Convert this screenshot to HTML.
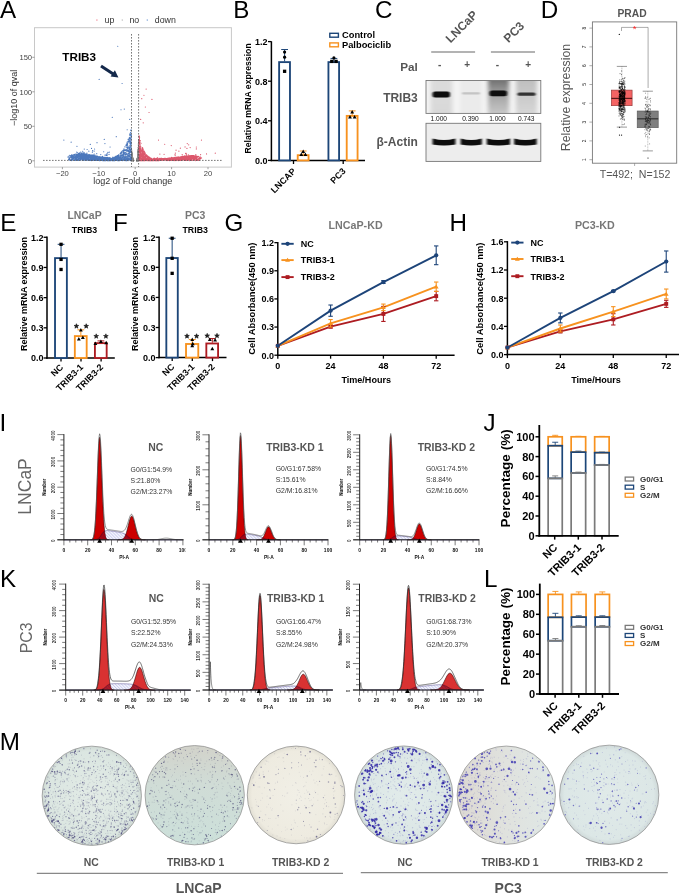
<!DOCTYPE html>
<html><head><meta charset="utf-8"><style>
html,body{margin:0;padding:0;background:#fff;}
body{width:685px;height:893px;overflow:hidden;}
svg{display:block;font-family:"Liberation Sans",sans-serif;will-change:transform;}
</style></head><body>
<svg width="685" height="893" viewBox="0 0 685 893">
<rect width="685" height="893" fill="#fff"/>
<text x="0" y="17.5" font-size="24.2" fill="#000" text-anchor="start">A</text>
<text x="233.2" y="18.4" font-size="24.2" fill="#000" text-anchor="start">B</text>
<text x="375" y="18.2" font-size="24.2" fill="#000" text-anchor="start">C</text>
<text x="540.8" y="18.2" font-size="24.2" fill="#000" text-anchor="start">D</text>
<text x="0.2" y="231.2" font-size="24.2" fill="#000" text-anchor="start">E</text>
<text x="112.9" y="230.8" font-size="24.2" fill="#000" text-anchor="start">F</text>
<text x="224.6" y="230.9" font-size="24.2" fill="#000" text-anchor="start">G</text>
<text x="449.5" y="231.2" font-size="24.2" fill="#000" text-anchor="start">H</text>
<text x="-0.6" y="431.4" font-size="24.2" fill="#000" text-anchor="start">I</text>
<text x="483.5" y="431.4" font-size="24.2" fill="#000" text-anchor="start">J</text>
<text x="-0.1" y="586.8" font-size="24.2" fill="#000" text-anchor="start">K</text>
<text x="484" y="587" font-size="24.2" fill="#000" text-anchor="start">L</text>
<text x="-0.3" y="749.7" font-size="24.2" fill="#000" text-anchor="start">M</text>
<rect x="34.5" y="27.7" width="196.9" height="139.4" fill="#fff" stroke="#c8c8c8" stroke-width="1"/>
<path d="M136.86 160.65h0.01M137.35 159.22h0.01M138 149.49h0.01M137.7 156.99h0.01M132.69 157.43h0.01M133.11 160.44h0.01M138.28 152.1h0.01M138.78 139.71h0.01M138.35 156.75h0.01M137.36 160.28h0.01M132.02 156.03h0.01M133.09 159.71h0.01M132.74 160.39h0.01M137.54 159.77h0.01M138.56 139.4h0.01M136.99 160.31h0.01M133.03 159.75h0.01M132.95 159.18h0.01M138.4 142.43h0.01M137.97 150.02h0.01M138.15 158.96h0.01M132.54 160.3h0.01M133.03 160.65h0.01M138.02 152.6h0.01M132.52 160.04h0.01M133.29 160.49h0.01M133.43 160.6h0.01M138.56 153.72h0.01M137.19 159.1h0.01M138.38 160.26h0.01M132.86 159.49h0.01M132.99 160.39h0.01M138 159.71h0.01M138.47 145.44h0.01M137.97 156.49h0.01M131.84 154.47h0.01M132.69 159.68h0.01M131.89 153.98h0.01M131.87 152.54h0.01M132.02 159.9h0.01M137.28 160.63h0.01M137.43 157.14h0.01M132.43 160.42h0.01M133.3 160.55h0.01M137.17 158.98h0.01M132.41 156.36h0.01M132.05 160.61h0.01M137.74 159.56h0.01M132.83 160.38h0.01M137.09 160.25h0.01M132.7 159.95h0.01M132.98 159.75h0.01M132.05 155.33h0.01M138.14 153.48h0.01M132.49 158.27h0.01M132.77 159.27h0.01M131.8 157.39h0.01M132.65 158.74h0.01M137.07 160.1h0.01M138.61 141.42h0.01M137.66 155.02h0.01M137.97 159.58h0.01M137.41 157.52h0.01M137.8 152.08h0.01M131.6 156.68h0.01M137.29 160.21h0.01M133.01 160.45h0.01M137.71 160.07h0.01M137.29 160.23h0.01M138.73 158.54h0.01M137.49 158.04h0.01M138.44 160.3h0.01M138.14 156.34h0.01M133.33 160.56h0.01M137.7 159.13h0.01M138.33 156.95h0.01M132.96 159.4h0.01M131.8 155.42h0.01M132.66 158.5h0.01M131.65 151.73h0.01M138.67 157.24h0.01M133.23 160.48h0.01M138.66 139.64h0.01M132.76 157.66h0.01M137.01 160.48h0.01M137.03 160.51h0.01M137 160.57h0.01M133.1 160h0.01M137.97 156.52h0.01M132.11 154.21h0.01M133.35 160.35h0.01M138.24 160.66h0.01M133.22 159.82h0.01M138.28 145.18h0.01M132.3 155.15h0.01M137.48 159.67h0.01M131.93 159.04h0.01M132.7 159.89h0.01M133.32 160.52h0.01M131.58 155.01h0.01M132.68 160.63h0.01M137.6 157.75h0.01M133.24 159.88h0.01M136.97 160.19h0.01M132.65 159.45h0.01M138.5 157.62h0.01M137.75 152.27h0.01M131.57 157.06h0.01M138.65 150.55h0.01M137.16 160.25h0.01M136.93 160.39h0.01M138.16 152.18h0.01M137.48 157.67h0.01M132.99 160.18h0.01M131.76 155.75h0.01M132.12 159.1h0.01M132.39 155.31h0.01M137.74 158.12h0.01M137.21 159.71h0.01M138.14 159.05h0.01M131.74 158.56h0.01M132.39 157.97h0.01M133.07 160.13h0.01M137.98 151.86h0.01M138.6 150.23h0.01M133.05 160.23h0.01M131.63 149.08h0.01M132.06 153.33h0.01M132.38 158.77h0.01M137.27 157.95h0.01M131.73 159.18h0.01M132.1 156.49h0.01M138.64 156.4h0.01M137.66 158.44h0.01M131.67 159.1h0.01M138.72 150.34h0.01M138.84 155.22h0.01M132.78 158.63h0.01M137.97 157.79h0.01M137.92 150.7h0.01M137.67 156.32h0.01M137.85 154.8h0.01M136.84 160.66h0.01M136.89 160.58h0.01M138.23 158.96h0.01M132.41 158.85h0.01M132.52 158.4h0.01M132.88 159.08h0.01M132.06 160.55h0.01M137.49 159.05h0.01M137.63 160.54h0.01M132.58 156.78h0.01M137.95 158.69h0.01M132.85 158.82h0.01M131.73 158.61h0.01M137.3 159.74h0.01M138.06 160.56h0.01M133.34 160.37h0.01M132.13 158.43h0.01M138.79 136.77h0.01M138.31 160.47h0.01M136.97 160.35h0.01M137.09 159.93h0.01M132.18 157.15h0.01M131.99 160.4h0.01M137.5 159.56h0.01M137.09 160.56h0.01M138.37 144.38h0.01M136.94 160.57h0.01M138.2 156.7h0.01M136.9 160.52h0.01M137.86 154.79h0.01M137.98 150.05h0.01M138.27 156.24h0.01M138.51 157.07h0.01M131.77 151.41h0.01M137.2 159.8h0.01M137.46 158.99h0.01M138.58 157.11h0.01M132.27 156.94h0.01M132.04 153.72h0.01M136.97 160.31h0.01M132.54 157.07h0.01M138.38 153.41h0.01M138.82 156.33h0.01M137.51 158.8h0.01M137.78 158.41h0.01M133.05 159.5h0.01M133.1 159.59h0.01M137.22 158.44h0.01M133.45 160.6h0.01M137.36 160.48h0.01M138.66 144.68h0.01M132.31 159.53h0.01M137.56 159.43h0.01M138.47 145.43h0.01M137.31 159h0.01M137.45 158.95h0.01M137.71 159.12h0.01M133.16 159.8h0.01M137.47 158.67h0.01M132.97 159.53h0.01M137.34 159.65h0.01M131.65 152.26h0.01M132.35 160.53h0.01M137.04 160.49h0.01M137.32 158.76h0.01M138.34 149.9h0.01M136.9 160.59h0.01M133.37 160.47h0.01M132.86 160.44h0.01M133.33 160.48h0.01M138.41 153.45h0.01M133.17 160.1h0.01M132.33 159.87h0.01M132.94 160.19h0.01M132.33 158.53h0.01M138.07 156.58h0.01M137.4 159.19h0.01M132.01 159.93h0.01M137.56 160.34h0.01M138.49 149.94h0.01M132.89 158.92h0.01M132.33 160.44h0.01M132.8 158.47h0.01M133.51 160.62h0.01M132.64 158.34h0.01M132.29 156.56h0.01M137.97 155.14h0.01M132.5 159.69h0.01M132.61 158.09h0.01M137.84 154.85h0.01M133.53 160.66h0.01M132.7 158.47h0.01M132.36 159.22h0.01M133.14 159.69h0.01M132.69 159.36h0.01M133.03 159.91h0.01M137.02 160.01h0.01M131.78 152.73h0.01M132.94 160.44h0.01M138.73 159.59h0.01M137.81 157.36h0.01M137.27 160.26h0.01M138.07 155.76h0.01M132.01 158.88h0.01M131.94 153.05h0.01M132.68 157.91h0.01M138.53 140.58h0.01M137.16 160.24h0.01M137.56 160.6h0.01M132.96 159.73h0.01M137.26 158.57h0.01M138.15 147.7h0.01M133.16 160.61h0.01M137.96 160.29h0.01M137.26 160.28h0.01M133.1 160.07h0.01M132.17 154.01h0.01M132.14 158.02h0.01M137.22 160h0.01M138.78 159.91h0.01M132.83 160.45h0.01M133.27 160.58h0.01M131.73 160.26h0.01M132.72 158.7h0.01M132.59 159.66h0.01M138.62 148.09h0.01M133.41 160.63h0.01M138.46 153.63h0.01M132.84 158.73h0.01M136.89 160.62h0.01M138.14 157.8h0.01M136.89 160.66h0.01M138.19 152.79h0.01M133 159.92h0.01M132.46 160.66h0.01M133.38 160.65h0.01M132.9 160.63h0.01M138.43 142.11h0.01M132.73 158.95h0.01M132.57 157.7h0.01M137.37 158.37h0.01M132.38 158.32h0.01M133.09 160.59h0.01M138.31 159.02h0.01M137.6 156.35h0.01M137.71 154.01h0.01M132.32 159.82h0.01M138.05 148.98h0.01M132.1 153.73h0.01M137.98 157.35h0.01M138.54 146.47h0.01M133.17 160.63h0.01M137.11 160.65h0.01M133.39 160.42h0.01M133.16 160.12h0.01M132.94 159.97h0.01M133.26 160.2h0.01M132.41 157.38h0.01M132.08 157.21h0.01M138.65 156.71h0.01M136.87 160.61h0.01M132.85 160.46h0.01M131.83 156.61h0.01M136.91 160.61h0.01M137.46 160.5h0.01M138.29 144.05h0.01M133.36 160.5h0.01M138.47 152.63h0.01M137.73 152.71h0.01M137.03 160.6h0.01M137.64 154.72h0.01M132.49 156.93h0.01M132.3 155.68h0.01M137.86 160.62h0.01M138.01 158.75h0.01M131.84 152.72h0.01M136.91 160.56h0.01M132.41 155.24h0.01M132.25 160.1h0.01M132.11 156.55h0.01M133.3 160.46h0.01M131.76 156.09h0.01M132.56 160.42h0.01M132.57 160.49h0.01M137.16 159.78h0.01M132.82 160.55h0.01M131.58 155.29h0.01M132.12 160.18h0.01M138.55 147.59h0.01M137.94 155.07h0.01M133.2 160.07h0.01M132.97 160.51h0.01M138.47 152.73h0.01M137.37 159.78h0.01M132.46 156.16h0.01M137.6 156.08h0.01M136.94 160.36h0.01M137.22 160.48h0.01M132.98 159.71h0.01M137.29 159.96h0.01M132.88 160.52h0.01M138.29 155.47h0.01M137.57 157.39h0.01M133.35 160.39h0.01M137.61 156.89h0.01M137.35 158.71h0.01M131.61 152.89h0.01M138.07 158.91h0.01M133.24 160.12h0.01M131.96 159.51h0.01M138.34 145.31h0.01M131.95 157.79h0.01M133.32 160.66h0.01M132.32 160.57h0.01M133.54 160.65h0.01M133.31 160.17h0.01M137.39 158.77h0.01M137.41 158.51h0.01M138.48 142.84h0.01M137.95 151.39h0.01M132.34 157.78h0.01M138.35 145.99h0.01M137 160.53h0.01M137.06 159.79h0.01M137.16 159.68h0.01M138.46 152.13h0.01M136.95 160.66h0.01M132.04 154.07h0.01M133.09 160.49h0.01M133.51 160.66h0.01M138.29 148.81h0.01M132.92 160.27h0.01M138.18 151.66h0.01M133.44 160.56h0.01M137.35 160.57h0.01M138.08 158.99h0.01M137.51 159.29h0.01M132.86 160.6h0.01M131.66 159.49h0.01M138.3 143.67h0.01M133.16 159.91h0.01M137.63 160.13h0.01M136.99 160.4h0.01M131.73 158.82h0.01M138.2 157.68h0.01M138.77 141.41h0.01M138.22 160.5h0.01M137.22 159.05h0.01M133.47 160.59h0.01M133.52 160.64h0.01M133.34 160.43h0.01M138.78 157.11h0.01M138.81 157.46h0.01M132.73 160.41h0.01M137.94 152.52h0.01M136.89 160.65h0.01M133.15 160.38h0.01M138.17 152.53h0.01M133.01 160.31h0.01M133.01 159.25h0.01M131.91 159.42h0.01M137.49 157.33h0.01M138.37 153.21h0.01M132.27 157.32h0.01M133.15 160.51h0.01M132.93 160.35h0.01M138.04 160.41h0.01M132.87 158.69h0.01M137.11 159.84h0.01M137.16 159.75h0.01M138.52 157.42h0.01M131.78 157.58h0.01M132.69 157.85h0.01M133.35 160.33h0.01M132.74 160.27h0.01M132 159.58h0.01M131.61 151.62h0.01M137.11 160.62h0.01M133.28 160.48h0.01M132.96 159.77h0.01M131.86 160.08h0.01M137.03 160.65h0.01M132.61 159.93h0.01M137.84 158.95h0.01M132.4 156.47h0.01M132.64 157.69h0.01M138.15 147.44h0.01M136.84 160.66h0.01M137.94 151.69h0.01M137.74 157.15h0.01M138.13 159.64h0.01M132.05 160.28h0.01M137.73 154.56h0.01M137.8 159.35h0.01M138 156.89h0.01M137.1 159.35h0.01M137.99 151.25h0.01M131.97 157.27h0.01M132.08 154.98h0.01M132.81 160.06h0.01M133.12 159.75h0.01M137.62 159.97h0.01M137.17 159.29h0.01M137.58 160.04h0.01M133.25 160.66h0.01M132.36 157.03h0.01M137.1 159.44h0.01M132.06 160.14h0.01M131.77 150.64h0.01M137.86 160.42h0.01M138.35 147.78h0.01M132.1 160.08h0.01M138.27 152.59h0.01M138.39 159.32h0.01M138.04 156.16h0.01M131.89 160.04h0.01M137.57 156.91h0.01M137.81 159.53h0.01M137.77 157.47h0.01M132.31 154.71h0.01M133.17 160.59h0.01M138.3 158.06h0.01M132.35 157.38h0.01M133.28 160.61h0.01M137.97 152.04h0.01M132.08 153.78h0.01M137.39 158.92h0.01M136.92 160.49h0.01M138.14 157.66h0.01M137.17 159.06h0.01M132.39 155.46h0.01M131.89 159.7h0.01M132.4 159.08h0.01M138.77 154.18h0.01M138.73 150.84h0.01M137.53 155.42h0.01M137.85 160.6h0.01M132.71 157.92h0.01M131.82 153.64h0.01M137.9 159.92h0.01M137.69 155.74h0.01M138.69 141.38h0.01M132.39 159.28h0.01M137.96 160.29h0.01M138.54 160.56h0.01M132.32 158.51h0.01M131.83 151.95h0.01M136.88 160.63h0.01M137.46 159.28h0.01M131.86 153.44h0.01M138.24 159.12h0.01M136.98 160.58h0.01M137.77 159.52h0.01M132.98 158.92h0.01M132.04 160h0.01M132.01 157.94h0.01M132.89 160.28h0.01M132.4 160.12h0.01M131.74 160.65h0.01M138.74 150.82h0.01M137.61 159.24h0.01M132.42 159.43h0.01M131.87 159.89h0.01M132.22 160.31h0.01M138.44 152.42h0.01M137.84 154h0.01M137.94 159.15h0.01M132.95 160.09h0.01M131.73 159.49h0.01M137.89 152.13h0.01M138.34 158.06h0.01M138.37 151.22h0.01M137.91 157.12h0.01M137.11 159.39h0.01M138.39 160.3h0.01M133.41 160.54h0.01M136.92 160.62h0.01M138.29 158.84h0.01M133.55 160.66h0.01M132.52 157.06h0.01M137.04 160.42h0.01M132.59 156.8h0.01M137.09 160.51h0.01M137 160.34h0.01M137.22 159.85h0.01M137.45 159.04h0.01M137.22 158.72h0.01M138.1 152.31h0.01M137.13 160.42h0.01M138.33 147.35h0.01M138.83 159.14h0.01M132.74 158.33h0.01M131.72 155.19h0.01M137.98 158.49h0.01M132.03 154.28h0.01M132.99 159.79h0.01M132.12 156.15h0.01M137 160.6h0.01M131.76 159.44h0.01M133 159h0.01M138.55 154.54h0.01M132.12 156.97h0.01M138.5 156.76h0.01M137.58 157.46h0.01M132.16 155.55h0.01M132.87 158.28h0.01M138.74 160.35h0.01M138.47 154.05h0.01M137.49 159.65h0.01M137.01 160.4h0.01M132.93 158.83h0.01M136.98 160.27h0.01M138.34 149.95h0.01M131.8 158.11h0.01M138.25 157.11h0.01M136.87 160.62h0.01M133.21 160.64h0.01M131.69 157.95h0.01M133.28 160.43h0.01M137.86 157.86h0.01M131.66 156.52h0.01M136.89 160.54h0.01M132.45 156.58h0.01M131.69 159.22h0.01M133.04 159.6h0.01M138.74 144.52h0.01M138.48 159.9h0.01M137.26 160.58h0.01M132.88 160.41h0.01M131.86 160.23h0.01M137.75 153.78h0.01M132.27 160.45h0.01M138.51 155.66h0.01M137.54 157.27h0.01M138.44 148.63h0.01M138.66 141.57h0.01M131.96 155.55h0.01M138.51 158.12h0.01M138.43 152.57h0.01M138.79 151.86h0.01M131.89 155.92h0.01M137.9 155.66h0.01M137.12 159.26h0.01M131.91 152.39h0.01M137.07 160.57h0.01M138.6 159.02h0.01M132.28 158.64h0.01M136.96 160.52h0.01M138.02 157.08h0.01M131.57 158.57h0.01M137.24 159.14h0.01M132.38 160.02h0.01M133.56 160.66h0.01M132.63 159.09h0.01M132.4 158.82h0.01M137.06 160.46h0.01M138.4 142.88h0.01M132.52 160.65h0.01M137.92 160.62h0.01M132.56 159h0.01M131.67 158.02h0.01M131.77 155.24h0.01M132.62 158.11h0.01M132.56 158.2h0.01M137.46 156.88h0.01M138.39 146.25h0.01M137.87 151.49h0.01M133.38 160.57h0.01M137.24 160.42h0.01M138.81 160.3h0.01M138.4 154.37h0.01M133.43 160.57h0.01M138.3 154.36h0.01M132.74 158.58h0.01M137.67 159.05h0.01M138.8 158.06h0.01M136.89 160.56h0.01M133.45 160.6h0.01M137.54 157.57h0.01M137.04 160.46h0.01M138.21 151.13h0.01M132.84 160.09h0.01M137.51 159.1h0.01M138.61 144.95h0.01M138.81 150.86h0.01M133.56 160.66h0.01M137.75 160.09h0.01M137.69 156.56h0.01M131.87 158.41h0.01M131.96 157.1h0.01M133.08 160.55h0.01M132.61 158.15h0.01M131.97 160.07h0.01M132.32 156.14h0.01M132.24 156.12h0.01M131.64 149.37h0.01M138.21 157.63h0.01M138.42 146.49h0.01M137.41 159.37h0.01M136.97 160.61h0.01M138.49 140.26h0.01M138.02 152.18h0.01M131.69 155.93h0.01M132.47 156.62h0.01M138.31 158.35h0.01M137.82 152.35h0.01M132.49 158.96h0.01M131.93 158.04h0.01M138.45 156.11h0.01M136.96 160.5h0.01M131.63 155.65h0.01M131.79 156.75h0.01M138.14 151h0.01M138.71 160.16h0.01M137.63 157.46h0.01M132.25 156.38h0.01M132.62 160.07h0.01M137.88 160.66h0.01M137.23 158.29h0.01M137.43 159h0.01M132.97 160.02h0.01M131.79 155.29h0.01M137.3 160.4h0.01M132.84 160.47h0.01M136.98 160.37h0.01M132.69 158.12h0.01M132.86 159.33h0.01M137.29 158.93h0.01M137.06 160.14h0.01M138.22 159.79h0.01M138.39 142.48h0.01M133.35 160.56h0.01M132.72 159.88h0.01M137.6 160.33h0.01M131.78 156.51h0.01M138.21 151.33h0.01M133.2 160.09h0.01M133.22 160.65h0.01M131.62 149.51h0.01M137.16 158.94h0.01M133.36 160.66h0.01M137.25 159.91h0.01M137.31 159.41h0.01M131.88 160.33h0.01M137.79 159.64h0.01M138.68 155.52h0.01M138.54 151.37h0.01M133.33 160.6h0.01M137 160.05h0.01M132.92 160.59h0.01M137.45 160.6h0.01M131.77 158h0.01M137.26 160.04h0.01M138.82 148.33h0.01M131.71 150.76h0.01M136.85 160.66h0.01M138.58 152.09h0.01M137.72 156.15h0.01" stroke="#8c8c8c" stroke-width="1.0" stroke-linecap="round" fill="none"/>
<path d="M97.43 159.79h0.01M111.58 158.95h0.01M112.92 157.12h0.01M111.81 160.26h0.01M80.25 159.52h0.01M86.91 154.29h0.01M94.56 149.01h0.01M98.89 159.87h0.01M98.08 157.03h0.01M88.3 156.39h0.01M89.36 159.3h0.01M85.34 157.34h0.01M88.18 157.5h0.01M81.52 155.44h0.01M88.52 157.1h0.01M83.8 158.24h0.01M108.07 159.18h0.01M105.89 155.09h0.01M82.61 156.25h0.01M97.85 157.48h0.01M88.35 157.5h0.01M74.07 157.35h0.01M112.66 158.55h0.01M68.88 156.35h0.01M94.98 155.07h0.01M104.94 155.07h0.01M107.31 159.7h0.01M78.28 159.87h0.01M89.31 155.19h0.01M78.63 158.38h0.01M96.02 156.42h0.01M105.95 159.92h0.01M101.49 158.7h0.01M100.1 160.57h0.01M95.61 157.75h0.01M85.04 156.71h0.01M85.47 160.09h0.01M82.06 154.26h0.01M94.73 158.44h0.01M86.7 160.05h0.01M102.72 159.92h0.01M113.46 160.59h0.01M109.25 152.22h0.01M87.31 159.42h0.01M96.47 158.75h0.01M79.31 153.63h0.01M91.46 159.99h0.01M96.66 159.22h0.01M105.32 160.48h0.01M89.99 159.55h0.01M116.52 158.93h0.01M78.66 155.55h0.01M95.71 159.65h0.01M89.85 155.87h0.01M102 157.66h0.01M79.15 154.82h0.01M83.46 158.7h0.01M96.15 159.27h0.01M100.26 157.82h0.01M92.73 155.6h0.01M73.28 158.09h0.01M101.81 159.77h0.01M87.01 154.6h0.01M91.61 156.84h0.01M110.54 158.57h0.01M81.97 155.08h0.01M104.35 157.9h0.01M81.28 153.67h0.01M94.39 155.86h0.01M104.83 160.08h0.01M76.57 154.97h0.01M80.26 153.66h0.01M96.35 157.91h0.01M118.65 157.58h0.01M90.04 155.07h0.01M78.27 154.73h0.01M100.6 159.33h0.01M88.15 158.72h0.01M107.2 157.7h0.01M92.35 157.29h0.01M93.68 155.86h0.01M89.87 155.29h0.01M104.09 160.57h0.01M104.69 158.91h0.01M89.09 158.37h0.01M89.12 155.7h0.01M88.96 158.84h0.01M82.34 156.71h0.01M82.77 153.99h0.01M87.36 157.07h0.01M84.97 157.13h0.01M91.66 155.39h0.01M78.04 154h0.01M88.99 154.79h0.01M106.81 160.12h0.01M111.57 159.8h0.01M85.67 155.05h0.01M105.74 158.19h0.01M106.44 157.73h0.01M102.17 157.24h0.01M91.35 155.08h0.01M105.32 159.06h0.01M96.81 159.55h0.01M84.04 160.38h0.01M92.97 160.45h0.01M87.01 156.98h0.01M70.21 156.06h0.01M109.01 154.46h0.01M99.74 159.96h0.01M76.2 154.95h0.01M106.05 157.61h0.01M84.73 155.76h0.01M93.51 160.11h0.01M86.7 155.13h0.01M78.99 159.98h0.01M92.5 158.58h0.01M75.29 158.58h0.01M90.03 158.98h0.01M105.32 160.37h0.01M97.93 159.11h0.01M98.87 158.38h0.01M96.49 160.47h0.01M118.44 158.26h0.01M103.74 158.87h0.01M108.9 158.05h0.01M91.09 155.81h0.01M90.7 156.51h0.01M96.66 156.74h0.01M86.65 157.64h0.01M113.28 160.15h0.01M83.42 158.48h0.01M110.57 158.08h0.01M85.64 158.38h0.01M98.74 158.53h0.01M92.78 159h0.01M71.69 157.16h0.01M72.37 158.49h0.01M122.74 159.18h0.01M90.83 159.25h0.01M120.96 159.62h0.01M94.46 159.06h0.01M101.52 158.35h0.01M83.09 155.66h0.01M77.91 157.62h0.01M70.26 159.58h0.01M86.44 160.19h0.01M77.26 156.05h0.01M80.84 159.39h0.01M90.77 155.75h0.01M80.27 156.24h0.01M85.27 155.56h0.01M115.95 160.12h0.01M109 158.01h0.01M86.9 156.25h0.01M91.28 160.56h0.01M83.17 156.72h0.01M85.97 160h0.01M100.59 160.23h0.01M83.8 158.86h0.01M71.36 157.5h0.01M91.63 156.69h0.01M87.22 156.2h0.01M106.16 159.66h0.01M98.25 157.83h0.01M99.82 157.83h0.01M85.49 158.31h0.01M92.12 157.87h0.01M77.17 158.98h0.01M74.66 160.42h0.01M80.53 153.73h0.01M99.83 159.63h0.01M102.62 158.48h0.01M90.13 154.99h0.01M80.52 156.75h0.01M84.64 158.68h0.01M91.38 158.06h0.01M92.6 158.78h0.01M96.61 158.98h0.01M122.31 158.02h0.01M107.93 157.7h0.01M76.75 158.34h0.01M94.71 155.68h0.01M95.94 158.41h0.01M113.91 160.24h0.01M99.07 156.74h0.01M99.96 158.45h0.01M95.45 156.01h0.01M80.85 155.91h0.01M74.36 156.86h0.01M113.79 158.49h0.01M83.02 155.75h0.01M113.84 157.99h0.01M91.86 158.51h0.01M83.48 153.54h0.01M86.07 158.28h0.01M94.65 159.61h0.01M102.77 157.46h0.01M102.15 157.39h0.01M92.63 159.69h0.01M110.07 159.46h0.01M101.21 159.5h0.01M77.51 155.25h0.01M93.93 157.76h0.01M96.84 160.22h0.01M72.18 159.66h0.01M86.84 154.79h0.01M99.72 159.46h0.01M92.78 155.53h0.01M78.21 156.11h0.01M77.07 157.07h0.01M123.65 159.13h0.01M80.3 154.46h0.01M100.76 160.08h0.01M90.18 156.46h0.01M84.05 155.7h0.01M92.37 152.2h0.01M101.53 157.23h0.01M98.28 159.93h0.01M86.65 155.76h0.01M111.77 158.99h0.01M94.89 159.33h0.01M119.45 159.52h0.01M72.96 156.46h0.01M91.75 159.11h0.01M72.82 156.13h0.01M117.32 158.98h0.01M93.7 159.09h0.01M75.38 157.43h0.01M93.68 156.97h0.01M81.42 155.18h0.01M102.91 157.27h0.01M80.53 158.7h0.01M82.75 158.2h0.01M91.06 159.35h0.01M93.81 157.07h0.01M106.23 159.21h0.01M71.53 159.37h0.01M94.69 156.13h0.01M83.69 153.39h0.01M97.21 159.62h0.01M83.24 160.27h0.01M95.25 158.61h0.01M104.87 160.58h0.01M96.31 156.17h0.01M72.49 159.12h0.01M80.46 154.67h0.01M113.81 159.17h0.01M75.73 159.08h0.01M77 160.3h0.01M80.85 154.89h0.01M112.48 157.98h0.01M83.21 154.06h0.01M99.66 156.77h0.01M100.12 157.71h0.01M99.51 160.57h0.01M75.91 156.15h0.01M116.93 159.79h0.01M73.14 154.67h0.01M100.64 158.82h0.01M75.2 159.17h0.01M83.5 154.54h0.01M87.51 158.22h0.01M95.9 156.83h0.01M103.32 157.96h0.01M112.28 160.46h0.01M97.35 156.26h0.01M69.81 158.92h0.01M109.63 158.99h0.01M92.74 159.16h0.01M87.12 155.99h0.01M79.4 155.74h0.01M79.66 158.26h0.01M95.47 156.96h0.01M100.81 159.53h0.01M77.66 156.36h0.01M94.59 155.69h0.01M101.59 157.61h0.01M69.29 159.91h0.01M80.56 154.55h0.01M114.8 159.65h0.01M103.74 157.31h0.01M75.06 157.91h0.01M92.66 159.02h0.01M74 159.75h0.01M87.13 158.93h0.01M106.54 159.83h0.01M87.75 156.23h0.01M119.25 159.45h0.01M103.98 159.42h0.01M81.49 156.45h0.01M109.26 159.28h0.01M86.56 159.82h0.01M84.89 157.42h0.01M98.11 156.5h0.01M88.77 158.15h0.01M78.62 153.64h0.01M103.33 158.04h0.01M120.66 157.66h0.01M80.51 157.45h0.01M92.25 156.78h0.01M86.52 154.43h0.01M87.06 157.9h0.01M106.26 159.56h0.01M75.36 159.7h0.01M81.13 153.71h0.01M107.49 157.62h0.01M91.5 160.2h0.01M94.9 156.14h0.01M80.34 159.23h0.01M102.05 159.03h0.01M80.15 159.06h0.01M94.45 157.85h0.01M107.73 159.71h0.01M76.98 160.2h0.01M82.86 160.21h0.01M108.09 158.64h0.01M86.92 158.31h0.01M88.27 157.68h0.01M92.74 154.75h0.01M91.27 159.08h0.01M82.06 157.05h0.01M91.82 159.86h0.01M93.32 159.99h0.01M90.58 160.27h0.01M110.75 158.38h0.01M90.54 160.18h0.01M95.28 156h0.01M78.95 153.62h0.01M80.73 158.98h0.01M91.19 155.21h0.01M105.11 157.94h0.01M112.2 159.49h0.01M105.48 157.64h0.01M80.7 159.36h0.01M75.7 158.97h0.01M90.72 157.86h0.01M105.34 157.51h0.01M77.08 159.2h0.01M108.28 158.85h0.01M95.98 156.46h0.01M88.35 154.99h0.01M68.91 157.24h0.01M81.4 158.44h0.01M88.43 158.1h0.01M92.9 159.49h0.01M113.91 158.26h0.01M86.56 153.99h0.01M85.84 158.06h0.01M106.05 158.51h0.01M90.5 155.38h0.01M101.79 158.15h0.01M96.17 159.98h0.01M101.94 158.41h0.01M102.96 158.36h0.01M106.96 157.61h0.01M106.05 160.2h0.01M78.29 155.01h0.01M100.03 160.52h0.01M88.9 158.2h0.01M92.85 155.62h0.01M100.76 154.54h0.01M94.22 154.01h0.01M119.04 158.77h0.01M106.48 159.84h0.01M90.69 156.76h0.01M104.56 159.44h0.01M113.89 158.08h0.01M84.26 160.52h0.01M83.28 156.98h0.01M92.54 159.2h0.01M101.54 160.4h0.01M83.12 155.41h0.01M84.37 158.4h0.01M93.13 156.38h0.01M99.98 157.96h0.01M102.3 156.45h0.01M101.35 157.79h0.01M83.24 157.96h0.01M97.24 159.37h0.01M86.81 155.82h0.01M70.99 157.67h0.01M84.82 154.4h0.01M83.96 156.23h0.01M102.56 158.35h0.01M76.24 159.02h0.01M75.14 158.08h0.01M116.28 160.42h0.01M86.72 155.78h0.01M112.18 158.83h0.01M80.62 154.68h0.01M112.16 158.1h0.01M74.1 159.74h0.01M108.49 160.45h0.01M80.84 155.89h0.01M86.79 158.43h0.01M109.52 158.25h0.01M97.63 157.56h0.01M99.2 157.59h0.01M97.56 156.36h0.01M79.2 154.21h0.01M93.11 156.45h0.01M84.6 156.5h0.01M78.71 159.79h0.01M104.81 160.58h0.01M82.69 151.24h0.01M91.2 156.03h0.01M91.1 158.42h0.01M100.2 156.91h0.01M102.42 158.09h0.01M108.64 158.56h0.01M81.77 155.44h0.01M86.89 157.98h0.01M94.64 156.15h0.01M77.44 160.34h0.01M100.08 157.04h0.01M95.22 156.28h0.01M92.25 157.55h0.01M83.01 155.74h0.01M97.31 159.77h0.01M85.89 155.35h0.01M93.03 156.44h0.01M107.53 159.03h0.01M101.27 159.76h0.01M84.64 154.46h0.01M105.65 159.67h0.01M90.19 159.47h0.01M103.75 157.3h0.01M109.23 157.67h0.01M95.03 155.81h0.01M83.67 157.18h0.01M86.6 159.7h0.01M94.88 160.36h0.01M81.65 155.47h0.01M86.76 157.27h0.01M87.62 157.74h0.01M76.4 157.41h0.01M83.14 157.29h0.01M84.04 154.14h0.01M84.74 154.42h0.01M86.49 157.3h0.01M86.88 159.78h0.01M81.97 155.33h0.01M100.69 158.85h0.01M87.08 157.65h0.01M75.06 159.17h0.01M82.12 157.54h0.01M71.48 160.28h0.01M105.36 157.98h0.01M90.28 159.85h0.01M89.58 156.16h0.01M86.56 154.94h0.01M94.06 155.79h0.01M85.22 157.57h0.01M107.77 157.52h0.01M113.05 159.73h0.01M118.84 159.17h0.01M84.8 157.81h0.01M101.93 157.88h0.01M90.03 159.1h0.01M94.74 159.38h0.01M82.18 154.68h0.01M91.96 157.36h0.01M72.53 158.22h0.01M80.58 154.7h0.01M98.68 158.17h0.01M79.96 157.82h0.01M99.88 158.96h0.01M93.48 155.05h0.01M99.26 159.45h0.01M91.61 158.03h0.01M85.97 157.85h0.01M79.07 160.06h0.01M76.52 155.12h0.01M80.06 155.88h0.01M73.54 156.32h0.01M109.25 160.07h0.01M82.19 157.84h0.01M76.62 155.05h0.01M77.31 156.17h0.01M85.7 154.36h0.01M79.75 158.96h0.01M89.91 156.08h0.01M77.74 156.51h0.01M101.45 159.98h0.01M112.87 159.19h0.01M91.21 157.61h0.01M78.68 160.52h0.01M92.01 157.36h0.01M79.67 157.69h0.01M72.82 160h0.01M86.65 160.32h0.01M85.28 154.03h0.01M70.66 157.48h0.01M76.97 160.26h0.01M86.97 158.1h0.01M95.73 158.18h0.01M82.4 158.83h0.01M93.62 157.58h0.01M98.75 157.09h0.01M90.79 158.83h0.01M71.44 156.6h0.01M97.14 159.01h0.01M88.15 156.4h0.01M114.84 158.46h0.01M89.44 160.19h0.01M120.56 159.87h0.01M87.47 156.15h0.01M76.29 156.24h0.01M86.93 155.82h0.01M85.33 158.86h0.01M92.35 156.39h0.01M104.19 160.42h0.01M76.05 155.99h0.01M80.42 154.9h0.01M100.32 159.28h0.01M97.65 158.55h0.01M74.82 160.12h0.01M114.92 160.17h0.01M88.49 154.81h0.01M118.67 159.28h0.01M74.56 154.26h0.01M93.98 159.95h0.01M102.54 159.95h0.01M85.24 159.54h0.01M110.27 157.99h0.01M117.99 158.32h0.01M83.67 153.86h0.01M84.32 154.31h0.01M110.58 158.66h0.01M92.26 155.54h0.01M72.49 156.05h0.01M86.22 154.94h0.01M97.97 157.36h0.01M78.77 155.36h0.01M88.51 157.62h0.01M106.32 157.98h0.01M86.39 156.15h0.01M94.98 156.68h0.01M81.89 156.31h0.01M112.66 157.85h0.01M80.23 157.98h0.01M71.17 155.68h0.01M98.07 158.6h0.01M95.32 157.18h0.01M77.05 154.9h0.01M122.34 159.59h0.01M88.14 155.33h0.01M114.58 158.19h0.01M78.48 156.38h0.01M79.21 154.82h0.01M76.07 158h0.01M89.17 155.64h0.01M83.11 153.85h0.01M87.53 156.04h0.01M102.84 159.59h0.01M81.63 157.05h0.01M81.06 154.97h0.01M88.36 154.91h0.01M90.2 157.6h0.01M103.76 159.83h0.01M84.71 157.73h0.01M94.35 157.84h0.01M114.32 157.78h0.01M108.91 158.58h0.01M105.64 158.55h0.01M90.28 144.39h0.01M78.54 156.95h0.01M100.15 157.49h0.01M73.94 155.61h0.01M72.57 158.05h0.01M104.22 157.42h0.01M78.32 157.14h0.01M76.29 160.02h0.01M94.54 159.86h0.01M100.35 158.29h0.01M73.17 156.28h0.01M92.69 159.58h0.01M69.15 158.23h0.01M96.29 156.38h0.01M79.82 160.14h0.01M84.44 155.73h0.01M113.14 160.11h0.01M74.45 156.07h0.01M88 155.64h0.01M97.43 159.3h0.01M91.55 159.48h0.01M106.43 153.98h0.01M103.44 160.42h0.01M102.12 157.29h0.01M77.43 159.42h0.01M109.59 157.79h0.01M86.88 157.35h0.01M80.4 156.96h0.01M106.45 155.45h0.01M89.18 159.53h0.01M99.93 158.83h0.01M99.71 157.2h0.01M104.95 158.86h0.01M76.67 159.62h0.01M113.03 158.08h0.01M102.6 158.82h0.01M100.33 159.68h0.01M69.28 155.31h0.01M109.54 159.61h0.01M112.97 158.5h0.01M71.03 160.45h0.01M96.73 153.66h0.01M90.04 159.3h0.01M76.17 158.88h0.01M106.75 159.91h0.01M84.38 158.92h0.01M110.33 158.71h0.01M99.59 159.63h0.01M84.5 154.64h0.01M103.06 160.3h0.01M94.14 151.11h0.01M96.96 156.75h0.01M91.15 160.46h0.01M91.71 155.74h0.01M103.93 157.75h0.01M105.2 159.25h0.01M121.07 158.79h0.01M90.4 159.73h0.01M80.67 154.38h0.01M84.39 157.57h0.01M112.61 158.11h0.01M91.09 157.51h0.01M89.7 160.41h0.01M101.97 159.83h0.01M100.67 157.09h0.01M84.77 155.8h0.01M88.46 157.11h0.01M109.15 157.92h0.01M114.25 160.17h0.01M90.89 158.79h0.01M94.23 159.76h0.01M78.77 159.35h0.01M83.23 159.18h0.01M74.57 157.84h0.01M79.71 156.65h0.01M74.31 155.5h0.01M101.15 159.21h0.01M70.72 155.89h0.01M80.73 151.98h0.01M73.05 154.8h0.01M93.63 157.2h0.01M89.91 160.06h0.01M90.76 160.42h0.01M71.98 155.85h0.01M86.74 155.09h0.01M77.64 160.26h0.01M99.96 157.83h0.01M89.54 155.01h0.01M100.66 158.49h0.01M73.61 158.55h0.01M86.32 159.59h0.01M73.2 157.2h0.01M92.06 157.51h0.01M107.67 160.09h0.01M94.2 158.96h0.01M110.3 158.88h0.01M87.43 156.68h0.01M103.12 158.09h0.01M89.35 156.71h0.01M97.99 159.39h0.01M90.51 158.16h0.01M119.14 159.37h0.01M101.24 158.42h0.01M99.1 156.56h0.01M82.34 159.23h0.01M78.29 157.27h0.01M94.9 158.26h0.01M108.69 159.79h0.01M83.5 159.25h0.01M96.27 157.35h0.01M79.27 154.72h0.01M83.49 155.07h0.01M91.76 156.19h0.01M76.01 159.54h0.01M121.18 158.03h0.01M90.99 155.14h0.01M93.78 156.5h0.01M87.51 157.89h0.01M92.35 156.59h0.01M94.79 157.71h0.01M97.51 157.06h0.01M90.93 157.87h0.01M98.27 159.85h0.01M88.3 159.89h0.01M97.43 156.82h0.01M72.97 159.12h0.01M76.25 157.61h0.01M91.01 155.36h0.01M89.66 154.64h0.01M90.35 156.47h0.01M96.06 157.67h0.01M73.83 156.16h0.01M109.44 159.35h0.01M88.93 156.87h0.01M72.48 157.43h0.01M86.99 154.02h0.01M89.93 155.68h0.01M97.67 156.32h0.01M90.5 159.8h0.01M85.06 154.69h0.01M77.46 157.42h0.01M98.88 158.34h0.01M103.82 159.87h0.01M87.64 158.07h0.01M86.64 160.21h0.01M81.78 158.13h0.01M121.33 159.47h0.01M88.16 156.2h0.01M90.99 157.28h0.01M86.34 156.77h0.01M88.52 157.79h0.01M105.6 158.06h0.01M109.35 159.98h0.01M80.4 156.05h0.01M112.52 160.54h0.01M97.47 157.34h0.01M104.86 159.59h0.01M76.63 156.39h0.01M92.64 150.71h0.01M88.27 154.53h0.01M87.13 149.5h0.01M79.06 158.12h0.01M80.69 158.17h0.01M72.87 157.34h0.01M101.03 159h0.01M102.08 159.37h0.01M91.44 156.1h0.01M104.63 159.28h0.01M71.8 158.65h0.01M108.29 158.84h0.01M94.32 160.16h0.01M80.29 157.84h0.01M103.65 159.51h0.01M115.46 158.59h0.01M105.65 158.22h0.01M99.78 157.23h0.01M92.87 156.11h0.01M105.45 159.32h0.01M95.32 155.97h0.01M73.6 157.21h0.01M92.54 159.74h0.01M100.19 157.07h0.01M95.66 159.25h0.01M102.53 157.55h0.01M90.49 157.27h0.01M82.35 157.56h0.01M88.73 158.43h0.01M110.44 159.97h0.01M97.55 157.57h0.01M88.91 158.14h0.01M98.57 160.23h0.01M101.83 160.04h0.01M99.21 158.8h0.01M82.24 154.2h0.01M107.13 155.67h0.01M85.84 157.91h0.01M85.98 155.64h0.01M79.41 157.85h0.01M104.17 160.12h0.01M83.65 155.13h0.01M105.29 159.83h0.01M95.17 160.33h0.01M86.59 159.17h0.01M88.65 156h0.01M93.17 156.89h0.01M122.81 157.74h0.01M99.03 160.35h0.01M87.51 160.18h0.01M108.55 158.11h0.01M76.03 155.41h0.01M84.91 157.53h0.01M80.17 158.34h0.01M73.95 157.67h0.01M85 155.21h0.01M86.89 153.22h0.01M93.4 157.77h0.01M107.42 153.95h0.01M81.09 158.47h0.01M72.01 156.62h0.01M100.7 160.3h0.01M94.01 159.4h0.01M106.85 158.27h0.01M101.27 159.57h0.01M92.81 155.62h0.01M98.47 156.83h0.01M88.87 158.3h0.01M89.35 155.88h0.01M85.76 156.25h0.01M82.55 154.53h0.01M98.9 158.95h0.01M112.69 159.7h0.01M84.69 157.13h0.01M97.41 158.37h0.01M104.94 143.57h0.01M83.1 159.82h0.01M70.84 157.17h0.01M91.29 157.96h0.01M89.51 160.51h0.01M86.4 156.17h0.01M86.17 158.63h0.01M106.71 160.47h0.01M79.72 158.24h0.01M86.59 154.84h0.01M104.92 157.95h0.01M83.37 157.96h0.01M80.31 158.06h0.01M89.25 158.12h0.01M101.2 160.38h0.01M86.89 155.06h0.01M76.55 154.11h0.01M90.93 159.52h0.01M88.31 159.94h0.01M105.19 159.02h0.01M110.15 160.43h0.01M103.67 151.73h0.01M79.03 154.95h0.01M99.17 157.79h0.01M93.66 158.66h0.01M85.77 154.8h0.01M105.15 159.5h0.01M88.87 158.21h0.01M110.52 159.53h0.01M71.83 155.16h0.01M71.51 154.93h0.01M80.88 160.03h0.01M87.46 158.42h0.01M73.46 157.37h0.01M98.47 158.99h0.01M116.41 159.93h0.01M92.72 160.02h0.01M95.5 157.67h0.01M89.93 157.07h0.01M108.33 159.93h0.01M89.35 159.75h0.01M100.53 160.13h0.01M100.62 158.6h0.01M101.82 158.43h0.01M90.48 157.02h0.01M94.14 160.11h0.01M78.66 156.51h0.01M82.88 159.57h0.01M84.06 159.66h0.01M94.74 159.59h0.01M88.88 155.71h0.01M82.2 160.05h0.01M95.49 160.48h0.01M102.5 159.43h0.01M93.49 155.96h0.01M78.25 156.44h0.01M78.31 159.19h0.01M96.71 157.03h0.01M80.3 159.52h0.01M83.54 153.72h0.01M114.44 158.8h0.01M89.33 155.64h0.01M75.37 155.96h0.01M103.55 158.96h0.01M88.31 159.3h0.01M81.28 159.03h0.01M98.87 157.65h0.01M106.36 157.75h0.01M85.07 154.77h0.01M118.74 159.41h0.01M90.86 155.57h0.01M115.4 159.97h0.01M85.37 157.59h0.01M105.51 157.79h0.01M78.21 156.13h0.01M97.21 159.47h0.01M88.06 160.21h0.01M95.93 158.23h0.01M94.9 155.69h0.01M97.02 160.46h0.01M70.02 160.25h0.01M85.63 158.45h0.01M90.92 158.9h0.01M89.99 154.94h0.01M115.57 158.87h0.01M78.24 155.06h0.01M86.7 157.92h0.01M81.49 154.3h0.01M85.32 158.2h0.01M83.47 156.67h0.01M96.35 157.9h0.01M112.68 159.54h0.01M69.71 157.73h0.01M101 159.58h0.01M106.91 160.56h0.01M92.52 158.02h0.01M98.33 159.74h0.01M98.37 159.13h0.01M89.25 154.88h0.01M75.62 156.5h0.01M104.33 158.55h0.01M96.09 156.9h0.01M78.43 159.97h0.01M76.89 158.43h0.01M117.11 160h0.01M84.61 158.77h0.01M103.16 158.43h0.01M86.3 159.03h0.01M72.6 156.75h0.01M80.94 154.3h0.01M106.84 159.89h0.01M78.09 155.94h0.01M102.55 159.33h0.01M86.27 157.59h0.01M96.86 160.25h0.01M114.22 158.75h0.01M91.11 157.06h0.01M92.16 160.48h0.01M88.84 151.22h0.01M83.97 157.93h0.01M105.63 160.03h0.01M110.14 158.13h0.01M89.65 156.89h0.01M86.03 156.28h0.01M83.41 158.47h0.01M82.65 154.89h0.01M82.32 153.58h0.01M99.39 158.34h0.01M107.15 160.55h0.01M86.09 155.19h0.01M69.53 159.15h0.01M110.13 160.47h0.01M112.71 159.09h0.01M104.16 157.43h0.01M106.05 159.91h0.01M75.61 154.11h0.01M101.04 156.94h0.01M86.65 158.04h0.01M92.28 158.64h0.01M108.79 158.29h0.01M86.38 157.63h0.01M112.72 158.92h0.01M75.75 154.25h0.01M101.95 159.57h0.01M93.21 159.2h0.01M82.8 155.77h0.01M68.62 159.35h0.01M105.6 157.75h0.01M99.89 157.55h0.01M99.2 159.09h0.01M77.32 159.25h0.01M87.81 157.45h0.01M77.73 158.89h0.01M95.96 156.85h0.01M104.14 157.66h0.01M98.54 160.44h0.01M71.51 160.5h0.01M105.96 158.14h0.01M104.9 158.26h0.01M96.79 156.4h0.01M77.77 152.86h0.01M81.61 153.07h0.01M101.57 158.9h0.01M117.62 157.59h0.01M77.94 159.56h0.01M106.89 159.12h0.01M85.19 159.34h0.01M90.89 159.8h0.01M91.04 155.37h0.01M102.4 157.24h0.01M83.74 158.35h0.01M100.01 157.79h0.01M94.14 157.63h0.01M119.42 158.35h0.01M89.48 157.09h0.01M70.57 155.55h0.01M94.47 158.82h0.01M71.66 158.08h0.01M94.07 159.72h0.01M120.86 158.53h0.01M100.47 158.14h0.01M101.13 159.73h0.01M79.57 154.95h0.01M113.78 158.59h0.01M86.35 156.66h0.01M71.79 160.58h0.01M79.11 156.77h0.01M68.51 159.28h0.01M83.34 157.59h0.01M94.68 157.83h0.01M85.44 158.08h0.01M89.51 159.04h0.01M100 157h0.01M84.06 156.56h0.01M102.09 159.99h0.01M89.97 157.3h0.01M80.79 158.64h0.01M80.45 157.08h0.01M80.22 154.21h0.01M114.47 159.4h0.01M80.62 159.52h0.01M100.62 160.1h0.01M81.19 156.64h0.01M110.28 159.31h0.01M84.9 157.14h0.01M81.38 155.05h0.01M85.35 157.76h0.01M101.28 159.09h0.01M95.15 160.46h0.01M88.64 160.12h0.01M84.17 158.33h0.01M101.08 157.44h0.01M86.65 154.77h0.01M93.59 156.43h0.01M95.52 160.31h0.01M95.69 157.11h0.01M94.15 157.19h0.01M96.27 158.64h0.01M75.4 159.1h0.01M84.37 157.63h0.01M97.2 160.18h0.01M95.22 157.89h0.01M76.77 152.15h0.01M92.19 157.9h0.01M93.89 158.01h0.01M92.99 157.83h0.01M80.34 155.67h0.01M94.38 160.31h0.01M89.17 155.79h0.01M108.07 159.8h0.01M80.63 159.69h0.01M83 152.36h0.01M84.39 152.8h0.01M93.78 157.46h0.01M80.65 154.34h0.01M97 142.65h0.01M99.55 159.39h0.01M100.45 157.26h0.01M90.55 156.71h0.01M78.5 154.88h0.01M100.36 157.03h0.01M95.43 158.2h0.01M88.23 158.05h0.01M103.17 157.44h0.01M113.61 159.61h0.01M94.11 157.58h0.01M99.6 157.35h0.01M84.41 154.68h0.01M92.47 155.57h0.01M77.96 160.06h0.01M86.56 160.15h0.01M111.63 158.79h0.01M75.55 156.65h0.01M90.98 156.63h0.01M98.66 159.57h0.01M106.27 157.62h0.01M109.3 160.23h0.01M73.61 157.76h0.01M100.33 157.07h0.01M105.72 160.35h0.01M114.64 158.17h0.01M101.52 158.37h0.01M88.96 159.46h0.01M97.41 156.82h0.01M81.33 153.61h0.01M115.72 159.38h0.01M101.98 158.54h0.01M92.13 156.53h0.01M85.39 159.6h0.01M107.79 157.7h0.01M74.44 156.99h0.01M96.45 157.05h0.01M75.09 159.82h0.01M78.63 156.2h0.01M110.25 160.09h0.01M77.21 154.65h0.01M75.42 160.29h0.01M72.21 158.29h0.01M86.05 160.13h0.01M92.64 159.08h0.01M104.33 157.91h0.01M111.85 158.9h0.01M89.24 155.7h0.01M92.23 160.34h0.01M109.57 158.57h0.01M88.41 158.14h0.01M85.86 159.25h0.01M74.3 158.22h0.01M78.19 157h0.01M109.81 157.94h0.01M91.05 157.38h0.01M92.01 159.53h0.01M90.69 158.27h0.01M94.3 159.4h0.01M101.17 157.33h0.01M77.33 160.43h0.01M91.31 156.08h0.01M85.08 158.72h0.01M105.79 157.89h0.01M90.32 158.68h0.01M110.58 158.8h0.01M87.88 155.47h0.01M112.52 159.8h0.01M70.5 160.27h0.01M85 154.72h0.01M80.9 157.06h0.01M119.38 157.62h0.01M94.18 160.03h0.01M83.66 155.5h0.01M96.6 159.81h0.01M102.17 159.3h0.01M67.82 156.98h0.01M91.01 156.09h0.01M83.06 155.81h0.01M86.98 154.92h0.01M109.94 158.39h0.01M105.28 157.42h0.01M83.26 159.41h0.01M74.6 154.7h0.01M80.02 154.82h0.01M93.15 156.21h0.01M78.31 158.24h0.01M89.88 154.97h0.01M72.1 155.77h0.01M79.77 158.7h0.01M92.35 159.13h0.01M76.39 155.76h0.01M94.74 156.65h0.01M85.27 153.96h0.01M94.21 160.04h0.01M79.86 157.93h0.01M79.86 152.57h0.01M118.25 160.17h0.01M93.75 157.35h0.01M96.96 159.47h0.01M79.5 156.03h0.01M110.29 159.68h0.01M92.91 156.97h0.01M107.89 152.42h0.01M104.04 159.56h0.01M95.88 159.37h0.01M87.42 154.73h0.01M90.93 155.16h0.01M69.69 159.36h0.01M105.28 158.09h0.01M74.05 157.47h0.01M100.65 159.11h0.01M89.21 155.28h0.01M95.32 156.1h0.01M85.76 159.92h0.01M92.84 155.52h0.01M85.92 156.06h0.01M90.19 156.49h0.01M90.98 158.32h0.01M113.02 158.23h0.01M89.06 157.63h0.01M77.31 155.39h0.01M115.44 159.54h0.01M73.44 154.97h0.01M88.12 155.02h0.01M83.2 155.77h0.01M82.68 158.23h0.01M93.68 155.58h0.01M81.12 155.6h0.01M72.61 156.13h0.01M99.43 159.81h0.01M80.29 154.86h0.01M106.63 158.84h0.01M105.28 158.1h0.01M97.93 160.28h0.01M95.08 155.89h0.01M103.87 159.42h0.01M103.32 159.37h0.01M108.74 159.68h0.01M94.99 155.89h0.01M102.97 157.46h0.01M79.82 155.9h0.01M97.81 159.8h0.01M91.93 157.37h0.01M83.02 158.34h0.01M75.85 156.82h0.01M86.83 158.62h0.01M114.69 158.2h0.01M96.22 156.22h0.01M101 160.25h0.01M82.99 155.53h0.01M81.01 159.61h0.01M86.4 154.06h0.01M84.99 154.98h0.01M74.38 155.69h0.01M94.72 156.55h0.01M103.95 157.63h0.01M90.22 156.53h0.01M107.04 159.4h0.01M93.95 157.87h0.01M85.72 156.38h0.01M88.54 158.65h0.01M81.74 154.51h0.01M85.61 155.22h0.01M76.93 154.33h0.01M80.49 155.8h0.01M107.19 158.3h0.01M116.36 160h0.01M130.62 147.24h0.01M108.95 160.37h0.01M127.77 158.71h0.01M130.18 145.45h0.01M103.24 160.01h0.01M124.05 153.42h0.01M130.54 138.2h0.01M124.99 160.59h0.01M115.8 160.41h0.01M126.28 160.41h0.01M121.6 157h0.01M109.56 160.58h0.01M108.83 160.54h0.01M127.5 151.08h0.01M124.59 158.27h0.01M117.79 160.1h0.01M110.07 160.43h0.01M108.39 159.43h0.01M118.8 160.57h0.01M110.62 160.59h0.01M119.81 158.75h0.01M130.68 146.16h0.01M112.53 159.4h0.01M122.92 156.84h0.01M117.13 160.12h0.01M107.34 159.18h0.01M109.68 158.77h0.01M124.87 146.76h0.01M130.55 151.47h0.01M129.45 153.32h0.01M113.99 158.63h0.01M121.33 159h0.01M128.29 155.43h0.01M126.09 159.39h0.01M112.13 159.67h0.01M121.81 159.89h0.01M113.26 160.36h0.01M126.51 153.66h0.01M113.34 157.6h0.01M111.71 158.27h0.01M105.36 159.94h0.01M112.71 160.56h0.01M127.94 160.57h0.01M107.49 159.73h0.01M115.77 160.08h0.01M124.17 159.88h0.01M115.7 156.39h0.01M125.5 160.49h0.01M128.61 156.19h0.01M106.16 159.73h0.01M121.32 160.36h0.01M129.96 159.22h0.01M110.65 159.93h0.01M102.63 159.93h0.01M110.02 159.97h0.01M109.03 160.53h0.01M129.92 149.67h0.01M119.71 160h0.01M126.85 160.55h0.01M105.78 159.92h0.01M104.39 159.65h0.01M121.86 154.8h0.01M123.37 152.26h0.01M108.31 160.53h0.01M131.3 157.81h0.01M117.25 159.49h0.01M131.33 136.16h0.01M110.34 159.98h0.01M130.96 134.62h0.01M118.89 160.5h0.01M125.04 153.79h0.01M106.67 160.18h0.01M115.45 160.26h0.01M127.06 144.53h0.01M123.42 160.28h0.01M117.05 160.41h0.01M128.06 154.47h0.01M117.24 158.06h0.01M113.14 159.77h0.01M130.61 142.7h0.01M130.82 151.38h0.01M122.92 154.78h0.01M112.91 160.29h0.01M115.11 158.4h0.01M120.82 160.23h0.01M105.78 160.08h0.01M130.68 157.54h0.01M102.77 160.52h0.01M123.14 152.89h0.01M108.96 159.74h0.01M111.93 160.58h0.01M130.18 133.33h0.01M109.73 160.58h0.01M130.89 157.42h0.01M104.95 160.5h0.01M114.36 157.41h0.01M115.48 156.97h0.01M126.58 159.71h0.01M131.25 139.73h0.01M130.01 134.08h0.01M113.04 160.39h0.01M109.57 160.49h0.01M119.58 160.4h0.01M110.31 158.85h0.01M105.5 160.59h0.01M107.94 159.99h0.01M109.05 160h0.01M116.11 158.64h0.01M109.85 160.56h0.01M130.81 148.94h0.01M125.88 156.92h0.01M131.34 140.02h0.01M131.19 136.63h0.01M109.41 160.06h0.01M129.67 147.29h0.01M127.9 155.17h0.01M129.89 134.35h0.01M118.51 159.43h0.01M130.18 143.47h0.01M108 159.4h0.01M130.05 154.98h0.01M125.58 150.55h0.01M129.17 149.44h0.01M103.1 160.06h0.01M131.34 160.07h0.01M129.83 145.57h0.01M116.81 158.86h0.01M121.3 158.49h0.01M116.4 158.26h0.01M105.5 159.91h0.01M109.96 158.86h0.01M108.47 159.62h0.01M131.11 143.29h0.01M108 160.19h0.01M106.94 160.51h0.01M104.49 160.33h0.01M113.16 160.25h0.01M125.63 157.7h0.01M125.01 160.26h0.01M121.68 151.56h0.01M114.96 157.14h0.01M111.19 158.82h0.01M102.48 160.11h0.01M126.3 158.74h0.01M122.57 160.57h0.01M127.36 144.46h0.01M105.32 160.41h0.01M110.9 159.08h0.01M106.5 159.71h0.01M118.96 160.42h0.01M108.9 160.32h0.01M115.87 159.72h0.01M118.79 154.56h0.01M128.9 151.89h0.01M115.1 159.13h0.01M104.67 160.35h0.01M105.6 159.97h0.01M103.53 160.57h0.01M127.78 157.78h0.01M105.87 160.59h0.01M126.65 150.14h0.01M102.66 160.54h0.01M121.82 155.39h0.01M113.71 158.54h0.01M111.52 160.33h0.01M126.72 160.54h0.01M113.69 160.32h0.01M126.66 143.73h0.01M115.33 158.84h0.01M114.89 158.91h0.01M113.56 160.11h0.01M130.67 160.19h0.01M131.28 154.17h0.01M129.29 159.83h0.01M120.15 153.34h0.01M113.82 160.17h0.01M110.94 160.45h0.01M130.08 156.46h0.01M122.67 154.75h0.01M121.62 155.03h0.01M130.17 135.32h0.01M124.53 150.52h0.01M131.11 136.9h0.01M127.46 145.15h0.01M109.73 159.56h0.01M126.21 160.58h0.01M128.29 141.76h0.01M128.97 148.19h0.01M117.19 157.92h0.01M128.49 159.58h0.01M130.13 133.24h0.01M123.41 154.7h0.01M117.76 160.09h0.01M130.65 160.56h0.01M107.9 160.53h0.01M103.7 160.42h0.01M112.6 160.47h0.01M110.27 160.36h0.01M123.87 156.19h0.01M129.87 157.67h0.01M109.98 160.32h0.01M123.47 152.93h0.01M127.51 159.14h0.01M127.63 156.2h0.01M123.9 154.48h0.01M120.82 153.94h0.01M130.86 144.53h0.01M108.5 160.43h0.01M131.13 152.03h0.01M129.79 152.83h0.01M112.99 160.53h0.01M129.76 152.33h0.01M128.63 158.38h0.01M121.76 160.28h0.01M130.61 154.72h0.01M120.9 153.03h0.01M118.23 160.51h0.01M127.55 148.08h0.01M117.97 156h0.01M103.72 159.9h0.01M129.9 135.72h0.01M119.18 159.91h0.01M128.7 142.1h0.01M127.78 160.21h0.01M126.52 145.13h0.01M121.14 155.33h0.01M130.5 152.27h0.01M125.18 159.42h0.01M114.66 159.86h0.01M129.72 134.6h0.01M120.52 160.08h0.01M131.31 143.99h0.01M119.5 160.57h0.01M120.86 155.42h0.01M118.79 159.97h0.01M119.99 157.25h0.01M115.06 160.41h0.01M109.7 158.82h0.01M111.97 158.55h0.01M123.83 150.11h0.01M128.46 158.49h0.01M116.83 156.41h0.01M130.38 158.07h0.01M131.05 152.09h0.01M129.32 158.8h0.01M111.67 159.53h0.01M104.61 160.36h0.01M114.11 160.59h0.01M104.27 160.5h0.01M120.66 157.8h0.01M104.27 160.29h0.01M102.58 160.24h0.01M127.69 145.3h0.01M128.02 139.26h0.01M121.27 159.77h0.01M103.77 160.45h0.01M122.73 158.66h0.01M114.46 160.58h0.01M123.66 159.94h0.01M108.81 160.59h0.01M116.52 160.05h0.01M121.35 157.05h0.01M112.98 160.47h0.01M127.13 159.95h0.01M103.81 160.55h0.01M129.39 151.57h0.01M117.37 156.22h0.01M130.77 157.59h0.01M128.77 150.59h0.01M121.4 158.45h0.01M106.56 159.93h0.01M107.61 159.21h0.01M126.43 144.83h0.01M122.7 160.5h0.01M105.56 160.56h0.01M131.25 156.11h0.01M125.93 145.21h0.01M107.23 160.24h0.01M119.04 155.52h0.01M109.58 159.63h0.01M119.56 160.37h0.01M127.05 150.97h0.01M117.22 156.95h0.01M106.17 159.44h0.01M128.22 160.24h0.01M106.21 160.09h0.01M128.47 148.03h0.01M126.76 158.79h0.01M123.87 156.18h0.01M114.17 160.54h0.01M111.94 159.37h0.01M120.82 156.19h0.01M109.85 160.59h0.01M120.71 156.19h0.01M113.07 159.09h0.01M128.5 139.36h0.01M110.35 160.39h0.01M122.04 151.48h0.01M127.9 155.56h0.01M103.76 159.84h0.01M127.31 148.69h0.01M124.06 154h0.01M111.03 160.51h0.01M127.55 158.88h0.01M126.5 160.51h0.01M129.41 154.54h0.01M122.33 160.42h0.01M117.34 155.79h0.01M117.52 159.56h0.01M113.23 159.77h0.01M128.6 153.44h0.01M131.25 143.18h0.01M128.91 155.72h0.01M103.72 160.01h0.01M108.53 159.77h0.01M115.62 158.18h0.01M103.57 160.53h0.01M111.05 160.25h0.01M126.76 147.38h0.01M116.73 156.84h0.01M107.06 160h0.01M128.1 160.57h0.01M118.87 156.73h0.01M126.35 160.35h0.01M131.36 158.59h0.01M113.53 160.59h0.01M127.37 158.25h0.01M113 157.66h0.01M131.24 159.58h0.01M104.8 159.62h0.01M129.16 156.28h0.01M119.26 159.5h0.01M122.43 157.43h0.01M126.69 160.42h0.01M130.35 159.01h0.01M130.23 147.2h0.01M113.5 160.22h0.01M110.13 159.35h0.01M124.55 156.24h0.01M128.32 140.86h0.01M118.05 160.54h0.01M129.05 147.02h0.01M123.34 153.79h0.01M127.39 146.92h0.01M109.76 160.55h0.01M117.22 160.22h0.01M113.12 158.45h0.01M110.15 160.4h0.01M130.19 145.88h0.01M117.9 160.35h0.01M128.22 151.36h0.01M129.94 147.36h0.01M127.11 158.42h0.01M122.25 156.93h0.01M112.53 160.58h0.01M112.54 160.34h0.01M125.88 152.7h0.01M113.69 159.09h0.01M106.05 160.5h0.01M125.36 152.8h0.01M126.63 159.67h0.01M127.46 147.5h0.01M108.85 159.57h0.01M103.87 159.97h0.01M125.39 158.2h0.01M112.65 160.56h0.01M116.46 160.49h0.01M130.88 149.9h0.01M129.1 138.63h0.01M106.98 160.2h0.01M128.11 159.87h0.01M119.74 158.04h0.01M123.97 153.23h0.01M119.04 156.2h0.01M129.97 160.2h0.01M123.29 157h0.01M126.83 151h0.01M127.56 157.37h0.01M120.66 155.86h0.01M110.9 160.13h0.01M121.56 152.46h0.01M104.83 160.12h0.01M129.99 152.74h0.01M115.54 160.05h0.01M131.03 129.88h0.01M105.75 160.55h0.01M120.99 156.64h0.01M125.65 160.38h0.01M111.61 158.95h0.01M121.84 160.41h0.01M123.1 160.34h0.01M103.68 160.59h0.01M125.95 149.92h0.01M129.43 159.88h0.01M130.56 158.94h0.01M118.96 155.72h0.01M128.73 159.17h0.01M111.1 160h0.01M124.64 160.11h0.01M127.07 142.59h0.01M129.77 157.49h0.01M111.96 158.42h0.01M105.96 160.23h0.01M103.96 160.18h0.01M125.94 155.82h0.01M112.83 158.81h0.01M129.53 158.71h0.01M103.89 160.57h0.01M109.34 160.26h0.01M126.95 158.51h0.01M120.89 152.32h0.01M129.16 141.33h0.01M125.09 159.72h0.01M111.82 160.13h0.01M128.34 155.07h0.01M109.04 159.18h0.01M117.59 160.59h0.01M111.15 159.54h0.01M106.14 159.47h0.01M124.94 149.63h0.01M109.14 160.38h0.01M123.89 158.01h0.01M124.24 157.84h0.01M129.89 158.05h0.01M105.76 160.31h0.01M115.58 157.13h0.01M111.43 160.34h0.01M105.37 159.81h0.01M102.63 160.13h0.01M111.46 158.84h0.01M126.82 151.3h0.01M123.47 151.69h0.01M129.45 151.01h0.01M124.69 150.53h0.01M124.45 150.4h0.01M108.07 159.32h0.01M129.35 137.66h0.01M111.83 159.22h0.01M115.02 160.56h0.01M107.24 160.06h0.01M121.3 159.02h0.01M110.45 159.15h0.01M107.25 160.47h0.01M124.58 159.12h0.01M130.07 155.92h0.01M131.17 138.2h0.01M127.44 160.31h0.01M130.61 142.05h0.01M128.1 154.32h0.01M122.87 152.94h0.01M104.05 160.45h0.01M115.69 157.03h0.01M120.86 153.53h0.01M112.21 160.18h0.01M107.1 160.03h0.01M129.97 148.83h0.01M108.76 159.99h0.01M120.44 158.64h0.01M106.86 159.89h0.01M127.88 156.46h0.01M123.96 148.87h0.01M113.53 160.48h0.01M105.57 160.59h0.01M117.07 159.26h0.01M112.78 159.84h0.01M130.21 150.49h0.01M109.09 159.37h0.01M124.14 159.43h0.01M111.81 158.79h0.01M127.63 143.97h0.01M102.55 160.39h0.01M123.47 153.79h0.01M104.98 160.51h0.01M125.6 157.97h0.01M112.26 160.41h0.01M118.49 158.57h0.01M114.47 160.43h0.01M103.95 159.68h0.01M118.03 156.59h0.01M128.43 141.22h0.01M118.34 156.72h0.01M107.31 160.31h0.01M105.21 160.51h0.01M131.19 149.84h0.01M106.17 159.56h0.01M104.01 160.28h0.01M104.87 160.18h0.01M129.26 148.58h0.01M109.71 160.1h0.01M116.7 160.03h0.01M126.26 156.36h0.01M119.54 158.5h0.01M130.21 160.59h0.01M124.59 152.6h0.01M111.69 160.34h0.01M126.76 154.3h0.01M128.6 150.34h0.01M105.96 160.5h0.01M117.24 157.51h0.01M111.66 159.14h0.01M113.02 160.22h0.01M108.43 159.14h0.01M130.83 132.47h0.01M121.69 160.41h0.01M130.58 139.85h0.01M114.16 160.44h0.01M121.17 156.34h0.01M102.35 160.46h0.01M111.04 160.35h0.01M128.09 159.43h0.01M122.64 155.7h0.01M125.56 159.75h0.01M127.64 160.2h0.01M128.22 157.13h0.01M119.81 160.11h0.01M120.58 158.43h0.01M103.31 160.33h0.01M104.41 160.3h0.01M128.11 151.26h0.01M129.24 159.13h0.01M130.52 143.81h0.01M103.55 160.39h0.01M124.21 157.29h0.01M124.27 153.37h0.01M123.16 160.04h0.01M107.46 160h0.01M131.35 135.19h0.01M112.39 160.07h0.01M115.77 156.83h0.01M122.88 157.74h0.01M125.69 154.47h0.01M114.67 158.32h0.01M104.23 160.55h0.01M123.89 150.98h0.01M110.16 159.71h0.01M114.17 159.97h0.01M104.41 160.22h0.01M122.85 159.88h0.01M129.8 137.93h0.01M109.81 160.59h0.01M125.04 156.13h0.01M120.09 159.1h0.01M106.3 160.36h0.01M118.96 154.79h0.01M115.46 159.33h0.01M124.79 157.53h0.01M116.46 157.39h0.01M126.64 156.96h0.01M123.27 158.33h0.01M105.63 160.17h0.01M126.26 157.68h0.01M109.05 160.5h0.01M113.73 160.59h0.01M128.21 160.35h0.01M109.63 160.5h0.01M127.42 160.39h0.01M126.56 149.86h0.01M112.68 158.12h0.01M104.32 160.22h0.01M105.28 160.57h0.01M105.16 160.31h0.01M128.22 146.82h0.01M107.67 160.27h0.01M130.2 137.76h0.01M111.5 159.52h0.01M103.17 160.59h0.01M130.78 159.5h0.01M131.21 141.93h0.01M115.77 160.46h0.01M128.88 159.04h0.01M116.46 158.1h0.01M103.45 160.43h0.01M103.08 160.38h0.01M123.18 159.33h0.01M127.31 141.92h0.01M102.46 160.16h0.01M128.61 159.11h0.01M129.08 156h0.01M112.08 160.56h0.01M119.01 157.04h0.01M131.08 152.04h0.01M110.16 159.74h0.01M121.42 153.24h0.01M116.73 159.74h0.01M123.04 150.46h0.01M107.64 159.31h0.01M118.04 160.34h0.01M128.61 155.62h0.01M113.71 160.59h0.01M109.76 159.26h0.01M119.49 160.59h0.01M109.9 160.11h0.01M114.44 159.12h0.01M112.39 159.93h0.01M103.82 159.76h0.01M105.02 160.11h0.01M125.22 157.49h0.01M126.43 145.84h0.01M110.12 159.19h0.01M109.06 158.83h0.01M113.8 160.06h0.01M111.36 160.31h0.01M116.41 160.35h0.01M107.71 160.12h0.01M126.28 145.64h0.01M130.37 134.75h0.01M111.38 160.48h0.01M111.24 159.62h0.01M105.85 160.09h0.01M122.14 151.74h0.01M130.3 141.39h0.01M130.03 157.04h0.01M129.83 138.89h0.01M121.71 154.99h0.01M126.74 149.68h0.01M115.14 160.5h0.01M120.14 156.07h0.01M127.73 150.16h0.01M126.21 157.15h0.01M105.36 159.59h0.01M102.34 160.4h0.01M117.69 156.66h0.01M111.33 159.91h0.01M107.49 160.26h0.01M104.21 160.31h0.01M129.74 143.75h0.01M129.23 147.11h0.01M130.82 130.39h0.01M118.67 156.71h0.01M129.5 148h0.01M123.59 159.3h0.01M109.29 160.59h0.01M120.63 160.43h0.01M107.94 159.3h0.01M131.07 151.26h0.01M120.9 155.64h0.01M112.37 160.1h0.01M104.87 160.52h0.01M129.4 142.18h0.01M129.71 158.79h0.01M119.95 159.29h0.01M128.85 139.42h0.01M120.75 154.98h0.01M126.89 144.68h0.01M127.58 143.37h0.01M116.34 156.17h0.01M110.87 159.51h0.01M118.93 155.54h0.01M121.66 160.37h0.01M105.6 159.79h0.01M114.01 158.46h0.01M127.33 154.9h0.01M108.99 158.93h0.01M105.23 160.53h0.01M113.94 159.28h0.01M122.78 159.98h0.01M129.39 152.96h0.01M120.16 159.66h0.01M123.83 155.79h0.01M111.21 159.58h0.01M128.88 140.91h0.01M123.83 149.03h0.01M102.98 160.56h0.01M117.35 155.59h0.01M123.35 156.17h0.01M125.29 160.54h0.01M127.96 159.84h0.01M126.05 152.73h0.01M117.97 155.33h0.01M113.89 159.93h0.01M104.23 160.13h0.01M118.6 155.68h0.01M114.42 159.89h0.01M116.61 159.89h0.01M103.46 160.5h0.01M103.32 160.58h0.01M131.32 147.85h0.01M127.93 153.46h0.01M129.75 140.47h0.01M114.45 158.62h0.01M105.1 159.54h0.01M114.14 158.57h0.01M131.37 160.33h0.01M122.16 151.16h0.01M125.31 154.53h0.01M131.33 152.51h0.01M106.02 160.08h0.01M108.94 160.59h0.01M128 159.23h0.01M108.65 160.55h0.01M104.9 160.47h0.01M106.86 160.13h0.01M125.03 146.92h0.01M122.78 154.55h0.01M130.62 138.33h0.01M102.99 160.57h0.01M111.76 160.28h0.01M129.17 155.66h0.01M114.7 157.13h0.01M117.73 46.26h0.01M99.16 79.38h0.01M122.1 83.52h0.01M124.28 109.05h0.01M121 109.74h0.01M112.27 117.33h0.01M63.86 140.1h0.01M71.14 142.17h0.01M104.26 139.41h0.01M116.27 136.65h0.01M110.08 147h0.01M127.19 129.75h0.01M129.74 119.4h0.01M91.52 148.38h0.01M76.96 146.31h0.01M84.24 149.07h0.01" stroke="#2d60b0" stroke-width="1.2" stroke-linecap="round" fill="none" stroke-opacity="0.85"/>
<path d="M200.21 156.97h0.01M184.87 159.53h0.01M181.86 158.82h0.01M171.01 160.03h0.01M165.59 159.06h0.01M166.21 159.23h0.01M182.14 158.59h0.01M153.56 160.33h0.01M170.17 158.49h0.01M189.99 158.99h0.01M179.5 158.92h0.01M188.05 159.12h0.01M190.38 157.93h0.01M194.28 157.24h0.01M159.98 160.3h0.01M161.56 159.03h0.01M173.31 158.88h0.01M170.52 160h0.01M173.95 157.83h0.01M177.86 159.8h0.01M163.92 158.59h0.01M166.02 158.98h0.01M180.46 159.03h0.01M187.36 156.85h0.01M166.67 158.87h0.01M185.09 159.91h0.01M150.67 159.68h0.01M168.29 160.24h0.01M200.2 159.07h0.01M185.35 159.19h0.01M185.84 158.16h0.01M160.07 159.26h0.01M194.08 159.79h0.01M179.87 159.61h0.01M180.1 157.49h0.01M194.85 156.43h0.01M165.11 159.29h0.01M185.77 157.03h0.01M197.94 160.23h0.01M189.2 159.72h0.01M158.53 159.22h0.01M174.89 158.3h0.01M186.5 158.86h0.01M178.17 160.56h0.01M186.89 156.26h0.01M165.95 158.49h0.01M163.45 159.54h0.01M150.69 160.35h0.01M191.95 155.5h0.01M193.51 156.34h0.01M182.98 156.47h0.01M195.71 157.58h0.01M180.84 158.46h0.01M175.87 158.75h0.01M169.49 159.68h0.01M180.37 158.73h0.01M167.61 159.14h0.01M188.2 156.87h0.01M180.8 159.34h0.01M180.59 158.87h0.01M176.9 158.12h0.01M179.67 157.79h0.01M178.65 159.09h0.01M175.33 158.11h0.01M168.74 159.81h0.01M184.9 157.24h0.01M185.98 158.9h0.01M175.37 160.39h0.01M181.03 157.79h0.01M189.31 159.06h0.01M162.99 158.71h0.01M179.84 158.96h0.01M179.83 157.83h0.01M190.91 156.08h0.01M177.59 159.28h0.01M167.5 160.04h0.01M194.19 156.16h0.01M191.02 155.98h0.01M167.97 158.63h0.01M163.72 158.49h0.01M176.74 158.45h0.01M154.44 159.43h0.01M152.75 159.36h0.01M174.3 158.38h0.01M167.77 160.49h0.01M183.65 158.96h0.01M191.17 155.9h0.01M182.91 157.89h0.01M156.66 159.73h0.01M183.38 158.08h0.01M169.01 159.6h0.01M175.47 157.71h0.01M199.05 159.29h0.01M170.49 158.86h0.01M156.84 158.84h0.01M171.64 158.34h0.01M199.13 160.2h0.01M169.74 158.82h0.01M190.66 157.47h0.01M189.15 159.78h0.01M187.67 158.05h0.01M161.72 159.4h0.01M150.05 160.12h0.01M175.69 158.98h0.01M172.51 158.45h0.01M198.51 159.58h0.01M180.04 158.93h0.01M168.85 158.34h0.01M174.4 158.54h0.01M172.28 160.2h0.01M175.7 160.04h0.01M181.26 159h0.01M190.77 158.47h0.01M196.33 158.55h0.01M166.33 158.89h0.01M178.46 158.94h0.01M188.83 157.94h0.01M175.91 157.26h0.01M196.6 157.22h0.01M180.15 158.57h0.01M166.94 158.91h0.01M171.18 158.68h0.01M183.71 159.53h0.01M173.54 158.77h0.01M179.7 158.14h0.01M173.32 158.45h0.01M183.81 157h0.01M169.47 159.26h0.01M182.33 157.32h0.01M178.53 157.26h0.01M184.85 159.83h0.01M156.26 158.52h0.01M186.95 158.9h0.01M167.17 158.54h0.01M153.67 158.24h0.01M190.22 156.87h0.01M191.45 159.17h0.01M174.53 160.43h0.01M159.68 160.33h0.01M163.82 160.07h0.01M172.06 157.97h0.01M191.76 155.54h0.01M189.03 158.79h0.01M189.53 156.7h0.01M161.76 158.51h0.01M183.69 156.72h0.01M186.14 157.98h0.01M178.79 159.66h0.01M172.16 158.37h0.01M170.68 158.6h0.01M169.56 159.84h0.01M175.66 158.76h0.01M155.39 158.74h0.01M192.01 158.35h0.01M174.87 158.2h0.01M177.05 158.64h0.01M194 157.81h0.01M188.74 159.24h0.01M175.09 157.98h0.01M171.94 158.65h0.01M175.98 158.54h0.01M178.15 160.57h0.01M170.96 158.27h0.01M183.37 157.64h0.01M188.42 158.75h0.01M188.72 156.96h0.01M178.13 158.13h0.01M167.8 160.21h0.01M180.55 159.77h0.01M191.62 158.21h0.01M167.48 159.05h0.01M179.43 158.43h0.01M180.36 148.19h0.01M168.33 160.41h0.01M182.43 158.08h0.01M188.55 158.67h0.01M169.77 158.94h0.01M175.79 158.84h0.01M184.58 157.22h0.01M181.84 157.46h0.01M190.54 156.08h0.01M170.71 160.22h0.01M161.36 159.35h0.01M172.97 159.04h0.01M188.79 156.77h0.01M169.53 160.54h0.01M162.96 158.9h0.01M200.6 154.71h0.01M177.25 157.48h0.01M173.48 160.23h0.01M180.63 158.63h0.01M188.15 156.35h0.01M167.22 159.43h0.01M177.11 158.24h0.01M178.97 158.37h0.01M182.05 156.99h0.01M175.69 157.75h0.01M153.21 158.77h0.01M190.69 157.84h0.01M172.97 158.39h0.01M168.6 158.85h0.01M184.99 160.38h0.01M173.98 158.62h0.01M164.29 158.92h0.01M188.86 158.67h0.01M189.44 159.71h0.01M159.86 154.1h0.01M175.68 159.8h0.01M180.28 158.75h0.01M180.97 159.12h0.01M176.21 158.95h0.01M197.26 158.8h0.01M190.3 158.21h0.01M172.06 160.12h0.01M178.55 157.52h0.01M178.26 157.86h0.01M165.79 159.2h0.01M195.12 156.14h0.01M182.15 156.55h0.01M193.85 158.63h0.01M186.44 160.06h0.01M163.03 159.73h0.01M154.29 159.46h0.01M179.37 160.46h0.01M169.49 160.25h0.01M168.09 159.16h0.01M189.89 158.11h0.01M170.37 158.3h0.01M187.36 159.83h0.01M177.13 158.42h0.01M162.42 160.34h0.01M182.96 157.34h0.01M180.14 159.63h0.01M172.18 158.76h0.01M171.89 158.64h0.01M189.21 157.76h0.01M163.43 159.27h0.01M186.7 158.38h0.01M192.74 158.77h0.01M192.74 155.49h0.01M171.11 158.29h0.01M168.57 158.12h0.01M189.49 157.47h0.01M191.48 159.33h0.01M183.8 159.41h0.01M186.54 159.85h0.01M162.71 159.35h0.01M185.81 160.21h0.01M196.57 158.43h0.01M175.9 158.22h0.01M184.78 158.39h0.01M180.74 159.59h0.01M196.93 156.9h0.01M179.11 157.56h0.01M187.37 156.86h0.01M190.33 156.06h0.01M188.75 157.86h0.01M175.67 157.96h0.01M190.75 156.93h0.01M165.96 159.1h0.01M174.44 160.1h0.01M186.63 159.13h0.01M174.15 157.96h0.01M171.57 157.31h0.01M176.1 160.5h0.01M175.92 160.59h0.01M169.77 159.37h0.01M186.43 157.45h0.01M170.61 159.61h0.01M175.81 157.46h0.01M164.07 154.3h0.01M189.49 156.86h0.01M189.6 159.47h0.01M171.49 159.27h0.01M186.39 157.49h0.01M184.15 157.64h0.01M189.59 157.42h0.01M194.51 158.34h0.01M174.31 158.31h0.01M184.65 157.32h0.01M188.45 158.01h0.01M187.88 158.63h0.01M183.9 156.88h0.01M185.71 156.26h0.01M164.77 159.28h0.01M195.81 155.88h0.01M188.94 157.16h0.01M197.52 159.5h0.01M178.67 160.46h0.01M177.26 157.42h0.01M190.95 156.45h0.01M170.22 159.58h0.01M176.65 158.31h0.01M173.9 158.6h0.01M168.5 159.22h0.01M158.7 159.53h0.01M186.1 155.91h0.01M182.91 156.2h0.01M171.31 158.73h0.01M181.58 158.78h0.01M176.99 160.07h0.01M189.18 157.3h0.01M183.3 156.75h0.01M187.84 160.18h0.01M185.19 158.93h0.01M190.07 156h0.01M182.64 158.68h0.01M187.93 157.26h0.01M181.6 156.86h0.01M193.75 157.35h0.01M155.74 159.37h0.01M186.91 155.85h0.01M179.52 158.11h0.01M186.3 154.63h0.01M192.02 160.06h0.01M155.97 159.01h0.01M170.23 159.38h0.01M186.29 157.69h0.01M174 158.64h0.01M188.49 155.84h0.01M180.76 158.82h0.01M189.28 159.36h0.01M188.32 154.83h0.01M180.02 157.12h0.01M190.61 158.18h0.01M194.52 160.04h0.01M165.97 160.12h0.01M186.18 157.47h0.01M189.22 157.7h0.01M189.87 156.32h0.01M195.19 156.5h0.01M149.39 157.71h0.01M162.21 158.79h0.01M184.31 156.73h0.01M174.09 158h0.01M173.52 158.42h0.01M190.91 157.38h0.01M170.86 158.94h0.01M191.33 155.97h0.01M186.08 157.08h0.01M188.46 156.6h0.01M162.25 159.78h0.01M179.15 157.62h0.01M162.85 159.62h0.01M166.32 160.3h0.01M161.74 158.99h0.01M170.64 158.67h0.01M177.16 157.42h0.01M170.41 158.4h0.01M188.65 157.61h0.01M164.23 159.52h0.01M172.21 158.38h0.01M174 159.51h0.01M184.44 158.09h0.01M194.17 155.8h0.01M182.33 156.95h0.01M171.17 160.15h0.01M188.15 159.48h0.01M199.65 158.44h0.01M190.56 155.99h0.01M163.99 159h0.01M194.25 156.99h0.01M180.72 159.19h0.01M179.2 157.33h0.01M194.42 157.83h0.01M164.97 158.42h0.01M191.86 158.08h0.01M155.16 158.53h0.01M175.89 157.87h0.01M187.66 157.92h0.01M168.19 158.55h0.01M161.57 158.42h0.01M175.92 159.03h0.01M192.63 155.68h0.01M175.56 160.07h0.01M180.85 158.11h0.01M198.58 158.52h0.01M177.48 159.78h0.01M183.06 157.99h0.01M170.78 159.53h0.01M178.46 157.24h0.01M168.72 160.35h0.01M174.8 158.08h0.01M170.15 158.44h0.01M181.43 158.22h0.01M159.69 159.03h0.01M176.11 157.61h0.01M173.04 160.26h0.01M184.89 159.2h0.01M179.82 160.35h0.01M184.07 159h0.01M169.99 159.91h0.01M189.7 157.94h0.01M174.87 158.01h0.01M184.88 158.42h0.01M167.89 158.23h0.01M181.27 157.87h0.01M174.36 159.66h0.01M153.13 159.2h0.01M188.6 156.8h0.01M169.96 158.63h0.01M186.8 158.49h0.01M182.52 157.08h0.01M176.05 150.21h0.01M155.82 159.21h0.01M188.19 158.64h0.01M188.64 157.52h0.01M179.9 160.33h0.01M169.27 158.17h0.01M185.21 156.84h0.01M178.35 157.94h0.01M168.67 159.09h0.01M186.97 159.26h0.01M174.69 160.12h0.01M186.99 157.45h0.01M187.05 159.72h0.01M165.5 160.23h0.01M180.72 159.26h0.01M195.12 158.82h0.01M186.04 157.57h0.01M195.82 154.65h0.01M173.82 159.78h0.01M193 160.33h0.01M173.33 160.5h0.01M171.78 159.79h0.01M175.62 160.02h0.01M170.78 158.86h0.01M173.17 158.85h0.01M186.83 158.52h0.01M188.88 157.47h0.01M174.17 159.99h0.01M183.57 159.91h0.01M192.49 160.25h0.01M170.24 159h0.01M174.99 158.83h0.01M167.97 158.93h0.01M198.59 159.49h0.01M157.21 159.86h0.01M165.57 159.19h0.01M188.99 159.83h0.01M191.39 159.62h0.01M188.04 157.9h0.01M174.5 159.14h0.01M174.73 157.62h0.01M168.38 159.08h0.01M163.59 158.6h0.01M187.57 157.34h0.01M196.44 159.85h0.01M186.81 158.65h0.01M177.21 157.98h0.01M194.82 158.31h0.01M179.31 157.6h0.01M181.67 160.38h0.01M160.79 158.65h0.01M177.72 157.32h0.01M196.32 159.96h0.01M186.93 148.45h0.01M178.19 158.36h0.01M171.9 160.43h0.01M171.7 160.38h0.01M200.39 157.78h0.01M165.42 158.45h0.01M182.82 159.77h0.01M195.62 160.54h0.01M158.85 158.47h0.01M196.11 156.53h0.01M157.33 159.04h0.01M179.96 159.81h0.01M189.23 159.61h0.01M177.54 159.44h0.01M178.92 158.15h0.01M192.62 157.59h0.01M199.39 158.06h0.01M173.5 160.04h0.01M156.44 158.57h0.01M192.13 156.76h0.01M187.85 158.71h0.01M168.68 159.04h0.01M188.37 159.41h0.01M190 156.38h0.01M163.65 159.94h0.01M186.82 156.75h0.01M188.5 157.68h0.01M194.14 157.03h0.01M182.99 158.19h0.01M182.51 159.79h0.01M177.59 158.89h0.01M175.41 159.12h0.01M175.78 157.51h0.01M153.88 158.63h0.01M178.55 158.35h0.01M170.28 160.5h0.01M195.15 158.81h0.01M173.94 160.29h0.01M190.45 158.98h0.01M186.11 156.57h0.01M176.37 159.59h0.01M191.49 156.1h0.01M183.14 156.39h0.01M178.9 159.86h0.01M187.05 160.02h0.01M185.21 158.04h0.01M194.78 157.25h0.01M182.99 158.48h0.01M194.55 156.73h0.01M169.8 159.49h0.01M173.97 159.05h0.01M167.42 158.75h0.01M195.5 155.99h0.01M183.5 159.85h0.01M184.01 157.51h0.01M156.35 160.18h0.01M166.84 159.67h0.01M193.12 157.56h0.01M182.91 159.09h0.01M165.98 159.79h0.01M193.48 159.37h0.01M164.52 159.92h0.01M176.65 157.99h0.01M179.43 158.9h0.01M193.23 157.99h0.01M170.81 157.96h0.01M185.66 158.4h0.01M164.73 158.49h0.01M186.12 158h0.01M168.72 159.97h0.01M185.65 153.41h0.01M178 160.2h0.01M168.95 158.45h0.01M174.05 159.61h0.01M172.12 159.39h0.01M188.79 156.88h0.01M184.88 159.79h0.01M166.46 159.79h0.01M189.92 157.33h0.01M170.42 157.98h0.01M174.63 160.33h0.01M171.06 158.22h0.01M184.86 158.59h0.01M172.84 160.13h0.01M189.36 155.7h0.01M185.66 158.87h0.01M161.39 158.41h0.01M183.69 158.71h0.01M178.1 157.4h0.01M166.47 158.96h0.01M180.58 159.64h0.01M163.15 160.03h0.01M180.68 158.5h0.01M186.91 156.14h0.01M157.3 157.48h0.01M165.22 159.04h0.01M164.34 159.73h0.01M185.86 159.79h0.01M188.97 158.17h0.01M185.02 158.74h0.01M166.48 159.45h0.01M176.29 158.6h0.01M176.97 157.86h0.01M174.17 157.75h0.01M194.12 156.52h0.01M188.76 157.42h0.01M171.03 160.17h0.01M173.86 159.14h0.01M162.45 158.9h0.01M189.04 156.11h0.01M165.36 158.72h0.01M175.79 159.25h0.01M190.28 157.89h0.01M174.57 159.37h0.01M187.46 156.17h0.01M185.98 158.27h0.01M187.89 157.52h0.01M171.84 158.07h0.01M173.18 160.19h0.01M196.88 160.25h0.01M181.16 158.17h0.01M177.2 158.53h0.01M194.07 159.77h0.01M185.4 157.31h0.01M185.96 156.07h0.01M152.65 159.73h0.01M165.79 159.18h0.01M166 159.18h0.01M187.51 158.25h0.01M172.02 157.88h0.01M185.62 158.77h0.01M179.81 157.56h0.01M192.25 156.81h0.01M182.21 157.16h0.01M196.58 160.5h0.01M186.55 157.86h0.01M165.56 159.61h0.01M189.97 158.32h0.01M184.73 160.21h0.01M160.56 159.2h0.01M171.28 159.16h0.01M193.51 156.11h0.01M178.39 159.26h0.01M174.84 157.59h0.01M186.91 156.42h0.01M164 159.61h0.01M177.63 157.3h0.01M196.46 159.21h0.01M154.93 159.75h0.01M181.14 159.11h0.01M182.16 157.9h0.01M187.14 156.97h0.01M179.29 158.68h0.01M157.09 159.47h0.01M167.65 158.46h0.01M191.1 156.29h0.01M167.09 159.75h0.01M198.83 158.37h0.01M174.94 158.56h0.01M190.72 158.47h0.01M174.15 159.43h0.01M197 157.64h0.01M159.41 159.28h0.01M198.74 156.64h0.01M175.85 157.43h0.01M196.33 148.97h0.01M171.4 158.87h0.01M182.66 156.65h0.01M192.05 158.87h0.01M154.13 159.35h0.01M170.99 159.38h0.01M170.16 158.6h0.01M162.02 158.51h0.01M186.07 158.52h0.01M160.7 158.41h0.01M178.88 157.72h0.01M194.43 157.58h0.01M180.83 156.83h0.01M185.33 156.52h0.01M182.09 157.03h0.01M191.31 160.33h0.01M182.58 159.7h0.01M178.22 159.71h0.01M183.07 158.1h0.01M186.52 159.63h0.01M189.42 156.17h0.01M167.02 160.56h0.01M183.29 156.73h0.01M170.19 158.88h0.01M168.84 160.28h0.01M162.93 159.91h0.01M199.01 158.93h0.01M179.43 159.76h0.01M186.17 158.63h0.01M167.55 160.21h0.01M178.68 157.39h0.01M187.48 157.04h0.01M164.3 159.04h0.01M179.35 158.65h0.01M183.6 158.41h0.01M179.04 158.44h0.01M200.39 158.35h0.01M169.5 158.82h0.01M170.68 158.61h0.01M176.52 157.53h0.01M184.83 156.51h0.01M174.79 157.57h0.01M173.22 158.98h0.01M184.22 156.38h0.01M149.72 158.26h0.01M155.45 159.21h0.01M168.49 158.42h0.01M196.55 158.58h0.01M181.57 159.23h0.01M150.84 159.6h0.01M192.27 156.42h0.01M183.61 156.93h0.01M188.49 158.26h0.01M177.59 158.87h0.01M194.03 155.87h0.01M186.16 153.45h0.01M185.42 157.35h0.01M171.55 158.01h0.01M154.37 159.55h0.01M159.82 158.47h0.01M189.67 160.53h0.01M163.2 158.84h0.01M188.82 156.48h0.01M153.22 160.2h0.01M190.18 157.64h0.01M191.23 159.66h0.01M149.93 157.49h0.01M188.23 156.46h0.01M199.12 157.29h0.01M196.82 159.98h0.01M169.67 159.55h0.01M199.34 160.17h0.01M164.29 158.3h0.01M186.21 157.73h0.01M174.44 159.1h0.01M186.23 156.2h0.01M190.89 156.63h0.01M177.12 158.51h0.01M162.18 159.72h0.01M158.02 158.98h0.01M183.79 159.36h0.01M190.06 157.18h0.01M182.27 158.65h0.01M165.55 158.51h0.01M194.78 159.39h0.01M180.54 160.2h0.01M181.51 158.39h0.01M182.65 157.69h0.01M188.68 144.79h0.01M188.91 159.64h0.01M169.48 158.76h0.01M154.4 158.15h0.01M176.18 158.65h0.01M170.49 159.51h0.01M175.34 153.06h0.01M187.24 156.9h0.01M193.11 157.83h0.01M189.85 156.03h0.01M180.28 158.25h0.01M173.76 158.58h0.01M184.15 157.56h0.01M159.92 160.51h0.01M191.55 155.9h0.01M188.18 159.39h0.01M168.39 158.42h0.01M190.31 158.27h0.01M171.24 158.84h0.01M170.02 159.38h0.01M189.05 159.31h0.01M172.02 158.63h0.01M181.03 157.19h0.01M168.86 159.08h0.01M170.4 160.02h0.01M174.98 157.8h0.01M161.47 159.94h0.01M181.19 160.38h0.01M182.31 157.86h0.01M188.28 159.02h0.01M181.19 158.95h0.01M176.67 158.96h0.01M190.56 155.6h0.01M181.47 157.57h0.01M196.51 156.11h0.01M169.19 158.98h0.01M169.91 158.46h0.01M186.43 157.86h0.01M186.34 156.85h0.01M201.55 157.97h0.01M185.31 157.93h0.01M178.48 156.9h0.01M181.27 159.07h0.01M179.72 160.16h0.01M178.38 159.13h0.01M181.2 158.77h0.01M154.14 159.02h0.01M172.17 159.37h0.01M187.36 157.82h0.01M151.24 160.01h0.01M175.69 159.08h0.01M197 158.26h0.01M196.82 157.41h0.01M190.15 147.6h0.01M181.33 158.05h0.01M187.44 158.37h0.01M172.27 157.96h0.01M171.92 158.04h0.01M171.72 159.03h0.01M163.47 159.94h0.01M160.46 159.52h0.01M186.51 156.57h0.01M192.62 158.34h0.01M179.31 157.37h0.01M171.13 160h0.01M158.14 160.1h0.01M182.54 156.91h0.01M179.6 158.64h0.01M171.39 158.03h0.01M180.53 158.06h0.01M196.11 157.51h0.01M191.83 159.39h0.01M164.85 159.24h0.01M178.93 158.7h0.01M186.66 157.64h0.01M190.34 155.81h0.01M198.87 160.11h0.01M178.58 159.44h0.01M193.32 159.53h0.01M197.15 156.52h0.01M162.72 159.39h0.01M188.7 159.3h0.01M198.84 160.47h0.01M162.02 158.82h0.01M194.37 159.09h0.01M169.73 160.37h0.01M160.54 159.57h0.01M175.15 155.72h0.01M181.49 159.98h0.01M178.45 159.2h0.01M185.92 159.71h0.01M158.4 159.87h0.01M197.23 156.25h0.01M164.05 158.69h0.01M179.35 157.07h0.01M163.65 159.92h0.01M183.63 157.61h0.01M152.57 160.53h0.01M171.33 159.65h0.01M163.18 158.71h0.01M182.19 154.63h0.01M183.73 157.04h0.01M163.36 159.91h0.01M160.82 160.23h0.01M189.04 157.53h0.01M196.85 157.66h0.01M182.29 156.98h0.01M178.05 158.42h0.01M184.44 159.44h0.01M173.83 158.96h0.01M154.44 159.16h0.01M183.3 156.93h0.01M184.19 158.94h0.01M180.56 158.32h0.01M188.05 157.77h0.01M170.95 158.25h0.01M195.1 159h0.01M184.24 160.36h0.01M185.58 158.62h0.01M185.69 159.5h0.01M188.73 156.95h0.01M162.62 159.93h0.01M156.04 159.04h0.01M194.31 157.47h0.01M179.22 158.52h0.01M179.07 157.28h0.01M150.06 159.23h0.01M184.01 158.02h0.01M194.47 156.58h0.01M155.94 158.91h0.01M184.84 155.89h0.01M190.41 157.24h0.01M164.05 158.48h0.01M166.47 158.8h0.01M191.56 157.01h0.01M161.46 159.4h0.01M174.63 159.95h0.01M186.29 160.5h0.01M182.04 156.69h0.01M192.02 159.75h0.01M167.41 159.6h0.01M179.05 160.3h0.01M184.67 156.4h0.01M160.5 158.65h0.01M194.99 157.82h0.01M186.27 159.4h0.01M181.49 156.96h0.01M174.04 158.44h0.01M178.93 159.36h0.01M186.57 159.1h0.01M179.72 158.01h0.01M171.74 157.88h0.01M188.26 158.68h0.01M179.79 157.35h0.01M157.96 159.01h0.01M179.67 158h0.01M167.48 158.8h0.01M173.37 158.02h0.01M180.6 157.72h0.01M176.25 157.11h0.01M157.01 158.53h0.01M184.88 159.54h0.01M172.24 158.22h0.01M183.47 157.19h0.01M190.36 157.51h0.01M190.57 158.91h0.01M175.41 160.19h0.01M185.77 157.91h0.01M192.17 159.98h0.01M185.79 157.71h0.01M171.18 159.77h0.01M174.61 157.7h0.01M197.38 159.01h0.01M162.69 159.6h0.01M180.29 157h0.01M175.49 159.48h0.01M158.42 158.75h0.01M159.92 158.52h0.01M176.43 158.97h0.01M181.1 157.14h0.01M174.05 160.53h0.01M184.7 157.35h0.01M160.52 158.59h0.01M179.35 157.13h0.01M184.35 160.11h0.01M187.26 159.48h0.01M197.24 156.77h0.01M195.68 156.95h0.01M190.01 156.37h0.01M185.3 159.42h0.01M174 157.95h0.01M172.57 157.76h0.01M159.28 159.72h0.01M195.85 158.52h0.01M191.15 157.53h0.01M178.24 158.77h0.01M172 158.92h0.01M165.1 160.09h0.01M189.12 158.05h0.01M194.92 159.59h0.01M157.65 159.11h0.01M171.25 159.23h0.01M178.08 158.91h0.01M180.91 159.21h0.01M167.87 160.11h0.01M175.02 154.32h0.01M175.51 157.65h0.01M178 159.25h0.01M172.15 158.55h0.01M186.38 158.79h0.01M182.04 157.49h0.01M177.86 160.12h0.01M165.44 159.99h0.01M185.11 158.64h0.01M170.04 159.74h0.01M165.3 158.88h0.01M170.84 158.32h0.01M177.85 158.34h0.01M178.27 160.09h0.01M195.6 158.43h0.01M161.52 158.79h0.01M175.84 159.16h0.01M170.89 159.82h0.01M185.8 157.82h0.01M196.75 156.51h0.01M190.51 160.33h0.01M197.9 156.71h0.01M183.9 158.33h0.01M165.38 159.15h0.01M163.89 158.55h0.01M192.02 158.68h0.01M171.97 158.18h0.01M184.7 157.75h0.01M160.86 159.36h0.01M189.78 159.2h0.01M173.19 158.15h0.01M184.31 160.31h0.01M186.39 157.83h0.01M179.36 157.22h0.01M182.04 158.57h0.01M157.45 158.71h0.01M174.85 159.47h0.01M194.84 156.32h0.01M183.42 157.91h0.01M156.26 158.88h0.01M182.28 159.82h0.01M184.87 157.49h0.01M185.05 146.91h0.01M179.88 157.37h0.01M190.4 157.82h0.01M177.05 160.18h0.01M169.32 158.68h0.01M185.88 157.34h0.01M195.88 158.82h0.01M176.73 157.62h0.01M188 157.33h0.01M193.46 155.55h0.01M174.51 158h0.01M190.57 156.37h0.01M176.66 157.9h0.01M181.5 157h0.01M179.08 160.05h0.01M161.5 158.59h0.01M164.66 158.75h0.01M177.2 158.42h0.01M195.76 157.84h0.01M178.99 158.89h0.01M163.2 158.91h0.01M187.92 157.58h0.01M162.22 160.26h0.01M192.18 156.03h0.01M187.56 156.47h0.01M191.28 159.27h0.01M180.7 157.65h0.01M173.05 158.01h0.01M177.53 159.59h0.01M186.33 158.45h0.01M180.03 160.49h0.01M172.46 158.84h0.01M168.71 160.32h0.01M165.81 158.53h0.01M157.3 159.86h0.01M167.01 159.67h0.01M178.4 159.53h0.01M163.28 159.25h0.01M161.55 159.22h0.01M187.43 157.27h0.01M183.54 159.48h0.01M186.26 156.51h0.01M177.44 159.39h0.01M191.86 157.39h0.01M188.04 158.83h0.01M175.92 158.85h0.01M185.25 159.47h0.01M166.27 159.66h0.01M198.9 158.74h0.01M156.78 158.56h0.01M156.48 158.86h0.01M187.65 160.5h0.01M175.26 160.16h0.01M174.81 158.19h0.01M196.97 156.66h0.01M193.94 155.95h0.01M181.1 159.66h0.01M169.37 159.9h0.01M173.96 158.18h0.01M190.11 159.88h0.01M180.49 157.99h0.01M186.05 158.25h0.01M182.86 159.72h0.01M187.65 160.41h0.01M181.68 157.55h0.01M179.49 158.62h0.01M160.28 159.32h0.01M183.01 159.15h0.01M169.92 158.21h0.01M192.19 156.59h0.01M181.94 160.5h0.01M184.23 159.82h0.01M180.08 157.92h0.01M193.56 157.07h0.01M189.81 156.06h0.01M186.47 156.3h0.01M160.06 158.72h0.01M189.23 156.91h0.01M193.17 156.26h0.01M196.46 157.64h0.01M185.35 158.35h0.01M180.49 159.49h0.01M190.75 156.18h0.01M185.85 157.81h0.01M185.23 160.5h0.01M197.34 159.34h0.01M160.66 159.86h0.01M156.21 158.76h0.01M191.68 158.88h0.01M175.79 158.93h0.01M181.65 157.67h0.01M151.09 159.57h0.01M189.99 158.94h0.01M185.56 159.33h0.01M173.7 158.82h0.01M190.31 156.44h0.01M185.9 158.58h0.01M173.99 158.25h0.01M164.7 159.85h0.01M153.43 160.37h0.01M164.65 158.49h0.01M187.57 156.52h0.01M181.57 156.66h0.01M176.36 157.44h0.01M196.22 158.77h0.01M173.61 158.5h0.01M185.86 159.37h0.01M186.79 157.77h0.01M162.9 159.1h0.01M188.4 157h0.01M179.54 159.34h0.01M176.72 158.86h0.01M182.98 156.74h0.01M171.89 159.87h0.01M190.93 155.86h0.01M175.36 157.72h0.01M198.15 156.34h0.01M159.72 159.88h0.01M153.59 159.73h0.01M185.66 159.53h0.01M174.19 160.15h0.01M162.61 158.71h0.01M157.38 158.84h0.01M184.8 158.85h0.01M160.97 160.4h0.01M169.43 158.21h0.01M157.83 160.28h0.01M165.4 158.91h0.01M169.92 159.16h0.01M191.81 157.07h0.01M183.95 160.12h0.01M188.49 157.69h0.01M179.99 157.67h0.01M172.01 158.94h0.01M151.15 158.83h0.01M186.7 159.2h0.01M182.83 157.88h0.01M180.54 157.8h0.01M180.74 157.46h0.01M163.74 159.82h0.01M175.13 158.84h0.01M201.15 158.03h0.01M186.16 156.06h0.01M184.18 156.29h0.01M192.07 156.3h0.01M165.3 158.63h0.01M174.98 158.93h0.01M192.81 155.79h0.01M167.09 158.74h0.01M174.59 159.83h0.01M164.53 158.95h0.01M170.64 158.62h0.01M155 158.53h0.01M192.11 158.67h0.01M186.06 159.56h0.01M184.86 157.76h0.01M172.25 159.17h0.01M165.33 159.06h0.01M197.47 157.1h0.01M187.56 159.35h0.01M156.99 159.3h0.01M167.77 160h0.01M188.82 158.77h0.01M166.18 160.1h0.01M189.35 159.81h0.01M181.64 157.28h0.01M157.32 160.27h0.01M180.47 157.57h0.01M172.08 159.78h0.01M186.25 159.51h0.01M156.93 159.46h0.01M188.03 156.82h0.01M168.23 160.4h0.01M186.01 160.48h0.01M192.96 158.31h0.01M184.8 156.29h0.01M180.74 157.51h0.01M156.22 159.24h0.01M174.39 159.16h0.01M173.45 158.27h0.01M178.8 157.58h0.01M180.75 157.59h0.01M176.37 159.82h0.01M183.6 157.5h0.01M163.3 159.15h0.01M192.62 156.89h0.01M182.42 157.31h0.01M200.71 158.36h0.01M167.84 160.24h0.01M186.89 157.08h0.01M179.81 157.66h0.01M193.55 159.85h0.01M153.2 158.77h0.01M160.38 159.51h0.01M155.19 160.58h0.01M146.31 156.34h0.01M139.82 142.12h0.01M157.23 160.47h0.01M140.93 159.91h0.01M141.08 156.61h0.01M150.93 158.32h0.01M147.38 155.9h0.01M144.61 156.3h0.01M139.02 154.63h0.01M139.09 159.76h0.01M153.58 160.56h0.01M142.31 155.98h0.01M146.64 160.58h0.01M139.76 148.91h0.01M144.18 160.43h0.01M145.65 159.26h0.01M159.03 160.59h0.01M140.55 160.36h0.01M147.22 155.69h0.01M152.75 160.55h0.01M146.96 159.63h0.01M158.36 160.27h0.01M148.42 160.18h0.01M144.8 157.76h0.01M143.69 156.62h0.01M139.56 155.18h0.01M158.65 160.48h0.01M146.23 156.65h0.01M153.68 159.71h0.01M143.73 154.76h0.01M140.81 152.46h0.01M139.06 159.01h0.01M140.49 157.26h0.01M151.72 160.59h0.01M155.45 160.58h0.01M157.57 159.96h0.01M148.67 157.65h0.01M157.29 160.41h0.01M154.87 160.59h0.01M152.84 159.76h0.01M152.72 160.52h0.01M139.5 152.66h0.01M148.48 158.42h0.01M140.54 153.15h0.01M158.11 160.53h0.01M153.88 159.27h0.01M150.07 159.85h0.01M144.44 158.11h0.01M139.9 160.33h0.01M141.98 159.85h0.01M156.1 160.43h0.01M155.42 160.2h0.01M156.06 159.82h0.01M151.03 159.96h0.01M141.43 154.42h0.01M142.51 150.98h0.01M139.2 148.84h0.01M142.97 157.83h0.01M147.02 155.3h0.01M158.85 160.5h0.01M157.78 159.98h0.01M146.66 158.38h0.01M140.78 148.17h0.01M145.79 156.22h0.01M156.74 160.23h0.01M150.62 159.62h0.01M139.97 154.8h0.01M139.33 159.25h0.01M158.46 160.48h0.01M140.02 155.35h0.01M139.32 150h0.01M141.21 159.32h0.01M149.2 157.47h0.01M139.05 145.86h0.01M147.91 159.24h0.01M144.5 160.59h0.01M143.2 156.75h0.01M142.91 148.49h0.01M142.99 151.55h0.01M153.63 159.58h0.01M145.93 158.52h0.01M154.53 160.56h0.01M141.16 160.58h0.01M145.92 158.83h0.01M157.73 160h0.01M144.2 157.71h0.01M139.7 146.43h0.01M146.51 160.3h0.01M155.46 160.59h0.01M140.71 155.24h0.01M158.95 160.57h0.01M141.78 150.34h0.01M142.92 149.84h0.01M139.07 158.33h0.01M142.47 150.53h0.01M139.68 148.8h0.01M155.74 159.65h0.01M153.51 160.58h0.01M145.74 160.07h0.01M139.87 158.59h0.01M151.64 159.73h0.01M139.97 158h0.01M139.36 139.06h0.01M152.13 160.03h0.01M157.89 159.97h0.01M140.9 158.82h0.01M140.7 152.03h0.01M148.21 159.18h0.01M152.65 159.98h0.01M142.56 153.98h0.01M157.53 160.59h0.01M145.81 160.35h0.01M151.95 160.1h0.01M154.4 159.94h0.01M157.83 160.33h0.01M148.23 156.47h0.01M153.43 160.35h0.01M139.69 140.57h0.01M139.34 139.1h0.01M157.07 160.22h0.01M157.53 160.3h0.01M151.92 159.73h0.01M141.12 160.36h0.01M151.85 160.05h0.01M139.9 152.39h0.01M141.75 159.02h0.01M155.44 160.13h0.01M151.98 159.13h0.01M144.8 158.41h0.01M144.71 159.1h0.01M152.78 159.16h0.01M142.28 152.84h0.01M141.02 160.59h0.01M150.38 158.76h0.01M142.81 148.24h0.01M151.23 160.25h0.01M152.29 159.14h0.01M140.07 142.36h0.01M144.75 159.65h0.01M143.67 157.03h0.01M146.69 159.86h0.01M139.32 149.28h0.01M151.19 159.3h0.01M144.02 153.02h0.01M139.07 159.79h0.01M139.07 151.07h0.01M146.6 160.11h0.01M146.65 160.59h0.01M139.16 136.68h0.01M155.71 160.58h0.01M149.65 159.56h0.01M146.93 156.46h0.01M149.3 157.45h0.01M150.29 158.12h0.01M139.82 144.51h0.01M142.64 149.39h0.01M153.12 159.04h0.01M152.16 160.19h0.01M146.61 156.69h0.01M139.3 151.91h0.01M147.59 157.82h0.01M143.03 155.49h0.01M151.66 160.17h0.01M150.29 158.17h0.01M143.52 156.95h0.01M145.76 155.41h0.01M141.83 158.79h0.01M143.95 155.77h0.01M140.24 140.69h0.01M146.16 156.81h0.01M144.32 160.57h0.01M143.82 156.64h0.01M139.57 137.82h0.01M148.03 159.4h0.01M139.12 158.21h0.01M142.94 154.76h0.01M140.48 154.83h0.01M141.84 154.88h0.01M150.45 159.68h0.01M152.03 159.68h0.01M139.51 148.93h0.01M145.76 156.22h0.01M157.18 160.47h0.01M154.71 160.49h0.01M149.52 160.59h0.01M154.02 160.24h0.01M145.16 158.19h0.01M143.57 159.71h0.01M150.55 159.36h0.01M139.28 157.89h0.01M157.02 160.5h0.01M142.2 155.06h0.01M143.58 150.8h0.01M158.52 160.58h0.01M141.16 159.74h0.01M144.96 159.63h0.01M150.11 158.17h0.01M139.4 160.54h0.01M139.77 157.5h0.01M140 155.4h0.01M143.41 154.14h0.01M158.06 159.99h0.01M144.48 156.35h0.01M139.98 151.21h0.01M155.65 159.78h0.01M140.07 159.58h0.01M156.17 160.1h0.01M152.35 160.57h0.01M148.76 160.59h0.01M151.68 159.11h0.01M142.68 160.59h0.01M151.58 158.37h0.01M148.81 159.9h0.01M142.8 151.83h0.01M158.11 160.48h0.01M141.1 143.26h0.01M144.62 158.41h0.01M142.49 152.91h0.01M158.52 160.44h0.01M154.85 160.35h0.01M144.51 154.45h0.01M158.17 160.21h0.01M150.87 158.73h0.01M156.66 159.83h0.01M146.78 159.45h0.01M139.03 151.79h0.01M143.26 160.59h0.01M158.84 160.52h0.01M157.03 160.59h0.01M143.34 153.17h0.01M150.08 159.07h0.01M145.85 160.48h0.01M154.2 159.75h0.01M145.63 157.9h0.01M153.45 160.13h0.01M145.59 158.48h0.01M151.67 159.29h0.01M142.9 152.63h0.01M143.63 155.17h0.01M143.66 151.79h0.01M157.27 160.12h0.01M143.73 158.84h0.01M144.73 156.96h0.01M139.15 151.46h0.01M156.93 160.59h0.01M155.87 160.22h0.01M158.97 160.29h0.01M151.22 159.12h0.01M144.49 160.36h0.01M154.84 159.65h0.01M151.29 160.42h0.01M146.09 158.48h0.01M143.42 157.31h0.01M145.22 153.07h0.01M148.96 157.01h0.01M156.35 160.55h0.01M152.58 160.24h0.01M148.27 158.98h0.01M151.76 160.31h0.01M150.2 160.05h0.01M152.88 160.07h0.01M149.35 157.16h0.01M141.99 160.59h0.01M155.99 160.28h0.01M149.42 158.11h0.01M155.84 160.4h0.01M158.66 160.48h0.01M151.42 158.91h0.01M143.4 158.05h0.01M143.46 158.82h0.01M144.32 153.58h0.01M139.32 136.31h0.01M153.1 159.98h0.01M149.33 160.15h0.01M152.41 159.08h0.01M143.75 157.41h0.01M141.07 158.92h0.01M154.77 160.03h0.01M145.01 156.8h0.01M140.62 160.59h0.01M143.3 156.17h0.01M140.61 153.82h0.01M142.73 159.29h0.01M151.77 160.21h0.01M151.83 159.29h0.01M143.63 160.56h0.01M154.51 160.14h0.01M147.87 158.16h0.01M147.16 156.09h0.01M139.04 135.84h0.01M148.71 159.74h0.01M156.32 159.86h0.01M148.24 160.59h0.01M148.88 159.75h0.01M147.72 157.13h0.01M139.98 144.3h0.01M142.49 159.32h0.01M139.17 160.03h0.01M141.8 155.44h0.01M157.26 160.56h0.01M142.13 157.93h0.01M149.27 159.99h0.01M150 160.47h0.01M139.21 150.58h0.01M151.35 160.52h0.01M139.23 147.9h0.01M139.36 139.07h0.01M150.51 160.47h0.01M144.27 160.52h0.01M139.54 156.58h0.01M155.48 159.71h0.01M152.11 159.66h0.01M147.96 159.14h0.01M149.66 159.6h0.01M144.04 153.36h0.01M142.33 157.64h0.01M150.23 157.86h0.01M143.07 157.74h0.01M144.12 159.91h0.01M143.25 152.94h0.01M140.65 155.17h0.01M142.05 154.89h0.01M152.64 160.55h0.01M145.81 160.19h0.01M149.43 158.84h0.01M141.11 159.15h0.01M142.36 158.54h0.01M155.91 159.83h0.01M153.12 160.25h0.01M145.21 160.08h0.01M145.27 153.53h0.01M139.57 155.76h0.01M140.75 146.57h0.01M142.34 156.56h0.01M139.26 147.26h0.01M146.4 156.37h0.01M151.29 159.16h0.01M141.72 159.12h0.01M148.27 160.57h0.01M157.18 160.17h0.01M145.96 159.4h0.01M139.45 151.75h0.01M152.63 160.55h0.01M139.65 148.38h0.01M145.47 155.62h0.01M144.31 151.58h0.01M155.34 160.44h0.01M146.89 158.33h0.01M145.07 154.91h0.01M150.88 158.77h0.01M141.57 155.62h0.01M147.04 158.42h0.01M139.06 142.33h0.01M145.03 160.24h0.01M154.85 160.16h0.01M151.78 159.31h0.01M148.86 157.33h0.01M139.29 156.75h0.01M140.35 151.23h0.01M141.08 160.55h0.01M140.03 159.49h0.01M146.97 159.15h0.01M145.36 160.59h0.01M146.71 160.03h0.01M139.58 160.41h0.01M140.2 156.19h0.01M140.38 155.16h0.01M140.35 148.61h0.01M155.43 160.44h0.01M139.41 137.7h0.01M139.51 149.14h0.01M152.2 160.02h0.01M155.86 160.56h0.01M151.27 158.58h0.01M156.03 159.89h0.01M144.79 157.89h0.01M154.67 160.36h0.01M141.6 160.55h0.01M140.87 159.94h0.01M156.96 160.49h0.01M143.21 149.56h0.01M150.52 159.93h0.01M139.71 156.46h0.01M142.16 147.65h0.01M144.49 152.03h0.01M141.83 160.51h0.01M156.09 160.58h0.01M153.03 159.9h0.01M142.05 149.96h0.01M144.65 152.15h0.01M147.37 155.97h0.01M156.99 160.45h0.01M150.53 159h0.01M149.64 160.59h0.01M150.45 158.84h0.01M140.73 160.25h0.01M139.37 151.89h0.01M139.71 143.31h0.01M144.38 151.5h0.01M151.61 160.07h0.01M140.58 156.06h0.01M148.49 157.42h0.01M155.89 160.45h0.01M139.09 147.68h0.01M150.43 159.26h0.01M153.43 159.5h0.01M148.93 157.9h0.01M139.91 140.54h0.01M149.91 160.54h0.01M140.41 151.2h0.01M142.41 148.52h0.01M141.97 156.28h0.01M146.18 154.8h0.01M142.38 149.41h0.01M151.34 159.7h0.01M157.45 160.02h0.01M152.01 159.86h0.01M139.21 158.66h0.01M149.53 160.51h0.01M149.35 160.02h0.01M143.85 153.3h0.01M154.46 159.82h0.01M145 157.78h0.01M158.61 160.1h0.01M148.5 160.54h0.01M156.16 160.59h0.01M139.83 149.57h0.01M140.76 149.08h0.01M150.41 160.46h0.01M156.35 159.72h0.01M149.68 157.45h0.01M153.38 160.15h0.01M154.01 159.35h0.01M150.65 160.55h0.01M143.57 154.68h0.01M143.45 160.07h0.01M145.19 160.31h0.01M145.56 160.45h0.01M151.42 160.43h0.01M157.14 160.58h0.01M149.06 158.87h0.01M140.8 152.22h0.01M147.17 158.27h0.01M140.62 155.15h0.01M154.32 160.02h0.01M141.43 158.06h0.01M155.53 160.59h0.01M145.64 158.29h0.01M144.67 160.59h0.01M139.72 143.51h0.01M145.17 159.63h0.01M145.1 160.54h0.01M139.49 143.2h0.01M152.28 160.47h0.01M142.6 160.43h0.01M142.61 156.31h0.01M152.1 159.96h0.01M154.65 159.38h0.01M147.58 160.57h0.01M140.01 149.58h0.01M139.96 142.4h0.01M139.28 160.41h0.01M158.92 160.48h0.01M147.3 158.45h0.01M139.84 157.1h0.01M143.51 154.11h0.01M152.87 159.66h0.01M140.56 155.39h0.01M156.57 160.55h0.01M143.15 155.48h0.01M158.9 160.59h0.01M150.53 159.86h0.01M146.72 156.29h0.01M139.62 150.85h0.01M142.59 152.52h0.01M151.11 160.04h0.01M140.21 147.43h0.01M150.77 159.61h0.01M151.92 158.68h0.01M141.44 151.92h0.01M153.53 160.43h0.01M156.2 160.47h0.01M157.74 160.33h0.01M158.23 160.1h0.01M152.86 160.27h0.01M145.23 157.46h0.01M153.48 160.25h0.01M156.08 160.52h0.01M146.55 160.37h0.01M140.44 158.16h0.01M139.23 150.92h0.01M148.8 159.8h0.01M153.28 160.02h0.01M150.33 160.55h0.01M142.81 160.58h0.01M140.3 145.13h0.01M140.02 151.65h0.01M143.67 155.22h0.01M155.31 159.81h0.01M158 160h0.01M144.06 151.03h0.01M152.36 160.38h0.01M142.79 156.42h0.01M154.58 160.57h0.01M155.86 160.11h0.01M148.16 159.65h0.01M143.74 158.35h0.01M151.14 159.98h0.01M151.09 158.63h0.01M139.54 160.57h0.01M157.3 160.55h0.01M153.73 160.28h0.01M141.16 160.58h0.01M144.64 156.94h0.01M139.28 160.58h0.01M142.11 149.05h0.01M152.03 160.39h0.01M144.15 158.43h0.01M150.96 160.3h0.01M143.26 157.03h0.01M141.33 156.64h0.01M151.97 159.95h0.01M139.29 156.44h0.01M147.64 160.19h0.01M143.85 156.81h0.01M143.43 159.98h0.01M155.41 160.58h0.01M156.29 160.58h0.01M147.28 158.74h0.01M144.27 156.37h0.01M155.64 160.45h0.01M139.32 158.99h0.01M155.5 160.16h0.01M152.13 160.19h0.01M142.71 153.83h0.01M147.59 156.41h0.01M140.31 157.29h0.01M150.53 158.27h0.01M145.4 155.6h0.01M139.75 149.95h0.01M142.8 153.89h0.01M142.27 159.79h0.01M141.82 151.85h0.01M151.06 158.48h0.01M144.35 160.5h0.01M153.58 160.44h0.01M151.2 159.88h0.01M144.95 160.57h0.01M141.19 150.12h0.01M145.26 154.37h0.01M153.53 160.07h0.01M158.53 160.59h0.01M144.1 157.27h0.01M139.27 140.85h0.01M140.18 152.31h0.01M141.85 157.66h0.01M145.38 159.68h0.01M140.44 150.62h0.01M148.94 160.54h0.01M158.24 160.58h0.01M141.13 158.59h0.01M143.43 157.3h0.01M156.2 160.57h0.01M147.73 158.46h0.01M141.64 157.89h0.01M144.96 153.93h0.01M152.73 160.08h0.01M139.38 156.34h0.01M153.8 160.24h0.01M143.91 155.9h0.01M139.18 148.45h0.01M150.39 160.52h0.01M144.42 153.61h0.01M141.71 155.34h0.01M143.09 156.29h0.01M143.92 158.96h0.01M156.82 160.17h0.01M159 160.51h0.01M145.4 159.24h0.01M155.18 160.39h0.01M150.25 160.44h0.01M147.02 160h0.01M156.51 160.44h0.01M157.64 160.33h0.01M143.01 156.24h0.01M157 160.18h0.01M154 160.07h0.01M148.76 160.46h0.01M154.21 159.97h0.01M149.47 160.15h0.01M152.37 159.95h0.01M142.65 147.91h0.01M152.61 159.65h0.01M154.43 159.9h0.01M143.8 151.09h0.01M156.28 160.14h0.01M144.76 157.97h0.01M139.22 139.93h0.01M154.18 160.04h0.01M145.39 155.41h0.01M139.08 155.13h0.01M141.53 153.72h0.01M143.24 155.69h0.01M156.04 160.39h0.01M139.8 160.58h0.01M154.31 160.23h0.01M144.89 160.57h0.01M139.68 160.59h0.01M155.99 160.59h0.01M142.68 157.01h0.01M147.71 160.22h0.01M149.41 159h0.01M158.59 160.58h0.01M142.24 160.3h0.01M142.14 159.57h0.01M139.13 142.75h0.01M141.92 151.59h0.01M153.72 159.6h0.01M139.1 150.17h0.01M154.74 160.04h0.01M148.42 159.62h0.01M153.96 160.11h0.01M143.2 157.09h0.01M145.5 160.17h0.01M150.07 158.39h0.01M149.6 160.59h0.01M144.18 154.54h0.01M139.97 153.77h0.01M150.33 159.61h0.01M142.83 160.58h0.01M150.85 160.47h0.01M148.36 159.19h0.01M151.33 160.54h0.01M158.26 160.23h0.01M155.34 160.53h0.01M151.26 160.14h0.01M150.75 159.17h0.01M144.26 152.03h0.01M144.83 158.29h0.01M151.13 160.49h0.01M156 160.45h0.01M155.76 160.56h0.01M139.89 151.57h0.01M141.39 156.51h0.01M140.82 149.94h0.01M151.7 159.44h0.01M140.01 160.47h0.01M147.93 160.53h0.01M151.15 159.72h0.01M157.05 160.05h0.01M149.64 158.23h0.01M146.26 159.82h0.01M139.33 147.01h0.01M149.9 159.17h0.01M146.35 158.96h0.01M156.66 160.44h0.01M140.07 140.98h0.01M152.32 158.99h0.01M158.61 160.46h0.01M140.25 154.41h0.01M145.89 159.23h0.01M152.98 160.43h0.01M158.16 160.55h0.01M142.05 150.05h0.01M141.29 150.86h0.01M141.89 157.32h0.01M145.47 159.91h0.01M153.98 159.34h0.01M156.83 160.56h0.01M139.1 154.2h0.01M151.77 159.82h0.01M157.87 159.96h0.01M150.32 160.3h0.01M144.12 160.5h0.01M143.97 154.49h0.01M142.58 159.85h0.01M146.94 155.99h0.01M149.41 160.51h0.01M144.7 159.89h0.01M153.67 160.26h0.01M144.94 154.01h0.01M142.26 157.04h0.01M158.46 160.52h0.01M146.96 157.95h0.01M142.9 155.02h0.01M144.5 154.06h0.01M147.34 157.61h0.01M147.71 158.01h0.01M143.9 160.2h0.01M143.41 158.95h0.01M139.06 143.92h0.01M146.63 158.9h0.01M150.86 160.57h0.01M139.91 148.09h0.01M139.19 140.6h0.01M146.27 154.62h0.01M154.96 160.34h0.01M143.06 157.72h0.01M152.53 160.1h0.01M146.12 89.04h0.01M143.94 95.25h0.01M141.75 98.7h0.01M151.94 99.39h0.01M145.39 106.98h0.01M149.03 112.5h0.01M140.66 119.4h0.01M143.21 122.85h0.01M158.5 140.1h0.01M164.68 144.24h0.01M171.24 145.62h0.01M187.25 143.55h0.01M201.45 140.1h0.01M196.35 147h0.01M215.28 153.21h0.01M206.54 153.9h0.01M178.88 151.14h0.01" stroke="#d63a52" stroke-width="1.2" stroke-linecap="round" fill="none" stroke-opacity="0.85"/>
<line x1="131.5" y1="34" x2="131.5" y2="167" stroke="#555" stroke-width="0.8" stroke-dasharray="1.6 1.4"/>
<line x1="138.6" y1="34" x2="138.6" y2="167" stroke="#555" stroke-width="0.8" stroke-dasharray="1.6 1.4"/>
<line x1="43" y1="160.4" x2="223" y2="160.4" stroke="#555" stroke-width="0.8" stroke-dasharray="1.6 1.4"/>
<line x1="32.3" y1="160.8" x2="34.5" y2="160.8" stroke="#888" stroke-width="0.8"/>
<text x="32.1" y="163.5" font-size="7.6" fill="#444" text-anchor="end">0</text>
<line x1="32.3" y1="126.3" x2="34.5" y2="126.3" stroke="#888" stroke-width="0.8"/>
<text x="32.1" y="129" font-size="7.6" fill="#444" text-anchor="end">50</text>
<line x1="32.3" y1="91.8" x2="34.5" y2="91.8" stroke="#888" stroke-width="0.8"/>
<text x="32.1" y="94.5" font-size="7.6" fill="#444" text-anchor="end">100</text>
<line x1="32.3" y1="57.3" x2="34.5" y2="57.3" stroke="#888" stroke-width="0.8"/>
<text x="32.1" y="60" font-size="7.6" fill="#444" text-anchor="end">150</text>
<line x1="62.4" y1="167.1" x2="62.4" y2="169.2" stroke="#888" stroke-width="0.8"/>
<text x="62.4" y="176" font-size="7.6" fill="#444" text-anchor="middle">−20</text>
<line x1="98.8" y1="167.1" x2="98.8" y2="169.2" stroke="#888" stroke-width="0.8"/>
<text x="98.8" y="176" font-size="7.6" fill="#444" text-anchor="middle">−10</text>
<line x1="135.2" y1="167.1" x2="135.2" y2="169.2" stroke="#888" stroke-width="0.8"/>
<text x="135.2" y="176" font-size="7.6" fill="#444" text-anchor="middle">0</text>
<line x1="171.6" y1="167.1" x2="171.6" y2="169.2" stroke="#888" stroke-width="0.8"/>
<text x="171.6" y="176" font-size="7.6" fill="#444" text-anchor="middle">10</text>
<line x1="208" y1="167.1" x2="208" y2="169.2" stroke="#888" stroke-width="0.8"/>
<text x="208" y="176" font-size="7.6" fill="#444" text-anchor="middle">20</text>
<text x="132.8" y="184.4" font-size="9" fill="#333" text-anchor="middle">log2 of Fold change</text>
<text x="16.8" y="97.9" font-size="9" fill="#333" text-anchor="middle" transform="rotate(-90 16.8 97.9)">−log10 of qval</text>
<circle cx="96.9" cy="20.1" r="0.8" fill="#f29aa6"/>
<text x="104.6" y="23.3" font-size="8.8" fill="#333" text-anchor="start">up</text>
<circle cx="122.3" cy="20.1" r="0.8" fill="#c8c8c8"/>
<text x="129.4" y="23.3" font-size="8.8" fill="#333" text-anchor="start">no</text>
<circle cx="147.3" cy="20.1" r="0.8" fill="#8fb0de"/>
<text x="154.8" y="23.3" font-size="8.8" fill="#333" text-anchor="start">down</text>
<text x="62.3" y="61" font-size="11.7" font-weight="bold" fill="#000" text-anchor="start">TRIB3</text>
<line x1="101" y1="65.9" x2="114" y2="74.6" stroke="#13284a" stroke-width="3"/>
<path d="M118.4 77.4 L110.6 76.6 L114.9 70.2 Z" fill="#13284a"/>
<line x1="271.4" y1="41.3" x2="271.4" y2="161.2" stroke="#000" stroke-width="1.5"/>
<line x1="270.6" y1="160.4" x2="365" y2="160.4" stroke="#000" stroke-width="1.5"/>
<line x1="268" y1="160.4" x2="271.4" y2="160.4" stroke="#000" stroke-width="1.3"/>
<text x="267.4" y="163.7" font-size="9" font-weight="bold" fill="#000" text-anchor="end">0.0</text>
<line x1="268" y1="120.8" x2="271.4" y2="120.8" stroke="#000" stroke-width="1.3"/>
<text x="267.4" y="124.1" font-size="9" font-weight="bold" fill="#000" text-anchor="end">0.4</text>
<line x1="268" y1="81.2" x2="271.4" y2="81.2" stroke="#000" stroke-width="1.3"/>
<text x="267.4" y="84.5" font-size="9" font-weight="bold" fill="#000" text-anchor="end">0.8</text>
<line x1="268" y1="41.6" x2="271.4" y2="41.6" stroke="#000" stroke-width="1.3"/>
<text x="267.4" y="44.9" font-size="9" font-weight="bold" fill="#000" text-anchor="end">1.2</text>
<line x1="293.5" y1="160.4" x2="293.5" y2="164" stroke="#000" stroke-width="1.3"/>
<line x1="343.2" y1="160.4" x2="343.2" y2="164" stroke="#000" stroke-width="1.3"/>
<line x1="284.6" y1="61.4" x2="284.6" y2="49.52" stroke="#1d4678" stroke-width="1"/>
<line x1="281.2" y1="49.52" x2="288" y2="49.52" stroke="#1d4678" stroke-width="1"/>
<rect x="279.12" y="62.12" width="10.85" height="98.28" fill="#fff" stroke="#1d4678" stroke-width="1.85"/>
<circle cx="284.6" cy="52.09" r="1.6" fill="#000"/>
<circle cx="284.6" cy="57.14" r="1.6" fill="#000"/>
<rect x="282.95" y="69.65" width="3.3" height="3.3" fill="#000" stroke="none" stroke-width="1"/>
<line x1="303.2" y1="154.46" x2="303.2" y2="151" stroke="#f7921f" stroke-width="1"/>
<line x1="299.8" y1="151" x2="306.6" y2="151" stroke="#f7921f" stroke-width="1"/>
<rect x="297.72" y="155.19" width="10.85" height="5.21" fill="#fff" stroke="#f7921f" stroke-width="1.85"/>
<path d="M303.2 149.56L301.27 153.06L305.12 153.06Z" fill="#000"/>
<path d="M301.3 152.53L299.38 156.03L303.23 156.03Z" fill="#000"/>
<path d="M305.4 152.53L303.47 156.03L307.32 156.03Z" fill="#000"/>
<line x1="333.9" y1="61.4" x2="333.9" y2="58.43" stroke="#1d4678" stroke-width="1"/>
<line x1="330.5" y1="58.43" x2="337.3" y2="58.43" stroke="#1d4678" stroke-width="1"/>
<rect x="328.43" y="62.12" width="10.65" height="98.28" fill="#fff" stroke="#1d4678" stroke-width="1.85"/>
<circle cx="333.9" cy="57.94" r="1.6" fill="#000"/>
<rect x="330.15" y="59.75" width="3.3" height="3.3" fill="#000" stroke="none" stroke-width="1"/>
<rect x="334.45" y="59.75" width="3.3" height="3.3" fill="#000" stroke="none" stroke-width="1"/>
<line x1="352.2" y1="115.16" x2="352.2" y2="110.9" stroke="#f7921f" stroke-width="1"/>
<line x1="348.8" y1="110.9" x2="355.6" y2="110.9" stroke="#f7921f" stroke-width="1"/>
<rect x="346.72" y="115.88" width="10.85" height="44.52" fill="#fff" stroke="#f7921f" stroke-width="1.85"/>
<path d="M352.2 109.97L350.27 113.47L354.12 113.47Z" fill="#000"/>
<path d="M350 114.92L348.07 118.42L351.93 118.42Z" fill="#000"/>
<path d="M354.6 114.92L352.68 118.42L356.53 118.42Z" fill="#000"/>
<rect x="329.8" y="33.3" width="8.6" height="3.9" fill="none" stroke="#1d4678" stroke-width="1.4"/>
<rect x="329.8" y="42.9" width="8.6" height="3.9" fill="none" stroke="#f7921f" stroke-width="1.4"/>
<text x="342" y="37.9" font-size="9.3" font-weight="bold" fill="#000" text-anchor="start">Control</text>
<text x="342" y="47.6" font-size="9.3" font-weight="bold" fill="#000" text-anchor="start">Palbociclib</text>
<text x="250.8" y="98.4" font-size="8.7" font-weight="bold" fill="#000" text-anchor="middle" transform="rotate(-90 250.8 98.4)">Relative mRNA expression</text>
<text x="296.4" y="171.8" font-size="9" font-weight="bold" fill="#000" text-anchor="end" transform="rotate(-45 296.4 171.8)">LNCAP</text>
<text x="346.4" y="171.8" font-size="9" font-weight="bold" fill="#000" text-anchor="end" transform="rotate(-45 346.4 171.8)">PC3</text>
<defs><filter id="bl1" x="-50%" y="-100%" width="200%" height="300%"><feGaussianBlur stdDeviation="1.1 0.9"/></filter><filter id="bl2" x="-50%" y="-100%" width="200%" height="300%"><feGaussianBlur stdDeviation="2.5 3"/></filter><clipPath id="cb1"><rect x="426" y="80.5" width="114.8" height="32.9"/></clipPath><clipPath id="cb2"><rect x="426" y="123.3" width="114.8" height="38.1"/></clipPath></defs>
<line x1="431.2" y1="52" x2="475.1" y2="52" stroke="#9a9a9a" stroke-width="1.3"/>
<line x1="490.9" y1="52" x2="535" y2="52" stroke="#9a9a9a" stroke-width="1.3"/>
<text x="450.6" y="43.4" font-size="12" font-weight="bold" fill="#555" text-anchor="start" transform="rotate(-45 450.6 43.4)">LNCaP</text>
<text x="508.5" y="43.2" font-size="12" font-weight="bold" fill="#555" text-anchor="start" transform="rotate(-45 508.5 43.2)">PC3</text>
<text x="417.8" y="71.3" font-size="11.7" font-weight="bold" fill="#555" text-anchor="end">Pal</text>
<text x="439.6" y="68.3" font-size="10" font-weight="bold" fill="#555" text-anchor="middle">-</text>
<text x="467.2" y="68.3" font-size="10" font-weight="bold" fill="#555" text-anchor="middle">+</text>
<text x="497.4" y="68.3" font-size="10" font-weight="bold" fill="#555" text-anchor="middle">-</text>
<text x="528.2" y="68.3" font-size="10" font-weight="bold" fill="#555" text-anchor="middle">+</text>
<rect x="426" y="80.5" width="114.8" height="32.9" fill="#f4f4f4" stroke="none" stroke-width="1"/>
<defs><linearGradient id="ln3" x1="0" y1="0" x2="0" y2="1"><stop offset="0" stop-color="#6a6a6a"/><stop offset="0.4" stop-color="#a0a0a0"/><stop offset="1" stop-color="#cccccc"/></linearGradient><linearGradient id="ln4" x1="0" y1="0" x2="0" y2="1"><stop offset="0" stop-color="#bdbdbd"/><stop offset="1" stop-color="#d8d8d8"/></linearGradient><linearGradient id="ln1" x1="0" y1="0" x2="0" y2="1"><stop offset="0" stop-color="#dcdcdc"/><stop offset="1" stop-color="#d8d8d8"/></linearGradient><filter id="bl3" x="-30%" y="-30%" width="160%" height="160%"><feGaussianBlur stdDeviation="2.2 1.5"/></filter><filter id="bl4" x="-30%" y="-60%" width="160%" height="220%"><feGaussianBlur stdDeviation="0.8 0.7"/></filter></defs>
<g clip-path="url(#cb1)">
<rect x="430.5" y="78" width="22" height="38" fill="url(#ln1)" filter="url(#bl3)"/>
<rect x="460" y="78" width="22" height="38" fill="#ebebeb" filter="url(#bl3)"/>
<rect x="488" y="78" width="21" height="38" fill="url(#ln3)" filter="url(#bl3)"/>
<rect x="516" y="78" width="21" height="38" fill="url(#ln4)" filter="url(#bl3)"/>
<rect x="432.5" y="91.6" width="17.5" height="5.8" rx="2.5" fill="#0d0d0d" filter="url(#bl4)"/>
<rect x="462" y="92.2" width="18" height="2.4" rx="1" fill="#c4c4c4" filter="url(#bl4)"/>
<rect x="489.5" y="90.6" width="17.5" height="5.6" rx="2.5" fill="#0a0a0a" filter="url(#bl4)"/>
<rect x="517.5" y="92.4" width="18" height="3.4" rx="1.5" fill="#333" filter="url(#bl4)"/>
</g>
<rect x="426" y="80.5" width="114.8" height="32.9" fill="none" stroke="#777" stroke-width="0.9"/>
<text x="438.8" y="121.3" font-size="6.6" fill="#111" text-anchor="middle">1.000</text>
<text x="470.4" y="121.3" font-size="6.6" fill="#111" text-anchor="middle">0.390</text>
<text x="497.4" y="121.3" font-size="6.6" fill="#111" text-anchor="middle">1.000</text>
<text x="526.3" y="121.3" font-size="6.6" fill="#111" text-anchor="middle">0.743</text>
<rect x="426" y="123.3" width="114.8" height="38.1" fill="#ededed" stroke="none" stroke-width="1"/>
<g clip-path="url(#cb2)">
<path d="M432.6 138.6 Q444 141.6 455.4 138.6 L455.4 144.4 Q444 146.4 432.6 144.4 Z" fill="#080808" filter="url(#bl4)"/>
<path d="M460.7 138.6 Q471.25 141.6 481.8 138.6 L481.8 144.4 Q471.25 146.4 460.7 144.4 Z" fill="#080808" filter="url(#bl4)"/>
<path d="M486.8 138.6 Q498.45 141.6 510.1 138.6 L510.1 144.4 Q498.45 146.4 486.8 144.4 Z" fill="#080808" filter="url(#bl4)"/>
<path d="M514.2 138.6 Q525.4 141.6 536.6 138.6 L536.6 144.4 Q525.4 146.4 514.2 144.4 Z" fill="#080808" filter="url(#bl4)"/>
</g>
<rect x="426" y="123.3" width="114.8" height="38.1" fill="none" stroke="#777" stroke-width="0.9"/>
<text x="417.8" y="101.9" font-size="12" font-weight="bold" fill="#555" text-anchor="end">TRIB3</text>
<text x="417.8" y="145.8" font-size="12" font-weight="bold" fill="#555" text-anchor="end">β-Actin</text>
<text x="632.1" y="16.6" font-size="10.3" font-weight="bold" fill="#555" text-anchor="middle">PRAD</text>
<rect x="592.4" y="21.9" width="84.3" height="141.3" fill="#fff" stroke="#777" stroke-width="0.9"/>
<line x1="589.4" y1="159.7" x2="592.4" y2="159.7" stroke="#777" stroke-width="0.6"/>
<text x="584.6" y="159.7" font-size="4.8" fill="#222" text-anchor="middle" transform="rotate(-90 584.6 159.7)" dy="1.5">1</text>
<line x1="589.4" y1="140.9" x2="592.4" y2="140.9" stroke="#777" stroke-width="0.6"/>
<text x="584.6" y="140.9" font-size="4.8" fill="#222" text-anchor="middle" transform="rotate(-90 584.6 140.9)" dy="1.5">2</text>
<line x1="589.4" y1="122.1" x2="592.4" y2="122.1" stroke="#777" stroke-width="0.6"/>
<text x="584.6" y="122.1" font-size="4.8" fill="#222" text-anchor="middle" transform="rotate(-90 584.6 122.1)" dy="1.5">3</text>
<line x1="589.4" y1="103.3" x2="592.4" y2="103.3" stroke="#777" stroke-width="0.6"/>
<text x="584.6" y="103.3" font-size="4.8" fill="#222" text-anchor="middle" transform="rotate(-90 584.6 103.3)" dy="1.5">4</text>
<line x1="589.4" y1="84.5" x2="592.4" y2="84.5" stroke="#777" stroke-width="0.6"/>
<text x="584.6" y="84.5" font-size="4.8" fill="#222" text-anchor="middle" transform="rotate(-90 584.6 84.5)" dy="1.5">5</text>
<line x1="589.4" y1="65.7" x2="592.4" y2="65.7" stroke="#777" stroke-width="0.6"/>
<text x="584.6" y="65.7" font-size="4.8" fill="#222" text-anchor="middle" transform="rotate(-90 584.6 65.7)" dy="1.5">6</text>
<line x1="589.4" y1="46.9" x2="592.4" y2="46.9" stroke="#777" stroke-width="0.6"/>
<text x="584.6" y="46.9" font-size="4.8" fill="#222" text-anchor="middle" transform="rotate(-90 584.6 46.9)" dy="1.5">7</text>
<line x1="589.4" y1="28.1" x2="592.4" y2="28.1" stroke="#777" stroke-width="0.6"/>
<text x="584.6" y="28.1" font-size="4.8" fill="#222" text-anchor="middle" transform="rotate(-90 584.6 28.1)" dy="1.5">8</text>
<line x1="634.6" y1="163.2" x2="634.6" y2="166" stroke="#777" stroke-width="0.6"/>
<text x="569.6" y="97.5" font-size="12.3" fill="#555" text-anchor="middle" transform="rotate(-90 569.6 97.5)">Relative expression</text>
<text x="635" y="177.6" font-size="10.6" fill="#555" text-anchor="middle">T=492;  N=152</text>
<line x1="621.9" y1="66.4" x2="621.9" y2="127.1" stroke="#999" stroke-width="0.6" stroke-dasharray="1 0.6"/>
<line x1="616.8" y1="66.4" x2="627" y2="66.4" stroke="#444" stroke-width="0.55"/>
<line x1="616.8" y1="127.1" x2="627" y2="127.1" stroke="#444" stroke-width="0.55"/>
<line x1="647.8" y1="91.2" x2="647.8" y2="150.9" stroke="#999" stroke-width="0.6" stroke-dasharray="1 0.6"/>
<line x1="642.7" y1="91.2" x2="652.9" y2="91.2" stroke="#444" stroke-width="0.55"/>
<line x1="642.7" y1="150.9" x2="652.9" y2="150.9" stroke="#444" stroke-width="0.55"/>
<rect x="611.3" y="90.1" width="20.8" height="15.6" fill="#f46363" stroke="#8a3030" stroke-width="0.6"/>
<line x1="611.3" y1="98.4" x2="632.1" y2="98.4" stroke="#5a1a1a" stroke-width="1.2"/>
<rect x="637.2" y="111" width="21" height="16.7" fill="#7f7f7f" stroke="#555" stroke-width="0.6"/>
<line x1="637.2" y1="118.8" x2="658.2" y2="118.8" stroke="#333" stroke-width="1.2"/>
<path d="M618.97 106.23h0.01M620.26 95.44h0.01M619.24 96.06h0.01M623.58 93.87h0.01M624.05 83.13h0.01M620.2 98.08h0.01M624.2 92.27h0.01M620.37 105.12h0.01M620.29 101.14h0.01M620.5 86.7h0.01M624.99 100.08h0.01M622.96 114.07h0.01M622.53 103.91h0.01M622.57 89.12h0.01M624.86 87.1h0.01M621.86 103.69h0.01M620.91 99.81h0.01M621.89 96.9h0.01M619.62 87.57h0.01M620.56 96.92h0.01M619.61 82.07h0.01M622.54 111.57h0.01M620.74 100.77h0.01M622.21 97.39h0.01M619.31 108.55h0.01M622.7 92.14h0.01M622.42 102.32h0.01M624.69 101.59h0.01M622.13 87.57h0.01M623.55 105.89h0.01M621.21 111.77h0.01M622.34 93.45h0.01M622.64 98.93h0.01M621.28 110.07h0.01M621.66 105.73h0.01M621.63 86.57h0.01M622.78 103.3h0.01M624.34 92.29h0.01M622.19 93.04h0.01M622.85 84.85h0.01M618.96 102.58h0.01M621.15 105.79h0.01M624.65 110.79h0.01M622.98 99.42h0.01M623.83 102.65h0.01M619.7 104.83h0.01M621.71 89.47h0.01M623.19 104.86h0.01M619.65 127.56h0.01M619.29 105.91h0.01M620.31 103.23h0.01M625.09 101.44h0.01M621.16 105.36h0.01M620.3 99.08h0.01M624.95 97.73h0.01M623.46 92.6h0.01M624.95 100.53h0.01M624.42 94.18h0.01M622.32 81.98h0.01M625.01 87.01h0.01M618.95 107.02h0.01M622.47 93.98h0.01M620.29 96.28h0.01M624.37 78.31h0.01M623.33 106.2h0.01M624.69 82.91h0.01M620.53 105.57h0.01M620.36 101.7h0.01M620.87 91.34h0.01M624 92.88h0.01M622.05 86.57h0.01M619.88 97.18h0.01M623.51 99.89h0.01M619.95 103.67h0.01M619.49 91.78h0.01M619.83 103.28h0.01M620.85 96.24h0.01M624.92 92.86h0.01M623.57 104.3h0.01M619.36 91h0.01M620.93 81.48h0.01M619.98 87.73h0.01M624.96 91.38h0.01M621.37 83.48h0.01M620.16 100.16h0.01M620.85 107.82h0.01M623.82 101.45h0.01M619.46 91.61h0.01M619.11 109.23h0.01M624.87 87.63h0.01M620.09 107.91h0.01M620.16 106.69h0.01M618.99 83.52h0.01M623.97 118.95h0.01M622.6 96.5h0.01M619.49 94.08h0.01M620.67 87.87h0.01M619.8 112.91h0.01M619.13 113.25h0.01M623.27 98.94h0.01M619.92 91.12h0.01M619.4 91.24h0.01M624.55 105.4h0.01M624.5 99.38h0.01M622.91 99.34h0.01M620.96 108.79h0.01M621.51 109.28h0.01M621.66 95.37h0.01M623.46 80.77h0.01M624.22 120.29h0.01M620.28 98.92h0.01M622 94.18h0.01M624.57 96.25h0.01M623.73 112.89h0.01M621.89 98.62h0.01M620.95 94.64h0.01M622.24 83.7h0.01M623.7 112.57h0.01M621.64 99.31h0.01M624.81 108.93h0.01M625.02 94.06h0.01M619.82 109.35h0.01M620.89 96.22h0.01M619.69 109.45h0.01M619.99 114.2h0.01M624.47 106.91h0.01M622.33 91.51h0.01M621.91 98.17h0.01M620.56 100.09h0.01M624.74 93.59h0.01M621.99 85.27h0.01M622 117.17h0.01M622.51 88.48h0.01M625.06 93.92h0.01M619.19 85.02h0.01M624.93 92.25h0.01M622.83 93.36h0.01M620.18 83.85h0.01M620.01 107.24h0.01M621.36 95.32h0.01M624.92 84.07h0.01M622.26 91.94h0.01M619.79 106.78h0.01M623.48 90.99h0.01M621.24 99.25h0.01M619.66 101.76h0.01M624.3 98.15h0.01M619.3 99.21h0.01M622.18 94.52h0.01M623.31 102.93h0.01M619.84 79.89h0.01M623.34 104.84h0.01M621.76 102.81h0.01M624.71 95.24h0.01M622.26 83.2h0.01M624.37 95.89h0.01M624.18 104.69h0.01M619.57 96.56h0.01M619.23 100.61h0.01M619.94 104.92h0.01M624.59 94.43h0.01M619.81 102.1h0.01M622.99 94.88h0.01M622.21 99.01h0.01M620.31 115.24h0.01M625.06 109.87h0.01M620.45 113.15h0.01M625.08 104.92h0.01M620.25 99.62h0.01M624.35 108.09h0.01M624.38 124.01h0.01M623.54 108.13h0.01M624.05 98.66h0.01M623.33 103.27h0.01M619.53 94.75h0.01M620.26 95.61h0.01M623.21 96.23h0.01M621.19 113.65h0.01M620.31 92.67h0.01M621.63 99.7h0.01M624.07 98.68h0.01M623.51 82.35h0.01M620.85 103.18h0.01M622.3 86.57h0.01M624.14 102.97h0.01M623.94 98.71h0.01M620.35 96.95h0.01M623.55 101.72h0.01M624.68 93.05h0.01M621.54 109.85h0.01M620.77 96.11h0.01M621.26 87.11h0.01M623.32 95.99h0.01M622.58 105.8h0.01M624.28 86.53h0.01M622.92 96.13h0.01M625.07 89.69h0.01M619.14 108.46h0.01M623.59 103.22h0.01M620.72 94.84h0.01M619.01 104.66h0.01M622.71 109.46h0.01M622.9 101.08h0.01M622.82 91.35h0.01M619.37 94.31h0.01M619.24 83.23h0.01M624.77 81.24h0.01M625.07 111.67h0.01M622.18 98.35h0.01M622.22 109.83h0.01M621.6 74.67h0.01M620.15 106.19h0.01M623.92 107.24h0.01M624.62 99.98h0.01M622.21 100.5h0.01M619.7 100.32h0.01M623.07 114.57h0.01M621.8 101.64h0.01M624.3 85.78h0.01M621.93 79.45h0.01M621.39 84.29h0.01M621.36 93.1h0.01M619.77 103.1h0.01M622.93 92.44h0.01M623.55 107.58h0.01M622.02 98.81h0.01M622.36 93.75h0.01M623.03 91.35h0.01M621.12 108.06h0.01M623.65 109.24h0.01M619.68 103.91h0.01M622.78 101.25h0.01M623.96 84.43h0.01M624 116.56h0.01M620.74 103.62h0.01M624.24 101.44h0.01M622.3 99.23h0.01M619.01 86.96h0.01M623.84 92.85h0.01M623.77 93.62h0.01M625.02 92.89h0.01M619.93 94.74h0.01M624.31 93.81h0.01M623.47 109.54h0.01M623.34 84.48h0.01M619.16 88.42h0.01M621.78 90.35h0.01M622.15 100.44h0.01M619.31 109.14h0.01M624.19 101.82h0.01M622.02 101.89h0.01M620.07 98.28h0.01M623.57 111.28h0.01M619.9 91.43h0.01M622.8 103.45h0.01M620.05 73.64h0.01M619.36 103.14h0.01M622.98 102.17h0.01M623.1 93.72h0.01M624.89 94.31h0.01M619.79 83.47h0.01M619.26 91.11h0.01M623.43 95.77h0.01M624.53 97.46h0.01M619.19 92.31h0.01M621.42 97.22h0.01M623.96 100.35h0.01M619.55 92.14h0.01M622.95 101.19h0.01M619.7 101.53h0.01M620.55 88.42h0.01M621.7 70.98h0.01M622.3 116.21h0.01M619.62 127.21h0.01M622.52 104.63h0.01M621.29 110.1h0.01M622.29 96.21h0.01M622.27 100.73h0.01M620.38 83.44h0.01M621.27 105.71h0.01M619.29 105.23h0.01M625.05 102.88h0.01M619.85 102.61h0.01M618.99 96.2h0.01M622.39 93.29h0.01M624.76 100.4h0.01M620.66 96.24h0.01M623.08 110.15h0.01M620.32 95.42h0.01M621.45 103.66h0.01M622.56 113.75h0.01M620.56 109.09h0.01M619.57 98.49h0.01M618.96 102.96h0.01M621.78 108.62h0.01M622.33 103.36h0.01M622.53 95.2h0.01M621.4 91.69h0.01M621.8 118.51h0.01M623.51 97.56h0.01M619.23 87.53h0.01M620.13 93.6h0.01M619.89 94.18h0.01M624.69 89.09h0.01M619.34 100.16h0.01M621.19 90.05h0.01M624.44 95.15h0.01M622.73 109.21h0.01M624.08 103.79h0.01M621.69 105.46h0.01M623.84 93.37h0.01M619.26 92.51h0.01M623.13 92.07h0.01M621.79 85.7h0.01M622.56 103.31h0.01M619.14 105.68h0.01M622.47 119.27h0.01M621.01 84.34h0.01M621.79 116.04h0.01M621.48 115.64h0.01M620.3 89.69h0.01M623.04 114.17h0.01M623.88 100.31h0.01M621.15 89.29h0.01M624.28 88.34h0.01M619.7 103.22h0.01M624.22 99.69h0.01M624.42 96.27h0.01M624.92 108.13h0.01M621.3 96.73h0.01M624.6 99.42h0.01M623.87 92.86h0.01M624.08 112.64h0.01M623.05 100.23h0.01M624.3 87.1h0.01M621.85 89.1h0.01M620.08 109.79h0.01M620.3 91.69h0.01M619.6 110.3h0.01M623.02 124.6h0.01M619.9 100.26h0.01M620.79 97.72h0.01M621.22 99.44h0.01M622.75 102.35h0.01M624.09 96.74h0.01M622.37 115.3h0.01M622.6 107.03h0.01M621.27 105.03h0.01M624.31 96.61h0.01M623.13 83.76h0.01M620.47 110.59h0.01M622.46 117.47h0.01M618.91 91.29h0.01M622.07 109.76h0.01M621.34 95.09h0.01M624.99 103.44h0.01M622.6 108.95h0.01M624.17 94.32h0.01M623.27 116.99h0.01M621.39 92.13h0.01M619.22 103.62h0.01M621.91 102.92h0.01M624.13 90.06h0.01M624.92 95.41h0.01M621.09 95.84h0.01M621.69 92.3h0.01M619.88 86.94h0.01M622.24 84.41h0.01M619.62 99.54h0.01M621.96 84.23h0.01M620.1 96.66h0.01M619.35 99.07h0.01M620.4 90.45h0.01M624.48 109.67h0.01M623.43 92.59h0.01M622.63 88.02h0.01M620.04 94.98h0.01M624.76 96.49h0.01M619.2 91.26h0.01M622.84 102.37h0.01M624.6 91.33h0.01M623.75 78.87h0.01M624.06 94.91h0.01M621.25 113.75h0.01M623.21 97.92h0.01M621.66 99.14h0.01M621.71 81.25h0.01M623.28 99.29h0.01M618.95 108.85h0.01M620.29 104.31h0.01M624.58 98.35h0.01M622.8 83.02h0.01M619.8 96.97h0.01M620.48 111.01h0.01M621.5 111.38h0.01M623.21 105.38h0.01M619.95 101.79h0.01M621.47 90.6h0.01M624.67 101.64h0.01M618.95 99.84h0.01M624.71 98.68h0.01M620.68 106.28h0.01M621.25 83.45h0.01M623.97 95.35h0.01M623 102.73h0.01M623.12 106.44h0.01M622.95 100.6h0.01M622.43 92.21h0.01M621.57 92.32h0.01M619.46 96.01h0.01M620.73 106.98h0.01M623.55 99.11h0.01M622.6 97.93h0.01M625.05 101.15h0.01M620.34 119.02h0.01M620.27 114.53h0.01M619.89 100.86h0.01M620.48 91.58h0.01M623.69 114.83h0.01M619.15 97.77h0.01M620.55 96.26h0.01M618.94 110.99h0.01M620.47 94.44h0.01M620.79 101.56h0.01M624.58 91.13h0.01M624.17 119.36h0.01M619.25 91.67h0.01M620.36 106.43h0.01M619.73 94.7h0.01M620.88 94.06h0.01M624.2 90.19h0.01M620.4 95.22h0.01M619 115.97h0.01M623.41 98.68h0.01M624.42 99.9h0.01M623.83 98.28h0.01M622.48 78.39h0.01M622.84 83.4h0.01M623.27 97.11h0.01M623.32 95.38h0.01M622.46 96.62h0.01M620.81 95.41h0.01M622.41 108.26h0.01M619.63 81.99h0.01M622.42 102.39h0.01M624.81 111.91h0.01M619.25 111.12h0.01M620.77 95.6h0.01M622.07 100.74h0.01M619.61 88.19h0.01M620.46 98.8h0.01M622.53 100.59h0.01M623.92 89.36h0.01M623.44 96.39h0.01M623.55 101.69h0.01M624.29 93.66h0.01M622.3 89.12h0.01M623.2 92.88h0.01M622.68 92.55h0.01M623.85 80.95h0.01M623.06 84.15h0.01M620.74 102.23h0.01M623.93 98.98h0.01M622.59 88.66h0.01M622.1 101.26h0.01M624.97 77.7h0.01M621.04 106.42h0.01M625.05 110.23h0.01M621.4 111.61h0.01M622.14 95.86h0.01M621.46 93.65h0.01M623.51 89.59h0.01M622.89 94.26h0.01M621.84 92.42h0.01M621.64 96.28h0.01M624.05 98.92h0.01M622.1 97.38h0.01M621.36 106.43h0.01M620.32 93.79h0.01M624.31 97.54h0.01M622.36 94.91h0.01M623.22 90.46h0.01M621.02 102.48h0.01M618.98 104.15h0.01M620.71 95.14h0.01M620.18 106.45h0.01M620.92 103.01h0.01M619.55 97.44h0.01M620.93 93.45h0.01M619.57 86.95h0.01M621.46 95.38h0.01M620.72 100.03h0.01" stroke="#000" stroke-width="1.0" stroke-linecap="round" fill="none" stroke-opacity="0.68"/>
<path d="M647.43 110.45h0.01M648.97 115.92h0.01M650.28 119.91h0.01M648.64 108.28h0.01M649.57 126.62h0.01M650.47 116.66h0.01M647.02 117.87h0.01M647.67 97.32h0.01M646.19 110.98h0.01M645.96 117.93h0.01M646.68 106.55h0.01M649.67 143.89h0.01M645.91 123.99h0.01M650.34 105.17h0.01M649.62 134.28h0.01M647.95 120.74h0.01M647.64 137.03h0.01M648.27 118.15h0.01M646.08 121.25h0.01M650.72 113.09h0.01M645.86 121.11h0.01M648.32 120.45h0.01M645.14 98.51h0.01M649.7 121.67h0.01M650.61 100.71h0.01M647.06 121.26h0.01M649.64 131.08h0.01M649.14 131.71h0.01M649.63 114.9h0.01M648.4 128.53h0.01M648.54 109.59h0.01M650.04 121.69h0.01M645.6 118.19h0.01M645.66 136.69h0.01M644.9 126.07h0.01M648.79 104.37h0.01M646.42 113.89h0.01M648.1 114.22h0.01M646.12 124.72h0.01M645.23 146.05h0.01M650.4 109.85h0.01M649.14 131.02h0.01M646.06 111.96h0.01M647.49 111.48h0.01M650.25 124.24h0.01M645.87 97.41h0.01M650.12 128.21h0.01M650.57 119.32h0.01M648.6 120.32h0.01M649.45 129.94h0.01M645.25 126.11h0.01M645.67 108.44h0.01M649.05 116.55h0.01M647.36 128.58h0.01M645.24 121.53h0.01M648.84 128.25h0.01M647.57 119.61h0.01M647.78 111.66h0.01M647.4 105.81h0.01M647.43 130.34h0.01M646.55 124.09h0.01M648.44 122.77h0.01M646 105.08h0.01M650.7 124.95h0.01M646.98 116.99h0.01M644.91 126.95h0.01M649.82 118.68h0.01M649.15 127.17h0.01M646.21 116.89h0.01M644.92 133.63h0.01M647.92 120.8h0.01M649.5 120.31h0.01M648.05 111.59h0.01M645.63 109.95h0.01M645.78 114.64h0.01M645.64 104.5h0.01M650.26 114.45h0.01M645.39 93.21h0.01M644.89 129.69h0.01M646.26 124.42h0.01M650.64 120.59h0.01M646.47 121.09h0.01M645.56 135.15h0.01M645.51 96.79h0.01M646.68 128.91h0.01M648.31 117.59h0.01M644.97 108.17h0.01M647.01 122.89h0.01M645.08 112.06h0.01M646.25 128.87h0.01M646.67 117.76h0.01M648.86 108.91h0.01M645.6 119.94h0.01M649.8 122.63h0.01M645.8 105.17h0.01M649 133.29h0.01M646.07 104.22h0.01M649.91 111.57h0.01M649.2 112.28h0.01M650.56 129.82h0.01M648.52 106.53h0.01M646.91 129.41h0.01M647.54 121.8h0.01M645.23 124.96h0.01M647.34 105.26h0.01M645.99 110.13h0.01M648.04 110.41h0.01M647.74 122.23h0.01M649.4 104.95h0.01M646.56 99.16h0.01M650.54 98.3h0.01M645.8 132.42h0.01M645.26 116.65h0.01M649.05 115.38h0.01M646.9 107.3h0.01M649.22 115.33h0.01M650.64 102.03h0.01M646.54 114.09h0.01M646.59 134.52h0.01M649.95 108.72h0.01M647.62 111.28h0.01M645.61 119.46h0.01M650.73 129.83h0.01M649.21 123.28h0.01M649.81 98.74h0.01M647.07 120.29h0.01M646.86 122.1h0.01M650.41 124.03h0.01M647.77 112.38h0.01M647.21 120.15h0.01M646.32 130.31h0.01M650.16 129.65h0.01M649.18 137.83h0.01M650.78 113.26h0.01M649.49 134.25h0.01M646.12 120.7h0.01M649 99.44h0.01M649.35 113.51h0.01M650.14 116.94h0.01M648.67 126.45h0.01M650.07 105.77h0.01M645.05 124.2h0.01M648.84 112.03h0.01M647.09 106.93h0.01M645.14 98.14h0.01M650.21 109h0.01M648.38 117.4h0.01M646.17 101.73h0.01M648 123.24h0.01M646.42 111.89h0.01M645.45 128.11h0.01M649.02 121.77h0.01" stroke="#000" stroke-width="0.95" stroke-linecap="round" fill="none" stroke-opacity="0.5"/>
<circle cx="619.3" cy="34.4" r="0.6" fill="#000"/>
<circle cx="619.5" cy="135.1" r="0.6" fill="#000"/>
<circle cx="621.6" cy="135.1" r="0.6" fill="#000"/>
<circle cx="648" cy="158" r="0.6" fill="#000"/>
<path d="M621.5 31 V27.4 H648.1 V88" fill="none" stroke="#666" stroke-width="0.55"/>
<text x="634.6" y="31.6" font-size="9.5" fill="#f22" text-anchor="middle">*</text>
<line x1="47" y1="236.58" x2="47" y2="358.7" stroke="#000" stroke-width="1.5"/>
<line x1="46.3" y1="358" x2="114.8" y2="358" stroke="#000" stroke-width="1.5"/>
<line x1="43.6" y1="358" x2="47" y2="358" stroke="#000" stroke-width="1.3"/>
<text x="43.4" y="361.3" font-size="9" font-weight="bold" fill="#000" text-anchor="end">0.0</text>
<line x1="43.6" y1="327.82" x2="47" y2="327.82" stroke="#000" stroke-width="1.3"/>
<text x="43.4" y="331.12" font-size="9" font-weight="bold" fill="#000" text-anchor="end">0.3</text>
<line x1="43.6" y1="297.64" x2="47" y2="297.64" stroke="#000" stroke-width="1.3"/>
<text x="43.4" y="300.94" font-size="9" font-weight="bold" fill="#000" text-anchor="end">0.6</text>
<line x1="43.6" y1="267.46" x2="47" y2="267.46" stroke="#000" stroke-width="1.3"/>
<text x="43.4" y="270.76" font-size="9" font-weight="bold" fill="#000" text-anchor="end">0.9</text>
<line x1="43.6" y1="237.28" x2="47" y2="237.28" stroke="#000" stroke-width="1.3"/>
<text x="43.4" y="240.58" font-size="9" font-weight="bold" fill="#000" text-anchor="end">1.2</text>
<line x1="61" y1="358" x2="61" y2="361.5" stroke="#000" stroke-width="1.3"/>
<line x1="81" y1="358" x2="81" y2="361.5" stroke="#000" stroke-width="1.3"/>
<line x1="101.1" y1="358" x2="101.1" y2="361.5" stroke="#000" stroke-width="1.3"/>
<line x1="61.05" y1="257.4" x2="61.05" y2="244.32" stroke="#1d4678" stroke-width="1"/>
<line x1="57.65" y1="244.32" x2="64.45" y2="244.32" stroke="#1d4678" stroke-width="1"/>
<rect x="55.02" y="258.12" width="11.85" height="99.88" fill="#fff" stroke="#1d4678" stroke-width="1.85"/>
<rect x="59.4" y="242.67" width="3.3" height="3.3" fill="#000" stroke="none" stroke-width="1"/>
<rect x="59.4" y="257.76" width="3.3" height="3.3" fill="#000" stroke="none" stroke-width="1"/>
<rect x="59.4" y="267.82" width="3.3" height="3.3" fill="#000" stroke="none" stroke-width="1"/>
<line x1="80.85" y1="335.37" x2="80.85" y2="329.83" stroke="#f7921f" stroke-width="1"/>
<line x1="77.45" y1="329.83" x2="84.25" y2="329.83" stroke="#f7921f" stroke-width="1"/>
<rect x="74.83" y="336.09" width="11.85" height="21.91" fill="#fff" stroke="#f7921f" stroke-width="1.85"/>
<path d="M80.85 327.91L78.92 331.41L82.77 331.41Z" fill="#000"/>
<path d="M78.85 336.96L76.92 340.46L80.77 340.46Z" fill="#000"/>
<path d="M82.85 335.45L80.92 338.95L84.77 338.95Z" fill="#000"/>
<line x1="100.9" y1="342.41" x2="100.9" y2="340.9" stroke="#ad1c22" stroke-width="1"/>
<line x1="97.5" y1="340.9" x2="104.3" y2="340.9" stroke="#ad1c22" stroke-width="1"/>
<rect x="94.92" y="343.13" width="11.75" height="14.87" fill="#fff" stroke="#ad1c22" stroke-width="1.85"/>
<path d="M95.4 341.49L93.48 344.99L97.33 344.99Z" fill="#000"/>
<path d="M100.9 339.48L98.98 342.98L102.83 342.98Z" fill="#000"/>
<path d="M106.2 340.78L104.28 344.28L108.12 344.28Z" fill="#000"/>
<polygon points="76.4,323.7 77.02,325.35 78.78,325.43 77.4,326.52 77.87,328.22 76.4,327.25 74.93,328.22 75.4,326.52 74.02,325.43 75.78,325.35" fill="#222" stroke="#000" stroke-width="0.5" stroke-linejoin="round"/>
<polygon points="86.2,323.7 86.82,325.35 88.58,325.43 87.2,326.52 87.67,328.22 86.2,327.25 84.73,328.22 85.2,326.52 83.82,325.43 85.58,325.35" fill="#222" stroke="#000" stroke-width="0.5" stroke-linejoin="round"/>
<polygon points="96.2,333.8 96.82,335.45 98.58,335.53 97.2,336.62 97.67,338.32 96.2,337.35 94.73,338.32 95.2,336.62 93.82,335.53 95.58,335.45" fill="#222" stroke="#000" stroke-width="0.5" stroke-linejoin="round"/>
<polygon points="105.9,333.8 106.52,335.45 108.28,335.53 106.9,336.62 107.37,338.32 105.9,337.35 104.43,338.32 104.9,336.62 103.52,335.53 105.28,335.45" fill="#222" stroke="#000" stroke-width="0.5" stroke-linejoin="round"/>
<text x="84.5" y="218.9" font-size="10.45" font-weight="bold" fill="#777" text-anchor="middle">LNCaP</text>
<text x="84.5" y="232.6" font-size="8.8" font-weight="bold" fill="#000" text-anchor="middle">TRIB3</text>
<text x="26.6" y="294" font-size="9" font-weight="bold" fill="#000" text-anchor="middle" transform="rotate(-90 26.6 294)">Relative mRNA expression</text>
<text x="63.8" y="367.8" font-size="9" font-weight="bold" fill="#000" text-anchor="end" transform="rotate(-45 63.8 367.8)">NC</text>
<text x="83.8" y="367.8" font-size="9" font-weight="bold" fill="#000" text-anchor="end" transform="rotate(-45 83.8 367.8)">TRIB3-1</text>
<text x="103.9" y="367.8" font-size="9" font-weight="bold" fill="#000" text-anchor="end" transform="rotate(-45 103.9 367.8)">TRIB3-2</text>
<line x1="159.1" y1="236.54" x2="159.1" y2="358.3" stroke="#000" stroke-width="1.5"/>
<line x1="158.4" y1="357.6" x2="226.5" y2="357.6" stroke="#000" stroke-width="1.5"/>
<line x1="155.7" y1="357.6" x2="159.1" y2="357.6" stroke="#000" stroke-width="1.3"/>
<text x="155.5" y="360.9" font-size="9" font-weight="bold" fill="#000" text-anchor="end">0.0</text>
<line x1="155.7" y1="327.51" x2="159.1" y2="327.51" stroke="#000" stroke-width="1.3"/>
<text x="155.5" y="330.81" font-size="9" font-weight="bold" fill="#000" text-anchor="end">0.3</text>
<line x1="155.7" y1="297.42" x2="159.1" y2="297.42" stroke="#000" stroke-width="1.3"/>
<text x="155.5" y="300.72" font-size="9" font-weight="bold" fill="#000" text-anchor="end">0.6</text>
<line x1="155.7" y1="267.33" x2="159.1" y2="267.33" stroke="#000" stroke-width="1.3"/>
<text x="155.5" y="270.63" font-size="9" font-weight="bold" fill="#000" text-anchor="end">0.9</text>
<line x1="155.7" y1="237.24" x2="159.1" y2="237.24" stroke="#000" stroke-width="1.3"/>
<text x="155.5" y="240.54" font-size="9" font-weight="bold" fill="#000" text-anchor="end">1.2</text>
<line x1="172.2" y1="357.6" x2="172.2" y2="361.1" stroke="#000" stroke-width="1.3"/>
<line x1="192.3" y1="357.6" x2="192.3" y2="361.1" stroke="#000" stroke-width="1.3"/>
<line x1="212.5" y1="357.6" x2="212.5" y2="361.1" stroke="#000" stroke-width="1.3"/>
<line x1="172.15" y1="257.3" x2="172.15" y2="238.24" stroke="#1d4678" stroke-width="1"/>
<line x1="168.75" y1="238.24" x2="175.55" y2="238.24" stroke="#1d4678" stroke-width="1"/>
<rect x="166.33" y="258.03" width="11.45" height="99.57" fill="#fff" stroke="#1d4678" stroke-width="1.85"/>
<rect x="170.5" y="236.59" width="3.3" height="3.3" fill="#000" stroke="none" stroke-width="1"/>
<rect x="170.5" y="256.65" width="3.3" height="3.3" fill="#000" stroke="none" stroke-width="1"/>
<rect x="170.5" y="271.7" width="3.3" height="3.3" fill="#000" stroke="none" stroke-width="1"/>
<line x1="192.25" y1="343.26" x2="192.25" y2="339.55" stroke="#f7921f" stroke-width="1"/>
<line x1="188.85" y1="339.55" x2="195.65" y2="339.55" stroke="#f7921f" stroke-width="1"/>
<rect x="186.03" y="343.98" width="12.25" height="13.62" fill="#fff" stroke="#f7921f" stroke-width="1.85"/>
<path d="M192.25 337.62L190.32 341.12L194.18 341.12Z" fill="#000"/>
<path d="M192.25 343.64L190.32 347.14L194.18 347.14Z" fill="#000"/>
<path d="M192.75 341.63L190.82 345.13L194.68 345.13Z" fill="#000"/>
<line x1="212.3" y1="342.76" x2="212.3" y2="338.54" stroke="#ad1c22" stroke-width="1"/>
<line x1="208.9" y1="338.54" x2="215.7" y2="338.54" stroke="#ad1c22" stroke-width="1"/>
<rect x="206.33" y="343.48" width="11.75" height="14.12" fill="#fff" stroke="#ad1c22" stroke-width="1.85"/>
<path d="M209.8 337.62L207.88 341.12L211.73 341.12Z" fill="#000"/>
<path d="M215.1 338.12L213.18 341.62L217.03 341.62Z" fill="#000"/>
<path d="M212.3 346.65L210.38 350.15L214.23 350.15Z" fill="#000"/>
<polygon points="187,333.7 187.62,335.35 189.38,335.43 188,336.52 188.47,338.22 187,337.25 185.53,338.22 186,336.52 184.62,335.43 186.38,335.35" fill="#222" stroke="#000" stroke-width="0.5" stroke-linejoin="round"/>
<polygon points="196.6,333.7 197.22,335.35 198.98,335.43 197.6,336.52 198.07,338.22 196.6,337.25 195.13,338.22 195.6,336.52 194.22,335.43 195.98,335.35" fill="#222" stroke="#000" stroke-width="0.5" stroke-linejoin="round"/>
<polygon points="207.2,333.3 207.82,334.95 209.58,335.03 208.2,336.12 208.67,337.82 207.2,336.85 205.73,337.82 206.2,336.12 204.82,335.03 206.58,334.95" fill="#222" stroke="#000" stroke-width="0.5" stroke-linejoin="round"/>
<polygon points="217,333.3 217.62,334.95 219.38,335.03 218,336.12 218.47,337.82 217,336.85 215.53,337.82 216,336.12 214.62,335.03 216.38,334.95" fill="#222" stroke="#000" stroke-width="0.5" stroke-linejoin="round"/>
<text x="195.2" y="218.9" font-size="10.45" font-weight="bold" fill="#777" text-anchor="middle">PC3</text>
<text x="195.2" y="232.6" font-size="8.8" font-weight="bold" fill="#000" text-anchor="middle">TRIB3</text>
<text x="137.8" y="294" font-size="9" font-weight="bold" fill="#000" text-anchor="middle" transform="rotate(-90 137.8 294)">Relative mRNA expression</text>
<text x="175" y="367.4" font-size="9" font-weight="bold" fill="#000" text-anchor="end" transform="rotate(-45 175 367.4)">NC</text>
<text x="195.1" y="367.4" font-size="9" font-weight="bold" fill="#000" text-anchor="end" transform="rotate(-45 195.1 367.4)">TRIB3-1</text>
<text x="215.3" y="367.4" font-size="9" font-weight="bold" fill="#000" text-anchor="end" transform="rotate(-45 215.3 367.4)">TRIB3-2</text>
<line x1="277.8" y1="241.94" x2="277.8" y2="355.9" stroke="#000" stroke-width="1.5"/>
<line x1="277.1" y1="355.2" x2="454.6" y2="355.2" stroke="#000" stroke-width="1.5"/>
<line x1="274.4" y1="355.2" x2="277.8" y2="355.2" stroke="#000" stroke-width="1.3"/>
<text x="274" y="358.5" font-size="9" font-weight="bold" fill="#000" text-anchor="end">0.0</text>
<line x1="274.4" y1="327.06" x2="277.8" y2="327.06" stroke="#000" stroke-width="1.3"/>
<text x="274" y="330.36" font-size="9" font-weight="bold" fill="#000" text-anchor="end">0.3</text>
<line x1="274.4" y1="298.92" x2="277.8" y2="298.92" stroke="#000" stroke-width="1.3"/>
<text x="274" y="302.22" font-size="9" font-weight="bold" fill="#000" text-anchor="end">0.6</text>
<line x1="274.4" y1="270.78" x2="277.8" y2="270.78" stroke="#000" stroke-width="1.3"/>
<text x="274" y="274.08" font-size="9" font-weight="bold" fill="#000" text-anchor="end">0.9</text>
<line x1="274.4" y1="242.64" x2="277.8" y2="242.64" stroke="#000" stroke-width="1.3"/>
<text x="274" y="245.94" font-size="9" font-weight="bold" fill="#000" text-anchor="end">1.2</text>
<line x1="277.8" y1="355.2" x2="277.8" y2="358.7" stroke="#000" stroke-width="1.3"/>
<text x="277.8" y="369.4" font-size="9" font-weight="bold" fill="#000" text-anchor="middle">0</text>
<line x1="330.6" y1="355.2" x2="330.6" y2="358.7" stroke="#000" stroke-width="1.3"/>
<text x="330.6" y="369.4" font-size="9" font-weight="bold" fill="#000" text-anchor="middle">24</text>
<line x1="383.4" y1="355.2" x2="383.4" y2="358.7" stroke="#000" stroke-width="1.3"/>
<text x="383.4" y="369.4" font-size="9" font-weight="bold" fill="#000" text-anchor="middle">48</text>
<line x1="436.2" y1="355.2" x2="436.2" y2="358.7" stroke="#000" stroke-width="1.3"/>
<text x="436.2" y="369.4" font-size="9" font-weight="bold" fill="#000" text-anchor="middle">72</text>
<text x="366.2" y="383.4" font-size="9.05" font-weight="bold" fill="#000" text-anchor="middle">Time/Hours</text>
<text x="355.6" y="229" font-size="10.7" font-weight="bold" fill="#777" text-anchor="middle">LNCaP-KD</text>
<text x="254.6" y="298.6" font-size="9.4" font-weight="bold" fill="#000" text-anchor="middle" transform="rotate(-90 254.6 298.6)">Cell Absorbance(450 nm)</text>
<polyline points="277.8,345.82 330.6,326.59 383.4,313.93 436.2,296.11" fill="none" stroke="#ad1c22" stroke-width="1.9"/>
<polyline points="277.8,345.82 330.6,323.31 383.4,307.36 436.2,286.73" fill="none" stroke="#f7921f" stroke-width="1.9"/>
<polyline points="277.8,345.82 330.6,310.64 383.4,282.04 436.2,255.3" fill="none" stroke="#1d4479" stroke-width="1.9"/>
<rect x="275.85" y="343.87" width="3.9" height="3.9" fill="#ad1c22" stroke="none" stroke-width="1"/>
<line x1="330.6" y1="328" x2="330.6" y2="325.18" stroke="#ad1c22" stroke-width="1.1"/>
<line x1="328.4" y1="325.18" x2="332.8" y2="325.18" stroke="#ad1c22" stroke-width="1.1"/>
<line x1="328.4" y1="328" x2="332.8" y2="328" stroke="#ad1c22" stroke-width="1.1"/>
<rect x="328.65" y="324.64" width="3.9" height="3.9" fill="#ad1c22" stroke="none" stroke-width="1"/>
<line x1="383.4" y1="321.43" x2="383.4" y2="306.42" stroke="#ad1c22" stroke-width="1.1"/>
<line x1="381.2" y1="306.42" x2="385.6" y2="306.42" stroke="#ad1c22" stroke-width="1.1"/>
<line x1="381.2" y1="321.43" x2="385.6" y2="321.43" stroke="#ad1c22" stroke-width="1.1"/>
<rect x="381.45" y="311.98" width="3.9" height="3.9" fill="#ad1c22" stroke="none" stroke-width="1"/>
<line x1="436.2" y1="300.8" x2="436.2" y2="291.42" stroke="#ad1c22" stroke-width="1.1"/>
<line x1="434" y1="291.42" x2="438.4" y2="291.42" stroke="#ad1c22" stroke-width="1.1"/>
<line x1="434" y1="300.8" x2="438.4" y2="300.8" stroke="#ad1c22" stroke-width="1.1"/>
<rect x="434.25" y="294.16" width="3.9" height="3.9" fill="#ad1c22" stroke="none" stroke-width="1"/>
<path d="M277.8 343.48L275.38 347.57L280.22 347.57Z" fill="#f7921f"/>
<line x1="330.6" y1="327.06" x2="330.6" y2="319.56" stroke="#f7921f" stroke-width="1.1"/>
<line x1="328.4" y1="319.56" x2="332.8" y2="319.56" stroke="#f7921f" stroke-width="1.1"/>
<line x1="328.4" y1="327.06" x2="332.8" y2="327.06" stroke="#f7921f" stroke-width="1.1"/>
<path d="M330.6 320.97L328.18 325.06L333.02 325.06Z" fill="#f7921f"/>
<line x1="383.4" y1="310.64" x2="383.4" y2="304.08" stroke="#f7921f" stroke-width="1.1"/>
<line x1="381.2" y1="304.08" x2="385.6" y2="304.08" stroke="#f7921f" stroke-width="1.1"/>
<line x1="381.2" y1="310.64" x2="385.6" y2="310.64" stroke="#f7921f" stroke-width="1.1"/>
<path d="M383.4 305.02L380.98 309.12L385.82 309.12Z" fill="#f7921f"/>
<line x1="436.2" y1="291.42" x2="436.2" y2="282.04" stroke="#f7921f" stroke-width="1.1"/>
<line x1="434" y1="282.04" x2="438.4" y2="282.04" stroke="#f7921f" stroke-width="1.1"/>
<line x1="434" y1="291.42" x2="438.4" y2="291.42" stroke="#f7921f" stroke-width="1.1"/>
<path d="M436.2 284.39L433.78 288.48L438.62 288.48Z" fill="#f7921f"/>
<circle cx="277.8" cy="345.82" r="2.15" fill="#1d4479"/>
<line x1="330.6" y1="316.27" x2="330.6" y2="305.02" stroke="#1d4479" stroke-width="1.1"/>
<line x1="328.4" y1="305.02" x2="332.8" y2="305.02" stroke="#1d4479" stroke-width="1.1"/>
<line x1="328.4" y1="316.27" x2="332.8" y2="316.27" stroke="#1d4479" stroke-width="1.1"/>
<circle cx="330.6" cy="310.64" r="2.15" fill="#1d4479"/>
<line x1="383.4" y1="283.44" x2="383.4" y2="280.63" stroke="#1d4479" stroke-width="1.1"/>
<line x1="381.2" y1="280.63" x2="385.6" y2="280.63" stroke="#1d4479" stroke-width="1.1"/>
<line x1="381.2" y1="283.44" x2="385.6" y2="283.44" stroke="#1d4479" stroke-width="1.1"/>
<circle cx="383.4" cy="282.04" r="2.15" fill="#1d4479"/>
<line x1="436.2" y1="264.68" x2="436.2" y2="245.92" stroke="#1d4479" stroke-width="1.1"/>
<line x1="434" y1="245.92" x2="438.4" y2="245.92" stroke="#1d4479" stroke-width="1.1"/>
<line x1="434" y1="264.68" x2="438.4" y2="264.68" stroke="#1d4479" stroke-width="1.1"/>
<circle cx="436.2" cy="255.3" r="2.15" fill="#1d4479"/>
<line x1="281.4" y1="277.1" x2="293.7" y2="277.1" stroke="#ad1c22" stroke-width="1.9"/>
<rect x="285.6" y="275.15" width="3.9" height="3.9" fill="#ad1c22" stroke="none" stroke-width="1"/>
<text x="300.7" y="280.4" font-size="9" font-weight="bold" fill="#000" text-anchor="start">TRIB3-2</text>
<line x1="281.4" y1="260.1" x2="293.7" y2="260.1" stroke="#f7921f" stroke-width="1.9"/>
<path d="M287.55 257.76L285.13 261.86L289.97 261.86Z" fill="#f7921f"/>
<text x="300.7" y="263.4" font-size="9" font-weight="bold" fill="#000" text-anchor="start">TRIB3-1</text>
<line x1="281.4" y1="243.8" x2="293.7" y2="243.8" stroke="#1d4479" stroke-width="1.9"/>
<circle cx="287.55" cy="243.8" r="2.15" fill="#1d4479"/>
<text x="300.7" y="247.1" font-size="9" font-weight="bold" fill="#000" text-anchor="start">NC</text>
<line x1="507.4" y1="241.1" x2="507.4" y2="355.3" stroke="#000" stroke-width="1.5"/>
<line x1="506.7" y1="354.6" x2="679" y2="354.6" stroke="#000" stroke-width="1.5"/>
<line x1="504" y1="354.6" x2="507.4" y2="354.6" stroke="#000" stroke-width="1.3"/>
<text x="503.6" y="357.9" font-size="9" font-weight="bold" fill="#000" text-anchor="end">0.0</text>
<line x1="504" y1="326.4" x2="507.4" y2="326.4" stroke="#000" stroke-width="1.3"/>
<text x="503.6" y="329.7" font-size="9" font-weight="bold" fill="#000" text-anchor="end">0.4</text>
<line x1="504" y1="298.2" x2="507.4" y2="298.2" stroke="#000" stroke-width="1.3"/>
<text x="503.6" y="301.5" font-size="9" font-weight="bold" fill="#000" text-anchor="end">0.8</text>
<line x1="504" y1="270" x2="507.4" y2="270" stroke="#000" stroke-width="1.3"/>
<text x="503.6" y="273.3" font-size="9" font-weight="bold" fill="#000" text-anchor="end">1.2</text>
<line x1="504" y1="241.8" x2="507.4" y2="241.8" stroke="#000" stroke-width="1.3"/>
<text x="503.6" y="245.1" font-size="9" font-weight="bold" fill="#000" text-anchor="end">1.6</text>
<line x1="507.4" y1="354.6" x2="507.4" y2="358.1" stroke="#000" stroke-width="1.3"/>
<text x="507.4" y="368.8" font-size="9" font-weight="bold" fill="#000" text-anchor="middle">0</text>
<line x1="560.34" y1="354.6" x2="560.34" y2="358.1" stroke="#000" stroke-width="1.3"/>
<text x="560.34" y="368.8" font-size="9" font-weight="bold" fill="#000" text-anchor="middle">24</text>
<line x1="613.29" y1="354.6" x2="613.29" y2="358.1" stroke="#000" stroke-width="1.3"/>
<text x="613.29" y="368.8" font-size="9" font-weight="bold" fill="#000" text-anchor="middle">48</text>
<line x1="666.23" y1="354.6" x2="666.23" y2="358.1" stroke="#000" stroke-width="1.3"/>
<text x="666.23" y="368.8" font-size="9" font-weight="bold" fill="#000" text-anchor="middle">72</text>
<text x="596" y="382.8" font-size="9.05" font-weight="bold" fill="#000" text-anchor="middle">Time/Hours</text>
<text x="594.8" y="229" font-size="10.7" font-weight="bold" fill="#777" text-anchor="middle">PC3-KD</text>
<text x="483.2" y="298.6" font-size="9.4" font-weight="bold" fill="#000" text-anchor="middle" transform="rotate(-90 483.2 298.6)">Cell Absorbance(450 nm)</text>
<polyline points="507.4,347.55 560.34,331.34 613.29,319.35 666.23,303.84" fill="none" stroke="#ad1c22" stroke-width="1.9"/>
<polyline points="507.4,347.55 560.34,328.52 613.29,311.6 666.23,293.97" fill="none" stroke="#f7921f" stroke-width="1.9"/>
<polyline points="507.4,347.55 560.34,317.94 613.29,291.15 666.23,261.54" fill="none" stroke="#1d4479" stroke-width="1.9"/>
<rect x="505.45" y="345.6" width="3.9" height="3.9" fill="#ad1c22" stroke="none" stroke-width="1"/>
<line x1="560.34" y1="332.75" x2="560.34" y2="329.93" stroke="#ad1c22" stroke-width="1.1"/>
<line x1="558.14" y1="329.93" x2="562.54" y2="329.93" stroke="#ad1c22" stroke-width="1.1"/>
<line x1="558.14" y1="332.75" x2="562.54" y2="332.75" stroke="#ad1c22" stroke-width="1.1"/>
<rect x="558.39" y="329.39" width="3.9" height="3.9" fill="#ad1c22" stroke="none" stroke-width="1"/>
<line x1="613.29" y1="324.99" x2="613.29" y2="313.71" stroke="#ad1c22" stroke-width="1.1"/>
<line x1="611.09" y1="313.71" x2="615.49" y2="313.71" stroke="#ad1c22" stroke-width="1.1"/>
<line x1="611.09" y1="324.99" x2="615.49" y2="324.99" stroke="#ad1c22" stroke-width="1.1"/>
<rect x="611.34" y="317.4" width="3.9" height="3.9" fill="#ad1c22" stroke="none" stroke-width="1"/>
<line x1="666.23" y1="307.37" x2="666.23" y2="300.31" stroke="#ad1c22" stroke-width="1.1"/>
<line x1="664.03" y1="300.31" x2="668.43" y2="300.31" stroke="#ad1c22" stroke-width="1.1"/>
<line x1="664.03" y1="307.37" x2="668.43" y2="307.37" stroke="#ad1c22" stroke-width="1.1"/>
<rect x="664.28" y="301.89" width="3.9" height="3.9" fill="#ad1c22" stroke="none" stroke-width="1"/>
<path d="M507.4 345.21L504.98 349.31L509.82 349.31Z" fill="#f7921f"/>
<line x1="560.34" y1="332.04" x2="560.34" y2="324.99" stroke="#f7921f" stroke-width="1.1"/>
<line x1="558.14" y1="324.99" x2="562.54" y2="324.99" stroke="#f7921f" stroke-width="1.1"/>
<line x1="558.14" y1="332.04" x2="562.54" y2="332.04" stroke="#f7921f" stroke-width="1.1"/>
<path d="M560.34 326.18L557.93 330.27L562.76 330.27Z" fill="#f7921f"/>
<line x1="613.29" y1="316.53" x2="613.29" y2="306.66" stroke="#f7921f" stroke-width="1.1"/>
<line x1="611.09" y1="306.66" x2="615.49" y2="306.66" stroke="#f7921f" stroke-width="1.1"/>
<line x1="611.09" y1="316.53" x2="615.49" y2="316.53" stroke="#f7921f" stroke-width="1.1"/>
<path d="M613.29 309.26L610.87 313.35L615.71 313.35Z" fill="#f7921f"/>
<line x1="666.23" y1="298.91" x2="666.23" y2="289.04" stroke="#f7921f" stroke-width="1.1"/>
<line x1="664.03" y1="289.04" x2="668.43" y2="289.04" stroke="#f7921f" stroke-width="1.1"/>
<line x1="664.03" y1="298.91" x2="668.43" y2="298.91" stroke="#f7921f" stroke-width="1.1"/>
<path d="M666.23 291.63L663.81 295.73L668.65 295.73Z" fill="#f7921f"/>
<circle cx="507.4" cy="347.55" r="2.15" fill="#1d4479"/>
<line x1="560.34" y1="322.88" x2="560.34" y2="313" stroke="#1d4479" stroke-width="1.1"/>
<line x1="558.14" y1="313" x2="562.54" y2="313" stroke="#1d4479" stroke-width="1.1"/>
<line x1="558.14" y1="322.88" x2="562.54" y2="322.88" stroke="#1d4479" stroke-width="1.1"/>
<circle cx="560.34" cy="317.94" r="2.15" fill="#1d4479"/>
<line x1="613.29" y1="291.86" x2="613.29" y2="290.45" stroke="#1d4479" stroke-width="1.1"/>
<line x1="611.09" y1="290.45" x2="615.49" y2="290.45" stroke="#1d4479" stroke-width="1.1"/>
<line x1="611.09" y1="291.86" x2="615.49" y2="291.86" stroke="#1d4479" stroke-width="1.1"/>
<circle cx="613.29" cy="291.15" r="2.15" fill="#1d4479"/>
<line x1="666.23" y1="272.12" x2="666.23" y2="250.97" stroke="#1d4479" stroke-width="1.1"/>
<line x1="664.03" y1="250.97" x2="668.43" y2="250.97" stroke="#1d4479" stroke-width="1.1"/>
<line x1="664.03" y1="272.12" x2="668.43" y2="272.12" stroke="#1d4479" stroke-width="1.1"/>
<circle cx="666.23" cy="261.54" r="2.15" fill="#1d4479"/>
<line x1="511.2" y1="276.2" x2="523.5" y2="276.2" stroke="#ad1c22" stroke-width="1.9"/>
<rect x="515.4" y="274.25" width="3.9" height="3.9" fill="#ad1c22" stroke="none" stroke-width="1"/>
<text x="530.5" y="279.5" font-size="9" font-weight="bold" fill="#000" text-anchor="start">TRIB3-2</text>
<line x1="511.2" y1="259" x2="523.5" y2="259" stroke="#f7921f" stroke-width="1.9"/>
<path d="M517.35 256.66L514.93 260.75L519.77 260.75Z" fill="#f7921f"/>
<text x="530.5" y="262.3" font-size="9" font-weight="bold" fill="#000" text-anchor="start">TRIB3-1</text>
<line x1="511.2" y1="242.6" x2="523.5" y2="242.6" stroke="#1d4479" stroke-width="1.9"/>
<circle cx="517.35" cy="242.6" r="2.15" fill="#1d4479"/>
<text x="530.5" y="245.9" font-size="9" font-weight="bold" fill="#000" text-anchor="start">NC</text>
<defs><pattern id="hatch" patternUnits="userSpaceOnUse" width="2.2" height="2.2" patternTransform="rotate(-45)"><rect width="2.2" height="2.2" fill="#f3f3fc"/><line x1="0" y1="0" x2="0" y2="2.2" stroke="#6f7ad0" stroke-width="0.5"/></pattern><pattern id="hatch2" patternUnits="userSpaceOnUse" width="2.2" height="2.2" patternTransform="rotate(-45)"><rect width="2.2" height="2.2" fill="#8a0a1a" fill-opacity="0.55"/><line x1="0" y1="0" x2="0" y2="2.2" stroke="#4a1060" stroke-width="0.5"/></pattern></defs>
<path d="M63.9 539.8 L63.9 539.8 L64.5 539.8 L65.09 539.8 L65.69 539.8 L66.28 539.8 L66.88 539.8 L67.47 539.8 L68.06 539.8 L68.66 539.8 L69.25 539.8 L69.85 539.8 L70.44 539.8 L71.04 539.8 L71.63 539.8 L72.23 539.8 L72.83 539.8 L73.42 539.8 L74.02 539.8 L74.61 539.8 L75.2 539.8 L75.8 539.8 L76.39 539.8 L76.99 539.8 L77.58 539.8 L78.18 539.8 L78.78 539.8 L79.37 539.8 L79.97 539.8 L80.56 539.8 L81.16 539.8 L81.75 539.8 L82.34 539.8 L82.94 539.8 L83.53 539.8 L84.13 539.8 L84.72 539.8 L85.32 539.8 L85.91 539.8 L86.51 539.8 L87.1 539.8 L87.7 539.8 L88.3 539.8 L88.89 539.8 L89.48 539.8 L90.08 539.8 L90.67 539.8 L91.27 539.8 L91.86 539.8 L92.46 539.8 L93.05 539.8 L93.65 539.8 L94.25 539.8 L94.84 539.8 L95.44 539.59 L96.03 539.49 L96.62 539.35 L97.22 539.15 L97.81 538.87 L98.41 538.49 L99 537.99 L99.6 537.34 L100.19 536.55 L100.79 535.65 L101.38 534.67 L101.98 533.75 L102.57 532.91 L103.17 532.2 L103.76 531.64 L104.36 531.23 L104.95 530.95 L105.55 530.77 L106.14 530.67 L106.74 530.62 L107.33 530.62 L107.93 530.64 L108.53 530.69 L109.12 530.74 L109.72 530.81 L110.31 530.89 L110.91 530.97 L111.5 531.05 L112.09 531.13 L112.69 531.22 L113.28 531.3 L113.88 531.39 L114.47 531.48 L115.07 531.57 L115.66 531.66 L116.26 531.75 L116.85 531.84 L117.45 531.94 L118.04 532.04 L118.64 532.14 L119.23 532.24 L119.83 532.35 L120.42 532.47 L121.02 532.61 L121.61 532.75 L122.21 532.91 L122.8 533.1 L123.4 533.32 L124 533.57 L124.59 533.87 L125.19 534.22 L125.78 534.62 L126.38 535.08 L126.97 535.57 L127.56 536.1 L128.16 536.64 L128.75 537.13 L129.35 537.6 L129.94 538.02 L130.54 538.39 L131.13 538.71 L131.73 538.96 L132.32 539.16 L132.92 539.32 L133.51 539.44 L134.11 539.53 L134.7 539.8 L135.3 539.8 L135.89 539.8 L136.49 539.8 L137.09 539.8 L137.68 539.8 L138.28 539.8 L138.87 539.8 L139.47 539.8 L140.06 539.8 L140.66 539.8 L141.25 539.8 L141.84 539.8 L142.44 539.8 L143.03 539.8 L143.63 539.8 L144.22 539.8 L144.82 539.8 L145.41 539.8 L146.01 539.8 L146.6 539.8 L147.2 539.8 L147.79 539.8 L148.39 539.8 L148.98 539.8 L149.58 539.8 L150.17 539.8 L150.77 539.8 L151.36 539.8 L151.96 539.8 L152.56 539.8 L153.15 539.8 L153.75 539.8 L154.34 539.8 L154.94 539.8 L155.53 539.8 L156.12 539.8 L156.72 539.8 L157.31 539.8 L157.91 539.8 L158.5 539.8 L159.1 539.8 L159.69 539.8 L160.29 539.8 L160.88 539.8 L161.48 539.8 L162.07 539.8 L162.67 539.8 L163.26 539.8 L163.86 539.8 L164.45 539.8 L165.05 539.8 L165.64 539.8 L166.24 539.8 L166.84 539.8 L167.43 539.8 L168.03 539.8 L168.62 539.8 L169.22 539.8 L169.81 539.8 L170.41 539.8 L171 539.8 L171.59 539.8 L172.19 539.8 L172.78 539.8 L173.38 539.8 L173.97 539.8 L174.57 539.8 L175.16 539.8 L175.76 539.8 L176.35 539.8 L176.95 539.8 L177.54 539.8 L178.14 539.8 L178.73 539.8 L179.33 539.8 L179.92 539.8 L180.52 539.8 L181.11 539.8 L181.71 539.8 L182.31 539.8 L182.9 539.8 L182.9 539.8 Z" fill="url(#hatch)" stroke="#3c2f7a" stroke-width="0.45"/>
<path d="M90.56 539.8 L90.56 539.77 L91.01 539.72 L91.46 539.64 L91.91 539.48 L92.36 539.19 L92.82 538.66 L93.27 537.76 L93.72 536.31 L94.17 534.04 L94.63 530.68 L95.08 525.92 L95.53 519.5 L95.98 511.28 L96.43 501.3 L96.89 489.87 L97.34 477.59 L97.79 465.32 L98.24 454.13 L98.7 445.12 L99.15 439.26 L99.6 437.23 L100.05 439.26 L100.5 445.12 L100.96 454.13 L101.41 465.32 L101.86 477.59 L102.31 489.87 L102.77 501.3 L103.22 511.28 L103.67 519.5 L104.12 525.92 L104.57 530.68 L105.03 534.04 L105.48 536.31 L105.93 537.76 L106.38 538.66 L106.84 539.19 L107.29 539.48 L107.74 539.64 L108.19 539.72 L108.64 539.77 Z" fill="#cc0000" stroke="#2a0000" stroke-width="0.55"/>
<path d="M117.93 539.8 L117.93 539.79 L118.62 539.78 L119.31 539.76 L120 539.73 L120.69 539.66 L121.38 539.54 L122.07 539.33 L122.76 538.99 L123.45 538.47 L124.14 537.7 L124.83 536.6 L125.52 535.12 L126.21 533.22 L126.9 530.92 L127.59 528.28 L128.28 525.44 L128.97 522.61 L129.66 520.03 L130.35 517.95 L131.04 516.6 L131.73 516.13 L132.42 516.6 L133.11 517.95 L133.8 520.03 L134.49 522.61 L135.18 525.44 L135.87 528.28 L136.56 530.92 L137.25 533.22 L137.94 535.12 L138.63 536.6 L139.32 537.7 L140.01 538.47 L140.7 538.99 L141.39 539.33 L142.08 539.54 L142.77 539.66 L143.46 539.73 L144.15 539.76 L144.84 539.78 L145.53 539.79 Z" fill="#cc0000" stroke="#2a0000" stroke-width="0.55"/>
<clipPath id="fc1"><path d="M90.56 539.8 L90.56 539.77 L91.01 539.72 L91.46 539.64 L91.91 539.48 L92.36 539.19 L92.82 538.66 L93.27 537.76 L93.72 536.31 L94.17 534.04 L94.63 530.68 L95.08 525.92 L95.53 519.5 L95.98 511.28 L96.43 501.3 L96.89 489.87 L97.34 477.59 L97.79 465.32 L98.24 454.13 L98.7 445.12 L99.15 439.26 L99.6 437.23 L100.05 439.26 L100.5 445.12 L100.96 454.13 L101.41 465.32 L101.86 477.59 L102.31 489.87 L102.77 501.3 L103.22 511.28 L103.67 519.5 L104.12 525.92 L104.57 530.68 L105.03 534.04 L105.48 536.31 L105.93 537.76 L106.38 538.66 L106.84 539.19 L107.29 539.48 L107.74 539.64 L108.19 539.72 L108.64 539.77 Z M117.93 539.8 L117.93 539.79 L118.62 539.78 L119.31 539.76 L120 539.73 L120.69 539.66 L121.38 539.54 L122.07 539.33 L122.76 538.99 L123.45 538.47 L124.14 537.7 L124.83 536.6 L125.52 535.12 L126.21 533.22 L126.9 530.92 L127.59 528.28 L128.28 525.44 L128.97 522.61 L129.66 520.03 L130.35 517.95 L131.04 516.6 L131.73 516.13 L132.42 516.6 L133.11 517.95 L133.8 520.03 L134.49 522.61 L135.18 525.44 L135.87 528.28 L136.56 530.92 L137.25 533.22 L137.94 535.12 L138.63 536.6 L139.32 537.7 L140.01 538.47 L140.7 538.99 L141.39 539.33 L142.08 539.54 L142.77 539.66 L143.46 539.73 L144.15 539.76 L144.84 539.78 L145.53 539.79 Z"/></clipPath>
<path d="M63.9 539.8 L63.9 539.8 L64.5 539.8 L65.09 539.8 L65.69 539.8 L66.28 539.8 L66.88 539.8 L67.47 539.8 L68.06 539.8 L68.66 539.8 L69.25 539.8 L69.85 539.8 L70.44 539.8 L71.04 539.8 L71.63 539.8 L72.23 539.8 L72.83 539.8 L73.42 539.8 L74.02 539.8 L74.61 539.8 L75.2 539.8 L75.8 539.8 L76.39 539.8 L76.99 539.8 L77.58 539.8 L78.18 539.8 L78.78 539.8 L79.37 539.8 L79.97 539.8 L80.56 539.8 L81.16 539.8 L81.75 539.8 L82.34 539.8 L82.94 539.8 L83.53 539.8 L84.13 539.8 L84.72 539.8 L85.32 539.8 L85.91 539.8 L86.51 539.8 L87.1 539.8 L87.7 539.8 L88.3 539.8 L88.89 539.8 L89.48 539.8 L90.08 539.8 L90.67 539.8 L91.27 539.8 L91.86 539.8 L92.46 539.8 L93.05 539.8 L93.65 539.8 L94.25 539.8 L94.84 539.8 L95.44 539.59 L96.03 539.49 L96.62 539.35 L97.22 539.15 L97.81 538.87 L98.41 538.49 L99 537.99 L99.6 537.34 L100.19 536.55 L100.79 535.65 L101.38 534.67 L101.98 533.75 L102.57 532.91 L103.17 532.2 L103.76 531.64 L104.36 531.23 L104.95 530.95 L105.55 530.77 L106.14 530.67 L106.74 530.62 L107.33 530.62 L107.93 530.64 L108.53 530.69 L109.12 530.74 L109.72 530.81 L110.31 530.89 L110.91 530.97 L111.5 531.05 L112.09 531.13 L112.69 531.22 L113.28 531.3 L113.88 531.39 L114.47 531.48 L115.07 531.57 L115.66 531.66 L116.26 531.75 L116.85 531.84 L117.45 531.94 L118.04 532.04 L118.64 532.14 L119.23 532.24 L119.83 532.35 L120.42 532.47 L121.02 532.61 L121.61 532.75 L122.21 532.91 L122.8 533.1 L123.4 533.32 L124 533.57 L124.59 533.87 L125.19 534.22 L125.78 534.62 L126.38 535.08 L126.97 535.57 L127.56 536.1 L128.16 536.64 L128.75 537.13 L129.35 537.6 L129.94 538.02 L130.54 538.39 L131.13 538.71 L131.73 538.96 L132.32 539.16 L132.92 539.32 L133.51 539.44 L134.11 539.53 L134.7 539.8 L135.3 539.8 L135.89 539.8 L136.49 539.8 L137.09 539.8 L137.68 539.8 L138.28 539.8 L138.87 539.8 L139.47 539.8 L140.06 539.8 L140.66 539.8 L141.25 539.8 L141.84 539.8 L142.44 539.8 L143.03 539.8 L143.63 539.8 L144.22 539.8 L144.82 539.8 L145.41 539.8 L146.01 539.8 L146.6 539.8 L147.2 539.8 L147.79 539.8 L148.39 539.8 L148.98 539.8 L149.58 539.8 L150.17 539.8 L150.77 539.8 L151.36 539.8 L151.96 539.8 L152.56 539.8 L153.15 539.8 L153.75 539.8 L154.34 539.8 L154.94 539.8 L155.53 539.8 L156.12 539.8 L156.72 539.8 L157.31 539.8 L157.91 539.8 L158.5 539.8 L159.1 539.8 L159.69 539.8 L160.29 539.8 L160.88 539.8 L161.48 539.8 L162.07 539.8 L162.67 539.8 L163.26 539.8 L163.86 539.8 L164.45 539.8 L165.05 539.8 L165.64 539.8 L166.24 539.8 L166.84 539.8 L167.43 539.8 L168.03 539.8 L168.62 539.8 L169.22 539.8 L169.81 539.8 L170.41 539.8 L171 539.8 L171.59 539.8 L172.19 539.8 L172.78 539.8 L173.38 539.8 L173.97 539.8 L174.57 539.8 L175.16 539.8 L175.76 539.8 L176.35 539.8 L176.95 539.8 L177.54 539.8 L178.14 539.8 L178.73 539.8 L179.33 539.8 L179.92 539.8 L180.52 539.8 L181.11 539.8 L181.71 539.8 L182.31 539.8 L182.9 539.8 L182.9 539.8 Z" fill="url(#hatch2)" clip-path="url(#fc1)" stroke="#3a0a30" stroke-width="0.45"/>
<path d="M63.9 539.8 L64.38 539.8 L64.85 539.8 L65.33 539.8 L65.8 539.8 L66.28 539.8 L66.76 539.8 L67.23 539.8 L67.71 539.8 L68.18 539.8 L68.66 539.8 L69.14 539.8 L69.61 539.8 L70.09 539.8 L70.56 539.8 L71.04 539.8 L71.52 539.8 L71.99 539.8 L72.47 539.8 L72.94 539.8 L73.42 539.8 L73.9 539.8 L74.37 539.8 L74.85 539.8 L75.32 539.8 L75.8 539.8 L76.28 539.8 L76.75 539.8 L77.23 539.8 L77.7 539.8 L78.18 539.8 L78.66 539.8 L79.13 539.8 L79.61 539.8 L80.08 539.8 L80.56 539.8 L81.04 539.8 L81.51 539.8 L81.99 539.8 L82.46 539.8 L82.94 539.8 L83.42 539.8 L83.89 539.8 L84.37 539.8 L84.84 539.8 L85.32 539.8 L85.8 539.8 L86.27 539.8 L86.75 539.8 L87.22 539.8 L87.7 539.8 L88.18 539.8 L88.65 539.8 L89.13 539.8 L89.6 539.79 L90.08 539.78 L90.56 539.76 L91.03 539.71 L91.51 539.6 L91.98 539.39 L92.46 538.99 L92.94 538.26 L93.41 536.99 L93.89 534.91 L94.36 531.78 L94.84 527.62 L95.32 521.76 L95.79 513.7 L96.27 503.81 L96.74 492.12 L97.22 479.21 L97.7 465.98 L98.17 453.63 L98.65 443.44 L99.12 436.55 L99.6 433.77 L100.08 435.4 L100.55 441.15 L101.03 450.24 L101.5 461.53 L101.98 473.81 L102.46 485.88 L102.93 496.84 L103.41 506.13 L103.88 513.51 L104.36 519.05 L104.84 522.97 L105.31 525.61 L105.79 527.3 L106.26 528.32 L106.74 528.92 L107.22 529.26 L107.69 529.46 L108.17 529.58 L108.64 529.66 L109.12 529.73 L109.6 529.79 L110.07 529.85 L110.55 529.92 L111.02 529.98 L111.5 530.05 L111.98 530.11 L112.45 530.18 L112.93 530.25 L113.4 530.32 L113.88 530.39 L114.36 530.46 L114.83 530.53 L115.31 530.6 L115.78 530.68 L116.26 530.75 L116.74 530.82 L117.21 530.9 L117.69 530.97 L118.16 531.05 L118.64 531.12 L119.12 531.19 L119.59 531.26 L120.07 531.32 L120.54 531.38 L121.02 531.41 L121.5 531.43 L121.97 531.41 L122.45 531.35 L122.92 531.23 L123.4 531.03 L123.88 530.74 L124.35 530.34 L124.83 529.8 L125.3 529.11 L125.78 528.27 L126.26 527.25 L126.73 526.08 L127.21 524.75 L127.68 523.31 L128.16 521.78 L128.64 520.2 L129.11 518.67 L129.59 517.25 L130.06 516.04 L130.54 515.09 L131.02 514.48 L131.49 514.25 L131.97 514.43 L132.44 515.03 L132.92 516.02 L133.4 517.35 L133.87 518.98 L134.35 520.81 L134.82 522.96 L135.3 524.94 L135.78 526.9 L136.25 528.77 L136.73 530.51 L137.2 532.07 L137.68 533.6 L138.16 534.96 L138.63 536.09 L139.11 537.01 L139.58 537.74 L140.06 538.31 L140.54 538.74 L141.01 539.06 L141.49 539.3 L141.96 539.46 L142.44 539.58 L142.92 539.66 L143.39 539.71 L143.87 539.74 L144.34 539.77 L144.82 539.78 L145.3 539.79 L145.77 539.79 L146.25 539.8 L146.72 539.8 L147.2 539.8 L147.68 539.8 L148.15 539.8 L148.63 539.8 L149.1 539.8 L149.58 539.8 L150.06 539.79 L150.53 539.79 L151.01 539.79 L151.48 539.79 L151.96 539.78 L152.44 539.77 L152.91 539.77 L153.39 539.76 L153.86 539.74 L154.34 539.73 L154.82 539.71 L155.29 539.68 L155.77 539.65 L156.24 539.62 L156.72 539.57 L157.2 539.52 L157.67 539.47 L158.15 539.4 L158.62 539.33 L159.1 539.26 L159.58 539.17 L160.05 539.08 L160.53 538.98 L161 538.88 L161.48 538.78 L161.96 538.68 L162.43 538.58 L162.91 538.49 L163.38 538.4 L163.86 538.32 L164.34 538.25 L164.81 538.2 L165.29 538.16 L165.76 538.13 L166.24 538.12 L166.72 538.13 L167.19 538.16 L167.67 538.2 L168.14 538.25 L168.62 538.32 L169.1 538.4 L169.57 538.49 L170.05 538.58 L170.52 538.68 L171 538.78 L171.48 538.88 L171.95 538.98 L172.43 539.08 L172.9 539.17 L173.38 539.26 L173.86 539.33 L174.33 539.4 L174.81 539.47 L175.28 539.52 L175.76 539.57 L176.24 539.62 L176.71 539.65 L177.19 539.68 L177.66 539.71 L178.14 539.73 L178.62 539.74 L179.09 539.76 L179.57 539.77 L180.04 539.77 L180.52 539.78 L181 539.79 L181.47 539.79 L181.95 539.79 L182.42 539.79 L182.9 539.8" fill="none" stroke="#555" stroke-width="0.65" stroke-linejoin="round"/>
<line x1="63.9" y1="434.1" x2="63.9" y2="540.3" stroke="#222" stroke-width="1"/>
<line x1="57.4" y1="539.8" x2="183.7" y2="539.8" stroke="#222" stroke-width="1"/>
<line x1="57.3" y1="539.8" x2="63.9" y2="539.8" stroke="#333" stroke-width="0.65"/>
<text transform="translate(54.6 540.8)  rotate(-90) scale(0.76 1)" font-size="6" font-weight="bold" fill="#333" text-anchor="middle">0</text>
<line x1="60.4" y1="534.54" x2="63.9" y2="534.54" stroke="#333" stroke-width="0.65"/>
<line x1="60.4" y1="529.28" x2="63.9" y2="529.28" stroke="#333" stroke-width="0.65"/>
<line x1="60.4" y1="524.02" x2="63.9" y2="524.02" stroke="#333" stroke-width="0.65"/>
<line x1="60.4" y1="518.76" x2="63.9" y2="518.76" stroke="#333" stroke-width="0.65"/>
<line x1="57.3" y1="513.5" x2="63.9" y2="513.5" stroke="#333" stroke-width="0.65"/>
<text transform="translate(54.6 514.5)  rotate(-90) scale(0.76 1)" font-size="6" font-weight="bold" fill="#333" text-anchor="middle">1000</text>
<line x1="60.4" y1="508.24" x2="63.9" y2="508.24" stroke="#333" stroke-width="0.65"/>
<line x1="60.4" y1="502.98" x2="63.9" y2="502.98" stroke="#333" stroke-width="0.65"/>
<line x1="60.4" y1="497.72" x2="63.9" y2="497.72" stroke="#333" stroke-width="0.65"/>
<line x1="60.4" y1="492.46" x2="63.9" y2="492.46" stroke="#333" stroke-width="0.65"/>
<line x1="57.3" y1="487.2" x2="63.9" y2="487.2" stroke="#333" stroke-width="0.65"/>
<text transform="translate(54.6 488.2)  rotate(-90) scale(0.76 1)" font-size="6" font-weight="bold" fill="#333" text-anchor="middle">2000</text>
<line x1="60.4" y1="481.94" x2="63.9" y2="481.94" stroke="#333" stroke-width="0.65"/>
<line x1="60.4" y1="476.68" x2="63.9" y2="476.68" stroke="#333" stroke-width="0.65"/>
<line x1="60.4" y1="471.42" x2="63.9" y2="471.42" stroke="#333" stroke-width="0.65"/>
<line x1="60.4" y1="466.16" x2="63.9" y2="466.16" stroke="#333" stroke-width="0.65"/>
<line x1="57.3" y1="460.9" x2="63.9" y2="460.9" stroke="#333" stroke-width="0.65"/>
<text transform="translate(54.6 461.9)  rotate(-90) scale(0.76 1)" font-size="6" font-weight="bold" fill="#333" text-anchor="middle">3000</text>
<line x1="60.4" y1="455.64" x2="63.9" y2="455.64" stroke="#333" stroke-width="0.65"/>
<line x1="60.4" y1="450.38" x2="63.9" y2="450.38" stroke="#333" stroke-width="0.65"/>
<line x1="60.4" y1="445.12" x2="63.9" y2="445.12" stroke="#333" stroke-width="0.65"/>
<line x1="60.4" y1="439.86" x2="63.9" y2="439.86" stroke="#333" stroke-width="0.65"/>
<line x1="57.3" y1="434.6" x2="63.9" y2="434.6" stroke="#333" stroke-width="0.65"/>
<text transform="translate(54.6 435.6)  rotate(-90) scale(0.76 1)" font-size="6" font-weight="bold" fill="#333" text-anchor="middle">4000</text>
<line x1="63.9" y1="539.8" x2="63.9" y2="545.3" stroke="#333" stroke-width="0.65"/>
<text transform="translate(63.9 551.8) scale(0.8 1)" font-size="6.2" font-weight="bold" fill="#111" text-anchor="middle">0</text>
<line x1="69.85" y1="539.8" x2="69.85" y2="542.5" stroke="#333" stroke-width="0.65"/>
<line x1="75.8" y1="539.8" x2="75.8" y2="542.5" stroke="#333" stroke-width="0.65"/>
<line x1="81.75" y1="539.8" x2="81.75" y2="542.5" stroke="#333" stroke-width="0.65"/>
<line x1="87.7" y1="539.8" x2="87.7" y2="545.3" stroke="#333" stroke-width="0.65"/>
<text transform="translate(87.7 551.8) scale(0.8 1)" font-size="6.2" font-weight="bold" fill="#111" text-anchor="middle">20</text>
<line x1="93.65" y1="539.8" x2="93.65" y2="542.5" stroke="#333" stroke-width="0.65"/>
<line x1="99.6" y1="539.8" x2="99.6" y2="542.5" stroke="#333" stroke-width="0.65"/>
<line x1="105.55" y1="539.8" x2="105.55" y2="542.5" stroke="#333" stroke-width="0.65"/>
<line x1="111.5" y1="539.8" x2="111.5" y2="545.3" stroke="#333" stroke-width="0.65"/>
<text transform="translate(111.5 551.8) scale(0.8 1)" font-size="6.2" font-weight="bold" fill="#111" text-anchor="middle">40</text>
<line x1="117.45" y1="539.8" x2="117.45" y2="542.5" stroke="#333" stroke-width="0.65"/>
<line x1="123.4" y1="539.8" x2="123.4" y2="542.5" stroke="#333" stroke-width="0.65"/>
<line x1="129.35" y1="539.8" x2="129.35" y2="542.5" stroke="#333" stroke-width="0.65"/>
<line x1="135.3" y1="539.8" x2="135.3" y2="545.3" stroke="#333" stroke-width="0.65"/>
<text transform="translate(135.3 551.8) scale(0.8 1)" font-size="6.2" font-weight="bold" fill="#111" text-anchor="middle">60</text>
<line x1="141.25" y1="539.8" x2="141.25" y2="542.5" stroke="#333" stroke-width="0.65"/>
<line x1="147.2" y1="539.8" x2="147.2" y2="542.5" stroke="#333" stroke-width="0.65"/>
<line x1="153.15" y1="539.8" x2="153.15" y2="542.5" stroke="#333" stroke-width="0.65"/>
<line x1="159.1" y1="539.8" x2="159.1" y2="545.3" stroke="#333" stroke-width="0.65"/>
<text transform="translate(159.1 551.8) scale(0.8 1)" font-size="6.2" font-weight="bold" fill="#111" text-anchor="middle">80</text>
<line x1="165.05" y1="539.8" x2="165.05" y2="542.5" stroke="#333" stroke-width="0.65"/>
<line x1="171" y1="539.8" x2="171" y2="542.5" stroke="#333" stroke-width="0.65"/>
<line x1="176.95" y1="539.8" x2="176.95" y2="542.5" stroke="#333" stroke-width="0.65"/>
<line x1="182.9" y1="539.8" x2="182.9" y2="545.3" stroke="#333" stroke-width="0.65"/>
<text transform="translate(182.9 551.8) scale(0.8 1)" font-size="6.2" font-weight="bold" fill="#111" text-anchor="middle">100</text>
<text transform="translate(124.1 558.7) scale(0.85 1)" font-size="5.8" font-weight="bold" fill="#111" text-anchor="middle">PI-A</text>
<text transform="translate(45.7 487.2) rotate(-90) scale(0.8 1)" font-size="5.6" font-weight="bold" fill="#111" text-anchor="middle">Number</text>
<path d="M99.6 538.5l-2.4 4.2h4.8z" fill="#000"/>
<path d="M131.73 538.5l-2.4 4.2h4.8z" fill="#000"/>
<text x="155.8" y="450.9" font-size="10.45" font-weight="bold" fill="#555" text-anchor="middle">NC</text>
<text x="130.6" y="471.5" font-size="6.85" fill="#333" text-anchor="start">G0/G1:54.9%</text>
<text x="130.6" y="482.6" font-size="6.85" fill="#333" text-anchor="start">S:21.80%</text>
<text x="130.6" y="493.7" font-size="6.85" fill="#333" text-anchor="start">G2/M:23.27%</text>
<path d="M209 539.8 L209 539.8 L209.59 539.8 L210.19 539.8 L210.78 539.8 L211.38 539.8 L211.97 539.8 L212.57 539.8 L213.16 539.8 L213.76 539.8 L214.35 539.8 L214.95 539.8 L215.54 539.8 L216.14 539.8 L216.74 539.8 L217.33 539.8 L217.93 539.8 L218.52 539.8 L219.12 539.8 L219.71 539.8 L220.31 539.8 L220.9 539.8 L221.5 539.8 L222.09 539.8 L222.69 539.8 L223.28 539.8 L223.88 539.8 L224.47 539.8 L225.06 539.8 L225.66 539.8 L226.25 539.8 L226.85 539.8 L227.44 539.8 L228.04 539.8 L228.63 539.8 L229.23 539.8 L229.82 539.8 L230.42 539.8 L231.01 539.8 L231.61 539.8 L232.2 539.8 L232.8 539.8 L233.4 539.8 L233.99 539.8 L234.59 539.8 L235.18 539.8 L235.78 539.8 L236.37 539.8 L236.97 539.57 L237.56 539.46 L238.16 539.3 L238.75 539.06 L239.34 538.74 L239.94 538.32 L240.53 537.79 L241.13 537.16 L241.72 536.48 L242.32 535.85 L242.91 535.3 L243.51 534.85 L244.1 534.52 L244.7 534.31 L245.3 534.18 L245.89 534.12 L246.49 534.11 L247.08 534.14 L247.68 534.18 L248.27 534.25 L248.87 534.32 L249.46 534.41 L250.06 534.49 L250.65 534.58 L251.25 534.68 L251.84 534.77 L252.44 534.87 L253.03 534.97 L253.62 535.07 L254.22 535.17 L254.81 535.27 L255.41 535.38 L256 535.49 L256.6 535.61 L257.19 535.74 L257.79 535.88 L258.38 536.03 L258.98 536.19 L259.57 536.37 L260.17 536.58 L260.76 536.8 L261.36 537.06 L261.95 537.33 L262.55 537.63 L263.14 537.93 L263.74 538.23 L264.33 538.47 L264.93 538.7 L265.52 538.91 L266.12 539.1 L266.71 539.25 L267.31 539.38 L267.9 539.48 L268.5 539.56 L269.1 539.8 L269.69 539.8 L270.28 539.8 L270.88 539.8 L271.48 539.8 L272.07 539.8 L272.67 539.8 L273.26 539.8 L273.86 539.8 L274.45 539.8 L275.05 539.8 L275.64 539.8 L276.24 539.8 L276.83 539.8 L277.43 539.8 L278.02 539.8 L278.62 539.8 L279.21 539.8 L279.81 539.8 L280.4 539.8 L281 539.8 L281.59 539.8 L282.19 539.8 L282.78 539.8 L283.38 539.8 L283.97 539.8 L284.56 539.8 L285.16 539.8 L285.75 539.8 L286.35 539.8 L286.94 539.8 L287.54 539.8 L288.13 539.8 L288.73 539.8 L289.32 539.8 L289.92 539.8 L290.51 539.8 L291.11 539.8 L291.7 539.8 L292.3 539.8 L292.89 539.8 L293.49 539.8 L294.08 539.8 L294.68 539.8 L295.27 539.8 L295.87 539.8 L296.46 539.8 L297.06 539.8 L297.65 539.8 L298.25 539.8 L298.85 539.8 L299.44 539.8 L300.03 539.8 L300.63 539.8 L301.23 539.8 L301.82 539.8 L302.41 539.8 L303.01 539.8 L303.61 539.8 L304.2 539.8 L304.8 539.8 L305.39 539.8 L305.99 539.8 L306.58 539.8 L307.18 539.8 L307.77 539.8 L308.37 539.8 L308.96 539.8 L309.56 539.8 L310.15 539.8 L310.75 539.8 L311.34 539.8 L311.94 539.8 L312.53 539.8 L313.12 539.8 L313.72 539.8 L314.31 539.8 L314.91 539.8 L315.5 539.8 L316.1 539.8 L316.69 539.8 L317.29 539.8 L317.88 539.8 L318.48 539.8 L319.07 539.8 L319.67 539.8 L320.26 539.8 L320.86 539.8 L321.45 539.8 L322.05 539.8 L322.64 539.8 L323.24 539.8 L323.83 539.8 L324.43 539.8 L325.02 539.8 L325.62 539.8 L326.21 539.8 L326.81 539.8 L327.4 539.8 L328 539.8 L328 539.8 Z" fill="url(#hatch)" stroke="#3c2f7a" stroke-width="0.45"/>
<path d="M232.92 539.8 L232.92 539.77 L233.3 539.72 L233.68 539.64 L234.06 539.48 L234.44 539.18 L234.82 538.64 L235.2 537.73 L235.58 536.25 L235.97 533.95 L236.35 530.53 L236.73 525.68 L237.11 519.16 L237.49 510.8 L237.87 500.66 L238.25 489.03 L238.63 476.54 L239.01 464.06 L239.39 452.68 L239.77 443.52 L240.15 437.57 L240.53 435.5 L240.92 437.57 L241.3 443.52 L241.68 452.68 L242.06 464.06 L242.44 476.54 L242.82 489.03 L243.2 500.66 L243.58 510.8 L243.96 519.16 L244.34 525.68 L244.72 530.53 L245.1 533.95 L245.49 536.25 L245.87 537.73 L246.25 538.64 L246.63 539.18 L247.01 539.48 L247.39 539.64 L247.77 539.72 L248.15 539.77 Z" fill="#cc0000" stroke="#2a0000" stroke-width="0.55"/>
<path d="M256.6 539.8 L256.6 539.8 L257.19 539.79 L257.79 539.78 L258.38 539.76 L258.98 539.72 L259.57 539.66 L260.17 539.54 L260.76 539.36 L261.36 539.07 L261.95 538.65 L262.55 538.05 L263.14 537.24 L263.74 536.2 L264.33 534.94 L264.93 533.5 L265.52 531.95 L266.12 530.4 L266.71 528.98 L267.31 527.85 L267.9 527.11 L268.5 526.85 L269.1 527.11 L269.69 527.85 L270.28 528.98 L270.88 530.4 L271.48 531.95 L272.07 533.5 L272.67 534.94 L273.26 536.2 L273.86 537.24 L274.45 538.05 L275.05 538.65 L275.64 539.07 L276.24 539.36 L276.83 539.54 L277.43 539.66 L278.02 539.72 L278.62 539.76 L279.21 539.78 L279.81 539.79 L280.4 539.8 Z" fill="#cc0000" stroke="#2a0000" stroke-width="0.55"/>
<clipPath id="fc2"><path d="M232.92 539.8 L232.92 539.77 L233.3 539.72 L233.68 539.64 L234.06 539.48 L234.44 539.18 L234.82 538.64 L235.2 537.73 L235.58 536.25 L235.97 533.95 L236.35 530.53 L236.73 525.68 L237.11 519.16 L237.49 510.8 L237.87 500.66 L238.25 489.03 L238.63 476.54 L239.01 464.06 L239.39 452.68 L239.77 443.52 L240.15 437.57 L240.53 435.5 L240.92 437.57 L241.3 443.52 L241.68 452.68 L242.06 464.06 L242.44 476.54 L242.82 489.03 L243.2 500.66 L243.58 510.8 L243.96 519.16 L244.34 525.68 L244.72 530.53 L245.1 533.95 L245.49 536.25 L245.87 537.73 L246.25 538.64 L246.63 539.18 L247.01 539.48 L247.39 539.64 L247.77 539.72 L248.15 539.77 Z M256.6 539.8 L256.6 539.8 L257.19 539.79 L257.79 539.78 L258.38 539.76 L258.98 539.72 L259.57 539.66 L260.17 539.54 L260.76 539.36 L261.36 539.07 L261.95 538.65 L262.55 538.05 L263.14 537.24 L263.74 536.2 L264.33 534.94 L264.93 533.5 L265.52 531.95 L266.12 530.4 L266.71 528.98 L267.31 527.85 L267.9 527.11 L268.5 526.85 L269.1 527.11 L269.69 527.85 L270.28 528.98 L270.88 530.4 L271.48 531.95 L272.07 533.5 L272.67 534.94 L273.26 536.2 L273.86 537.24 L274.45 538.05 L275.05 538.65 L275.64 539.07 L276.24 539.36 L276.83 539.54 L277.43 539.66 L278.02 539.72 L278.62 539.76 L279.21 539.78 L279.81 539.79 L280.4 539.8 Z"/></clipPath>
<path d="M209 539.8 L209 539.8 L209.59 539.8 L210.19 539.8 L210.78 539.8 L211.38 539.8 L211.97 539.8 L212.57 539.8 L213.16 539.8 L213.76 539.8 L214.35 539.8 L214.95 539.8 L215.54 539.8 L216.14 539.8 L216.74 539.8 L217.33 539.8 L217.93 539.8 L218.52 539.8 L219.12 539.8 L219.71 539.8 L220.31 539.8 L220.9 539.8 L221.5 539.8 L222.09 539.8 L222.69 539.8 L223.28 539.8 L223.88 539.8 L224.47 539.8 L225.06 539.8 L225.66 539.8 L226.25 539.8 L226.85 539.8 L227.44 539.8 L228.04 539.8 L228.63 539.8 L229.23 539.8 L229.82 539.8 L230.42 539.8 L231.01 539.8 L231.61 539.8 L232.2 539.8 L232.8 539.8 L233.4 539.8 L233.99 539.8 L234.59 539.8 L235.18 539.8 L235.78 539.8 L236.37 539.8 L236.97 539.57 L237.56 539.46 L238.16 539.3 L238.75 539.06 L239.34 538.74 L239.94 538.32 L240.53 537.79 L241.13 537.16 L241.72 536.48 L242.32 535.85 L242.91 535.3 L243.51 534.85 L244.1 534.52 L244.7 534.31 L245.3 534.18 L245.89 534.12 L246.49 534.11 L247.08 534.14 L247.68 534.18 L248.27 534.25 L248.87 534.32 L249.46 534.41 L250.06 534.49 L250.65 534.58 L251.25 534.68 L251.84 534.77 L252.44 534.87 L253.03 534.97 L253.62 535.07 L254.22 535.17 L254.81 535.27 L255.41 535.38 L256 535.49 L256.6 535.61 L257.19 535.74 L257.79 535.88 L258.38 536.03 L258.98 536.19 L259.57 536.37 L260.17 536.58 L260.76 536.8 L261.36 537.06 L261.95 537.33 L262.55 537.63 L263.14 537.93 L263.74 538.23 L264.33 538.47 L264.93 538.7 L265.52 538.91 L266.12 539.1 L266.71 539.25 L267.31 539.38 L267.9 539.48 L268.5 539.56 L269.1 539.8 L269.69 539.8 L270.28 539.8 L270.88 539.8 L271.48 539.8 L272.07 539.8 L272.67 539.8 L273.26 539.8 L273.86 539.8 L274.45 539.8 L275.05 539.8 L275.64 539.8 L276.24 539.8 L276.83 539.8 L277.43 539.8 L278.02 539.8 L278.62 539.8 L279.21 539.8 L279.81 539.8 L280.4 539.8 L281 539.8 L281.59 539.8 L282.19 539.8 L282.78 539.8 L283.38 539.8 L283.97 539.8 L284.56 539.8 L285.16 539.8 L285.75 539.8 L286.35 539.8 L286.94 539.8 L287.54 539.8 L288.13 539.8 L288.73 539.8 L289.32 539.8 L289.92 539.8 L290.51 539.8 L291.11 539.8 L291.7 539.8 L292.3 539.8 L292.89 539.8 L293.49 539.8 L294.08 539.8 L294.68 539.8 L295.27 539.8 L295.87 539.8 L296.46 539.8 L297.06 539.8 L297.65 539.8 L298.25 539.8 L298.85 539.8 L299.44 539.8 L300.03 539.8 L300.63 539.8 L301.23 539.8 L301.82 539.8 L302.41 539.8 L303.01 539.8 L303.61 539.8 L304.2 539.8 L304.8 539.8 L305.39 539.8 L305.99 539.8 L306.58 539.8 L307.18 539.8 L307.77 539.8 L308.37 539.8 L308.96 539.8 L309.56 539.8 L310.15 539.8 L310.75 539.8 L311.34 539.8 L311.94 539.8 L312.53 539.8 L313.12 539.8 L313.72 539.8 L314.31 539.8 L314.91 539.8 L315.5 539.8 L316.1 539.8 L316.69 539.8 L317.29 539.8 L317.88 539.8 L318.48 539.8 L319.07 539.8 L319.67 539.8 L320.26 539.8 L320.86 539.8 L321.45 539.8 L322.05 539.8 L322.64 539.8 L323.24 539.8 L323.83 539.8 L324.43 539.8 L325.02 539.8 L325.62 539.8 L326.21 539.8 L326.81 539.8 L327.4 539.8 L328 539.8 L328 539.8 Z" fill="url(#hatch2)" clip-path="url(#fc2)" stroke="#3a0a30" stroke-width="0.45"/>
<path d="M209 539.8 L209.48 539.8 L209.95 539.8 L210.43 539.8 L210.9 539.8 L211.38 539.8 L211.86 539.8 L212.33 539.8 L212.81 539.8 L213.28 539.8 L213.76 539.8 L214.24 539.8 L214.71 539.8 L215.19 539.8 L215.66 539.8 L216.14 539.8 L216.62 539.8 L217.09 539.8 L217.57 539.8 L218.04 539.8 L218.52 539.8 L219 539.8 L219.47 539.8 L219.95 539.8 L220.42 539.8 L220.9 539.8 L221.38 539.8 L221.85 539.8 L222.33 539.8 L222.8 539.8 L223.28 539.8 L223.76 539.8 L224.23 539.8 L224.71 539.8 L225.18 539.8 L225.66 539.8 L226.14 539.8 L226.61 539.8 L227.09 539.8 L227.56 539.8 L228.04 539.8 L228.52 539.8 L228.99 539.8 L229.47 539.8 L229.94 539.8 L230.42 539.8 L230.9 539.8 L231.37 539.8 L231.85 539.8 L232.32 539.79 L232.8 539.77 L233.28 539.72 L233.75 539.59 L234.23 539.3 L234.7 538.69 L235.18 537.48 L235.66 535.27 L236.13 531.6 L236.61 526.37 L237.08 518.37 L237.56 507.69 L238.04 494.26 L238.51 478.85 L238.99 462.97 L239.46 448.63 L239.94 437.99 L240.42 432.8 L240.89 433.94 L241.37 441.11 L241.84 453 L242.32 467.64 L242.8 482.87 L243.27 496.9 L243.75 508.59 L244.22 517.51 L244.7 523.77 L245.18 527.85 L245.65 530.32 L246.13 531.72 L246.6 532.46 L247.08 532.91 L247.56 533.15 L248.03 533.28 L248.51 533.38 L248.98 533.47 L249.46 533.55 L249.94 533.63 L250.41 533.71 L250.89 533.8 L251.36 533.89 L251.84 533.97 L252.32 534.06 L252.79 534.15 L253.27 534.25 L253.74 534.34 L254.22 534.43 L254.7 534.53 L255.17 534.63 L255.65 534.73 L256.12 534.84 L256.6 534.94 L257.08 535.06 L257.55 535.17 L258.03 535.29 L258.5 535.41 L258.98 535.53 L259.46 535.64 L259.93 535.73 L260.41 535.8 L260.88 535.82 L261.36 535.78 L261.84 535.65 L262.31 535.42 L262.79 535.04 L263.26 534.51 L263.74 533.8 L264.22 532.88 L264.69 531.9 L265.17 530.87 L265.64 529.78 L266.12 528.69 L266.6 527.67 L267.07 526.79 L267.55 526.12 L268.02 525.71 L268.5 525.61 L268.98 526.01 L269.45 526.5 L269.93 527.26 L270.4 528.25 L270.88 529.4 L271.36 530.63 L271.83 531.88 L272.31 533.19 L272.78 534.48 L273.26 535.63 L273.74 536.61 L274.21 537.42 L274.69 538.08 L275.16 538.58 L275.64 538.96 L276.12 539.23 L276.59 539.43 L277.07 539.56 L277.54 539.65 L278.02 539.71 L278.5 539.75 L278.97 539.77 L279.45 539.78 L279.92 539.79 L280.4 539.79 L280.88 539.8 L281.35 539.8 L281.83 539.8 L282.3 539.8 L282.78 539.8 L283.26 539.8 L283.73 539.8 L284.21 539.8 L284.68 539.8 L285.16 539.8 L285.64 539.8 L286.11 539.8 L286.59 539.8 L287.06 539.8 L287.54 539.8 L288.02 539.8 L288.49 539.8 L288.97 539.8 L289.44 539.8 L289.92 539.8 L290.4 539.8 L290.87 539.8 L291.35 539.8 L291.82 539.8 L292.3 539.8 L292.78 539.8 L293.25 539.8 L293.73 539.8 L294.2 539.8 L294.68 539.8 L295.16 539.8 L295.63 539.8 L296.11 539.8 L296.58 539.8 L297.06 539.8 L297.54 539.8 L298.01 539.8 L298.49 539.8 L298.96 539.8 L299.44 539.8 L299.92 539.8 L300.39 539.8 L300.87 539.8 L301.34 539.8 L301.82 539.8 L302.3 539.8 L302.77 539.8 L303.25 539.8 L303.72 539.8 L304.2 539.8 L304.68 539.8 L305.15 539.8 L305.63 539.8 L306.1 539.8 L306.58 539.8 L307.06 539.8 L307.53 539.8 L308.01 539.8 L308.48 539.8 L308.96 539.8 L309.44 539.8 L309.91 539.8 L310.39 539.8 L310.86 539.8 L311.34 539.8 L311.82 539.8 L312.29 539.8 L312.77 539.8 L313.24 539.8 L313.72 539.8 L314.2 539.8 L314.67 539.8 L315.15 539.8 L315.62 539.8 L316.1 539.8 L316.58 539.8 L317.05 539.8 L317.53 539.8 L318 539.8 L318.48 539.8 L318.96 539.8 L319.43 539.8 L319.91 539.8 L320.38 539.8 L320.86 539.8 L321.34 539.8 L321.81 539.8 L322.29 539.8 L322.76 539.8 L323.24 539.8 L323.72 539.8 L324.19 539.8 L324.67 539.8 L325.14 539.8 L325.62 539.8 L326.1 539.8 L326.57 539.8 L327.05 539.8 L327.52 539.8 L328 539.8" fill="none" stroke="#555" stroke-width="0.65" stroke-linejoin="round"/>
<line x1="209" y1="434.3" x2="209" y2="540.3" stroke="#222" stroke-width="1"/>
<line x1="202.5" y1="539.8" x2="328.5" y2="539.8" stroke="#222" stroke-width="1"/>
<line x1="202.4" y1="539.8" x2="209" y2="539.8" stroke="#333" stroke-width="0.65"/>
<text transform="translate(199.9 540.8)  rotate(-90) scale(0.76 1)" font-size="6" font-weight="bold" fill="#333" text-anchor="middle">0</text>
<line x1="205.5" y1="532.8" x2="209" y2="532.8" stroke="#333" stroke-width="0.65"/>
<line x1="205.5" y1="525.8" x2="209" y2="525.8" stroke="#333" stroke-width="0.65"/>
<line x1="205.5" y1="518.8" x2="209" y2="518.8" stroke="#333" stroke-width="0.65"/>
<line x1="205.5" y1="511.8" x2="209" y2="511.8" stroke="#333" stroke-width="0.65"/>
<line x1="202.4" y1="504.8" x2="209" y2="504.8" stroke="#333" stroke-width="0.65"/>
<text transform="translate(199.9 505.8)  rotate(-90) scale(0.76 1)" font-size="6" font-weight="bold" fill="#333" text-anchor="middle">1000</text>
<line x1="205.5" y1="497.8" x2="209" y2="497.8" stroke="#333" stroke-width="0.65"/>
<line x1="205.5" y1="490.8" x2="209" y2="490.8" stroke="#333" stroke-width="0.65"/>
<line x1="205.5" y1="483.8" x2="209" y2="483.8" stroke="#333" stroke-width="0.65"/>
<line x1="205.5" y1="476.8" x2="209" y2="476.8" stroke="#333" stroke-width="0.65"/>
<line x1="202.4" y1="469.8" x2="209" y2="469.8" stroke="#333" stroke-width="0.65"/>
<text transform="translate(199.9 470.8)  rotate(-90) scale(0.76 1)" font-size="6" font-weight="bold" fill="#333" text-anchor="middle">2000</text>
<line x1="205.5" y1="462.8" x2="209" y2="462.8" stroke="#333" stroke-width="0.65"/>
<line x1="205.5" y1="455.8" x2="209" y2="455.8" stroke="#333" stroke-width="0.65"/>
<line x1="205.5" y1="448.8" x2="209" y2="448.8" stroke="#333" stroke-width="0.65"/>
<line x1="205.5" y1="441.8" x2="209" y2="441.8" stroke="#333" stroke-width="0.65"/>
<line x1="202.4" y1="434.8" x2="209" y2="434.8" stroke="#333" stroke-width="0.65"/>
<text transform="translate(199.9 435.8)  rotate(-90) scale(0.76 1)" font-size="6" font-weight="bold" fill="#333" text-anchor="middle">3000</text>
<line x1="209" y1="539.8" x2="209" y2="545.3" stroke="#333" stroke-width="0.65"/>
<text transform="translate(209 551.8) scale(0.8 1)" font-size="6.2" font-weight="bold" fill="#111" text-anchor="middle">0</text>
<line x1="214.95" y1="539.8" x2="214.95" y2="542.5" stroke="#333" stroke-width="0.65"/>
<line x1="220.9" y1="539.8" x2="220.9" y2="542.5" stroke="#333" stroke-width="0.65"/>
<line x1="226.85" y1="539.8" x2="226.85" y2="542.5" stroke="#333" stroke-width="0.65"/>
<line x1="232.8" y1="539.8" x2="232.8" y2="545.3" stroke="#333" stroke-width="0.65"/>
<text transform="translate(232.8 551.8) scale(0.8 1)" font-size="6.2" font-weight="bold" fill="#111" text-anchor="middle">20</text>
<line x1="238.75" y1="539.8" x2="238.75" y2="542.5" stroke="#333" stroke-width="0.65"/>
<line x1="244.7" y1="539.8" x2="244.7" y2="542.5" stroke="#333" stroke-width="0.65"/>
<line x1="250.65" y1="539.8" x2="250.65" y2="542.5" stroke="#333" stroke-width="0.65"/>
<line x1="256.6" y1="539.8" x2="256.6" y2="545.3" stroke="#333" stroke-width="0.65"/>
<text transform="translate(256.6 551.8) scale(0.8 1)" font-size="6.2" font-weight="bold" fill="#111" text-anchor="middle">40</text>
<line x1="262.55" y1="539.8" x2="262.55" y2="542.5" stroke="#333" stroke-width="0.65"/>
<line x1="268.5" y1="539.8" x2="268.5" y2="542.5" stroke="#333" stroke-width="0.65"/>
<line x1="274.45" y1="539.8" x2="274.45" y2="542.5" stroke="#333" stroke-width="0.65"/>
<line x1="280.4" y1="539.8" x2="280.4" y2="545.3" stroke="#333" stroke-width="0.65"/>
<text transform="translate(280.4 551.8) scale(0.8 1)" font-size="6.2" font-weight="bold" fill="#111" text-anchor="middle">60</text>
<line x1="286.35" y1="539.8" x2="286.35" y2="542.5" stroke="#333" stroke-width="0.65"/>
<line x1="292.3" y1="539.8" x2="292.3" y2="542.5" stroke="#333" stroke-width="0.65"/>
<line x1="298.25" y1="539.8" x2="298.25" y2="542.5" stroke="#333" stroke-width="0.65"/>
<line x1="304.2" y1="539.8" x2="304.2" y2="545.3" stroke="#333" stroke-width="0.65"/>
<text transform="translate(304.2 551.8) scale(0.8 1)" font-size="6.2" font-weight="bold" fill="#111" text-anchor="middle">80</text>
<line x1="310.15" y1="539.8" x2="310.15" y2="542.5" stroke="#333" stroke-width="0.65"/>
<line x1="316.1" y1="539.8" x2="316.1" y2="542.5" stroke="#333" stroke-width="0.65"/>
<line x1="322.05" y1="539.8" x2="322.05" y2="542.5" stroke="#333" stroke-width="0.65"/>
<line x1="328" y1="539.8" x2="328" y2="545.3" stroke="#333" stroke-width="0.65"/>
<text transform="translate(328 551.8) scale(0.8 1)" font-size="6.2" font-weight="bold" fill="#111" text-anchor="middle">100</text>
<text transform="translate(268.8 558.7) scale(0.85 1)" font-size="5.8" font-weight="bold" fill="#111" text-anchor="middle">PI-A</text>
<text transform="translate(191.5 487.3) rotate(-90) scale(0.8 1)" font-size="5.6" font-weight="bold" fill="#111" text-anchor="middle">Number</text>
<path d="M240.53 538.5l-2.4 4.2h4.8z" fill="#000"/>
<path d="M268.5 538.5l-2.4 4.2h4.8z" fill="#000"/>
<text x="294.9" y="450.5" font-size="10.45" font-weight="bold" fill="#555" text-anchor="middle">TRIB3-KD 1</text>
<text x="275.8" y="471.2" font-size="6.85" fill="#333" text-anchor="start">G0/G1:67.58%</text>
<text x="275.8" y="482.3" font-size="6.85" fill="#333" text-anchor="start">S:15.61%</text>
<text x="275.8" y="493.4" font-size="6.85" fill="#333" text-anchor="start">G2/M:16.81%</text>
<path d="M359.7 539.8 L359.7 539.8 L360.3 539.8 L360.89 539.8 L361.49 539.8 L362.09 539.8 L362.68 539.8 L363.28 539.8 L363.88 539.8 L364.47 539.8 L365.07 539.8 L365.66 539.8 L366.26 539.8 L366.86 539.8 L367.45 539.8 L368.05 539.8 L368.65 539.8 L369.24 539.8 L369.84 539.8 L370.44 539.8 L371.03 539.8 L371.63 539.8 L372.23 539.8 L372.82 539.8 L373.42 539.8 L374.02 539.8 L374.61 539.8 L375.21 539.8 L375.81 539.8 L376.4 539.8 L377 539.8 L377.59 539.8 L378.19 539.8 L378.79 539.8 L379.38 539.8 L379.98 539.8 L380.58 539.8 L381.17 539.8 L381.77 539.8 L382.37 539.8 L382.96 539.8 L383.56 539.8 L384.16 539.8 L384.75 539.8 L385.35 539.8 L385.95 539.8 L386.54 539.8 L387.14 539.8 L387.74 539.8 L388.33 539.57 L388.93 539.45 L389.52 539.3 L390.12 539.08 L390.72 538.79 L391.31 538.42 L391.91 537.99 L392.51 537.53 L393.1 537.09 L393.7 536.71 L394.3 536.4 L394.89 536.16 L395.49 536.01 L396.09 535.91 L396.68 535.86 L397.28 535.85 L397.88 535.85 L398.47 535.88 L399.07 535.92 L399.67 535.96 L400.26 536.01 L400.86 536.06 L401.45 536.11 L402.05 536.17 L402.65 536.22 L403.24 536.28 L403.84 536.34 L404.44 536.4 L405.03 536.46 L405.63 536.53 L406.23 536.6 L406.82 536.67 L407.42 536.74 L408.02 536.82 L408.61 536.91 L409.21 537.01 L409.81 537.12 L410.4 537.24 L411 537.38 L411.6 537.54 L412.19 537.72 L412.79 537.92 L413.38 538.13 L413.98 538.35 L414.58 538.58 L415.17 538.76 L415.77 538.95 L416.37 539.11 L416.96 539.25 L417.56 539.38 L418.16 539.47 L418.75 539.55 L419.35 539.8 L419.95 539.8 L420.54 539.8 L421.14 539.8 L421.74 539.8 L422.33 539.8 L422.93 539.8 L423.53 539.8 L424.12 539.8 L424.72 539.8 L425.31 539.8 L425.91 539.8 L426.51 539.8 L427.1 539.8 L427.7 539.8 L428.3 539.8 L428.89 539.8 L429.49 539.8 L430.09 539.8 L430.68 539.8 L431.28 539.8 L431.88 539.8 L432.47 539.8 L433.07 539.8 L433.67 539.8 L434.26 539.8 L434.86 539.8 L435.46 539.8 L436.05 539.8 L436.65 539.8 L437.25 539.8 L437.84 539.8 L438.44 539.8 L439.03 539.8 L439.63 539.8 L440.23 539.8 L440.82 539.8 L441.42 539.8 L442.02 539.8 L442.61 539.8 L443.21 539.8 L443.81 539.8 L444.4 539.8 L445 539.8 L445.6 539.8 L446.19 539.8 L446.79 539.8 L447.39 539.8 L447.98 539.8 L448.58 539.8 L449.18 539.8 L449.77 539.8 L450.37 539.8 L450.96 539.8 L451.56 539.8 L452.16 539.8 L452.75 539.8 L453.35 539.8 L453.95 539.8 L454.54 539.8 L455.14 539.8 L455.74 539.8 L456.33 539.8 L456.93 539.8 L457.53 539.8 L458.12 539.8 L458.72 539.8 L459.32 539.8 L459.91 539.8 L460.51 539.8 L461.11 539.8 L461.7 539.8 L462.3 539.8 L462.89 539.8 L463.49 539.8 L464.09 539.8 L464.68 539.8 L465.28 539.8 L465.88 539.8 L466.47 539.8 L467.07 539.8 L467.67 539.8 L468.26 539.8 L468.86 539.8 L469.46 539.8 L470.05 539.8 L470.65 539.8 L471.25 539.8 L471.84 539.8 L472.44 539.8 L473.03 539.8 L473.63 539.8 L474.23 539.8 L474.82 539.8 L475.42 539.8 L476.02 539.8 L476.61 539.8 L477.21 539.8 L477.81 539.8 L478.4 539.8 L479 539.8 L479 539.8 Z" fill="url(#hatch)" stroke="#3c2f7a" stroke-width="0.45"/>
<path d="M383.08 539.8 L383.08 539.77 L383.46 539.72 L383.85 539.64 L384.23 539.48 L384.61 539.18 L384.99 538.64 L385.37 537.73 L385.76 536.25 L386.14 533.95 L386.52 530.53 L386.9 525.68 L387.28 519.16 L387.66 510.8 L388.05 500.66 L388.43 489.03 L388.81 476.54 L389.19 464.06 L389.57 452.68 L389.95 443.52 L390.34 437.57 L390.72 435.5 L391.1 437.57 L391.48 443.52 L391.86 452.68 L392.25 464.06 L392.63 476.54 L393.01 489.03 L393.39 500.66 L393.77 510.8 L394.15 519.16 L394.54 525.68 L394.92 530.53 L395.3 533.95 L395.68 536.25 L396.06 537.73 L396.44 538.64 L396.83 539.18 L397.21 539.48 L397.59 539.64 L397.97 539.72 L398.35 539.77 Z" fill="#cc0000" stroke="#2a0000" stroke-width="0.55"/>
<path d="M407.42 539.8 L407.42 539.79 L408.02 539.79 L408.61 539.78 L409.21 539.75 L409.81 539.71 L410.4 539.63 L411 539.49 L411.6 539.26 L412.19 538.92 L412.79 538.4 L413.38 537.67 L413.98 536.68 L414.58 535.42 L415.17 533.89 L415.77 532.13 L416.37 530.25 L416.96 528.36 L417.56 526.64 L418.16 525.26 L418.75 524.36 L419.35 524.05 L419.95 524.36 L420.54 525.26 L421.14 526.64 L421.74 528.36 L422.33 530.25 L422.93 532.13 L423.53 533.89 L424.12 535.42 L424.72 536.68 L425.31 537.67 L425.91 538.4 L426.51 538.92 L427.1 539.26 L427.7 539.49 L428.3 539.63 L428.89 539.71 L429.49 539.75 L430.09 539.78 L430.68 539.79 L431.28 539.79 Z" fill="#cc0000" stroke="#2a0000" stroke-width="0.55"/>
<clipPath id="fc3"><path d="M383.08 539.8 L383.08 539.77 L383.46 539.72 L383.85 539.64 L384.23 539.48 L384.61 539.18 L384.99 538.64 L385.37 537.73 L385.76 536.25 L386.14 533.95 L386.52 530.53 L386.9 525.68 L387.28 519.16 L387.66 510.8 L388.05 500.66 L388.43 489.03 L388.81 476.54 L389.19 464.06 L389.57 452.68 L389.95 443.52 L390.34 437.57 L390.72 435.5 L391.1 437.57 L391.48 443.52 L391.86 452.68 L392.25 464.06 L392.63 476.54 L393.01 489.03 L393.39 500.66 L393.77 510.8 L394.15 519.16 L394.54 525.68 L394.92 530.53 L395.3 533.95 L395.68 536.25 L396.06 537.73 L396.44 538.64 L396.83 539.18 L397.21 539.48 L397.59 539.64 L397.97 539.72 L398.35 539.77 Z M407.42 539.8 L407.42 539.79 L408.02 539.79 L408.61 539.78 L409.21 539.75 L409.81 539.71 L410.4 539.63 L411 539.49 L411.6 539.26 L412.19 538.92 L412.79 538.4 L413.38 537.67 L413.98 536.68 L414.58 535.42 L415.17 533.89 L415.77 532.13 L416.37 530.25 L416.96 528.36 L417.56 526.64 L418.16 525.26 L418.75 524.36 L419.35 524.05 L419.95 524.36 L420.54 525.26 L421.14 526.64 L421.74 528.36 L422.33 530.25 L422.93 532.13 L423.53 533.89 L424.12 535.42 L424.72 536.68 L425.31 537.67 L425.91 538.4 L426.51 538.92 L427.1 539.26 L427.7 539.49 L428.3 539.63 L428.89 539.71 L429.49 539.75 L430.09 539.78 L430.68 539.79 L431.28 539.79 Z"/></clipPath>
<path d="M359.7 539.8 L359.7 539.8 L360.3 539.8 L360.89 539.8 L361.49 539.8 L362.09 539.8 L362.68 539.8 L363.28 539.8 L363.88 539.8 L364.47 539.8 L365.07 539.8 L365.66 539.8 L366.26 539.8 L366.86 539.8 L367.45 539.8 L368.05 539.8 L368.65 539.8 L369.24 539.8 L369.84 539.8 L370.44 539.8 L371.03 539.8 L371.63 539.8 L372.23 539.8 L372.82 539.8 L373.42 539.8 L374.02 539.8 L374.61 539.8 L375.21 539.8 L375.81 539.8 L376.4 539.8 L377 539.8 L377.59 539.8 L378.19 539.8 L378.79 539.8 L379.38 539.8 L379.98 539.8 L380.58 539.8 L381.17 539.8 L381.77 539.8 L382.37 539.8 L382.96 539.8 L383.56 539.8 L384.16 539.8 L384.75 539.8 L385.35 539.8 L385.95 539.8 L386.54 539.8 L387.14 539.8 L387.74 539.8 L388.33 539.57 L388.93 539.45 L389.52 539.3 L390.12 539.08 L390.72 538.79 L391.31 538.42 L391.91 537.99 L392.51 537.53 L393.1 537.09 L393.7 536.71 L394.3 536.4 L394.89 536.16 L395.49 536.01 L396.09 535.91 L396.68 535.86 L397.28 535.85 L397.88 535.85 L398.47 535.88 L399.07 535.92 L399.67 535.96 L400.26 536.01 L400.86 536.06 L401.45 536.11 L402.05 536.17 L402.65 536.22 L403.24 536.28 L403.84 536.34 L404.44 536.4 L405.03 536.46 L405.63 536.53 L406.23 536.6 L406.82 536.67 L407.42 536.74 L408.02 536.82 L408.61 536.91 L409.21 537.01 L409.81 537.12 L410.4 537.24 L411 537.38 L411.6 537.54 L412.19 537.72 L412.79 537.92 L413.38 538.13 L413.98 538.35 L414.58 538.58 L415.17 538.76 L415.77 538.95 L416.37 539.11 L416.96 539.25 L417.56 539.38 L418.16 539.47 L418.75 539.55 L419.35 539.8 L419.95 539.8 L420.54 539.8 L421.14 539.8 L421.74 539.8 L422.33 539.8 L422.93 539.8 L423.53 539.8 L424.12 539.8 L424.72 539.8 L425.31 539.8 L425.91 539.8 L426.51 539.8 L427.1 539.8 L427.7 539.8 L428.3 539.8 L428.89 539.8 L429.49 539.8 L430.09 539.8 L430.68 539.8 L431.28 539.8 L431.88 539.8 L432.47 539.8 L433.07 539.8 L433.67 539.8 L434.26 539.8 L434.86 539.8 L435.46 539.8 L436.05 539.8 L436.65 539.8 L437.25 539.8 L437.84 539.8 L438.44 539.8 L439.03 539.8 L439.63 539.8 L440.23 539.8 L440.82 539.8 L441.42 539.8 L442.02 539.8 L442.61 539.8 L443.21 539.8 L443.81 539.8 L444.4 539.8 L445 539.8 L445.6 539.8 L446.19 539.8 L446.79 539.8 L447.39 539.8 L447.98 539.8 L448.58 539.8 L449.18 539.8 L449.77 539.8 L450.37 539.8 L450.96 539.8 L451.56 539.8 L452.16 539.8 L452.75 539.8 L453.35 539.8 L453.95 539.8 L454.54 539.8 L455.14 539.8 L455.74 539.8 L456.33 539.8 L456.93 539.8 L457.53 539.8 L458.12 539.8 L458.72 539.8 L459.32 539.8 L459.91 539.8 L460.51 539.8 L461.11 539.8 L461.7 539.8 L462.3 539.8 L462.89 539.8 L463.49 539.8 L464.09 539.8 L464.68 539.8 L465.28 539.8 L465.88 539.8 L466.47 539.8 L467.07 539.8 L467.67 539.8 L468.26 539.8 L468.86 539.8 L469.46 539.8 L470.05 539.8 L470.65 539.8 L471.25 539.8 L471.84 539.8 L472.44 539.8 L473.03 539.8 L473.63 539.8 L474.23 539.8 L474.82 539.8 L475.42 539.8 L476.02 539.8 L476.61 539.8 L477.21 539.8 L477.81 539.8 L478.4 539.8 L479 539.8 L479 539.8 Z" fill="url(#hatch2)" clip-path="url(#fc3)" stroke="#3a0a30" stroke-width="0.45"/>
<path d="M359.7 539.8 L360.18 539.8 L360.65 539.8 L361.13 539.8 L361.61 539.8 L362.09 539.8 L362.56 539.8 L363.04 539.8 L363.52 539.8 L363.99 539.8 L364.47 539.8 L364.95 539.8 L365.43 539.8 L365.9 539.8 L366.38 539.8 L366.86 539.8 L367.34 539.8 L367.81 539.8 L368.29 539.8 L368.77 539.8 L369.24 539.8 L369.72 539.8 L370.2 539.8 L370.68 539.8 L371.15 539.8 L371.63 539.8 L372.11 539.8 L372.58 539.8 L373.06 539.8 L373.54 539.8 L374.02 539.8 L374.49 539.8 L374.97 539.8 L375.45 539.8 L375.92 539.8 L376.4 539.8 L376.88 539.8 L377.36 539.8 L377.83 539.8 L378.31 539.8 L378.79 539.8 L379.27 539.8 L379.74 539.8 L380.22 539.8 L380.7 539.8 L381.17 539.8 L381.65 539.8 L382.13 539.8 L382.61 539.79 L383.08 539.76 L383.56 539.69 L384.04 539.54 L384.51 539.19 L384.99 538.46 L385.47 537.05 L385.95 534.49 L386.42 530.5 L386.9 524.68 L387.38 516.24 L387.85 504.94 L388.33 490.81 L388.81 475.22 L389.29 459.64 L389.76 446.17 L390.24 436.93 L390.72 433.49 L391.2 436.41 L391.67 445.13 L392.15 458.08 L392.63 473.18 L393.1 488.34 L393.58 501.92 L394.06 512.95 L394.54 521.18 L395.01 526.83 L395.49 530.42 L395.97 532.56 L396.44 533.91 L396.92 534.61 L397.4 534.95 L397.88 535.12 L398.35 535.21 L398.83 535.27 L399.31 535.31 L399.78 535.36 L400.26 535.4 L400.74 535.45 L401.22 535.5 L401.69 535.55 L402.17 535.6 L402.65 535.66 L403.13 535.71 L403.6 535.77 L404.08 535.82 L404.56 535.88 L405.03 535.94 L405.51 535.99 L405.99 536.06 L406.47 536.12 L406.94 536.18 L407.42 536.25 L407.9 536.32 L408.37 536.39 L408.85 536.46 L409.33 536.52 L409.81 536.58 L410.28 536.62 L410.76 536.64 L411.24 536.62 L411.71 536.53 L412.19 536.36 L412.67 536.09 L413.15 535.67 L413.62 535.08 L414.1 534.3 L414.58 533.31 L415.06 532.14 L415.53 530.93 L416.01 529.6 L416.49 528.21 L416.96 526.82 L417.44 525.52 L417.92 524.4 L418.4 523.54 L418.87 523.02 L419.35 523.05 L419.83 523.25 L420.3 523.84 L420.78 524.76 L421.26 525.97 L421.74 527.36 L422.21 528.87 L422.69 530.39 L423.17 531.86 L423.64 533.33 L424.12 534.73 L424.6 535.92 L425.08 536.91 L425.55 537.7 L426.03 538.32 L426.51 538.78 L426.99 539.11 L427.46 539.35 L427.94 539.51 L428.42 539.62 L428.89 539.69 L429.37 539.74 L429.85 539.76 L430.33 539.78 L430.8 539.79 L431.28 539.79 L431.76 539.8 L432.23 539.8 L432.71 539.8 L433.19 539.8 L433.67 539.8 L434.14 539.8 L434.62 539.8 L435.1 539.8 L435.57 539.8 L436.05 539.8 L436.53 539.8 L437.01 539.8 L437.48 539.8 L437.96 539.8 L438.44 539.8 L438.92 539.8 L439.39 539.8 L439.87 539.8 L440.35 539.8 L440.82 539.8 L441.3 539.8 L441.78 539.8 L442.26 539.8 L442.73 539.8 L443.21 539.8 L443.69 539.8 L444.16 539.8 L444.64 539.8 L445.12 539.8 L445.6 539.8 L446.07 539.8 L446.55 539.8 L447.03 539.8 L447.5 539.8 L447.98 539.8 L448.46 539.8 L448.94 539.8 L449.41 539.8 L449.89 539.8 L450.37 539.8 L450.85 539.8 L451.32 539.8 L451.8 539.8 L452.28 539.8 L452.75 539.8 L453.23 539.8 L453.71 539.8 L454.19 539.8 L454.66 539.8 L455.14 539.8 L455.62 539.8 L456.09 539.8 L456.57 539.8 L457.05 539.8 L457.53 539.8 L458 539.8 L458.48 539.8 L458.96 539.8 L459.43 539.8 L459.91 539.8 L460.39 539.8 L460.87 539.8 L461.34 539.8 L461.82 539.8 L462.3 539.8 L462.78 539.8 L463.25 539.8 L463.73 539.8 L464.21 539.8 L464.68 539.8 L465.16 539.8 L465.64 539.8 L466.12 539.8 L466.59 539.8 L467.07 539.8 L467.55 539.8 L468.02 539.8 L468.5 539.8 L468.98 539.8 L469.46 539.8 L469.93 539.8 L470.41 539.8 L470.89 539.8 L471.36 539.8 L471.84 539.8 L472.32 539.8 L472.8 539.8 L473.27 539.8 L473.75 539.8 L474.23 539.8 L474.71 539.8 L475.18 539.8 L475.66 539.8 L476.14 539.8 L476.61 539.8 L477.09 539.8 L477.57 539.8 L478.05 539.8 L478.52 539.8 L479 539.8" fill="none" stroke="#555" stroke-width="0.65" stroke-linejoin="round"/>
<line x1="359.7" y1="434.3" x2="359.7" y2="540.3" stroke="#222" stroke-width="1"/>
<line x1="353.2" y1="539.8" x2="479.5" y2="539.8" stroke="#222" stroke-width="1"/>
<line x1="353.1" y1="539.8" x2="359.7" y2="539.8" stroke="#333" stroke-width="0.65"/>
<text transform="translate(350.6 540.8)  rotate(-90) scale(0.76 1)" font-size="6" font-weight="bold" fill="#333" text-anchor="middle">0</text>
<line x1="356.2" y1="536.3" x2="359.7" y2="536.3" stroke="#333" stroke-width="0.65"/>
<line x1="356.2" y1="532.8" x2="359.7" y2="532.8" stroke="#333" stroke-width="0.65"/>
<line x1="356.2" y1="529.3" x2="359.7" y2="529.3" stroke="#333" stroke-width="0.65"/>
<line x1="356.2" y1="525.8" x2="359.7" y2="525.8" stroke="#333" stroke-width="0.65"/>
<line x1="353.1" y1="522.3" x2="359.7" y2="522.3" stroke="#333" stroke-width="0.65"/>
<text transform="translate(350.6 523.3)  rotate(-90) scale(0.76 1)" font-size="6" font-weight="bold" fill="#333" text-anchor="middle">500</text>
<line x1="356.2" y1="518.8" x2="359.7" y2="518.8" stroke="#333" stroke-width="0.65"/>
<line x1="356.2" y1="515.3" x2="359.7" y2="515.3" stroke="#333" stroke-width="0.65"/>
<line x1="356.2" y1="511.8" x2="359.7" y2="511.8" stroke="#333" stroke-width="0.65"/>
<line x1="356.2" y1="508.3" x2="359.7" y2="508.3" stroke="#333" stroke-width="0.65"/>
<line x1="353.1" y1="504.8" x2="359.7" y2="504.8" stroke="#333" stroke-width="0.65"/>
<text transform="translate(350.6 505.8)  rotate(-90) scale(0.76 1)" font-size="6" font-weight="bold" fill="#333" text-anchor="middle">1000</text>
<line x1="356.2" y1="501.3" x2="359.7" y2="501.3" stroke="#333" stroke-width="0.65"/>
<line x1="356.2" y1="497.8" x2="359.7" y2="497.8" stroke="#333" stroke-width="0.65"/>
<line x1="356.2" y1="494.3" x2="359.7" y2="494.3" stroke="#333" stroke-width="0.65"/>
<line x1="356.2" y1="490.8" x2="359.7" y2="490.8" stroke="#333" stroke-width="0.65"/>
<line x1="353.1" y1="487.3" x2="359.7" y2="487.3" stroke="#333" stroke-width="0.65"/>
<text transform="translate(350.6 488.3)  rotate(-90) scale(0.76 1)" font-size="6" font-weight="bold" fill="#333" text-anchor="middle">1500</text>
<line x1="356.2" y1="483.8" x2="359.7" y2="483.8" stroke="#333" stroke-width="0.65"/>
<line x1="356.2" y1="480.3" x2="359.7" y2="480.3" stroke="#333" stroke-width="0.65"/>
<line x1="356.2" y1="476.8" x2="359.7" y2="476.8" stroke="#333" stroke-width="0.65"/>
<line x1="356.2" y1="473.3" x2="359.7" y2="473.3" stroke="#333" stroke-width="0.65"/>
<line x1="353.1" y1="469.8" x2="359.7" y2="469.8" stroke="#333" stroke-width="0.65"/>
<text transform="translate(350.6 470.8)  rotate(-90) scale(0.76 1)" font-size="6" font-weight="bold" fill="#333" text-anchor="middle">2000</text>
<line x1="356.2" y1="466.3" x2="359.7" y2="466.3" stroke="#333" stroke-width="0.65"/>
<line x1="356.2" y1="462.8" x2="359.7" y2="462.8" stroke="#333" stroke-width="0.65"/>
<line x1="356.2" y1="459.3" x2="359.7" y2="459.3" stroke="#333" stroke-width="0.65"/>
<line x1="356.2" y1="455.8" x2="359.7" y2="455.8" stroke="#333" stroke-width="0.65"/>
<line x1="353.1" y1="452.3" x2="359.7" y2="452.3" stroke="#333" stroke-width="0.65"/>
<text transform="translate(350.6 453.3)  rotate(-90) scale(0.76 1)" font-size="6" font-weight="bold" fill="#333" text-anchor="middle">2500</text>
<line x1="356.2" y1="448.8" x2="359.7" y2="448.8" stroke="#333" stroke-width="0.65"/>
<line x1="356.2" y1="445.3" x2="359.7" y2="445.3" stroke="#333" stroke-width="0.65"/>
<line x1="356.2" y1="441.8" x2="359.7" y2="441.8" stroke="#333" stroke-width="0.65"/>
<line x1="356.2" y1="438.3" x2="359.7" y2="438.3" stroke="#333" stroke-width="0.65"/>
<line x1="353.1" y1="434.8" x2="359.7" y2="434.8" stroke="#333" stroke-width="0.65"/>
<text transform="translate(350.6 435.8)  rotate(-90) scale(0.76 1)" font-size="6" font-weight="bold" fill="#333" text-anchor="middle">3000</text>
<line x1="359.7" y1="539.8" x2="359.7" y2="545.3" stroke="#333" stroke-width="0.65"/>
<text transform="translate(359.7 551.8) scale(0.8 1)" font-size="6.2" font-weight="bold" fill="#111" text-anchor="middle">0</text>
<line x1="365.66" y1="539.8" x2="365.66" y2="542.5" stroke="#333" stroke-width="0.65"/>
<line x1="371.63" y1="539.8" x2="371.63" y2="542.5" stroke="#333" stroke-width="0.65"/>
<line x1="377.59" y1="539.8" x2="377.59" y2="542.5" stroke="#333" stroke-width="0.65"/>
<line x1="383.56" y1="539.8" x2="383.56" y2="545.3" stroke="#333" stroke-width="0.65"/>
<text transform="translate(383.56 551.8) scale(0.8 1)" font-size="6.2" font-weight="bold" fill="#111" text-anchor="middle">20</text>
<line x1="389.52" y1="539.8" x2="389.52" y2="542.5" stroke="#333" stroke-width="0.65"/>
<line x1="395.49" y1="539.8" x2="395.49" y2="542.5" stroke="#333" stroke-width="0.65"/>
<line x1="401.45" y1="539.8" x2="401.45" y2="542.5" stroke="#333" stroke-width="0.65"/>
<line x1="407.42" y1="539.8" x2="407.42" y2="545.3" stroke="#333" stroke-width="0.65"/>
<text transform="translate(407.42 551.8) scale(0.8 1)" font-size="6.2" font-weight="bold" fill="#111" text-anchor="middle">40</text>
<line x1="413.38" y1="539.8" x2="413.38" y2="542.5" stroke="#333" stroke-width="0.65"/>
<line x1="419.35" y1="539.8" x2="419.35" y2="542.5" stroke="#333" stroke-width="0.65"/>
<line x1="425.31" y1="539.8" x2="425.31" y2="542.5" stroke="#333" stroke-width="0.65"/>
<line x1="431.28" y1="539.8" x2="431.28" y2="545.3" stroke="#333" stroke-width="0.65"/>
<text transform="translate(431.28 551.8) scale(0.8 1)" font-size="6.2" font-weight="bold" fill="#111" text-anchor="middle">60</text>
<line x1="437.25" y1="539.8" x2="437.25" y2="542.5" stroke="#333" stroke-width="0.65"/>
<line x1="443.21" y1="539.8" x2="443.21" y2="542.5" stroke="#333" stroke-width="0.65"/>
<line x1="449.18" y1="539.8" x2="449.18" y2="542.5" stroke="#333" stroke-width="0.65"/>
<line x1="455.14" y1="539.8" x2="455.14" y2="545.3" stroke="#333" stroke-width="0.65"/>
<text transform="translate(455.14 551.8) scale(0.8 1)" font-size="6.2" font-weight="bold" fill="#111" text-anchor="middle">80</text>
<line x1="461.11" y1="539.8" x2="461.11" y2="542.5" stroke="#333" stroke-width="0.65"/>
<line x1="467.07" y1="539.8" x2="467.07" y2="542.5" stroke="#333" stroke-width="0.65"/>
<line x1="473.03" y1="539.8" x2="473.03" y2="542.5" stroke="#333" stroke-width="0.65"/>
<line x1="479" y1="539.8" x2="479" y2="545.3" stroke="#333" stroke-width="0.65"/>
<text transform="translate(479 551.8) scale(0.8 1)" font-size="6.2" font-weight="bold" fill="#111" text-anchor="middle">100</text>
<text transform="translate(419.3 558.7) scale(0.85 1)" font-size="5.8" font-weight="bold" fill="#111" text-anchor="middle">PI-A</text>
<text transform="translate(342.5 487.3) rotate(-90) scale(0.8 1)" font-size="5.6" font-weight="bold" fill="#111" text-anchor="middle">Number</text>
<path d="M390.72 538.5l-2.4 4.2h4.8z" fill="#000"/>
<path d="M419.35 538.5l-2.4 4.2h4.8z" fill="#000"/>
<text x="446.4" y="450.5" font-size="10.45" font-weight="bold" fill="#555" text-anchor="middle">TRIB3-KD 2</text>
<text x="426" y="471.2" font-size="6.85" fill="#333" text-anchor="start">G0/G1:74.5%</text>
<text x="426" y="482.3" font-size="6.85" fill="#333" text-anchor="start">S:8.84%</text>
<text x="426" y="493.4" font-size="6.85" fill="#333" text-anchor="start">G2/M:16.66%</text>
<path d="M65.7 690.1 L65.7 690.1 L66.12 690.1 L66.55 690.1 L66.98 690.1 L67.4 690.1 L67.83 690.1 L68.25 690.1 L68.67 690.1 L69.1 690.1 L69.53 690.1 L69.95 690.1 L70.38 690.1 L70.8 690.1 L71.23 690.1 L71.65 690.1 L72.08 690.1 L72.5 690.1 L72.92 690.1 L73.35 690.1 L73.78 690.1 L74.2 690.1 L74.62 690.1 L75.05 690.1 L75.48 690.1 L75.9 690.1 L76.33 690.1 L76.75 690.1 L77.17 690.1 L77.6 690.1 L78.03 690.1 L78.45 690.1 L78.88 690.1 L79.3 690.1 L79.73 690.1 L80.15 690.1 L80.58 690.1 L81 690.1 L81.42 690.1 L81.85 690.1 L82.28 690.1 L82.7 690.1 L83.12 690.1 L83.55 690.1 L83.97 690.1 L84.4 690.1 L84.83 690.1 L85.25 690.1 L85.67 690.1 L86.1 690.1 L86.53 690.1 L86.95 690.1 L87.38 690.1 L87.8 690.1 L88.22 690.1 L88.65 690.1 L89.08 690.1 L89.5 690.1 L89.92 690.1 L90.35 690.1 L90.78 690.1 L91.2 690.1 L91.62 690.1 L92.05 690.1 L92.47 690.1 L92.9 690.1 L93.33 690.1 L93.75 690.1 L94.17 690.1 L94.6 690.1 L95.03 690.1 L95.45 690.1 L95.88 690.1 L96.3 690.1 L96.72 690.1 L97.15 690.1 L97.58 690.1 L98 690.1 L98.43 690.1 L98.85 690.1 L99.28 689.89 L99.7 689.84 L100.12 689.77 L100.55 689.69 L100.97 689.6 L101.4 689.48 L101.83 689.34 L102.25 689.17 L102.68 688.98 L103.1 688.75 L103.53 688.49 L103.95 688.2 L104.38 687.87 L104.8 687.53 L105.22 687.16 L105.65 686.79 L106.08 686.42 L106.5 686.06 L106.93 685.71 L107.35 685.4 L107.78 685.11 L108.2 684.86 L108.62 684.64 L109.05 684.45 L109.47 684.29 L109.9 684.16 L110.33 684.05 L110.75 683.96 L111.18 683.89 L111.6 683.83 L112.03 683.79 L112.45 683.75 L112.88 683.72 L113.3 683.7 L113.72 683.69 L114.15 683.68 L114.58 683.67 L115 683.67 L115.43 683.67 L115.85 683.67 L116.28 683.67 L116.7 683.67 L117.12 683.67 L117.55 683.68 L117.97 683.68 L118.4 683.69 L118.83 683.69 L119.25 683.7 L119.68 683.71 L120.1 683.71 L120.53 683.72 L120.95 683.73 L121.38 683.73 L121.8 683.74 L122.22 683.75 L122.65 683.76 L123.08 683.77 L123.5 683.78 L123.93 683.79 L124.35 683.8 L124.78 683.81 L125.2 683.82 L125.62 683.83 L126.05 683.84 L126.47 683.86 L126.9 683.87 L127.33 683.89 L127.75 683.91 L128.18 683.93 L128.6 683.95 L129.03 683.98 L129.45 684.01 L129.88 684.05 L130.3 684.08 L130.72 684.13 L131.15 684.18 L131.57 684.23 L132 684.3 L132.43 684.37 L132.85 684.46 L133.28 684.55 L133.7 684.66 L134.12 684.78 L134.55 684.92 L134.97 685.07 L135.4 685.23 L135.82 685.42 L136.25 685.61 L136.68 685.83 L137.1 686.05 L137.53 686.29 L137.95 686.54 L138.38 686.8 L138.8 687.05 L139.22 687.31 L139.65 687.56 L140.07 687.8 L140.5 688.03 L140.93 688.25 L141.35 688.46 L141.78 688.65 L142.2 688.83 L142.62 688.99 L143.05 689.13 L143.47 689.26 L143.9 689.37 L144.32 689.47 L144.75 689.56 L145.18 689.64 L145.6 689.7 L146.03 689.76 L146.45 689.81 L146.88 689.85 L147.3 690.1 L147.72 690.1 L148.15 690.1 L148.57 690.1 L149 690.1 L149.43 690.1 L149.85 690.1 L150.28 690.1 L150.7 690.1 L151.12 690.1 L151.55 690.1 L151.97 690.1 L152.4 690.1 L152.82 690.1 L153.25 690.1 L153.68 690.1 L154.1 690.1 L154.53 690.1 L154.95 690.1 L155.38 690.1 L155.8 690.1 L156.22 690.1 L156.65 690.1 L157.07 690.1 L157.5 690.1 L157.93 690.1 L158.35 690.1 L158.78 690.1 L159.2 690.1 L159.62 690.1 L160.05 690.1 L160.47 690.1 L160.9 690.1 L161.32 690.1 L161.75 690.1 L162.18 690.1 L162.6 690.1 L163.03 690.1 L163.45 690.1 L163.88 690.1 L164.3 690.1 L164.72 690.1 L165.15 690.1 L165.57 690.1 L166 690.1 L166.43 690.1 L166.85 690.1 L167.28 690.1 L167.7 690.1 L168.12 690.1 L168.55 690.1 L168.97 690.1 L169.4 690.1 L169.82 690.1 L170.25 690.1 L170.68 690.1 L171.1 690.1 L171.53 690.1 L171.95 690.1 L172.38 690.1 L172.8 690.1 L173.22 690.1 L173.65 690.1 L174.07 690.1 L174.5 690.1 L174.93 690.1 L175.35 690.1 L175.78 690.1 L176.2 690.1 L176.62 690.1 L177.05 690.1 L177.47 690.1 L177.9 690.1 L178.32 690.1 L178.75 690.1 L179.18 690.1 L179.6 690.1 L180.03 690.1 L180.45 690.1 L180.88 690.1 L181.3 690.1 L181.72 690.1 L182.15 690.1 L182.57 690.1 L183 690.1 L183.43 690.1 L183.85 690.1 L184.28 690.1 L184.7 690.1 L185.12 690.1 L185.55 690.1 L185.97 690.1 L186.4 690.1 L186.82 690.1 L187.25 690.1 L187.68 690.1 L188.1 690.1 L188.53 690.1 L188.95 690.1 L189.38 690.1 L189.8 690.1 L190.22 690.1 L190.65 690.1 L190.65 690.1 Z" fill="url(#hatch)" stroke="#3c2f7a" stroke-width="0.45"/>
<path d="M93.75 690.1 L93.75 690.07 L94.26 690.03 L94.77 689.95 L95.28 689.79 L95.79 689.5 L96.3 688.98 L96.81 688.1 L97.32 686.67 L97.83 684.45 L98.34 681.15 L98.85 676.47 L99.36 670.17 L99.87 662.1 L100.38 652.31 L100.89 641.08 L101.4 629.02 L101.91 616.98 L102.42 605.99 L102.93 597.14 L103.44 591.39 L103.95 589.4 L104.46 591.39 L104.97 597.14 L105.48 605.99 L105.99 616.98 L106.5 629.02 L107.01 641.08 L107.52 652.31 L108.03 662.1 L108.54 670.17 L109.05 676.47 L109.56 681.15 L110.07 684.45 L110.58 686.67 L111.09 688.1 L111.6 688.98 L112.11 689.5 L112.62 689.79 L113.13 689.95 L113.64 690.03 L114.15 690.07 Z" fill="#d93232" stroke="#2a0000" stroke-width="0.55"/>
<path d="M124.01 690.1 L124.01 690.09 L124.79 690.08 L125.57 690.07 L126.36 690.03 L127.14 689.96 L127.92 689.85 L128.7 689.65 L129.48 689.32 L130.27 688.82 L131.05 688.07 L131.83 687.02 L132.61 685.59 L133.39 683.76 L134.18 681.55 L134.96 679.01 L135.74 676.28 L136.52 673.55 L137.3 671.06 L138.09 669.06 L138.87 667.76 L139.65 667.31 L140.43 667.76 L141.21 669.06 L142 671.06 L142.78 673.55 L143.56 676.28 L144.34 679.01 L145.12 681.55 L145.91 683.76 L146.69 685.59 L147.47 687.02 L148.25 688.07 L149.03 688.82 L149.82 689.32 L150.6 689.65 L151.38 689.85 L152.16 689.96 L152.94 690.03 L153.73 690.07 L154.51 690.08 L155.29 690.09 Z" fill="#d93232" stroke="#2a0000" stroke-width="0.55"/>
<clipPath id="fc4"><path d="M93.75 690.1 L93.75 690.07 L94.26 690.03 L94.77 689.95 L95.28 689.79 L95.79 689.5 L96.3 688.98 L96.81 688.1 L97.32 686.67 L97.83 684.45 L98.34 681.15 L98.85 676.47 L99.36 670.17 L99.87 662.1 L100.38 652.31 L100.89 641.08 L101.4 629.02 L101.91 616.98 L102.42 605.99 L102.93 597.14 L103.44 591.39 L103.95 589.4 L104.46 591.39 L104.97 597.14 L105.48 605.99 L105.99 616.98 L106.5 629.02 L107.01 641.08 L107.52 652.31 L108.03 662.1 L108.54 670.17 L109.05 676.47 L109.56 681.15 L110.07 684.45 L110.58 686.67 L111.09 688.1 L111.6 688.98 L112.11 689.5 L112.62 689.79 L113.13 689.95 L113.64 690.03 L114.15 690.07 Z M124.01 690.1 L124.01 690.09 L124.79 690.08 L125.57 690.07 L126.36 690.03 L127.14 689.96 L127.92 689.85 L128.7 689.65 L129.48 689.32 L130.27 688.82 L131.05 688.07 L131.83 687.02 L132.61 685.59 L133.39 683.76 L134.18 681.55 L134.96 679.01 L135.74 676.28 L136.52 673.55 L137.3 671.06 L138.09 669.06 L138.87 667.76 L139.65 667.31 L140.43 667.76 L141.21 669.06 L142 671.06 L142.78 673.55 L143.56 676.28 L144.34 679.01 L145.12 681.55 L145.91 683.76 L146.69 685.59 L147.47 687.02 L148.25 688.07 L149.03 688.82 L149.82 689.32 L150.6 689.65 L151.38 689.85 L152.16 689.96 L152.94 690.03 L153.73 690.07 L154.51 690.08 L155.29 690.09 Z"/></clipPath>
<path d="M65.7 690.1 L65.7 690.1 L66.12 690.1 L66.55 690.1 L66.98 690.1 L67.4 690.1 L67.83 690.1 L68.25 690.1 L68.67 690.1 L69.1 690.1 L69.53 690.1 L69.95 690.1 L70.38 690.1 L70.8 690.1 L71.23 690.1 L71.65 690.1 L72.08 690.1 L72.5 690.1 L72.92 690.1 L73.35 690.1 L73.78 690.1 L74.2 690.1 L74.62 690.1 L75.05 690.1 L75.48 690.1 L75.9 690.1 L76.33 690.1 L76.75 690.1 L77.17 690.1 L77.6 690.1 L78.03 690.1 L78.45 690.1 L78.88 690.1 L79.3 690.1 L79.73 690.1 L80.15 690.1 L80.58 690.1 L81 690.1 L81.42 690.1 L81.85 690.1 L82.28 690.1 L82.7 690.1 L83.12 690.1 L83.55 690.1 L83.97 690.1 L84.4 690.1 L84.83 690.1 L85.25 690.1 L85.67 690.1 L86.1 690.1 L86.53 690.1 L86.95 690.1 L87.38 690.1 L87.8 690.1 L88.22 690.1 L88.65 690.1 L89.08 690.1 L89.5 690.1 L89.92 690.1 L90.35 690.1 L90.78 690.1 L91.2 690.1 L91.62 690.1 L92.05 690.1 L92.47 690.1 L92.9 690.1 L93.33 690.1 L93.75 690.1 L94.17 690.1 L94.6 690.1 L95.03 690.1 L95.45 690.1 L95.88 690.1 L96.3 690.1 L96.72 690.1 L97.15 690.1 L97.58 690.1 L98 690.1 L98.43 690.1 L98.85 690.1 L99.28 689.89 L99.7 689.84 L100.12 689.77 L100.55 689.69 L100.97 689.6 L101.4 689.48 L101.83 689.34 L102.25 689.17 L102.68 688.98 L103.1 688.75 L103.53 688.49 L103.95 688.2 L104.38 687.87 L104.8 687.53 L105.22 687.16 L105.65 686.79 L106.08 686.42 L106.5 686.06 L106.93 685.71 L107.35 685.4 L107.78 685.11 L108.2 684.86 L108.62 684.64 L109.05 684.45 L109.47 684.29 L109.9 684.16 L110.33 684.05 L110.75 683.96 L111.18 683.89 L111.6 683.83 L112.03 683.79 L112.45 683.75 L112.88 683.72 L113.3 683.7 L113.72 683.69 L114.15 683.68 L114.58 683.67 L115 683.67 L115.43 683.67 L115.85 683.67 L116.28 683.67 L116.7 683.67 L117.12 683.67 L117.55 683.68 L117.97 683.68 L118.4 683.69 L118.83 683.69 L119.25 683.7 L119.68 683.71 L120.1 683.71 L120.53 683.72 L120.95 683.73 L121.38 683.73 L121.8 683.74 L122.22 683.75 L122.65 683.76 L123.08 683.77 L123.5 683.78 L123.93 683.79 L124.35 683.8 L124.78 683.81 L125.2 683.82 L125.62 683.83 L126.05 683.84 L126.47 683.86 L126.9 683.87 L127.33 683.89 L127.75 683.91 L128.18 683.93 L128.6 683.95 L129.03 683.98 L129.45 684.01 L129.88 684.05 L130.3 684.08 L130.72 684.13 L131.15 684.18 L131.57 684.23 L132 684.3 L132.43 684.37 L132.85 684.46 L133.28 684.55 L133.7 684.66 L134.12 684.78 L134.55 684.92 L134.97 685.07 L135.4 685.23 L135.82 685.42 L136.25 685.61 L136.68 685.83 L137.1 686.05 L137.53 686.29 L137.95 686.54 L138.38 686.8 L138.8 687.05 L139.22 687.31 L139.65 687.56 L140.07 687.8 L140.5 688.03 L140.93 688.25 L141.35 688.46 L141.78 688.65 L142.2 688.83 L142.62 688.99 L143.05 689.13 L143.47 689.26 L143.9 689.37 L144.32 689.47 L144.75 689.56 L145.18 689.64 L145.6 689.7 L146.03 689.76 L146.45 689.81 L146.88 689.85 L147.3 690.1 L147.72 690.1 L148.15 690.1 L148.57 690.1 L149 690.1 L149.43 690.1 L149.85 690.1 L150.28 690.1 L150.7 690.1 L151.12 690.1 L151.55 690.1 L151.97 690.1 L152.4 690.1 L152.82 690.1 L153.25 690.1 L153.68 690.1 L154.1 690.1 L154.53 690.1 L154.95 690.1 L155.38 690.1 L155.8 690.1 L156.22 690.1 L156.65 690.1 L157.07 690.1 L157.5 690.1 L157.93 690.1 L158.35 690.1 L158.78 690.1 L159.2 690.1 L159.62 690.1 L160.05 690.1 L160.47 690.1 L160.9 690.1 L161.32 690.1 L161.75 690.1 L162.18 690.1 L162.6 690.1 L163.03 690.1 L163.45 690.1 L163.88 690.1 L164.3 690.1 L164.72 690.1 L165.15 690.1 L165.57 690.1 L166 690.1 L166.43 690.1 L166.85 690.1 L167.28 690.1 L167.7 690.1 L168.12 690.1 L168.55 690.1 L168.97 690.1 L169.4 690.1 L169.82 690.1 L170.25 690.1 L170.68 690.1 L171.1 690.1 L171.53 690.1 L171.95 690.1 L172.38 690.1 L172.8 690.1 L173.22 690.1 L173.65 690.1 L174.07 690.1 L174.5 690.1 L174.93 690.1 L175.35 690.1 L175.78 690.1 L176.2 690.1 L176.62 690.1 L177.05 690.1 L177.47 690.1 L177.9 690.1 L178.32 690.1 L178.75 690.1 L179.18 690.1 L179.6 690.1 L180.03 690.1 L180.45 690.1 L180.88 690.1 L181.3 690.1 L181.72 690.1 L182.15 690.1 L182.57 690.1 L183 690.1 L183.43 690.1 L183.85 690.1 L184.28 690.1 L184.7 690.1 L185.12 690.1 L185.55 690.1 L185.97 690.1 L186.4 690.1 L186.82 690.1 L187.25 690.1 L187.68 690.1 L188.1 690.1 L188.53 690.1 L188.95 690.1 L189.38 690.1 L189.8 690.1 L190.22 690.1 L190.65 690.1 L190.65 690.1 Z" fill="url(#hatch2)" clip-path="url(#fc4)" stroke="#3a0a30" stroke-width="0.45"/>
<path d="M65.7 690.1 L66.04 690.1 L66.38 690.1 L66.72 690.1 L67.06 690.1 L67.4 690.1 L67.74 690.1 L68.08 690.1 L68.42 690.1 L68.76 690.1 L69.1 690.1 L69.44 690.1 L69.78 690.1 L70.12 690.1 L70.46 690.1 L70.8 690.1 L71.14 690.1 L71.48 690.1 L71.82 690.1 L72.16 690.1 L72.5 690.1 L72.84 690.1 L73.18 690.1 L73.52 690.1 L73.86 690.1 L74.2 690.1 L74.54 690.1 L74.88 690.1 L75.22 690.1 L75.56 690.1 L75.9 690.1 L76.24 690.1 L76.58 690.1 L76.92 690.1 L77.26 690.1 L77.6 690.1 L77.94 690.1 L78.28 690.1 L78.62 690.1 L78.96 690.1 L79.3 690.1 L79.64 690.1 L79.98 690.1 L80.32 690.1 L80.66 690.1 L81 690.1 L81.34 690.1 L81.68 690.1 L82.02 690.1 L82.36 690.1 L82.7 690.1 L83.04 690.1 L83.38 690.1 L83.72 690.1 L84.06 690.1 L84.4 690.1 L84.74 690.1 L85.08 690.1 L85.42 690.1 L85.76 690.1 L86.1 690.1 L86.44 690.1 L86.78 690.1 L87.12 690.1 L87.46 690.1 L87.8 690.1 L88.14 690.1 L88.48 690.1 L88.82 690.1 L89.16 690.1 L89.5 690.1 L89.84 690.1 L90.18 690.1 L90.52 690.1 L90.86 690.1 L91.2 690.1 L91.54 690.1 L91.88 690.1 L92.22 690.1 L92.56 690.09 L92.9 690.09 L93.24 690.08 L93.58 690.06 L93.92 690.04 L94.26 690 L94.6 689.93 L94.94 689.82 L95.28 689.66 L95.62 689.42 L95.96 689.05 L96.3 688.52 L96.64 687.77 L96.98 686.72 L97.32 685.27 L97.66 683.33 L98 680.88 L98.34 678.55 L98.68 675.6 L99.02 671.96 L99.36 667.35 L99.7 662.13 L100.04 656.11 L100.38 649.33 L100.72 641.91 L101.06 634 L101.4 625.8 L101.74 617.6 L102.08 609.69 L102.42 602.39 L102.76 596.02 L103.1 590.89 L103.44 587.24 L103.78 585.24 L104.12 585 L104.46 586.5 L104.8 589.67 L105.14 594.33 L105.48 600.23 L105.82 607.08 L106.16 614.57 L106.5 622.38 L106.84 630.2 L107.18 637.77 L107.52 644.88 L107.86 651.38 L108.2 657.15 L108.54 662.15 L108.88 666.38 L109.22 669.88 L109.56 672.7 L109.9 674.94 L110.24 676.66 L110.58 677.96 L110.92 678.93 L111.26 679.62 L111.6 680.11 L111.94 680.45 L112.28 680.68 L112.62 680.83 L112.96 680.92 L113.3 680.98 L113.64 681.02 L113.98 681.04 L114.32 681.05 L114.66 681.06 L115 681.06 L115.34 681.06 L115.68 681.06 L116.02 681.07 L116.36 681.07 L116.7 681.07 L117.04 681.07 L117.38 681.08 L117.72 681.08 L118.06 681.08 L118.4 681.09 L118.74 681.09 L119.08 681.1 L119.42 681.1 L119.76 681.11 L120.1 681.11 L120.44 681.12 L120.78 681.12 L121.12 681.13 L121.46 681.14 L121.8 681.14 L122.14 681.15 L122.48 681.16 L122.82 681.17 L123.16 681.18 L123.5 681.19 L123.84 681.19 L124.18 681.2 L124.52 681.21 L124.86 681.21 L125.2 681.22 L125.54 681.22 L125.88 681.21 L126.22 681.21 L126.56 681.19 L126.9 681.17 L127.24 681.14 L127.58 681.11 L127.92 681.06 L128.26 681.01 L128.6 680.93 L128.94 680.84 L129.28 680.72 L129.62 680.58 L129.96 680.4 L130.3 680.18 L130.64 679.92 L130.98 679.61 L131.32 679.24 L131.66 678.82 L132 678.34 L132.34 677.79 L132.68 677.17 L133.02 676.48 L133.36 675.72 L133.7 674.89 L134.04 674.01 L134.38 673.06 L134.72 672.07 L135.06 671.04 L135.4 669.99 L135.74 668.93 L136.08 667.89 L136.42 666.86 L136.76 665.89 L137.1 664.99 L137.44 664.17 L137.78 663.45 L138.12 662.86 L138.46 662.4 L138.8 662.09 L139.14 661.94 L139.48 661.95 L139.82 662.12 L140.16 662.46 L140.5 662.96 L140.84 663.61 L141.18 664.39 L141.52 665.3 L141.86 666.31 L142.2 667.41 L142.54 668.57 L142.88 669.78 L143.22 671.02 L143.56 672.26 L143.9 673.5 L144.24 674.7 L144.58 675.86 L144.92 676.97 L145.26 678.01 L145.6 678.98 L145.94 679.87 L146.28 680.69 L146.62 681.54 L146.96 682.46 L147.3 683.57 L147.64 684.25 L147.98 684.84 L148.32 685.34 L148.66 685.78 L149 686.14 L149.34 686.45 L149.68 686.71 L150.02 686.93 L150.36 687.11 L150.7 687.27 L151.04 687.4 L151.38 687.52 L151.72 687.63 L152.06 687.73 L152.4 687.82 L152.74 687.91 L153.08 688 L153.42 688.09 L153.76 688.18 L154.1 688.27 L154.44 688.36 L154.78 688.46 L155.12 688.55 L155.46 688.64 L155.8 688.74 L156.14 688.83 L156.48 688.92 L156.82 689.01 L157.16 689.09 L157.5 689.18 L157.84 689.26 L158.18 689.34 L158.52 689.41 L158.86 689.48 L159.2 689.54 L159.54 689.6 L159.88 689.66 L160.22 689.71 L160.56 689.75 L160.9 689.8 L161.24 689.84 L161.58 689.87 L161.92 689.9 L162.26 689.93 L162.6 689.95 L162.94 689.97 L163.28 689.99 L163.62 690.01 L163.96 690.02 L164.3 690.04 L164.64 690.05 L164.98 690.06 L165.32 690.06 L165.66 690.07 L166 690.08 L166.34 690.08 L166.68 690.08 L167.02 690.09 L167.36 690.09 L167.7 690.09 L168.04 690.09 L168.38 690.09 L168.72 690.1 L169.06 690.1 L169.4 690.1 L169.74 690.1 L170.08 690.1 L170.42 690.1 L170.76 690.1 L171.1 690.1 L171.44 690.1 L171.78 690.1 L172.12 690.1 L172.46 690.1 L172.8 690.1 L173.14 690.1 L173.48 690.1 L173.82 690.1 L174.16 690.1 L174.5 690.1 L174.84 690.1 L175.18 690.1 L175.52 690.1 L175.86 690.1 L176.2 690.1 L176.54 690.1 L176.88 690.1 L177.22 690.1 L177.56 690.1 L177.9 690.1 L178.24 690.1 L178.58 690.1 L178.92 690.1 L179.26 690.1 L179.6 690.1 L179.94 690.1 L180.28 690.1 L180.62 690.1 L180.96 690.1 L181.3 690.1 L181.64 690.1 L181.98 690.1 L182.32 690.1 L182.66 690.1 L183 690.1 L183.34 690.1 L183.68 690.1 L184.02 690.1 L184.36 690.1 L184.7 690.1 L185.04 690.1 L185.38 690.1 L185.72 690.1 L186.06 690.1 L186.4 690.1 L186.74 690.1 L187.08 690.1 L187.42 690.1 L187.76 690.1 L188.1 690.1 L188.44 690.1 L188.78 690.1 L189.12 690.1 L189.46 690.1 L189.8 690.1 L190.14 690.1 L190.48 690.1" fill="none" stroke="#222" stroke-width="0.65" stroke-linejoin="round"/>
<line x1="65.7" y1="583.6" x2="65.7" y2="690.6" stroke="#222" stroke-width="1"/>
<line x1="59.2" y1="690.1" x2="190.8" y2="690.1" stroke="#222" stroke-width="1"/>
<line x1="59.1" y1="690.1" x2="65.7" y2="690.1" stroke="#333" stroke-width="0.65"/>
<text transform="translate(56 691.1)  rotate(-90) scale(0.76 1)" font-size="6" font-weight="bold" fill="#333" text-anchor="middle">0</text>
<line x1="62.2" y1="684.8" x2="65.7" y2="684.8" stroke="#333" stroke-width="0.65"/>
<line x1="62.2" y1="679.5" x2="65.7" y2="679.5" stroke="#333" stroke-width="0.65"/>
<line x1="62.2" y1="674.2" x2="65.7" y2="674.2" stroke="#333" stroke-width="0.65"/>
<line x1="62.2" y1="668.9" x2="65.7" y2="668.9" stroke="#333" stroke-width="0.65"/>
<line x1="59.1" y1="663.6" x2="65.7" y2="663.6" stroke="#333" stroke-width="0.65"/>
<text transform="translate(56 664.6)  rotate(-90) scale(0.76 1)" font-size="6" font-weight="bold" fill="#333" text-anchor="middle">1000</text>
<line x1="62.2" y1="658.3" x2="65.7" y2="658.3" stroke="#333" stroke-width="0.65"/>
<line x1="62.2" y1="653" x2="65.7" y2="653" stroke="#333" stroke-width="0.65"/>
<line x1="62.2" y1="647.7" x2="65.7" y2="647.7" stroke="#333" stroke-width="0.65"/>
<line x1="62.2" y1="642.4" x2="65.7" y2="642.4" stroke="#333" stroke-width="0.65"/>
<line x1="59.1" y1="637.1" x2="65.7" y2="637.1" stroke="#333" stroke-width="0.65"/>
<text transform="translate(56 638.1)  rotate(-90) scale(0.76 1)" font-size="6" font-weight="bold" fill="#333" text-anchor="middle">2000</text>
<line x1="62.2" y1="631.8" x2="65.7" y2="631.8" stroke="#333" stroke-width="0.65"/>
<line x1="62.2" y1="626.5" x2="65.7" y2="626.5" stroke="#333" stroke-width="0.65"/>
<line x1="62.2" y1="621.2" x2="65.7" y2="621.2" stroke="#333" stroke-width="0.65"/>
<line x1="62.2" y1="615.9" x2="65.7" y2="615.9" stroke="#333" stroke-width="0.65"/>
<line x1="59.1" y1="610.6" x2="65.7" y2="610.6" stroke="#333" stroke-width="0.65"/>
<text transform="translate(56 611.6)  rotate(-90) scale(0.76 1)" font-size="6" font-weight="bold" fill="#333" text-anchor="middle">3000</text>
<line x1="62.2" y1="605.3" x2="65.7" y2="605.3" stroke="#333" stroke-width="0.65"/>
<line x1="62.2" y1="600" x2="65.7" y2="600" stroke="#333" stroke-width="0.65"/>
<line x1="62.2" y1="594.7" x2="65.7" y2="594.7" stroke="#333" stroke-width="0.65"/>
<line x1="62.2" y1="589.4" x2="65.7" y2="589.4" stroke="#333" stroke-width="0.65"/>
<line x1="59.1" y1="584.1" x2="65.7" y2="584.1" stroke="#333" stroke-width="0.65"/>
<text transform="translate(56 585.1)  rotate(-90) scale(0.76 1)" font-size="6" font-weight="bold" fill="#333" text-anchor="middle">4000</text>
<line x1="65.7" y1="690.1" x2="65.7" y2="695.6" stroke="#333" stroke-width="0.65"/>
<text transform="translate(65.7 702.1) scale(0.8 1)" font-size="6.2" font-weight="bold" fill="#111" text-anchor="middle">0</text>
<line x1="69.95" y1="690.1" x2="69.95" y2="692.8" stroke="#333" stroke-width="0.65"/>
<line x1="74.2" y1="690.1" x2="74.2" y2="692.8" stroke="#333" stroke-width="0.65"/>
<line x1="78.45" y1="690.1" x2="78.45" y2="692.8" stroke="#333" stroke-width="0.65"/>
<line x1="82.7" y1="690.1" x2="82.7" y2="695.6" stroke="#333" stroke-width="0.65"/>
<text transform="translate(82.7 702.1) scale(0.8 1)" font-size="6.2" font-weight="bold" fill="#111" text-anchor="middle">20</text>
<line x1="86.95" y1="690.1" x2="86.95" y2="692.8" stroke="#333" stroke-width="0.65"/>
<line x1="91.2" y1="690.1" x2="91.2" y2="692.8" stroke="#333" stroke-width="0.65"/>
<line x1="95.45" y1="690.1" x2="95.45" y2="692.8" stroke="#333" stroke-width="0.65"/>
<line x1="99.7" y1="690.1" x2="99.7" y2="695.6" stroke="#333" stroke-width="0.65"/>
<text transform="translate(99.7 702.1) scale(0.8 1)" font-size="6.2" font-weight="bold" fill="#111" text-anchor="middle">40</text>
<line x1="103.95" y1="690.1" x2="103.95" y2="692.8" stroke="#333" stroke-width="0.65"/>
<line x1="108.2" y1="690.1" x2="108.2" y2="692.8" stroke="#333" stroke-width="0.65"/>
<line x1="112.45" y1="690.1" x2="112.45" y2="692.8" stroke="#333" stroke-width="0.65"/>
<line x1="116.7" y1="690.1" x2="116.7" y2="695.6" stroke="#333" stroke-width="0.65"/>
<text transform="translate(116.7 702.1) scale(0.8 1)" font-size="6.2" font-weight="bold" fill="#111" text-anchor="middle">60</text>
<line x1="120.95" y1="690.1" x2="120.95" y2="692.8" stroke="#333" stroke-width="0.65"/>
<line x1="125.2" y1="690.1" x2="125.2" y2="692.8" stroke="#333" stroke-width="0.65"/>
<line x1="129.45" y1="690.1" x2="129.45" y2="692.8" stroke="#333" stroke-width="0.65"/>
<line x1="133.7" y1="690.1" x2="133.7" y2="695.6" stroke="#333" stroke-width="0.65"/>
<text transform="translate(133.7 702.1) scale(0.8 1)" font-size="6.2" font-weight="bold" fill="#111" text-anchor="middle">80</text>
<line x1="137.95" y1="690.1" x2="137.95" y2="692.8" stroke="#333" stroke-width="0.65"/>
<line x1="142.2" y1="690.1" x2="142.2" y2="692.8" stroke="#333" stroke-width="0.65"/>
<line x1="146.45" y1="690.1" x2="146.45" y2="692.8" stroke="#333" stroke-width="0.65"/>
<line x1="150.7" y1="690.1" x2="150.7" y2="695.6" stroke="#333" stroke-width="0.65"/>
<text transform="translate(150.7 702.1) scale(0.8 1)" font-size="6.2" font-weight="bold" fill="#111" text-anchor="middle">100</text>
<line x1="154.95" y1="690.1" x2="154.95" y2="692.8" stroke="#333" stroke-width="0.65"/>
<line x1="159.2" y1="690.1" x2="159.2" y2="692.8" stroke="#333" stroke-width="0.65"/>
<line x1="163.45" y1="690.1" x2="163.45" y2="692.8" stroke="#333" stroke-width="0.65"/>
<line x1="167.7" y1="690.1" x2="167.7" y2="695.6" stroke="#333" stroke-width="0.65"/>
<text transform="translate(167.7 702.1) scale(0.8 1)" font-size="6.2" font-weight="bold" fill="#111" text-anchor="middle">120</text>
<line x1="171.95" y1="690.1" x2="171.95" y2="692.8" stroke="#333" stroke-width="0.65"/>
<line x1="176.2" y1="690.1" x2="176.2" y2="692.8" stroke="#333" stroke-width="0.65"/>
<line x1="180.45" y1="690.1" x2="180.45" y2="692.8" stroke="#333" stroke-width="0.65"/>
<line x1="184.7" y1="690.1" x2="184.7" y2="695.6" stroke="#333" stroke-width="0.65"/>
<text transform="translate(184.7 702.1) scale(0.8 1)" font-size="6.2" font-weight="bold" fill="#111" text-anchor="middle">140</text>
<text transform="translate(129.9 709) scale(0.85 1)" font-size="5.8" font-weight="bold" fill="#111" text-anchor="middle">PI-A</text>
<text transform="translate(47.2 637.1) rotate(-90) scale(0.8 1)" font-size="5.6" font-weight="bold" fill="#111" text-anchor="middle">Number</text>
<path d="M102.95 688.8l-2.4 4.2h4.8z" fill="#000"/>
<path d="M138.65 688.8l-2.4 4.2h4.8z" fill="#000"/>
<text x="156.3" y="601.6" font-size="10.45" font-weight="bold" fill="#555" text-anchor="middle">NC</text>
<text x="130.9" y="624.3" font-size="6.85" fill="#333" text-anchor="start">G0/G1:52.95%</text>
<text x="130.9" y="635.4" font-size="6.85" fill="#333" text-anchor="start">S:22.52%</text>
<text x="130.9" y="646.5" font-size="6.85" fill="#333" text-anchor="start">G2/M:24.53%</text>
<path d="M209.1 690 L209.1 690 L209.52 690 L209.94 690 L210.36 690 L210.78 690 L211.2 690 L211.62 690 L212.04 690 L212.46 690 L212.88 690 L213.31 690 L213.73 690 L214.15 690 L214.57 690 L214.99 690 L215.41 690 L215.83 690 L216.25 690 L216.67 690 L217.09 690 L217.51 690 L217.93 690 L218.35 690 L218.77 690 L219.19 690 L219.61 690 L220.03 690 L220.45 690 L220.87 690 L221.29 690 L221.72 690 L222.14 690 L222.56 690 L222.98 690 L223.4 690 L223.82 690 L224.24 690 L224.66 690 L225.08 690 L225.5 690 L225.92 690 L226.34 690 L226.76 690 L227.18 690 L227.6 690 L228.02 690 L228.44 690 L228.86 690 L229.28 690 L229.7 690 L230.12 690 L230.55 690 L230.97 690 L231.39 690 L231.81 690 L232.23 690 L232.65 690 L233.07 690 L233.49 690 L233.91 690 L234.33 690 L234.75 690 L235.17 690 L235.59 690 L236.01 690 L236.43 690 L236.85 690 L237.27 690 L237.69 690 L238.11 690 L238.53 690 L238.96 690 L239.38 690 L239.8 690 L240.22 690 L240.64 690 L241.06 690 L241.48 690 L241.9 690 L242.32 690 L242.74 690 L243.16 690 L243.58 690 L244 690 L244.42 690 L244.84 690 L245.26 690 L245.68 690 L246.1 690 L246.52 690 L246.94 690 L247.37 690 L247.79 690 L248.21 690 L248.63 690 L249.05 690 L249.47 690 L249.89 690 L250.31 690 L250.73 690 L251.15 690 L251.57 690 L251.99 690 L252.41 690 L252.83 690 L253.25 690 L253.67 690 L254.09 690 L254.51 690 L254.93 690 L255.35 690 L255.78 690 L256.2 690 L256.62 690 L257.04 690 L257.46 690 L257.88 690 L258.3 690 L258.72 690 L259.14 690 L259.56 690 L259.98 690 L260.4 689.74 L260.82 689.69 L261.24 689.62 L261.66 689.55 L262.08 689.47 L262.5 689.38 L262.92 689.29 L263.34 689.18 L263.76 689.07 L264.19 688.96 L264.61 688.85 L265.03 688.75 L265.45 688.65 L265.87 688.56 L266.29 688.48 L266.71 688.4 L267.13 688.33 L267.55 688.26 L267.97 688.2 L268.39 688.14 L268.81 688.09 L269.23 688.03 L269.65 687.99 L270.07 687.94 L270.49 687.89 L270.91 687.85 L271.33 687.8 L271.75 687.76 L272.18 687.72 L272.6 687.68 L273.02 687.63 L273.44 687.59 L273.86 687.55 L274.28 687.51 L274.7 687.47 L275.12 687.43 L275.54 687.39 L275.96 687.35 L276.38 687.31 L276.8 687.27 L277.22 687.23 L277.64 687.19 L278.06 687.15 L278.48 687.11 L278.9 687.07 L279.32 687.03 L279.74 686.99 L280.16 686.95 L280.58 686.91 L281.01 686.87 L281.43 686.83 L281.85 686.79 L282.27 686.75 L282.69 686.71 L283.11 686.67 L283.53 686.63 L283.95 686.59 L284.37 686.55 L284.79 686.51 L285.21 686.48 L285.63 686.44 L286.05 686.4 L286.47 686.36 L286.89 686.33 L287.31 686.29 L287.73 686.26 L288.15 686.22 L288.57 686.19 L289 686.16 L289.42 686.13 L289.84 686.1 L290.26 686.07 L290.68 686.05 L291.1 686.03 L291.52 686.01 L291.94 685.99 L292.36 685.98 L292.78 685.98 L293.2 685.98 L293.62 685.99 L294.04 686.01 L294.46 686.04 L294.88 686.08 L295.3 686.12 L295.72 686.18 L296.14 686.26 L296.56 686.35 L296.98 686.45 L297.4 686.57 L297.83 686.7 L298.25 686.84 L298.67 687 L299.09 687.17 L299.51 687.35 L299.93 687.53 L300.35 687.74 L300.77 687.94 L301.19 688.14 L301.61 688.33 L302.03 688.5 L302.45 688.67 L302.87 688.83 L303.29 688.97 L303.71 689.1 L304.13 689.22 L304.55 689.32 L304.97 689.41 L305.39 689.49 L305.81 689.56 L306.24 689.63 L306.66 689.68 L307.08 689.73 L307.5 689.77 L307.92 690 L308.34 690 L308.76 690 L309.18 690 L309.6 690 L310.02 690 L310.44 690 L310.86 690 L311.28 690 L311.7 690 L312.12 690 L312.54 690 L312.96 690 L313.38 690 L313.8 690 L314.23 690 L314.65 690 L315.07 690 L315.49 690 L315.91 690 L316.33 690 L316.75 690 L317.17 690 L317.59 690 L318.01 690 L318.43 690 L318.85 690 L319.27 690 L319.69 690 L320.11 690 L320.53 690 L320.95 690 L321.37 690 L321.79 690 L322.21 690 L322.63 690 L323.06 690 L323.48 690 L323.9 690 L324.32 690 L324.74 690 L325.16 690 L325.58 690 L326 690 L326.42 690 L326.84 690 L327.26 690 L327.68 690 L328.1 690 L328.52 690 L328.94 690 L329.36 690 L329.78 690 L330.2 690 L330.62 690 L331.04 690 L331.47 690 L331.89 690 L332.31 690 L332.73 690 L332.73 690 Z" fill="url(#hatch)" stroke="#3c2f7a" stroke-width="0.45"/>
<path d="M249.89 690 L249.89 689.97 L250.39 689.93 L250.9 689.86 L251.4 689.71 L251.91 689.44 L252.41 688.95 L252.92 688.13 L253.42 686.78 L253.93 684.7 L254.43 681.6 L254.93 677.21 L255.44 671.3 L255.94 663.73 L256.45 654.53 L256.95 644 L257.46 632.68 L257.96 621.38 L258.47 611.07 L258.97 602.77 L259.48 597.37 L259.98 595.5 L260.49 597.37 L260.99 602.77 L261.49 611.07 L262 621.38 L262.5 632.68 L263.01 644 L263.51 654.53 L264.02 663.73 L264.52 671.3 L265.03 677.21 L265.53 681.6 L266.04 684.7 L266.54 686.78 L267.04 688.13 L267.55 688.95 L268.05 689.44 L268.56 689.71 L269.06 689.86 L269.57 689.93 L270.07 689.97 Z" fill="#d93232" stroke="#2a0000" stroke-width="0.55"/>
<path d="M287.14 690 L287.14 689.99 L287.95 689.99 L288.76 689.98 L289.57 689.95 L290.37 689.91 L291.18 689.82 L291.99 689.69 L292.8 689.46 L293.6 689.11 L294.41 688.59 L295.22 687.85 L296.03 686.86 L296.83 685.59 L297.64 684.04 L298.45 682.28 L299.26 680.38 L300.06 678.48 L300.87 676.75 L301.68 675.35 L302.48 674.45 L303.29 674.13 L304.1 674.45 L304.91 675.35 L305.71 676.75 L306.52 678.48 L307.33 680.38 L308.14 682.28 L308.94 684.04 L309.75 685.59 L310.56 686.86 L311.37 687.85 L312.17 688.59 L312.98 689.11 L313.79 689.46 L314.6 689.69 L315.4 689.82 L316.21 689.91 L317.02 689.95 L317.82 689.98 L318.63 689.99 L319.44 689.99 Z" fill="#d93232" stroke="#2a0000" stroke-width="0.55"/>
<clipPath id="fc5"><path d="M249.89 690 L249.89 689.97 L250.39 689.93 L250.9 689.86 L251.4 689.71 L251.91 689.44 L252.41 688.95 L252.92 688.13 L253.42 686.78 L253.93 684.7 L254.43 681.6 L254.93 677.21 L255.44 671.3 L255.94 663.73 L256.45 654.53 L256.95 644 L257.46 632.68 L257.96 621.38 L258.47 611.07 L258.97 602.77 L259.48 597.37 L259.98 595.5 L260.49 597.37 L260.99 602.77 L261.49 611.07 L262 621.38 L262.5 632.68 L263.01 644 L263.51 654.53 L264.02 663.73 L264.52 671.3 L265.03 677.21 L265.53 681.6 L266.04 684.7 L266.54 686.78 L267.04 688.13 L267.55 688.95 L268.05 689.44 L268.56 689.71 L269.06 689.86 L269.57 689.93 L270.07 689.97 Z M287.14 690 L287.14 689.99 L287.95 689.99 L288.76 689.98 L289.57 689.95 L290.37 689.91 L291.18 689.82 L291.99 689.69 L292.8 689.46 L293.6 689.11 L294.41 688.59 L295.22 687.85 L296.03 686.86 L296.83 685.59 L297.64 684.04 L298.45 682.28 L299.26 680.38 L300.06 678.48 L300.87 676.75 L301.68 675.35 L302.48 674.45 L303.29 674.13 L304.1 674.45 L304.91 675.35 L305.71 676.75 L306.52 678.48 L307.33 680.38 L308.14 682.28 L308.94 684.04 L309.75 685.59 L310.56 686.86 L311.37 687.85 L312.17 688.59 L312.98 689.11 L313.79 689.46 L314.6 689.69 L315.4 689.82 L316.21 689.91 L317.02 689.95 L317.82 689.98 L318.63 689.99 L319.44 689.99 Z"/></clipPath>
<path d="M209.1 690 L209.1 690 L209.52 690 L209.94 690 L210.36 690 L210.78 690 L211.2 690 L211.62 690 L212.04 690 L212.46 690 L212.88 690 L213.31 690 L213.73 690 L214.15 690 L214.57 690 L214.99 690 L215.41 690 L215.83 690 L216.25 690 L216.67 690 L217.09 690 L217.51 690 L217.93 690 L218.35 690 L218.77 690 L219.19 690 L219.61 690 L220.03 690 L220.45 690 L220.87 690 L221.29 690 L221.72 690 L222.14 690 L222.56 690 L222.98 690 L223.4 690 L223.82 690 L224.24 690 L224.66 690 L225.08 690 L225.5 690 L225.92 690 L226.34 690 L226.76 690 L227.18 690 L227.6 690 L228.02 690 L228.44 690 L228.86 690 L229.28 690 L229.7 690 L230.12 690 L230.55 690 L230.97 690 L231.39 690 L231.81 690 L232.23 690 L232.65 690 L233.07 690 L233.49 690 L233.91 690 L234.33 690 L234.75 690 L235.17 690 L235.59 690 L236.01 690 L236.43 690 L236.85 690 L237.27 690 L237.69 690 L238.11 690 L238.53 690 L238.96 690 L239.38 690 L239.8 690 L240.22 690 L240.64 690 L241.06 690 L241.48 690 L241.9 690 L242.32 690 L242.74 690 L243.16 690 L243.58 690 L244 690 L244.42 690 L244.84 690 L245.26 690 L245.68 690 L246.1 690 L246.52 690 L246.94 690 L247.37 690 L247.79 690 L248.21 690 L248.63 690 L249.05 690 L249.47 690 L249.89 690 L250.31 690 L250.73 690 L251.15 690 L251.57 690 L251.99 690 L252.41 690 L252.83 690 L253.25 690 L253.67 690 L254.09 690 L254.51 690 L254.93 690 L255.35 690 L255.78 690 L256.2 690 L256.62 690 L257.04 690 L257.46 690 L257.88 690 L258.3 690 L258.72 690 L259.14 690 L259.56 690 L259.98 690 L260.4 689.74 L260.82 689.69 L261.24 689.62 L261.66 689.55 L262.08 689.47 L262.5 689.38 L262.92 689.29 L263.34 689.18 L263.76 689.07 L264.19 688.96 L264.61 688.85 L265.03 688.75 L265.45 688.65 L265.87 688.56 L266.29 688.48 L266.71 688.4 L267.13 688.33 L267.55 688.26 L267.97 688.2 L268.39 688.14 L268.81 688.09 L269.23 688.03 L269.65 687.99 L270.07 687.94 L270.49 687.89 L270.91 687.85 L271.33 687.8 L271.75 687.76 L272.18 687.72 L272.6 687.68 L273.02 687.63 L273.44 687.59 L273.86 687.55 L274.28 687.51 L274.7 687.47 L275.12 687.43 L275.54 687.39 L275.96 687.35 L276.38 687.31 L276.8 687.27 L277.22 687.23 L277.64 687.19 L278.06 687.15 L278.48 687.11 L278.9 687.07 L279.32 687.03 L279.74 686.99 L280.16 686.95 L280.58 686.91 L281.01 686.87 L281.43 686.83 L281.85 686.79 L282.27 686.75 L282.69 686.71 L283.11 686.67 L283.53 686.63 L283.95 686.59 L284.37 686.55 L284.79 686.51 L285.21 686.48 L285.63 686.44 L286.05 686.4 L286.47 686.36 L286.89 686.33 L287.31 686.29 L287.73 686.26 L288.15 686.22 L288.57 686.19 L289 686.16 L289.42 686.13 L289.84 686.1 L290.26 686.07 L290.68 686.05 L291.1 686.03 L291.52 686.01 L291.94 685.99 L292.36 685.98 L292.78 685.98 L293.2 685.98 L293.62 685.99 L294.04 686.01 L294.46 686.04 L294.88 686.08 L295.3 686.12 L295.72 686.18 L296.14 686.26 L296.56 686.35 L296.98 686.45 L297.4 686.57 L297.83 686.7 L298.25 686.84 L298.67 687 L299.09 687.17 L299.51 687.35 L299.93 687.53 L300.35 687.74 L300.77 687.94 L301.19 688.14 L301.61 688.33 L302.03 688.5 L302.45 688.67 L302.87 688.83 L303.29 688.97 L303.71 689.1 L304.13 689.22 L304.55 689.32 L304.97 689.41 L305.39 689.49 L305.81 689.56 L306.24 689.63 L306.66 689.68 L307.08 689.73 L307.5 689.77 L307.92 690 L308.34 690 L308.76 690 L309.18 690 L309.6 690 L310.02 690 L310.44 690 L310.86 690 L311.28 690 L311.7 690 L312.12 690 L312.54 690 L312.96 690 L313.38 690 L313.8 690 L314.23 690 L314.65 690 L315.07 690 L315.49 690 L315.91 690 L316.33 690 L316.75 690 L317.17 690 L317.59 690 L318.01 690 L318.43 690 L318.85 690 L319.27 690 L319.69 690 L320.11 690 L320.53 690 L320.95 690 L321.37 690 L321.79 690 L322.21 690 L322.63 690 L323.06 690 L323.48 690 L323.9 690 L324.32 690 L324.74 690 L325.16 690 L325.58 690 L326 690 L326.42 690 L326.84 690 L327.26 690 L327.68 690 L328.1 690 L328.52 690 L328.94 690 L329.36 690 L329.78 690 L330.2 690 L330.62 690 L331.04 690 L331.47 690 L331.89 690 L332.31 690 L332.73 690 L332.73 690 Z" fill="url(#hatch2)" clip-path="url(#fc5)" stroke="#3a0a30" stroke-width="0.45"/>
<path d="M209.1 690 L209.44 690 L209.77 690 L210.11 690 L210.45 690 L210.78 690 L211.12 690 L211.45 690 L211.79 690 L212.13 690 L212.46 690 L212.8 690 L213.14 690 L213.47 690 L213.81 690 L214.15 690 L214.48 690 L214.82 690 L215.16 690 L215.49 690 L215.83 690 L216.16 690 L216.5 690 L216.84 690 L217.17 690 L217.51 690 L217.85 690 L218.18 690 L218.52 690 L218.86 690 L219.19 690 L219.53 690 L219.86 690 L220.2 690 L220.54 690 L220.87 690 L221.21 690 L221.55 690 L221.88 690 L222.22 690 L222.56 690 L222.89 690 L223.23 690 L223.57 690 L223.9 690 L224.24 690 L224.57 690 L224.91 690 L225.25 690 L225.58 690 L225.92 690 L226.26 690 L226.59 690 L226.93 690 L227.27 690 L227.6 690 L227.94 690 L228.27 690 L228.61 690 L228.95 690 L229.28 690 L229.62 690 L229.96 690 L230.29 690 L230.63 690 L230.97 690 L231.3 690 L231.64 690 L231.98 690 L232.31 690 L232.65 690 L232.98 690 L233.32 690 L233.66 690 L233.99 690 L234.33 690 L234.67 690 L235 690 L235.34 690 L235.68 690 L236.01 690 L236.35 690 L236.68 690 L237.02 690 L237.36 690 L237.69 690 L238.03 690 L238.37 690 L238.7 690 L239.04 690 L239.38 690 L239.71 690 L240.05 690 L240.39 690 L240.72 690 L241.06 690 L241.39 690 L241.73 690 L242.07 690 L242.4 690 L242.74 690 L243.08 690 L243.41 690 L243.75 690 L244.09 690 L244.42 690 L244.76 690 L245.09 690 L245.43 690 L245.77 690 L246.1 690 L246.44 690 L246.78 690 L247.11 690 L247.45 690 L247.79 690 L248.12 690 L248.46 690 L248.8 689.99 L249.13 689.99 L249.47 689.98 L249.8 689.96 L250.14 689.94 L250.48 689.89 L250.81 689.83 L251.15 689.72 L251.49 689.56 L251.82 689.32 L252.16 688.96 L252.5 688.44 L252.83 687.7 L253.17 686.68 L253.5 685.28 L253.84 683.41 L254.18 681.09 L254.51 678.76 L254.85 675.84 L255.19 672.26 L255.52 667.95 L255.86 662.9 L256.2 657.12 L256.53 650.66 L256.87 643.63 L257.21 636.2 L257.54 628.58 L257.88 621.02 L258.21 613.84 L258.55 607.32 L258.89 601.77 L259.22 597.46 L259.56 594.61 L259.9 593.36 L260.23 593.54 L260.57 595.56 L260.91 599.12 L261.24 604.03 L261.58 610.04 L261.91 616.87 L262.25 624.21 L262.59 631.76 L262.92 639.25 L263.26 646.42 L263.6 653.09 L263.93 659.13 L264.27 664.46 L264.61 669.05 L264.94 672.91 L265.28 676.07 L265.62 678.61 L265.95 680.6 L266.29 682.36 L266.62 683.89 L266.96 685.01 L267.3 685.81 L267.63 686.36 L267.97 686.73 L268.31 686.96 L268.64 687.1 L268.98 687.17 L269.32 687.2 L269.65 687.21 L269.99 687.19 L270.32 687.16 L270.66 687.12 L271 687.08 L271.33 687.04 L271.67 686.99 L272.01 686.95 L272.34 686.9 L272.68 686.86 L273.02 686.81 L273.35 686.77 L273.69 686.72 L274.03 686.68 L274.36 686.64 L274.7 686.59 L275.03 686.55 L275.37 686.51 L275.71 686.46 L276.04 686.42 L276.38 686.38 L276.72 686.33 L277.05 686.29 L277.39 686.25 L277.73 686.2 L278.06 686.16 L278.4 686.12 L278.73 686.07 L279.07 686.03 L279.41 685.99 L279.74 685.94 L280.08 685.9 L280.42 685.86 L280.75 685.82 L281.09 685.77 L281.43 685.73 L281.76 685.69 L282.1 685.64 L282.44 685.6 L282.77 685.56 L283.11 685.52 L283.44 685.47 L283.78 685.43 L284.12 685.39 L284.45 685.35 L284.79 685.31 L285.13 685.26 L285.46 685.22 L285.8 685.18 L286.14 685.14 L286.47 685.1 L286.81 685.06 L287.14 685.02 L287.48 684.98 L287.82 684.93 L288.15 684.89 L288.49 684.85 L288.83 684.81 L289.16 684.76 L289.5 684.71 L289.84 684.66 L290.17 684.61 L290.51 684.55 L290.85 684.48 L291.18 684.4 L291.52 684.32 L291.85 684.22 L292.19 684.11 L292.53 683.98 L292.86 683.83 L293.2 683.65 L293.54 683.45 L293.87 683.21 L294.21 682.94 L294.55 682.63 L294.88 682.28 L295.22 681.87 L295.55 681.43 L295.89 681.06 L296.23 680.64 L296.56 680.19 L296.9 679.7 L297.24 679.17 L297.57 678.6 L297.91 678 L298.25 677.38 L298.58 676.74 L298.92 676.08 L299.26 675.42 L299.59 674.76 L299.93 674.12 L300.26 673.52 L300.6 672.95 L300.94 672.43 L301.27 671.97 L301.61 671.58 L301.95 671.26 L302.28 671.03 L302.62 670.89 L302.96 670.85 L303.29 670.9 L303.63 671.06 L303.96 671.32 L304.3 671.68 L304.64 672.13 L304.97 672.66 L305.31 673.27 L305.65 673.95 L305.98 674.68 L306.32 675.46 L306.66 676.27 L306.99 677.09 L307.33 677.93 L307.67 678.76 L308 679.77 L308.34 680.54 L308.67 681.28 L309.01 682.17 L309.35 683.06 L309.68 683.9 L310.02 684.67 L310.36 685.38 L310.69 686.02 L311.03 686.6 L311.37 687.11 L311.7 687.56 L312.04 687.96 L312.37 688.3 L312.71 688.6 L313.05 688.85 L313.38 689.06 L313.72 689.24 L314.06 689.39 L314.39 689.51 L314.73 689.61 L315.07 689.7 L315.4 689.76 L315.74 689.82 L316.08 689.86 L316.41 689.89 L316.75 689.92 L317.08 689.94 L317.42 689.95 L317.76 689.97 L318.09 689.97 L318.43 689.98 L318.77 689.99 L319.1 689.99 L319.44 689.99 L319.78 689.99 L320.11 690 L320.45 690 L320.78 690 L321.12 690 L321.46 690 L321.79 690 L322.13 690 L322.47 690 L322.8 690 L323.14 690 L323.48 690 L323.81 690 L324.15 690 L324.49 690 L324.82 690 L325.16 690 L325.49 690 L325.83 690 L326.17 690 L326.5 690 L326.84 690 L327.18 690 L327.51 690 L327.85 690 L328.19 690 L328.52 690 L328.86 690 L329.19 690 L329.53 690 L329.87 690 L330.2 690 L330.54 690 L330.88 690 L331.21 690 L331.55 690 L331.89 690 L332.22 690 L332.56 690" fill="none" stroke="#222" stroke-width="0.65" stroke-linejoin="round"/>
<path d="M209.1 689.98 L209.18 689.94 L209.27 689.86 L209.35 689.69 L209.44 689.36 L209.52 688.76 L209.6 687.76 L209.69 686.18 L209.77 683.9 L209.86 680.84 L209.94 677.09 L210.03 672.89 L210.11 668.71 L210.19 665.11 L210.28 662.66 L210.36 661.79 L210.45 664.76 L210.53 667.41 L210.61 669.79 L210.7 671.91 L210.78 673.82 L210.87 675.52 L210.95 677.04 L211.03 678.4 L211.12 679.62 L211.2 680.71 L211.29 681.69 L211.37 682.56 L211.45 683.35 L211.54 684.05 L211.62 684.67 L211.71 685.23 L211.79 685.73 L211.88 686.18 L211.96 686.58 L212.04 686.94 L212.13 687.26 L212.21 687.55 L212.3 687.81 L212.38 688.04 L212.46 688.25 L212.55 688.43 L212.63 688.6 L212.72 688.74 L212.8 688.88 L212.88 688.99 L212.97 689.1 L213.05 689.19 L213.14 689.28 L213.22 689.35 L213.31 689.42 L213.39 689.48 L213.47 689.54 L213.56 689.59 L213.64 689.63 L213.73 689.67 L213.81 689.7 L213.89 689.73 L213.98 689.76 L214.06 689.79 L214.15 689.81 L214.23 689.83 L214.31 689.85 L214.4 689.86 L214.48 689.88 L214.57 689.89 L214.65 689.9 L214.73 689.91 L214.82 689.92 L214.9 689.93 L214.99 689.94 L215.07 689.94 L215.16 689.95 L215.24 689.96 L215.32 689.96 L215.41 689.96 L215.49 689.97 L215.58 689.97 L215.66 689.97 L215.74 689.98" fill="none" stroke="#333" stroke-width="0.6"/>
<line x1="209.1" y1="583.72" x2="209.1" y2="690.5" stroke="#222" stroke-width="1"/>
<line x1="202.6" y1="690" x2="333" y2="690" stroke="#222" stroke-width="1"/>
<line x1="202.5" y1="690" x2="209.1" y2="690" stroke="#333" stroke-width="0.65"/>
<text transform="translate(199.5 691)  rotate(-90) scale(0.76 1)" font-size="6" font-weight="bold" fill="#333" text-anchor="middle">0</text>
<line x1="205.6" y1="686.47" x2="209.1" y2="686.47" stroke="#333" stroke-width="0.65"/>
<line x1="205.6" y1="682.95" x2="209.1" y2="682.95" stroke="#333" stroke-width="0.65"/>
<line x1="205.6" y1="679.42" x2="209.1" y2="679.42" stroke="#333" stroke-width="0.65"/>
<line x1="205.6" y1="675.9" x2="209.1" y2="675.9" stroke="#333" stroke-width="0.65"/>
<line x1="202.5" y1="672.37" x2="209.1" y2="672.37" stroke="#333" stroke-width="0.65"/>
<text transform="translate(199.5 673.37)  rotate(-90) scale(0.76 1)" font-size="6" font-weight="bold" fill="#333" text-anchor="middle">500</text>
<line x1="205.6" y1="668.84" x2="209.1" y2="668.84" stroke="#333" stroke-width="0.65"/>
<line x1="205.6" y1="665.32" x2="209.1" y2="665.32" stroke="#333" stroke-width="0.65"/>
<line x1="205.6" y1="661.79" x2="209.1" y2="661.79" stroke="#333" stroke-width="0.65"/>
<line x1="205.6" y1="658.27" x2="209.1" y2="658.27" stroke="#333" stroke-width="0.65"/>
<line x1="202.5" y1="654.74" x2="209.1" y2="654.74" stroke="#333" stroke-width="0.65"/>
<text transform="translate(199.5 655.74)  rotate(-90) scale(0.76 1)" font-size="6" font-weight="bold" fill="#333" text-anchor="middle">1000</text>
<line x1="205.6" y1="651.21" x2="209.1" y2="651.21" stroke="#333" stroke-width="0.65"/>
<line x1="205.6" y1="647.69" x2="209.1" y2="647.69" stroke="#333" stroke-width="0.65"/>
<line x1="205.6" y1="644.16" x2="209.1" y2="644.16" stroke="#333" stroke-width="0.65"/>
<line x1="205.6" y1="640.64" x2="209.1" y2="640.64" stroke="#333" stroke-width="0.65"/>
<line x1="202.5" y1="637.11" x2="209.1" y2="637.11" stroke="#333" stroke-width="0.65"/>
<text transform="translate(199.5 638.11)  rotate(-90) scale(0.76 1)" font-size="6" font-weight="bold" fill="#333" text-anchor="middle">1500</text>
<line x1="205.6" y1="633.58" x2="209.1" y2="633.58" stroke="#333" stroke-width="0.65"/>
<line x1="205.6" y1="630.06" x2="209.1" y2="630.06" stroke="#333" stroke-width="0.65"/>
<line x1="205.6" y1="626.53" x2="209.1" y2="626.53" stroke="#333" stroke-width="0.65"/>
<line x1="205.6" y1="623.01" x2="209.1" y2="623.01" stroke="#333" stroke-width="0.65"/>
<line x1="202.5" y1="619.48" x2="209.1" y2="619.48" stroke="#333" stroke-width="0.65"/>
<text transform="translate(199.5 620.48)  rotate(-90) scale(0.76 1)" font-size="6" font-weight="bold" fill="#333" text-anchor="middle">2000</text>
<line x1="205.6" y1="615.95" x2="209.1" y2="615.95" stroke="#333" stroke-width="0.65"/>
<line x1="205.6" y1="612.43" x2="209.1" y2="612.43" stroke="#333" stroke-width="0.65"/>
<line x1="205.6" y1="608.9" x2="209.1" y2="608.9" stroke="#333" stroke-width="0.65"/>
<line x1="205.6" y1="605.38" x2="209.1" y2="605.38" stroke="#333" stroke-width="0.65"/>
<line x1="202.5" y1="601.85" x2="209.1" y2="601.85" stroke="#333" stroke-width="0.65"/>
<text transform="translate(199.5 602.85)  rotate(-90) scale(0.76 1)" font-size="6" font-weight="bold" fill="#333" text-anchor="middle">2500</text>
<line x1="205.6" y1="598.32" x2="209.1" y2="598.32" stroke="#333" stroke-width="0.65"/>
<line x1="205.6" y1="594.8" x2="209.1" y2="594.8" stroke="#333" stroke-width="0.65"/>
<line x1="205.6" y1="591.27" x2="209.1" y2="591.27" stroke="#333" stroke-width="0.65"/>
<line x1="205.6" y1="587.75" x2="209.1" y2="587.75" stroke="#333" stroke-width="0.65"/>
<line x1="202.5" y1="584.22" x2="209.1" y2="584.22" stroke="#333" stroke-width="0.65"/>
<text transform="translate(199.5 585.22)  rotate(-90) scale(0.76 1)" font-size="6" font-weight="bold" fill="#333" text-anchor="middle">3000</text>
<line x1="209.1" y1="690" x2="209.1" y2="695.5" stroke="#333" stroke-width="0.65"/>
<text transform="translate(209.1 702) scale(0.8 1)" font-size="6.2" font-weight="bold" fill="#111" text-anchor="middle">0</text>
<line x1="213.31" y1="690" x2="213.31" y2="692.7" stroke="#333" stroke-width="0.65"/>
<line x1="217.51" y1="690" x2="217.51" y2="692.7" stroke="#333" stroke-width="0.65"/>
<line x1="221.72" y1="690" x2="221.72" y2="692.7" stroke="#333" stroke-width="0.65"/>
<line x1="225.92" y1="690" x2="225.92" y2="695.5" stroke="#333" stroke-width="0.65"/>
<text transform="translate(225.92 702) scale(0.8 1)" font-size="6.2" font-weight="bold" fill="#111" text-anchor="middle">20</text>
<line x1="230.12" y1="690" x2="230.12" y2="692.7" stroke="#333" stroke-width="0.65"/>
<line x1="234.33" y1="690" x2="234.33" y2="692.7" stroke="#333" stroke-width="0.65"/>
<line x1="238.53" y1="690" x2="238.53" y2="692.7" stroke="#333" stroke-width="0.65"/>
<line x1="242.74" y1="690" x2="242.74" y2="695.5" stroke="#333" stroke-width="0.65"/>
<text transform="translate(242.74 702) scale(0.8 1)" font-size="6.2" font-weight="bold" fill="#111" text-anchor="middle">40</text>
<line x1="246.94" y1="690" x2="246.94" y2="692.7" stroke="#333" stroke-width="0.65"/>
<line x1="251.15" y1="690" x2="251.15" y2="692.7" stroke="#333" stroke-width="0.65"/>
<line x1="255.35" y1="690" x2="255.35" y2="692.7" stroke="#333" stroke-width="0.65"/>
<line x1="259.56" y1="690" x2="259.56" y2="695.5" stroke="#333" stroke-width="0.65"/>
<text transform="translate(259.56 702) scale(0.8 1)" font-size="6.2" font-weight="bold" fill="#111" text-anchor="middle">60</text>
<line x1="263.76" y1="690" x2="263.76" y2="692.7" stroke="#333" stroke-width="0.65"/>
<line x1="267.97" y1="690" x2="267.97" y2="692.7" stroke="#333" stroke-width="0.65"/>
<line x1="272.18" y1="690" x2="272.18" y2="692.7" stroke="#333" stroke-width="0.65"/>
<line x1="276.38" y1="690" x2="276.38" y2="695.5" stroke="#333" stroke-width="0.65"/>
<text transform="translate(276.38 702) scale(0.8 1)" font-size="6.2" font-weight="bold" fill="#111" text-anchor="middle">80</text>
<line x1="280.58" y1="690" x2="280.58" y2="692.7" stroke="#333" stroke-width="0.65"/>
<line x1="284.79" y1="690" x2="284.79" y2="692.7" stroke="#333" stroke-width="0.65"/>
<line x1="289" y1="690" x2="289" y2="692.7" stroke="#333" stroke-width="0.65"/>
<line x1="293.2" y1="690" x2="293.2" y2="695.5" stroke="#333" stroke-width="0.65"/>
<text transform="translate(293.2 702) scale(0.8 1)" font-size="6.2" font-weight="bold" fill="#111" text-anchor="middle">100</text>
<line x1="297.4" y1="690" x2="297.4" y2="692.7" stroke="#333" stroke-width="0.65"/>
<line x1="301.61" y1="690" x2="301.61" y2="692.7" stroke="#333" stroke-width="0.65"/>
<line x1="305.81" y1="690" x2="305.81" y2="692.7" stroke="#333" stroke-width="0.65"/>
<line x1="310.02" y1="690" x2="310.02" y2="695.5" stroke="#333" stroke-width="0.65"/>
<text transform="translate(310.02 702) scale(0.8 1)" font-size="6.2" font-weight="bold" fill="#111" text-anchor="middle">120</text>
<line x1="314.23" y1="690" x2="314.23" y2="692.7" stroke="#333" stroke-width="0.65"/>
<line x1="318.43" y1="690" x2="318.43" y2="692.7" stroke="#333" stroke-width="0.65"/>
<line x1="322.63" y1="690" x2="322.63" y2="692.7" stroke="#333" stroke-width="0.65"/>
<line x1="326.84" y1="690" x2="326.84" y2="695.5" stroke="#333" stroke-width="0.65"/>
<text transform="translate(326.84 702) scale(0.8 1)" font-size="6.2" font-weight="bold" fill="#111" text-anchor="middle">140</text>
<text transform="translate(268.5 708.9) scale(0.85 1)" font-size="5.8" font-weight="bold" fill="#111" text-anchor="middle">PI-A</text>
<text transform="translate(191.5 637.11) rotate(-90) scale(0.8 1)" font-size="5.6" font-weight="bold" fill="#111" text-anchor="middle">Number</text>
<path d="M258.98 688.7l-2.4 4.2h4.8z" fill="#000"/>
<path d="M302.29 688.7l-2.4 4.2h4.8z" fill="#000"/>
<text x="295.6" y="601.7" font-size="10.45" font-weight="bold" fill="#555" text-anchor="middle">TRIB3-KD 1</text>
<text x="275.9" y="624.3" font-size="6.85" fill="#333" text-anchor="start">G0/G1:66.47%</text>
<text x="275.9" y="635.4" font-size="6.85" fill="#333" text-anchor="start">S:8.55%</text>
<text x="275.9" y="646.5" font-size="6.85" fill="#333" text-anchor="start">G2/M:24.98%</text>
<path d="M359.5 690 L359.5 690 L359.92 690 L360.35 690 L360.77 690 L361.19 690 L361.61 690 L362.04 690 L362.46 690 L362.88 690 L363.3 690 L363.73 690 L364.15 690 L364.57 690 L364.99 690 L365.42 690 L365.84 690 L366.26 690 L366.68 690 L367.11 690 L367.53 690 L367.95 690 L368.37 690 L368.8 690 L369.22 690 L369.64 690 L370.06 690 L370.49 690 L370.91 690 L371.33 690 L371.75 690 L372.18 690 L372.6 690 L373.02 690 L373.44 690 L373.87 690 L374.29 690 L374.71 690 L375.13 690 L375.56 690 L375.98 690 L376.4 690 L376.82 690 L377.25 690 L377.67 690 L378.09 690 L378.51 690 L378.94 690 L379.36 690 L379.78 690 L380.2 690 L380.62 690 L381.05 690 L381.47 690 L381.89 690 L382.31 690 L382.74 690 L383.16 690 L383.58 690 L384 690 L384.43 690 L384.85 690 L385.27 690 L385.69 690 L386.12 690 L386.54 690 L386.96 690 L387.38 690 L387.81 690 L388.23 690 L388.65 690 L389.07 690 L389.5 690 L389.92 690 L390.34 690 L390.76 690 L391.19 690 L391.61 690 L392.03 690 L392.45 690 L392.88 690 L393.3 690 L393.72 690 L394.14 690 L394.57 690 L394.99 690 L395.41 690 L395.83 690 L396.26 690 L396.68 690 L397.1 690 L397.52 690 L397.95 690 L398.37 690 L398.79 690 L399.21 690 L399.64 690 L400.06 690 L400.48 690 L400.9 690 L401.33 690 L401.75 690 L402.17 690 L402.6 690 L403.02 690 L403.44 690 L403.86 690 L404.28 690 L404.71 690 L405.13 690 L405.55 690 L405.98 690 L406.4 690 L406.82 690 L407.24 690 L407.67 690 L408.09 689.75 L408.51 689.68 L408.93 689.61 L409.36 689.52 L409.78 689.41 L410.2 689.29 L410.62 689.15 L411.05 689 L411.47 688.84 L411.89 688.68 L412.31 688.49 L412.74 688.3 L413.16 688.11 L413.58 687.94 L414 687.77 L414.43 687.62 L414.85 687.48 L415.27 687.36 L415.69 687.25 L416.12 687.15 L416.54 687.06 L416.96 686.98 L417.38 686.9 L417.81 686.83 L418.23 686.77 L418.65 686.71 L419.07 686.65 L419.5 686.6 L419.92 686.55 L420.34 686.5 L420.76 686.45 L421.19 686.4 L421.61 686.35 L422.03 686.31 L422.45 686.26 L422.88 686.21 L423.3 686.17 L423.72 686.12 L424.14 686.08 L424.56 686.04 L424.99 685.99 L425.41 685.95 L425.83 685.9 L426.25 685.86 L426.68 685.81 L427.1 685.77 L427.52 685.73 L427.94 685.68 L428.37 685.64 L428.79 685.59 L429.21 685.55 L429.63 685.51 L430.06 685.46 L430.48 685.42 L430.9 685.38 L431.32 685.34 L431.75 685.29 L432.17 685.25 L432.59 685.21 L433.01 685.17 L433.44 685.13 L433.86 685.09 L434.28 685.05 L434.7 685.01 L435.13 684.97 L435.55 684.93 L435.97 684.9 L436.39 684.87 L436.82 684.83 L437.24 684.81 L437.66 684.78 L438.08 684.76 L438.51 684.74 L438.93 684.72 L439.35 684.71 L439.77 684.71 L440.2 684.71 L440.62 684.72 L441.04 684.74 L441.47 684.78 L441.89 684.82 L442.31 684.87 L442.73 684.95 L443.15 685.03 L443.58 685.13 L444 685.26 L444.42 685.39 L444.85 685.55 L445.27 685.73 L445.69 685.92 L446.11 686.13 L446.53 686.35 L446.96 686.59 L447.38 686.83 L447.8 687.09 L448.23 687.35 L448.65 687.6 L449.07 687.85 L449.49 688.08 L449.91 688.29 L450.34 688.49 L450.76 688.68 L451.18 688.84 L451.61 688.99 L452.03 689.12 L452.45 689.24 L452.87 689.35 L453.3 689.44 L453.72 689.52 L454.14 689.59 L454.56 689.65 L454.99 689.7 L455.41 689.74 L455.83 689.78 L456.25 690 L456.68 690 L457.1 690 L457.52 690 L457.94 690 L458.37 690 L458.79 690 L459.21 690 L459.63 690 L460.06 690 L460.48 690 L460.9 690 L461.32 690 L461.75 690 L462.17 690 L462.59 690 L463.01 690 L463.44 690 L463.86 690 L464.28 690 L464.7 690 L465.12 690 L465.55 690 L465.97 690 L466.39 690 L466.81 690 L467.24 690 L467.66 690 L468.08 690 L468.5 690 L468.93 690 L469.35 690 L469.77 690 L470.19 690 L470.62 690 L471.04 690 L471.46 690 L471.88 690 L472.31 690 L472.73 690 L473.15 690 L473.57 690 L474 690 L474.42 690 L474.84 690 L475.26 690 L475.69 690 L476.11 690 L476.53 690 L476.95 690 L477.38 690 L477.8 690 L478.22 690 L478.64 690 L479.07 690 L479.49 690 L479.91 690 L480.33 690 L480.76 690 L481.18 690 L481.6 690 L482.02 690 L482.45 690 L482.87 690 L483.29 690 L483.71 690 L483.71 690 Z" fill="url(#hatch)" stroke="#3c2f7a" stroke-width="0.45"/>
<path d="M397.02 690 L397.02 689.97 L397.59 689.93 L398.17 689.84 L398.74 689.68 L399.32 689.39 L399.89 688.87 L400.47 687.97 L401.04 686.52 L401.61 684.27 L402.19 680.92 L402.76 676.18 L403.34 669.8 L403.91 661.61 L404.49 651.68 L405.06 640.3 L405.64 628.08 L406.21 615.86 L406.79 604.72 L407.36 595.75 L407.94 589.92 L408.51 587.9 L409.08 589.92 L409.66 595.75 L410.23 604.72 L410.81 615.86 L411.38 628.08 L411.96 640.3 L412.53 651.68 L413.11 661.61 L413.68 669.8 L414.26 676.18 L414.83 680.92 L415.41 684.27 L415.98 686.52 L416.55 687.97 L417.13 688.87 L417.7 689.39 L418.28 689.68 L418.85 689.84 L419.43 689.93 L420 689.97 Z" fill="#d93232" stroke="#2a0000" stroke-width="0.55"/>
<path d="M430.31 690 L430.31 689.99 L431.29 689.99 L432.27 689.97 L433.25 689.95 L434.23 689.9 L435.21 689.81 L436.19 689.66 L437.17 689.42 L438.15 689.05 L439.13 688.49 L440.11 687.71 L441.09 686.65 L442.07 685.29 L443.05 683.65 L444.03 681.76 L445.01 679.73 L445.99 677.71 L446.97 675.86 L447.95 674.37 L448.93 673.41 L449.91 673.07 L450.9 673.41 L451.88 674.37 L452.86 675.86 L453.84 677.71 L454.82 679.73 L455.8 681.76 L456.78 683.65 L457.76 685.29 L458.74 686.65 L459.72 687.71 L460.7 688.49 L461.68 689.05 L462.66 689.42 L463.64 689.66 L464.62 689.81 L465.6 689.9 L466.58 689.95 L467.56 689.97 L468.54 689.99 L469.52 689.99 Z" fill="#d93232" stroke="#2a0000" stroke-width="0.55"/>
<clipPath id="fc6"><path d="M397.02 690 L397.02 689.97 L397.59 689.93 L398.17 689.84 L398.74 689.68 L399.32 689.39 L399.89 688.87 L400.47 687.97 L401.04 686.52 L401.61 684.27 L402.19 680.92 L402.76 676.18 L403.34 669.8 L403.91 661.61 L404.49 651.68 L405.06 640.3 L405.64 628.08 L406.21 615.86 L406.79 604.72 L407.36 595.75 L407.94 589.92 L408.51 587.9 L409.08 589.92 L409.66 595.75 L410.23 604.72 L410.81 615.86 L411.38 628.08 L411.96 640.3 L412.53 651.68 L413.11 661.61 L413.68 669.8 L414.26 676.18 L414.83 680.92 L415.41 684.27 L415.98 686.52 L416.55 687.97 L417.13 688.87 L417.7 689.39 L418.28 689.68 L418.85 689.84 L419.43 689.93 L420 689.97 Z M430.31 690 L430.31 689.99 L431.29 689.99 L432.27 689.97 L433.25 689.95 L434.23 689.9 L435.21 689.81 L436.19 689.66 L437.17 689.42 L438.15 689.05 L439.13 688.49 L440.11 687.71 L441.09 686.65 L442.07 685.29 L443.05 683.65 L444.03 681.76 L445.01 679.73 L445.99 677.71 L446.97 675.86 L447.95 674.37 L448.93 673.41 L449.91 673.07 L450.9 673.41 L451.88 674.37 L452.86 675.86 L453.84 677.71 L454.82 679.73 L455.8 681.76 L456.78 683.65 L457.76 685.29 L458.74 686.65 L459.72 687.71 L460.7 688.49 L461.68 689.05 L462.66 689.42 L463.64 689.66 L464.62 689.81 L465.6 689.9 L466.58 689.95 L467.56 689.97 L468.54 689.99 L469.52 689.99 Z"/></clipPath>
<path d="M359.5 690 L359.5 690 L359.92 690 L360.35 690 L360.77 690 L361.19 690 L361.61 690 L362.04 690 L362.46 690 L362.88 690 L363.3 690 L363.73 690 L364.15 690 L364.57 690 L364.99 690 L365.42 690 L365.84 690 L366.26 690 L366.68 690 L367.11 690 L367.53 690 L367.95 690 L368.37 690 L368.8 690 L369.22 690 L369.64 690 L370.06 690 L370.49 690 L370.91 690 L371.33 690 L371.75 690 L372.18 690 L372.6 690 L373.02 690 L373.44 690 L373.87 690 L374.29 690 L374.71 690 L375.13 690 L375.56 690 L375.98 690 L376.4 690 L376.82 690 L377.25 690 L377.67 690 L378.09 690 L378.51 690 L378.94 690 L379.36 690 L379.78 690 L380.2 690 L380.62 690 L381.05 690 L381.47 690 L381.89 690 L382.31 690 L382.74 690 L383.16 690 L383.58 690 L384 690 L384.43 690 L384.85 690 L385.27 690 L385.69 690 L386.12 690 L386.54 690 L386.96 690 L387.38 690 L387.81 690 L388.23 690 L388.65 690 L389.07 690 L389.5 690 L389.92 690 L390.34 690 L390.76 690 L391.19 690 L391.61 690 L392.03 690 L392.45 690 L392.88 690 L393.3 690 L393.72 690 L394.14 690 L394.57 690 L394.99 690 L395.41 690 L395.83 690 L396.26 690 L396.68 690 L397.1 690 L397.52 690 L397.95 690 L398.37 690 L398.79 690 L399.21 690 L399.64 690 L400.06 690 L400.48 690 L400.9 690 L401.33 690 L401.75 690 L402.17 690 L402.6 690 L403.02 690 L403.44 690 L403.86 690 L404.28 690 L404.71 690 L405.13 690 L405.55 690 L405.98 690 L406.4 690 L406.82 690 L407.24 690 L407.67 690 L408.09 689.75 L408.51 689.68 L408.93 689.61 L409.36 689.52 L409.78 689.41 L410.2 689.29 L410.62 689.15 L411.05 689 L411.47 688.84 L411.89 688.68 L412.31 688.49 L412.74 688.3 L413.16 688.11 L413.58 687.94 L414 687.77 L414.43 687.62 L414.85 687.48 L415.27 687.36 L415.69 687.25 L416.12 687.15 L416.54 687.06 L416.96 686.98 L417.38 686.9 L417.81 686.83 L418.23 686.77 L418.65 686.71 L419.07 686.65 L419.5 686.6 L419.92 686.55 L420.34 686.5 L420.76 686.45 L421.19 686.4 L421.61 686.35 L422.03 686.31 L422.45 686.26 L422.88 686.21 L423.3 686.17 L423.72 686.12 L424.14 686.08 L424.56 686.04 L424.99 685.99 L425.41 685.95 L425.83 685.9 L426.25 685.86 L426.68 685.81 L427.1 685.77 L427.52 685.73 L427.94 685.68 L428.37 685.64 L428.79 685.59 L429.21 685.55 L429.63 685.51 L430.06 685.46 L430.48 685.42 L430.9 685.38 L431.32 685.34 L431.75 685.29 L432.17 685.25 L432.59 685.21 L433.01 685.17 L433.44 685.13 L433.86 685.09 L434.28 685.05 L434.7 685.01 L435.13 684.97 L435.55 684.93 L435.97 684.9 L436.39 684.87 L436.82 684.83 L437.24 684.81 L437.66 684.78 L438.08 684.76 L438.51 684.74 L438.93 684.72 L439.35 684.71 L439.77 684.71 L440.2 684.71 L440.62 684.72 L441.04 684.74 L441.47 684.78 L441.89 684.82 L442.31 684.87 L442.73 684.95 L443.15 685.03 L443.58 685.13 L444 685.26 L444.42 685.39 L444.85 685.55 L445.27 685.73 L445.69 685.92 L446.11 686.13 L446.53 686.35 L446.96 686.59 L447.38 686.83 L447.8 687.09 L448.23 687.35 L448.65 687.6 L449.07 687.85 L449.49 688.08 L449.91 688.29 L450.34 688.49 L450.76 688.68 L451.18 688.84 L451.61 688.99 L452.03 689.12 L452.45 689.24 L452.87 689.35 L453.3 689.44 L453.72 689.52 L454.14 689.59 L454.56 689.65 L454.99 689.7 L455.41 689.74 L455.83 689.78 L456.25 690 L456.68 690 L457.1 690 L457.52 690 L457.94 690 L458.37 690 L458.79 690 L459.21 690 L459.63 690 L460.06 690 L460.48 690 L460.9 690 L461.32 690 L461.75 690 L462.17 690 L462.59 690 L463.01 690 L463.44 690 L463.86 690 L464.28 690 L464.7 690 L465.12 690 L465.55 690 L465.97 690 L466.39 690 L466.81 690 L467.24 690 L467.66 690 L468.08 690 L468.5 690 L468.93 690 L469.35 690 L469.77 690 L470.19 690 L470.62 690 L471.04 690 L471.46 690 L471.88 690 L472.31 690 L472.73 690 L473.15 690 L473.57 690 L474 690 L474.42 690 L474.84 690 L475.26 690 L475.69 690 L476.11 690 L476.53 690 L476.95 690 L477.38 690 L477.8 690 L478.22 690 L478.64 690 L479.07 690 L479.49 690 L479.91 690 L480.33 690 L480.76 690 L481.18 690 L481.6 690 L482.02 690 L482.45 690 L482.87 690 L483.29 690 L483.71 690 L483.71 690 Z" fill="url(#hatch2)" clip-path="url(#fc6)" stroke="#3a0a30" stroke-width="0.45"/>
<path d="M359.5 690 L359.84 690 L360.18 690 L360.51 690 L360.85 690 L361.19 690 L361.53 690 L361.87 690 L362.2 690 L362.54 690 L362.88 690 L363.22 690 L363.56 690 L363.89 690 L364.23 690 L364.57 690 L364.91 690 L365.25 690 L365.58 690 L365.92 690 L366.26 690 L366.6 690 L366.94 690 L367.27 690 L367.61 690 L367.95 690 L368.29 690 L368.63 690 L368.96 690 L369.3 690 L369.64 690 L369.98 690 L370.32 690 L370.65 690 L370.99 690 L371.33 690 L371.67 690 L372.01 690 L372.34 690 L372.68 690 L373.02 690 L373.36 690 L373.7 690 L374.03 690 L374.37 690 L374.71 690 L375.05 690 L375.39 690 L375.72 690 L376.06 690 L376.4 690 L376.74 690 L377.08 690 L377.41 690 L377.75 690 L378.09 690 L378.43 690 L378.77 690 L379.1 690 L379.44 690 L379.78 690 L380.12 690 L380.46 690 L380.79 690 L381.13 690 L381.47 690 L381.81 690 L382.15 690 L382.48 690 L382.82 690 L383.16 690 L383.5 690 L383.84 690 L384.17 690 L384.51 690 L384.85 690 L385.19 690 L385.53 690 L385.86 690 L386.2 690 L386.54 690 L386.88 690 L387.22 690 L387.55 690 L387.89 690 L388.23 690 L388.57 690 L388.91 690 L389.24 690 L389.58 690 L389.92 690 L390.26 690 L390.6 690 L390.93 690 L391.27 690 L391.61 690 L391.95 690 L392.29 690 L392.62 690 L392.96 690 L393.3 690 L393.64 690 L393.98 690 L394.31 690 L394.65 690 L394.99 690 L395.33 690 L395.67 689.99 L396 689.99 L396.34 689.98 L396.68 689.97 L397.02 689.95 L397.36 689.93 L397.69 689.89 L398.03 689.82 L398.37 689.73 L398.71 689.59 L399.05 689.39 L399.38 689.11 L399.72 688.72 L400.06 688.18 L400.4 687.45 L400.74 686.47 L401.07 685.17 L401.41 683.5 L401.75 681.39 L402.09 679.4 L402.43 676.95 L402.76 673.98 L403.1 670.44 L403.44 666.28 L403.78 661.5 L404.12 656.1 L404.45 650.11 L404.79 643.61 L405.13 636.7 L405.47 629.51 L405.81 622.24 L406.14 615.06 L406.48 608.22 L406.82 601.92 L407.16 596.4 L407.5 591.87 L407.83 588.27 L408.17 586.14 L408.51 585.39 L408.85 586.03 L409.19 588.05 L409.52 591.34 L409.86 595.79 L410.2 601.21 L410.54 607.4 L410.88 614.13 L411.21 621.18 L411.55 628.32 L411.89 635.37 L412.23 642.13 L412.57 648.48 L412.9 654.32 L413.24 659.58 L413.58 664.22 L413.92 668.24 L414.26 671.66 L414.59 674.52 L414.93 676.86 L415.27 678.75 L415.61 680.24 L415.95 681.4 L416.28 682.58 L416.62 683.46 L416.96 684.11 L417.3 684.57 L417.64 684.89 L417.97 685.1 L418.31 685.23 L418.65 685.3 L418.99 685.33 L419.33 685.33 L419.66 685.32 L420 685.29 L420.34 685.25 L420.68 685.21 L421.02 685.17 L421.35 685.12 L421.69 685.07 L422.03 685.02 L422.37 684.98 L422.71 684.93 L423.04 684.88 L423.38 684.83 L423.72 684.78 L424.06 684.73 L424.4 684.69 L424.73 684.64 L425.07 684.59 L425.41 684.54 L425.75 684.49 L426.09 684.45 L426.42 684.4 L426.76 684.35 L427.1 684.3 L427.44 684.26 L427.78 684.21 L428.11 684.16 L428.45 684.11 L428.79 684.07 L429.13 684.02 L429.47 683.97 L429.8 683.92 L430.14 683.87 L430.48 683.83 L430.82 683.78 L431.16 683.73 L431.49 683.68 L431.83 683.63 L432.17 683.57 L432.51 683.52 L432.85 683.46 L433.18 683.4 L433.52 683.34 L433.86 683.28 L434.2 683.21 L434.54 683.13 L434.87 683.05 L435.21 682.96 L435.55 682.87 L435.89 682.76 L436.23 682.64 L436.56 682.51 L436.9 682.36 L437.24 682.2 L437.58 682.02 L437.92 681.81 L438.25 681.58 L438.59 681.36 L438.93 681.15 L439.27 680.92 L439.61 680.66 L439.94 680.37 L440.28 680.06 L440.62 679.72 L440.96 679.35 L441.3 678.96 L441.63 678.53 L441.97 678.08 L442.31 677.6 L442.65 677.09 L442.99 676.56 L443.32 676.02 L443.66 675.46 L444 674.88 L444.34 674.31 L444.68 673.73 L445.01 673.15 L445.35 672.59 L445.69 672.05 L446.03 671.53 L446.37 671.04 L446.7 670.59 L447.04 670.18 L447.38 669.82 L447.72 669.53 L448.06 669.29 L448.39 669.12 L448.73 669.01 L449.07 668.97 L449.41 668.99 L449.75 669.09 L450.08 669.26 L450.42 669.49 L450.76 669.8 L451.1 670.17 L451.44 670.6 L451.77 671.09 L452.11 671.64 L452.45 672.23 L452.79 672.87 L453.13 673.55 L453.46 674.25 L453.8 674.97 L454.14 675.71 L454.48 676.46 L454.82 677.21 L455.15 677.96 L455.49 678.69 L455.83 679.41 L456.17 680.3 L456.51 680.95 L456.84 681.61 L457.18 682.41 L457.52 683.16 L457.86 683.87 L458.2 684.53 L458.53 685.14 L458.87 685.71 L459.21 686.23 L459.55 686.7 L459.89 687.12 L460.22 687.51 L460.56 687.85 L460.9 688.15 L461.24 688.42 L461.58 688.66 L461.91 688.86 L462.25 689.04 L462.59 689.2 L462.93 689.33 L463.27 689.44 L463.6 689.54 L463.94 689.62 L464.28 689.69 L464.62 689.75 L464.96 689.79 L465.29 689.83 L465.63 689.87 L465.97 689.89 L466.31 689.92 L466.65 689.93 L466.98 689.95 L467.32 689.96 L467.66 689.97 L468 689.97 L468.34 689.98 L468.67 689.98 L469.01 689.99 L469.35 689.99 L469.69 689.99 L470.03 689.99 L470.36 690 L470.7 690 L471.04 690 L471.38 690 L471.72 690 L472.05 690 L472.39 690 L472.73 690 L473.07 690 L473.41 690 L473.74 690 L474.08 690 L474.42 690 L474.76 690 L475.1 690 L475.43 690 L475.77 690 L476.11 690 L476.45 690 L476.79 690 L477.12 690 L477.46 690 L477.8 690 L478.14 690 L478.48 690 L478.81 690 L479.15 690 L479.49 690 L479.83 690 L480.17 690 L480.5 690 L480.84 690 L481.18 690 L481.52 690 L481.86 690 L482.19 690 L482.53 690 L482.87 690 L483.21 690 L483.55 690" fill="none" stroke="#222" stroke-width="0.65" stroke-linejoin="round"/>
<path d="M359.5 689.99 L359.58 689.98 L359.67 689.96 L359.75 689.92 L359.84 689.83 L359.92 689.67 L360.01 689.41 L360.09 689 L360.18 688.4 L360.26 687.6 L360.35 686.61 L360.43 685.51 L360.51 684.41 L360.6 683.46 L360.68 682.82 L360.77 682.59 L360.85 683.37 L360.94 684.07 L361.02 684.69 L361.11 685.25 L361.19 685.75 L361.27 686.2 L361.36 686.6 L361.44 686.96 L361.53 687.28 L361.61 687.56 L361.7 687.82 L361.78 688.05 L361.87 688.25 L361.95 688.44 L362.04 688.6 L362.12 688.75 L362.2 688.88 L362.29 689 L362.37 689.1 L362.46 689.2 L362.54 689.28 L362.63 689.36 L362.71 689.42 L362.8 689.49 L362.88 689.54 L362.96 689.59 L363.05 689.63 L363.13 689.67 L363.22 689.7 L363.3 689.74 L363.39 689.76 L363.47 689.79 L363.56 689.81 L363.64 689.83 L363.73 689.85 L363.81 689.86 L363.89 689.88 L363.98 689.89 L364.06 689.9 L364.15 689.91 L364.23 689.92 L364.32 689.93 L364.4 689.94 L364.49 689.94 L364.57 689.95 L364.65 689.96 L364.74 689.96 L364.82 689.96 L364.91 689.97 L364.99 689.97 L365.08 689.97 L365.16 689.98 L365.25 689.98 L365.33 689.98 L365.42 689.98 L365.5 689.99 L365.58 689.99 L365.67 689.99 L365.75 689.99 L365.84 689.99 L365.92 689.99 L366.01 689.99 L366.09 689.99 L366.18 689.99" fill="none" stroke="#333" stroke-width="0.6"/>
<line x1="359.5" y1="583.7" x2="359.5" y2="690.5" stroke="#222" stroke-width="1"/>
<line x1="353" y1="690" x2="484" y2="690" stroke="#222" stroke-width="1"/>
<line x1="352.9" y1="690" x2="359.5" y2="690" stroke="#333" stroke-width="0.65"/>
<text transform="translate(350.4 691)  rotate(-90) scale(0.76 1)" font-size="6" font-weight="bold" fill="#333" text-anchor="middle">0</text>
<line x1="356" y1="684.71" x2="359.5" y2="684.71" stroke="#333" stroke-width="0.65"/>
<line x1="356" y1="679.42" x2="359.5" y2="679.42" stroke="#333" stroke-width="0.65"/>
<line x1="356" y1="674.13" x2="359.5" y2="674.13" stroke="#333" stroke-width="0.65"/>
<line x1="356" y1="668.84" x2="359.5" y2="668.84" stroke="#333" stroke-width="0.65"/>
<line x1="352.9" y1="663.55" x2="359.5" y2="663.55" stroke="#333" stroke-width="0.65"/>
<text transform="translate(350.4 664.55)  rotate(-90) scale(0.76 1)" font-size="6" font-weight="bold" fill="#333" text-anchor="middle">500</text>
<line x1="356" y1="658.26" x2="359.5" y2="658.26" stroke="#333" stroke-width="0.65"/>
<line x1="356" y1="652.97" x2="359.5" y2="652.97" stroke="#333" stroke-width="0.65"/>
<line x1="356" y1="647.68" x2="359.5" y2="647.68" stroke="#333" stroke-width="0.65"/>
<line x1="356" y1="642.39" x2="359.5" y2="642.39" stroke="#333" stroke-width="0.65"/>
<line x1="352.9" y1="637.1" x2="359.5" y2="637.1" stroke="#333" stroke-width="0.65"/>
<text transform="translate(350.4 638.1)  rotate(-90) scale(0.76 1)" font-size="6" font-weight="bold" fill="#333" text-anchor="middle">1000</text>
<line x1="356" y1="631.81" x2="359.5" y2="631.81" stroke="#333" stroke-width="0.65"/>
<line x1="356" y1="626.52" x2="359.5" y2="626.52" stroke="#333" stroke-width="0.65"/>
<line x1="356" y1="621.23" x2="359.5" y2="621.23" stroke="#333" stroke-width="0.65"/>
<line x1="356" y1="615.94" x2="359.5" y2="615.94" stroke="#333" stroke-width="0.65"/>
<line x1="352.9" y1="610.65" x2="359.5" y2="610.65" stroke="#333" stroke-width="0.65"/>
<text transform="translate(350.4 611.65)  rotate(-90) scale(0.76 1)" font-size="6" font-weight="bold" fill="#333" text-anchor="middle">1500</text>
<line x1="356" y1="605.36" x2="359.5" y2="605.36" stroke="#333" stroke-width="0.65"/>
<line x1="356" y1="600.07" x2="359.5" y2="600.07" stroke="#333" stroke-width="0.65"/>
<line x1="356" y1="594.78" x2="359.5" y2="594.78" stroke="#333" stroke-width="0.65"/>
<line x1="356" y1="589.49" x2="359.5" y2="589.49" stroke="#333" stroke-width="0.65"/>
<line x1="352.9" y1="584.2" x2="359.5" y2="584.2" stroke="#333" stroke-width="0.65"/>
<text transform="translate(350.4 585.2)  rotate(-90) scale(0.76 1)" font-size="6" font-weight="bold" fill="#333" text-anchor="middle">2000</text>
<line x1="359.5" y1="690" x2="359.5" y2="695.5" stroke="#333" stroke-width="0.65"/>
<text transform="translate(359.5 702) scale(0.8 1)" font-size="6.2" font-weight="bold" fill="#111" text-anchor="middle">0</text>
<line x1="363.73" y1="690" x2="363.73" y2="692.7" stroke="#333" stroke-width="0.65"/>
<line x1="367.95" y1="690" x2="367.95" y2="692.7" stroke="#333" stroke-width="0.65"/>
<line x1="372.18" y1="690" x2="372.18" y2="692.7" stroke="#333" stroke-width="0.65"/>
<line x1="376.4" y1="690" x2="376.4" y2="695.5" stroke="#333" stroke-width="0.65"/>
<text transform="translate(376.4 702) scale(0.8 1)" font-size="6.2" font-weight="bold" fill="#111" text-anchor="middle">20</text>
<line x1="380.62" y1="690" x2="380.62" y2="692.7" stroke="#333" stroke-width="0.65"/>
<line x1="384.85" y1="690" x2="384.85" y2="692.7" stroke="#333" stroke-width="0.65"/>
<line x1="389.07" y1="690" x2="389.07" y2="692.7" stroke="#333" stroke-width="0.65"/>
<line x1="393.3" y1="690" x2="393.3" y2="695.5" stroke="#333" stroke-width="0.65"/>
<text transform="translate(393.3 702) scale(0.8 1)" font-size="6.2" font-weight="bold" fill="#111" text-anchor="middle">40</text>
<line x1="397.52" y1="690" x2="397.52" y2="692.7" stroke="#333" stroke-width="0.65"/>
<line x1="401.75" y1="690" x2="401.75" y2="692.7" stroke="#333" stroke-width="0.65"/>
<line x1="405.98" y1="690" x2="405.98" y2="692.7" stroke="#333" stroke-width="0.65"/>
<line x1="410.2" y1="690" x2="410.2" y2="695.5" stroke="#333" stroke-width="0.65"/>
<text transform="translate(410.2 702) scale(0.8 1)" font-size="6.2" font-weight="bold" fill="#111" text-anchor="middle">60</text>
<line x1="414.43" y1="690" x2="414.43" y2="692.7" stroke="#333" stroke-width="0.65"/>
<line x1="418.65" y1="690" x2="418.65" y2="692.7" stroke="#333" stroke-width="0.65"/>
<line x1="422.88" y1="690" x2="422.88" y2="692.7" stroke="#333" stroke-width="0.65"/>
<line x1="427.1" y1="690" x2="427.1" y2="695.5" stroke="#333" stroke-width="0.65"/>
<text transform="translate(427.1 702) scale(0.8 1)" font-size="6.2" font-weight="bold" fill="#111" text-anchor="middle">80</text>
<line x1="431.32" y1="690" x2="431.32" y2="692.7" stroke="#333" stroke-width="0.65"/>
<line x1="435.55" y1="690" x2="435.55" y2="692.7" stroke="#333" stroke-width="0.65"/>
<line x1="439.77" y1="690" x2="439.77" y2="692.7" stroke="#333" stroke-width="0.65"/>
<line x1="444" y1="690" x2="444" y2="695.5" stroke="#333" stroke-width="0.65"/>
<text transform="translate(444 702) scale(0.8 1)" font-size="6.2" font-weight="bold" fill="#111" text-anchor="middle">100</text>
<line x1="448.23" y1="690" x2="448.23" y2="692.7" stroke="#333" stroke-width="0.65"/>
<line x1="452.45" y1="690" x2="452.45" y2="692.7" stroke="#333" stroke-width="0.65"/>
<line x1="456.68" y1="690" x2="456.68" y2="692.7" stroke="#333" stroke-width="0.65"/>
<line x1="460.9" y1="690" x2="460.9" y2="695.5" stroke="#333" stroke-width="0.65"/>
<text transform="translate(460.9 702) scale(0.8 1)" font-size="6.2" font-weight="bold" fill="#111" text-anchor="middle">120</text>
<line x1="465.12" y1="690" x2="465.12" y2="692.7" stroke="#333" stroke-width="0.65"/>
<line x1="469.35" y1="690" x2="469.35" y2="692.7" stroke="#333" stroke-width="0.65"/>
<line x1="473.57" y1="690" x2="473.57" y2="692.7" stroke="#333" stroke-width="0.65"/>
<line x1="477.8" y1="690" x2="477.8" y2="695.5" stroke="#333" stroke-width="0.65"/>
<text transform="translate(477.8 702) scale(0.8 1)" font-size="6.2" font-weight="bold" fill="#111" text-anchor="middle">140</text>
<text transform="translate(419.5 708.9) scale(0.85 1)" font-size="5.8" font-weight="bold" fill="#111" text-anchor="middle">PI-A</text>
<text transform="translate(342.2 637.1) rotate(-90) scale(0.8 1)" font-size="5.6" font-weight="bold" fill="#111" text-anchor="middle">Number</text>
<path d="M407.51 688.7l-2.4 4.2h4.8z" fill="#000"/>
<path d="M448.91 688.7l-2.4 4.2h4.8z" fill="#000"/>
<text x="447" y="601.7" font-size="10.45" font-weight="bold" fill="#555" text-anchor="middle">TRIB3-KD 2</text>
<text x="426.3" y="624.3" font-size="6.85" fill="#333" text-anchor="start">G0/G1:68.73%</text>
<text x="426.3" y="635.4" font-size="6.85" fill="#333" text-anchor="start">S:10.90%</text>
<text x="426.3" y="646.5" font-size="6.85" fill="#333" text-anchor="start">G2/M:20.37%</text>
<rect x="185.4" y="545" width="3.5" height="8" fill="#fff" stroke="none" stroke-width="1"/>
<text x="30.6" y="486.4" font-size="17.5" fill="#666" text-anchor="middle" transform="rotate(-90 30.6 486.4)">LNCaP</text>
<text x="32.2" y="637.8" font-size="15.8" fill="#666" text-anchor="middle" transform="rotate(-90 32.2 637.8)">PC3</text>
<line x1="555.2" y1="436.8" x2="555.2" y2="435.31" stroke="#f7921f" stroke-width="0.9"/>
<line x1="552.2" y1="435.31" x2="558.2" y2="435.31" stroke="#f7921f" stroke-width="0.9"/>
<line x1="555.2" y1="445.71" x2="555.2" y2="442.24" stroke="#1d4678" stroke-width="0.9"/>
<line x1="552.2" y1="442.24" x2="558.2" y2="442.24" stroke="#1d4678" stroke-width="0.9"/>
<line x1="555.2" y1="478.38" x2="555.2" y2="475.9" stroke="#7a7a7a" stroke-width="0.9"/>
<line x1="552.2" y1="475.9" x2="558.2" y2="475.9" stroke="#7a7a7a" stroke-width="0.9"/>
<rect x="548.15" y="436.8" width="14.1" height="8.91" fill="none" stroke="#f7921f" stroke-width="1.7"/>
<rect x="548.15" y="445.71" width="14.1" height="32.67" fill="none" stroke="#1d4678" stroke-width="1.7"/>
<rect x="548.15" y="478.38" width="14.1" height="57.42" fill="none" stroke="#7a7a7a" stroke-width="1.7"/>
<line x1="578.4" y1="436.8" x2="578.4" y2="436.3" stroke="#f7921f" stroke-width="0.9"/>
<line x1="575.4" y1="436.3" x2="581.4" y2="436.3" stroke="#f7921f" stroke-width="0.9"/>
<line x1="578.4" y1="452.14" x2="578.4" y2="451.15" stroke="#1d4678" stroke-width="0.9"/>
<line x1="575.4" y1="451.15" x2="581.4" y2="451.15" stroke="#1d4678" stroke-width="0.9"/>
<line x1="578.4" y1="472.93" x2="578.4" y2="472.14" stroke="#7a7a7a" stroke-width="0.9"/>
<line x1="575.4" y1="472.14" x2="581.4" y2="472.14" stroke="#7a7a7a" stroke-width="0.9"/>
<rect x="571.15" y="436.8" width="14.5" height="15.35" fill="none" stroke="#f7921f" stroke-width="1.7"/>
<rect x="571.15" y="452.14" width="14.5" height="20.79" fill="none" stroke="#1d4678" stroke-width="1.7"/>
<rect x="571.15" y="472.93" width="14.5" height="62.87" fill="none" stroke="#7a7a7a" stroke-width="1.7"/>
<line x1="601.9" y1="436.8" x2="601.9" y2="436.4" stroke="#f7921f" stroke-width="0.9"/>
<line x1="598.9" y1="436.4" x2="604.9" y2="436.4" stroke="#f7921f" stroke-width="0.9"/>
<line x1="601.9" y1="452.64" x2="601.9" y2="452.14" stroke="#1d4678" stroke-width="0.9"/>
<line x1="598.9" y1="452.14" x2="604.9" y2="452.14" stroke="#1d4678" stroke-width="0.9"/>
<line x1="601.9" y1="465.01" x2="601.9" y2="464.42" stroke="#7a7a7a" stroke-width="0.9"/>
<line x1="598.9" y1="464.42" x2="604.9" y2="464.42" stroke="#7a7a7a" stroke-width="0.9"/>
<rect x="594.65" y="436.8" width="14.5" height="15.84" fill="none" stroke="#f7921f" stroke-width="1.7"/>
<rect x="594.65" y="452.64" width="14.5" height="12.38" fill="none" stroke="#1d4678" stroke-width="1.7"/>
<rect x="594.65" y="465.01" width="14.5" height="70.78" fill="none" stroke="#7a7a7a" stroke-width="1.7"/>
<line x1="539.3" y1="425" x2="539.3" y2="536.6" stroke="#000" stroke-width="1.8"/>
<line x1="538.4" y1="535.8" x2="618.7" y2="535.8" stroke="#000" stroke-width="1.8"/>
<line x1="535.5" y1="535.8" x2="539.3" y2="535.8" stroke="#000" stroke-width="1.5"/>
<text x="534.5" y="539.8" font-size="11" font-weight="bold" fill="#000" text-anchor="end">0</text>
<line x1="535.5" y1="516" x2="539.3" y2="516" stroke="#000" stroke-width="1.5"/>
<text x="534.5" y="520" font-size="11" font-weight="bold" fill="#000" text-anchor="end">20</text>
<line x1="535.5" y1="496.2" x2="539.3" y2="496.2" stroke="#000" stroke-width="1.5"/>
<text x="534.5" y="500.2" font-size="11" font-weight="bold" fill="#000" text-anchor="end">40</text>
<line x1="535.5" y1="476.4" x2="539.3" y2="476.4" stroke="#000" stroke-width="1.5"/>
<text x="534.5" y="480.4" font-size="11" font-weight="bold" fill="#000" text-anchor="end">60</text>
<line x1="535.5" y1="456.6" x2="539.3" y2="456.6" stroke="#000" stroke-width="1.5"/>
<text x="534.5" y="460.6" font-size="11" font-weight="bold" fill="#000" text-anchor="end">80</text>
<line x1="535.5" y1="436.8" x2="539.3" y2="436.8" stroke="#000" stroke-width="1.5"/>
<text x="534.5" y="440.8" font-size="11" font-weight="bold" fill="#000" text-anchor="end">100</text>
<line x1="554.7" y1="535.8" x2="554.7" y2="539.6" stroke="#000" stroke-width="1.5"/>
<line x1="578.3" y1="535.8" x2="578.3" y2="539.6" stroke="#000" stroke-width="1.5"/>
<line x1="602" y1="535.8" x2="602" y2="539.6" stroke="#000" stroke-width="1.5"/>
<text x="558.1" y="548.2" font-size="10.9" font-weight="bold" fill="#000" text-anchor="end" transform="rotate(-45 558.1 548.2)">NC</text>
<text x="581.7" y="548.2" font-size="10.9" font-weight="bold" fill="#000" text-anchor="end" transform="rotate(-45 581.7 548.2)">TRIB3-1</text>
<text x="605.4" y="548.2" font-size="10.9" font-weight="bold" fill="#000" text-anchor="end" transform="rotate(-45 605.4 548.2)">TRIB3-2</text>
<text x="510.2" y="478.3" font-size="13.6" font-weight="bold" fill="#000" text-anchor="middle" transform="rotate(-90 510.2 478.3)">Percentage (%)</text>
<rect x="625.2" y="477.1" width="8.4" height="3.9" fill="none" stroke="#7a7a7a" stroke-width="1.3"/>
<text x="640" y="481.8" font-size="8" font-weight="bold" fill="#333" text-anchor="start">G0/G1</text>
<rect x="625.2" y="485.2" width="8.4" height="3.9" fill="none" stroke="#1d4678" stroke-width="1.3"/>
<text x="640" y="489.9" font-size="8" font-weight="bold" fill="#333" text-anchor="start">S</text>
<rect x="625.2" y="493.3" width="8.4" height="3.9" fill="none" stroke="#f7921f" stroke-width="1.3"/>
<text x="640" y="498" font-size="8" font-weight="bold" fill="#333" text-anchor="start">G2/M</text>
<line x1="555.4" y1="594.4" x2="555.4" y2="591.41" stroke="#f7921f" stroke-width="0.9"/>
<line x1="552.4" y1="591.41" x2="558.4" y2="591.41" stroke="#f7921f" stroke-width="0.9"/>
<line x1="555.4" y1="617.31" x2="555.4" y2="613.32" stroke="#1d4678" stroke-width="0.9"/>
<line x1="552.4" y1="613.32" x2="558.4" y2="613.32" stroke="#1d4678" stroke-width="0.9"/>
<line x1="555.4" y1="640.71" x2="555.4" y2="638.52" stroke="#7a7a7a" stroke-width="0.9"/>
<line x1="552.4" y1="638.52" x2="558.4" y2="638.52" stroke="#7a7a7a" stroke-width="0.9"/>
<rect x="548.15" y="594.4" width="14.5" height="22.91" fill="none" stroke="#f7921f" stroke-width="1.7"/>
<rect x="548.15" y="617.31" width="14.5" height="23.41" fill="none" stroke="#1d4678" stroke-width="1.7"/>
<rect x="548.15" y="640.71" width="14.5" height="53.29" fill="none" stroke="#7a7a7a" stroke-width="1.7"/>
<line x1="578.75" y1="594.4" x2="578.75" y2="591.91" stroke="#f7921f" stroke-width="0.9"/>
<line x1="575.75" y1="591.91" x2="581.75" y2="591.91" stroke="#f7921f" stroke-width="0.9"/>
<line x1="578.75" y1="617.11" x2="578.75" y2="615.81" stroke="#1d4678" stroke-width="0.9"/>
<line x1="575.75" y1="615.81" x2="581.75" y2="615.81" stroke="#1d4678" stroke-width="0.9"/>
<line x1="578.75" y1="626.77" x2="578.75" y2="625.77" stroke="#7a7a7a" stroke-width="0.9"/>
<line x1="575.75" y1="625.77" x2="581.75" y2="625.77" stroke="#7a7a7a" stroke-width="0.9"/>
<rect x="571.45" y="594.4" width="14.6" height="22.71" fill="none" stroke="#f7921f" stroke-width="1.7"/>
<rect x="571.45" y="617.11" width="14.6" height="9.66" fill="none" stroke="#1d4678" stroke-width="1.7"/>
<rect x="571.45" y="626.77" width="14.6" height="67.23" fill="none" stroke="#7a7a7a" stroke-width="1.7"/>
<line x1="602.3" y1="594.4" x2="602.3" y2="591.91" stroke="#f7921f" stroke-width="0.9"/>
<line x1="599.3" y1="591.91" x2="605.3" y2="591.91" stroke="#f7921f" stroke-width="0.9"/>
<line x1="602.3" y1="617.11" x2="602.3" y2="615.81" stroke="#1d4678" stroke-width="0.9"/>
<line x1="599.3" y1="615.81" x2="605.3" y2="615.81" stroke="#1d4678" stroke-width="0.9"/>
<line x1="602.3" y1="626.77" x2="602.3" y2="625.57" stroke="#7a7a7a" stroke-width="0.9"/>
<line x1="599.3" y1="625.57" x2="605.3" y2="625.57" stroke="#7a7a7a" stroke-width="0.9"/>
<rect x="595.15" y="594.4" width="14.3" height="22.71" fill="none" stroke="#f7921f" stroke-width="1.7"/>
<rect x="595.15" y="617.11" width="14.3" height="9.66" fill="none" stroke="#1d4678" stroke-width="1.7"/>
<rect x="595.15" y="626.77" width="14.3" height="67.23" fill="none" stroke="#7a7a7a" stroke-width="1.7"/>
<line x1="539.8" y1="583.6" x2="539.8" y2="694.8" stroke="#000" stroke-width="1.8"/>
<line x1="538.9" y1="694" x2="619" y2="694" stroke="#000" stroke-width="1.8"/>
<line x1="536" y1="694" x2="539.8" y2="694" stroke="#000" stroke-width="1.5"/>
<text x="535" y="698" font-size="11" font-weight="bold" fill="#000" text-anchor="end">0</text>
<line x1="536" y1="674.08" x2="539.8" y2="674.08" stroke="#000" stroke-width="1.5"/>
<text x="535" y="678.08" font-size="11" font-weight="bold" fill="#000" text-anchor="end">20</text>
<line x1="536" y1="654.16" x2="539.8" y2="654.16" stroke="#000" stroke-width="1.5"/>
<text x="535" y="658.16" font-size="11" font-weight="bold" fill="#000" text-anchor="end">40</text>
<line x1="536" y1="634.24" x2="539.8" y2="634.24" stroke="#000" stroke-width="1.5"/>
<text x="535" y="638.24" font-size="11" font-weight="bold" fill="#000" text-anchor="end">60</text>
<line x1="536" y1="614.32" x2="539.8" y2="614.32" stroke="#000" stroke-width="1.5"/>
<text x="535" y="618.32" font-size="11" font-weight="bold" fill="#000" text-anchor="end">80</text>
<line x1="536" y1="594.4" x2="539.8" y2="594.4" stroke="#000" stroke-width="1.5"/>
<text x="535" y="598.4" font-size="11" font-weight="bold" fill="#000" text-anchor="end">100</text>
<line x1="555.1" y1="694" x2="555.1" y2="697.8" stroke="#000" stroke-width="1.5"/>
<line x1="578.8" y1="694" x2="578.8" y2="697.8" stroke="#000" stroke-width="1.5"/>
<line x1="602.5" y1="694" x2="602.5" y2="697.8" stroke="#000" stroke-width="1.5"/>
<text x="558.5" y="706.4" font-size="10.9" font-weight="bold" fill="#000" text-anchor="end" transform="rotate(-45 558.5 706.4)">NC</text>
<text x="582.2" y="706.4" font-size="10.9" font-weight="bold" fill="#000" text-anchor="end" transform="rotate(-45 582.2 706.4)">TRIB3-1</text>
<text x="605.9" y="706.4" font-size="10.9" font-weight="bold" fill="#000" text-anchor="end" transform="rotate(-45 605.9 706.4)">TRIB3-2</text>
<text x="510.2" y="636.5" font-size="13.6" font-weight="bold" fill="#000" text-anchor="middle" transform="rotate(-90 510.2 636.5)">Percentage (%)</text>
<rect x="625.2" y="625.4" width="8.4" height="3.9" fill="none" stroke="#7a7a7a" stroke-width="1.3"/>
<text x="640" y="630.1" font-size="8" font-weight="bold" fill="#333" text-anchor="start">G0/G1</text>
<rect x="625.2" y="633.5" width="8.4" height="3.9" fill="none" stroke="#1d4678" stroke-width="1.3"/>
<text x="640" y="638.2" font-size="8" font-weight="bold" fill="#333" text-anchor="start">S</text>
<rect x="625.2" y="641.6" width="8.4" height="3.9" fill="none" stroke="#f7921f" stroke-width="1.3"/>
<text x="640" y="646.3" font-size="8" font-weight="bold" fill="#333" text-anchor="start">G2/M</text>
<defs><radialGradient id="p1" cx="50%" cy="50%" r="50%"><stop offset="0" stop-color="#e2ebe6"/><stop offset="0.9" stop-color="#dbe6e1"/><stop offset="1" stop-color="#cfd9d4"/></radialGradient><linearGradient id="p2" x1="0" y1="0" x2="0" y2="1"><stop offset="0" stop-color="#d2d2ca"/><stop offset="0.38" stop-color="#d0dcd6"/><stop offset="1" stop-color="#cce0da"/></linearGradient><radialGradient id="p3" cx="50%" cy="50%" r="50%"><stop offset="0" stop-color="#f1efe6"/><stop offset="0.9" stop-color="#eeebe0"/><stop offset="1" stop-color="#e2dfd4"/></radialGradient><radialGradient id="p4" cx="50%" cy="50%" r="50%"><stop offset="0" stop-color="#e1ebea"/><stop offset="0.9" stop-color="#dce7e6"/><stop offset="1" stop-color="#cdd8d8"/></radialGradient><linearGradient id="p5" x1="0" y1="0" x2="1" y2="0"><stop offset="0" stop-color="#dcd8d2"/><stop offset="0.5" stop-color="#e0e2de"/><stop offset="1" stop-color="#dfe8e6"/></linearGradient><radialGradient id="p6" cx="50%" cy="50%" r="50%"><stop offset="0" stop-color="#e0eae9"/><stop offset="0.9" stop-color="#dce7e6"/><stop offset="1" stop-color="#cfd9d9"/></radialGradient></defs>
<circle cx="91.8" cy="795.8" r="49.65" fill="url(#p1)" stroke="#8a8a8a" stroke-width="0.7"/>
<path d="M115.47 787.88h0M125.46 771.77h0M69.4 809.23h0M97.7 790.34h0M81.25 775.62h0M126.01 787.19h0M80.92 761.4h0M95.76 752.04h0M90.35 800h0M120.01 812.77h0M100.17 831.82h0M115.13 829.4h0M93.35 805.61h0M80.02 804.4h0M120.81 814.81h0M59.76 817.27h0M76.45 794.41h0M89.9 782.67h0M48 791.72h0M120.85 796.21h0M47.06 812.98h0M138.55 805.08h0M81.75 836.87h0M133.32 819h0M114.31 766.9h0M83.27 807.52h0M103.15 820.19h0M74.81 755.31h0M123.51 760.59h0M80.87 783.74h0M99.08 838.66h0M65.51 826.88h0M104.98 827.72h0M86.32 809.23h0M106.48 823h0M120.86 813.46h0M65.31 806.8h0M139.53 789.18h0M108.67 810.22h0M48.87 788.27h0M96.32 809.81h0M129.22 825.72h0M134.56 803.6h0M94.04 782.55h0M114.67 787.2h0M126.11 791.27h0M80.36 763.37h0M48.23 801.93h0M104.15 815h0M70.21 821.27h0M89.93 752.06h0M118.63 826.18h0M111 811.13h0M93.31 790.38h0M81.91 818.17h0M107.92 833.23h0M104.25 816.95h0M95.58 761.68h0M92.28 805.75h0M78.2 802.36h0M121.08 785.41h0M57.36 821.97h0M94.49 835.19h0M89.06 776.1h0M116.69 765.89h0M132.7 799.91h0M70.86 803.54h0M68.78 773.57h0M132.55 812.66h0M111.52 781.65h0M109.95 797.13h0M81.74 816.65h0M78.95 814.99h0M84.07 836.74h0M84.05 758.83h0M94.68 772.93h0M94.97 830.91h0M114.84 795.69h0M117.59 801.89h0M107.99 766.47h0M59.12 816.49h0M90.33 843.9h0M97.54 800.01h0M108.58 762.81h0M87.71 792.78h0M107.93 836.67h0M129.61 803.95h0M95.46 790.24h0M68.97 824.32h0M67.23 785.7h0M130.15 796.53h0M98.77 843.82h0M101.46 768.83h0M136.34 811.23h0M54.64 773.38h0M76.28 826.55h0M107.54 782.14h0M84.62 833.29h0M134.63 786.42h0M59.75 827.31h0M89.72 825.06h0M95.21 824.85h0M122.45 796.65h0M112.12 816.18h0M123.6 774.89h0M99.94 820.46h0M97.98 822.39h0M73.59 824.18h0M59.09 807.69h0M96.43 783.27h0M117.3 786.8h0M119.83 817.73h0M89.6 795.54h0M118.32 804.18h0M47.09 779.16h0M68.97 777.83h0M65 828.99h0M66.32 831.75h0M121.58 832.29h0M131.66 784.35h0M77.06 835.3h0M105.52 805.23h0M101.14 765.86h0M92.03 838.34h0M97.47 802.84h0M53.16 791.44h0M110.45 771.25h0M51.38 770.79h0M92.56 801.82h0M85.38 841.55h0M78.91 832.44h0M108.8 814.93h0M84.74 768.25h0M66.79 769.95h0M64.17 808.07h0M79.96 797.14h0M118.55 820.19h0M82.71 810.39h0M68.98 818.76h0M83.6 836.96h0M81.74 801.38h0M78.87 820.81h0M109.43 780.45h0M77.42 839.46h0M115.24 773.94h0M59.98 814.22h0M73.33 816.27h0M97.76 839.6h0M110.99 803.77h0M55.11 801.85h0M57.1 779.06h0M76.69 789.78h0M88.72 826.19h0M45.85 807.55h0M70.31 830.37h0M107.79 836.7h0M133.94 780.53h0M69.1 806.11h0M98.28 822.42h0M61.05 781.02h0M80.67 811.8h0M128.88 769.17h0M84.35 780.61h0M80.69 795.03h0M106.45 804.07h0M95.62 828.52h0M86.92 837.12h0M98.84 839.76h0M88.04 794.1h0M127.88 828.22h0M54.42 824.3h0M109.92 768.3h0M101.25 782.01h0M81.56 799.83h0M115.4 793.48h0M103.53 768.45h0M61.76 810.02h0M68.72 834.31h0M130.92 780.18h0M133.73 777.29h0M68.11 763.87h0M96.97 816.84h0M60.08 796.16h0M89.89 770.23h0M106.72 838.25h0M115.94 777.41h0M81.62 755.16h0M129.59 796.46h0M128.31 774.34h0M106.35 821.24h0M127.24 792.27h0M53.11 792.83h0M49.85 819.96h0M114.27 838.98h0M59.85 789.93h0M62.57 818.4h0M95.48 836.79h0M103.67 804.9h0M89.35 818.93h0M128.35 805.22h0M102.32 757.39h0M67.44 791.32h0M106.51 837.56h0M52.75 797.88h0M63.09 782.79h0M95.88 812.33h0M65.82 812.85h0M99.35 818.41h0M88.81 799.12h0M108.22 815.59h0M55.09 795.76h0M73.6 803.58h0M71.35 833.51h0M117.06 788.99h0M54.29 804.12h0M73.88 787.04h0M71.52 833.3h0M97.94 832.7h0M53.87 776.38h0M118.35 813.15h0M126.32 816.42h0M105.31 810.27h0M111.38 822.81h0M59.95 770.48h0M124.09 785.52h0M132.86 780.07h0M55.24 816.42h0M76.54 827.82h0M138.42 788h0M132.57 804.49h0M48.82 780.76h0M63.65 792.6h0M70.22 767.45h0M72.98 768.83h0M67.21 780.43h0M84.09 804.8h0M71.93 815.84h0M80.42 794.63h0M98.74 833.02h0M139.86 787.57h0M133.5 786.32h0M119.97 816.94h0M135.14 813.88h0M89.1 826.92h0M52.61 796.7h0M54.85 813.51h0M79.76 798.95h0M52.29 822.53h0M68.81 792.92h0M94.75 804.54h0M113.73 773.59h0M96.66 775.88h0M122.98 778.5h0M52.99 814.03h0M107.12 803.97h0M140.09 790.05h0M121.77 790.77h0M74.9 836.69h0M90.68 840.12h0M130.17 771.42h0M60.13 814.05h0M125.89 763.53h0M52.38 806.23h0M96.97 815.98h0M87.48 808.44h0M96.45 835.43h0M66.75 792.27h0M109.58 816.59h0M87.19 769.87h0M78.25 815.03h0M127.16 821.5h0M96.93 754.17h0M55.44 766.5h0M113.61 775.75h0M92.7 804.27h0M53.38 807.85h0M69.28 795.98h0M93.12 830.08h0M99.09 773.49h0M87.47 839.38h0M131.67 798.36h0M130.49 821.91h0M54.94 807.25h0M126.61 804.91h0M75.79 815.9h0M78.29 832.88h0M83.04 778.95h0M85.66 823.57h0M91.11 831.11h0M93.85 812.04h0M57.32 803.09h0M86.62 773.47h0M74.15 833.17h0M110.64 804.86h0M88.52 840.68h0M81.92 839.35h0M109.78 804.33h0M94.49 804.85h0M118.69 825.94h0M91.46 843.72h0M136.77 788.69h0M101.28 793.85h0M105.81 833.53h0M114.42 799.08h0M118.04 782.78h0M67.07 820.64h0M67.81 832.67h0M121.59 820.4h0M111.51 823.78h0M114.71 803.84h0M86.11 832.35h0M100.24 812.31h0M77.06 840.69h0M60.58 798.24h0M95.27 777.93h0M95.15 785.43h0M123.45 791.2h0M65.82 823.42h0M98.22 790.35h0M126.3 821.91h0M115.55 822.6h0M97.33 842.44h0M46.21 806.81h0M114.22 826.8h0M129.25 795.49h0M135.9 793.95h0M77.37 752.01h0M99.95 770.44h0M62.05 820.46h0M62.38 759.95h0M108.93 799.41h0M93.66 790.24h0M63.44 830.27h0M102.02 787.39h0M68.13 805.05h0M62.68 816.75h0M89.11 793.16h0M72.47 782.58h0M70.2 775.63h0M115.75 796.11h0M118.89 791.09h0M136.64 791.58h0M57.14 809.86h0M72.94 791.54h0M124.19 823.81h0M121.44 813.43h0M85.78 811.67h0M99.97 756.1h0M64.25 827.75h0M123.83 795.04h0M122.32 791.17h0M75.25 837.85h0M94.61 822.61h0M54.9 780.92h0M74.54 772.14h0M66.03 792.84h0M60.12 782.45h0M119.89 822.44h0M62.82 771.61h0M137.06 787.33h0M62.51 771.19h0M46.5 784.01h0M51.1 818.34h0M110.72 827.5h0M84.98 834.98h0M75.07 789.26h0M86.44 813.92h0M133.24 787.44h0M89.28 775.39h0M106.57 784.67h0M54.31 820.49h0M101.43 832.32h0M108.69 783.16h0M62.3 802.02h0M136.84 794.75h0M88.24 806.19h0M65.95 795.72h0M69.45 837.04h0M55.87 806.85h0M66.87 836.43h0M65.99 774.36h0M62.44 781.44h0M128.31 827.78h0M121.84 794.13h0M102.45 829.61h0M110.27 817.15h0M118.91 834.45h0M50.45 798.38h0M73.74 819.25h0M101.1 812.54h0M65.7 790.48h0M67.93 808.32h0M86.98 805.67h0M88.83 778.13h0M95.47 760.7h0M82.55 812.32h0M100.13 811.8h0M67.59 830.81h0M120.13 818.3h0M100.32 835.18h0M106.41 804.3h0M89.64 787.32h0M110.11 805.11h0M121.21 833.9h0M102.76 821.21h0M78.51 825.42h0M124.73 772.97h0M57.23 825.62h0M85.13 822.51h0M97.39 813.34h0M94.79 795.55h0M80.71 780.72h0M98.09 834.93h0M82.36 832.82h0M90.29 757.19h0M90.47 804.66h0M64.99 827.04h0M122.95 769.55h0M83.1 803.15h0M94.96 763.51h0M53.42 822.15h0M108.08 821.62h0M88.8 762.95h0M82.87 837.6h0M102.74 828.07h0M99.57 840.2h0M80.69 839.89h0M74.26 818.21h0M102.71 788.37h0M83.6 806.66h0M101.1 781.92h0M115.27 838.14h0M78.2 825.55h0M74.84 759.57h0M54.35 788.82h0M54.7 825.1h0M117.56 802.09h0M69.91 789.66h0M97.35 843.67h0M96.06 820.14h0M57.98 811.65h0" stroke="#3d3870" stroke-width="0.7" stroke-linecap="round" stroke-opacity="0.3"/>
<path d="M119.88 794.76h0M76.92 788.3h0M125.01 789.45h0M76.89 820.74h0M111.01 773.07h0M51.85 820.33h0M105.64 781.05h0M125.64 783.36h0M52.07 776.45h0M128.59 817.61h0M71.52 838.62h0M112.44 800.4h0M103.99 825.91h0M60.21 772.11h0M82.27 828.54h0M98.35 804.58h0M71.7 780.66h0M81.54 828.81h0M121.22 821.58h0M109.01 817.86h0M89.65 818.75h0M109.34 786.69h0M63.18 815.52h0M88.71 779.61h0M114.65 819.85h0M101.92 781.46h0M103.67 823.56h0M96.17 830.49h0M87.43 820.36h0M110.03 764.42h0M133.3 807.51h0M128.38 816.82h0M113.6 818.95h0M71.38 837.85h0M47.53 797.51h0M127.1 804.06h0M68.79 831.12h0M111.31 815.27h0M128.04 780.64h0M48.82 815.18h0M77.69 810.72h0M114.41 806.86h0M62.79 781.59h0M85.88 799.99h0M53.1 812.87h0M49.55 778.28h0M129.47 810.69h0M76.04 781.76h0M112.56 760.86h0M85.81 828.87h0M82.66 800.24h0M93.94 760.7h0M125.73 799.17h0M113.84 792.3h0M112.01 769.94h0M71.88 837.01h0M68.55 837.4h0M61.34 803.31h0M127.67 789.69h0M82.4 830.32h0M71.6 757.76h0M96.77 840.78h0M130.36 796.77h0M107.23 818.96h0M122.04 804.65h0M118.92 805.59h0M88.25 813.3h0M52.47 805.13h0M55.5 797.23h0M105.76 818.7h0M136.03 803.26h0M120.14 818.63h0M131.12 818.47h0M73.28 823.69h0M97.98 812.52h0M128.27 795.65h0M87.69 841.54h0M124.74 798.24h0M116.47 820.42h0M84.12 797.26h0M111.52 794.12h0M84.88 826.72h0M135.02 804.34h0M116.12 831.41h0M61.59 827.78h0M110.85 792.04h0M107.74 818.2h0M110.29 811.79h0M77.31 820.84h0M101.87 800.3h0M84.78 775.79h0M121.5 823.6h0M71.27 796.01h0M105.99 836.47h0M70.6 822.52h0M100.17 759.74h0M139.52 803.85h0M69.57 837.94h0M86.89 840.91h0M72.76 828.18h0M79.89 822.46h0M63.2 779.45h0M69.9 814.64h0M92.36 840.47h0M132.32 813.63h0M89.76 776.71h0M72.79 826.45h0M116.63 787.43h0M55.93 792.64h0M98.18 843.59h0M97.95 809.39h0M127.91 824.14h0M83.8 793.58h0M106.15 801.5h0M117.81 812.16h0M105.52 839.59h0M63.47 789.21h0M129.45 818.89h0M102.45 838.6h0M56.4 815.19h0M64.85 772.73h0M111.43 794.86h0M116.63 815.92h0M109.21 836.35h0M95.97 793.02h0M79.69 791.66h0M82.12 824.68h0M54.17 767.13h0M64.28 828.85h0M71.75 819.2h0M130.7 812.08h0M77.1 836.36h0M64.38 782.19h0M133.61 817.51h0M69.03 821.6h0M73.42 771.03h0M64.19 815.31h0M50.81 813.46h0M112.31 769.98h0M95.46 833.95h0M105.11 793.73h0M78.9 795.81h0M110.77 833.37h0M133.65 775.6h0M126.96 779.83h0M99.38 830.71h0M56.52 787.3h0M114.7 814.33h0M45.11 801.23h0M58.58 808.98h0M72.76 820.52h0M88 784.87h0M101.5 792.64h0M80.28 791.39h0M55.9 794.03h0M62.48 820.39h0M59.78 804.59h0M124.94 800.6h0M108.8 818.54h0M104.22 821.02h0M61.39 777.23h0M75.23 840.85h0M86.85 839.94h0M71.18 791.95h0M73.94 796.81h0M82.1 818.2h0M70.96 793.36h0M116.81 771.13h0M130.9 781.8h0M88.22 784.1h0M101.09 826.51h0M88.85 810.14h0M55.2 796.05h0M77.93 799.17h0M84.13 817.67h0M136.38 797.42h0M121.63 804.94h0M78.59 828.71h0M83.56 828.32h0M87.32 779.02h0M51.9 768.71h0M87.46 799.27h0M86.64 835.82h0M121.84 829.52h0M88.38 775.67h0M71.91 813.44h0M133.94 772.82h0M104.28 820.21h0M46.35 797.78h0M102.71 757.45h0M92.77 781.2h0M76.86 816.09h0M88.41 831.21h0M124.13 794.27h0M87.68 786.95h0M96 802.08h0M87.02 802.78h0M83.71 828.71h0M93.52 793.2h0M139.54 802.85h0M50.66 790.75h0M63.47 817.9h0M108.84 818.63h0M77.63 790.12h0M63.97 824.4h0M68.33 781.32h0M123.14 831.97h0M106.04 817.06h0M116.27 788.61h0M90.96 779.49h0M110.15 811.4h0M121.95 824.9h0" stroke="#3d3870" stroke-width="0.5" stroke-linecap="round" stroke-opacity="0.3"/>
<path d="M60.67 794.21h0M76.48 787.22h0M98.85 832.77h0M93.34 804.52h0M84.7 793.73h0M64.55 791.75h0M110.07 797.15h0M91.69 795.89h0M139.35 805.72h0M56.41 826.48h0M62.97 804.9h0M48.7 806.63h0M130.81 794.06h0M106.24 764.94h0M61.83 791.83h0M136.57 784.57h0M103.59 795.7h0M79.25 831.89h0M58.13 820.8h0M109.39 815.67h0M103.88 829.59h0M111.07 822.77h0M105.41 824.37h0M57.04 820.46h0M94.09 789.65h0M88.95 813.93h0M86.73 823.43h0M87.28 801.91h0M59.94 796.55h0M83.72 839.27h0M88.04 844.38h0M86.22 789.04h0M98.59 822.24h0M102.75 794.95h0M121.83 815.37h0M107.02 778.22h0M74.27 806.63h0M101.41 835.76h0M91.09 791.64h0M102.61 826.36h0M72.11 838.73h0M127.67 805.29h0M73.52 791.67h0M96.45 777.59h0M60.49 781.3h0M94.85 830.85h0M80.74 806.69h0M118.05 825.95h0M137.93 795.78h0M64.73 814.46h0M100.34 837.41h0M96.15 833.86h0M85.15 762.38h0M73.68 821.86h0M60.09 804.06h0M97.33 806.39h0M112.35 830.81h0M99.6 780.36h0M56.64 827.67h0M134.86 790.27h0M104.31 788.39h0M65.33 770.4h0M50.47 817.25h0M89.32 812.59h0M81.14 804.96h0M113.11 784.91h0M110.89 799.65h0M74.41 809.25h0M98.18 757.68h0M105.49 794.33h0M83.28 777.57h0M101.32 836.71h0M109.55 802.41h0M73.69 774.51h0M128.99 783.94h0M122.45 804.88h0M82.39 802.23h0M126.66 765.17h0M60.41 796.2h0M103.26 766.81h0M137.7 782.64h0M63.29 820.17h0M92.22 788.14h0M86.06 823.75h0M86.12 776.42h0M82.01 826.43h0M101.74 834.84h0M65.14 827.12h0M91.05 827.39h0M95.71 810.94h0M62.12 798.53h0M110.53 791.74h0M95.52 827.51h0M117.06 772.75h0M125.37 823.07h0M64.11 807.49h0M116.15 812.74h0M138.74 798.22h0M114.72 808.9h0M136.88 779.59h0M64.87 807.68h0M48.79 793.75h0M128.68 797.87h0M66.61 757.66h0M131.35 819.41h0M86.03 801.8h0M89.04 833h0M97.75 844.07h0M114.27 769.34h0M75.72 776.87h0M111.96 818.99h0M107.04 823.07h0M53.54 802.95h0M70.36 796.52h0M76.79 839.18h0M74.3 820.29h0M73.01 757.18h0M56.13 825.16h0M110.09 774.06h0M56.69 771.34h0M89.52 807.25h0M68.31 793.27h0M114.79 801.5h0M115.18 833.46h0M114.04 780.74h0M64.79 797.71h0M113.83 816.77h0M88.44 805.35h0M89.59 834.89h0M95.78 840.43h0M54.18 809.64h0M114.47 800.93h0M67.93 829.96h0M87.77 789.23h0M79.36 760.99h0M84.59 767.13h0M99.28 818.04h0M96.42 817.7h0M77.78 776.42h0M73.43 838.47h0M82.36 827.5h0M83.15 842.38h0M95.24 788.52h0M124.32 823.04h0M116.64 774.42h0M88.16 818.71h0M47.97 808.9h0M126.19 813.87h0M75.43 809.06h0M97.87 808.06h0M95.61 806.9h0M100.42 765.93h0M137.64 790.95h0M78.6 838.37h0M64.95 833.55h0M133.63 798.64h0M74.02 840.69h0M99.13 839.95h0M124.32 822.14h0M134.95 792.82h0M88.04 819.13h0M97.5 769.5h0M69.82 763.71h0M74.16 821.6h0M116.33 809.76h0M73.42 832.48h0M123.03 790.26h0M119.57 795.15h0M106.2 825.2h0M94.34 796.27h0M108.61 821.72h0M138.18 785.62h0M113.01 839.56h0M123.82 826.41h0M114.75 821.58h0M105.77 778.17h0M73.34 795.79h0M69.94 834.78h0M72.63 802.61h0M97.46 800.07h0M87.22 827.34h0M95.19 811.85h0M71.65 835.04h0M69.83 823.72h0M95.49 761.51h0M91.97 830.5h0M83.18 835.03h0M97.79 794.36h0M94.46 793.89h0M77.04 821.35h0M67.55 814.3h0M96.75 780.47h0M72.45 788.16h0M88.87 842.96h0M82.83 784.82h0M101.41 755.63h0M87.54 813.05h0M129.63 818.99h0M122.58 773.22h0M115.12 794.81h0M55.11 817.93h0M128.93 781.13h0M78.61 834.75h0M118 820.77h0M57.92 791.44h0M68.36 793.99h0M126.46 818.08h0M90.64 748.8h0M117.1 825.83h0M80.38 783.14h0M54.64 823.1h0M108.59 772.46h0M97.45 824.74h0M97.99 842.06h0M87.04 803.05h0M92.57 833.77h0M85.02 771.68h0M109.18 813.96h0M72.16 763.3h0M117.8 768.97h0M48.8 801.57h0M138.75 803.85h0M98.04 755.46h0M92.2 789.39h0M55.7 785.54h0M50.24 784.62h0M99.79 824.74h0M62.49 830.2h0M60.56 784.08h0M74.3 821.55h0M91.27 834.52h0M128.03 821.88h0M66.6 790.58h0M70.2 815.82h0M100.85 838.07h0M69.18 831.58h0M74.35 810.66h0M121.17 792.34h0M89.36 842.81h0M117.34 770.86h0M79.18 837.29h0M111.86 830.3h0M127.99 793.13h0M103.35 805.41h0M110.96 827.73h0M71.26 836.22h0M51.56 794.51h0" stroke="#3d3870" stroke-width="0.9" stroke-linecap="round" stroke-opacity="0.3"/>
<path d="M91.93 797.06h0M75.96 760.18h0M80.67 837.68h0M99.96 833.64h0M126.4 824.9h0M47.88 776.95h0M88.87 802.63h0M125.98 812.62h0M45.13 792.05h0M91.94 844.16h0M55.34 816.69h0M59.58 801.59h0M70.56 805.73h0M105.29 839.64h0M91.73 774.61h0M69.75 818.53h0M71.78 760.04h0M92.8 830.27h0M77.76 806.27h0M105.39 825.75h0M53.43 801.35h0M92.03 796.06h0M93.14 825.81h0M119.61 779.76h0M95.36 804.46h0M95.45 826.59h0M122.12 811.19h0M117.71 830.08h0M93.89 770.04h0M59.33 816.45h0M78.04 764.16h0M101.49 829.86h0M93.86 755.82h0M118.35 829.14h0M79.53 820.31h0M111.45 838.52h0M131.72 794.07h0M132.82 786.69h0M112.55 820.57h0M105.38 841.93h0M74.15 828.09h0M71.68 752.5h0M78.17 825.71h0M91.1 798.04h0M95.67 771.61h0M54.97 777.24h0M53.82 765.95h0M58.23 821.45h0M85.81 808.89h0M89.21 833.46h0M105.4 786.77h0M45.75 800.09h0M82.82 836.49h0M95.53 818.29h0M129.57 806.19h0M122.98 800.41h0M90.88 832.38h0M111.42 795.97h0M125.18 767.47h0M123.07 824.05h0M97.64 843.97h0M96.93 824.2h0M58.7 791.13h0M100.75 816.81h0M95.14 805.99h0M109.64 818.91h0M121.94 827.94h0M109.08 793.9h0M89.98 824.46h0M96.51 801.13h0M55.36 791.36h0M45.12 801.76h0M129.2 786.41h0M121.67 818.33h0M81.21 831.95h0M102.31 750.96h0M96.59 808.9h0M46.81 804.36h0M55.33 779.73h0M116.93 769.9h0M100.36 825.13h0M110.88 802.43h0M48.61 807.92h0M96.25 800.36h0M65.24 773.12h0M116.57 755.21h0M120.57 800.4h0M117.14 774.07h0M83.53 791.08h0M65.47 829.46h0M130.68 805.71h0M63.69 793.06h0M109.18 839.11h0M61.13 772.88h0M101.53 835.71h0M100.78 779.05h0M53.33 776h0M73.38 822.38h0M91.75 799.84h0M74.74 833.14h0M64.22 781.16h0M132.64 792.59h0M121.84 787.7h0M128.73 804.85h0M68.78 830.33h0M76.3 827.32h0M88.02 769.89h0M103.28 837.33h0M84.01 805.69h0M49 802.26h0M79.05 797.43h0M107.69 790.65h0M122.71 815.71h0M88.73 813.04h0M74.46 767.85h0M137.65 783.38h0M96.68 802.09h0M133.77 773.04h0M100.01 809.42h0M88.25 767.45h0M54.75 827.49h0M73.05 770.24h0M83.36 839.13h0M118.75 814.24h0" stroke="#3d3870" stroke-width="1.1" stroke-linecap="round" stroke-opacity="0.55"/>
<path d="M114.07 826.98h0M114.6 794.01h0M100.44 776.95h0M135.31 812.03h0M103.04 761.86h0M136.61 777.48h0M56.79 815.24h0M79.25 751.24h0M118.4 769.58h0M68.41 791.45h0M99.71 810.89h0M95.61 752.76h0M48.8 815.65h0M72.7 835.53h0M81.61 765.98h0M77.48 765.31h0M55.08 783.79h0M47.16 782.81h0M118.44 774.43h0M79.81 828.51h0M131.11 814.36h0M94.29 797.41h0M136.68 785.23h0M114.66 820.51h0M112.56 818.07h0M49.48 787.43h0M88.6 761.85h0M91.4 790.89h0M112.16 767.96h0M73.57 815.71h0M120.55 762.71h0M77.23 820.88h0M121.23 834.04h0M105.94 837.57h0M66.32 755.97h0M55.02 774.04h0M63.82 833.38h0M81.96 811.16h0M103.24 774.17h0M111 826.5h0M93.31 830.37h0M79.48 766.76h0M96.26 822.04h0M87.87 794.87h0M126.93 799.76h0M75.09 751.62h0M137.11 796.46h0M103.82 826.04h0M82.71 782.23h0M83.42 761.95h0M83.07 803.13h0M48.58 792.75h0M77.18 785.04h0M82.82 808.51h0M125.08 827.41h0M122.14 792.88h0M104.88 838.62h0M94.05 790.33h0M89.58 811.61h0M124.34 813.63h0M84.2 770.79h0M114.41 774.2h0M100.7 787.59h0M121.96 818.76h0M58.2 796.34h0" stroke="#3d3870" stroke-width="1.5" stroke-linecap="round" stroke-opacity="0.55"/>
<path d="M56.73 774.17h0M68.78 767.02h0M69.6 769.84h0M120.27 806.07h0M131.1 782.48h0M102.25 809.32h0M108.06 803.69h0M79.72 783.76h0M79.72 787.85h0M54.64 822.66h0M80.53 805.99h0M130.72 771.6h0M111.19 824.11h0M69.06 817.91h0M128.24 805.04h0M83.82 784.7h0M78.28 767.68h0M93.09 788.16h0M130.42 790.41h0M92.64 787.2h0M121.91 774.65h0M61.66 832.72h0M138.09 791.11h0M97.83 766.95h0M74.48 786.71h0M57.97 787.43h0M121 762.97h0M92.6 761.58h0M81.33 820.79h0M66.37 834.63h0M122.33 810.01h0M128.15 775.27h0M92.66 798.12h0M139.42 805.9h0M127.87 817.16h0M110.09 830.53h0M101 801.16h0M63.13 805.39h0M122.63 784.78h0M121.71 830.34h0M77.7 787.71h0M115.08 771.46h0M76.09 827.33h0M93.78 812.59h0M135.32 780.21h0M103.32 820.76h0M106.87 799.28h0M78.38 761.7h0M114.66 811.39h0M97.83 835.09h0M73.14 800.15h0M60.26 772.23h0M61.75 773.66h0M129.22 807.49h0M124.87 807.22h0M110.47 766.46h0M86.26 816.44h0M82.86 826.01h0M117.16 781.51h0M130.45 766.04h0M88.14 828.36h0M69.78 799.34h0M134.37 775.99h0M90.99 840.2h0M55.89 821.52h0M63.55 790.54h0M102 804.41h0M82.34 832.11h0M130.06 766.99h0M116.7 806.67h0M72 814.49h0M49.08 805.15h0M114.33 827.34h0M51.22 808.77h0M69.93 812.78h0M106.27 776.33h0M96.95 791.01h0M102.71 777.46h0M103.93 760.43h0M86.62 822.32h0M107.67 830.85h0M85.74 821.76h0M66.53 809.96h0M124.68 821.12h0M71.89 755.01h0M66.23 754.56h0M96.41 827.12h0M123.46 766.17h0M54.14 822.91h0M129.79 804.21h0M103.34 813.46h0M103.72 826.02h0M101.31 832.18h0M124.51 774.83h0M73.18 800.89h0M89.89 830.3h0M78.07 829.4h0M51.65 818.13h0M117.68 772.03h0M92.41 819.41h0M93.46 786.33h0M90.13 752.71h0M69.51 837.17h0M86.55 833.6h0M127.19 774.94h0M87.95 786.8h0M69.56 760.06h0M59.48 786.32h0M120.89 764.43h0" stroke="#3d3870" stroke-width="0.9" stroke-linecap="round" stroke-opacity="0.55"/>
<path d="M117.34 791.78h0M116.11 797h0M83.53 800.46h0M81.92 787.4h0M50.8 773.07h0M120.27 824.01h0M120.82 823.83h0M60.14 790.29h0M92.11 772.54h0M82.37 795.13h0M124.54 774.72h0M54.86 819.09h0M72.84 828.04h0M61.15 793.48h0M57.32 772.83h0M68.63 811.24h0M82.49 790.42h0M74.55 836.32h0M46.75 783.56h0M113.35 786.42h0M95.87 815.42h0M82.62 782.84h0M69.78 792.22h0M103.63 803.15h0M96.16 843.49h0M118.87 768.2h0M83 804.76h0M64.71 772.19h0M82.52 841.69h0M86.06 830.36h0M105.19 776.6h0M46.7 795.61h0M96.27 789.22h0M98.6 756.37h0M62.43 764.79h0M132.23 769.1h0M79.12 814.2h0M76.37 754.33h0M120.57 803.61h0M68.08 774.63h0M129.58 820.16h0M67.03 778.94h0M132.56 817.28h0M96.72 835.84h0M108.04 784.71h0M49.96 787.12h0M94.23 829.83h0M76.42 771.27h0M70.48 753.01h0M69.15 769.69h0M90.76 834.34h0M67.36 769.2h0M93.64 766.52h0M54.94 812.04h0M127.98 808.74h0M88.17 768.45h0M131.43 809.61h0M118.42 816.81h0M68.74 817.87h0M97.18 750.27h0M94.02 821.43h0M75.17 775.86h0M111.64 803.82h0M126.23 820.88h0M83.88 748.67h0M96.49 810.92h0M117.31 811.34h0M85.89 795.02h0M122.33 831.69h0M92.39 798.41h0M101.07 812h0M64.49 812.07h0M132.99 782.13h0M84.17 782.98h0M127.23 800.16h0M88.3 825.41h0M118.51 776.29h0M126.16 771.13h0M117.15 791.17h0M133.86 790.57h0M129.1 795.94h0M46.87 796.46h0M98.45 810.01h0M81.45 828h0M75.4 750.11h0M48.49 810.55h0M61.27 775h0M90.22 768.2h0M121.11 815.41h0M104.65 751.5h0M46.69 805.36h0M85.32 823.97h0M85.65 813.52h0M72.51 762.98h0M119.12 780.01h0M124.15 775.51h0M97.57 785.56h0M133.82 819.38h0M133.01 813.89h0M59.29 772.39h0M52.19 771.36h0M80.7 761.02h0M78.37 822.91h0M108.45 841.64h0M105.57 769.77h0M115.41 779.11h0M45 808.39h0M48.01 816.49h0M103.69 766.01h0M98.79 753.63h0M96.71 785.91h0M66 816.69h0M85.24 822.09h0M89.3 838.37h0M101.89 794.02h0M89.35 753.16h0M84.92 773.58h0M116.91 820.3h0M100.97 831.92h0M138.95 806.7h0M64.02 801.21h0M71.28 827.87h0" stroke="#3d3870" stroke-width="1.3" stroke-linecap="round" stroke-opacity="0.55"/>
<path d="M133.75 802.82h0M73.85 837.54h0M82 841.44h0M59.2 822.99h0M47.83 815.73h0M132.48 820.8h0M117.7 829.51h0M68.25 837.54h0M97.42 839.02h0M133.48 801.59h0M44.18 789.19h0M52.05 771.55h0M63.79 834.84h0M44.94 806.29h0M69.42 835.41h0M91.42 841.59h0M48.59 801.92h0M124.14 829.77h0M105.8 839.7h0M58.87 761.79h0M125.23 829.23h0M72.72 837.67h0M75.2 751.15h0M53.71 819.46h0M82.7 840.29h0M65.27 831.36h0M61.54 758.18h0M47.96 804.12h0M57.46 771.28h0M70.03 831.79h0" stroke="#3d3870" stroke-width="1.5" stroke-linecap="round" stroke-opacity="0.7"/>
<path d="M116.78 830.52h0M127.53 823.91h0M52.59 816.32h0M57.09 821.05h0M84.44 840.37h0M107.91 836.23h0M74.86 753.63h0M108.87 754.92h0M69.57 834.15h0M133.7 808.15h0M69.11 832.33h0M57.21 762.48h0M79.56 837.3h0M60.88 824.19h0M82.85 842.88h0M51.73 821.14h0M52.71 769.09h0M48.24 810.14h0M57.56 829.87h0M74.76 836.29h0M53.67 820.28h0" stroke="#3d3870" stroke-width="1.3" stroke-linecap="round" stroke-opacity="0.7"/>
<path d="M54.62 771.88h0M52.16 821.68h0M121.54 833.12h0M99.41 840.95h0M58.23 821.22h0M131.51 819.98h0M47.64 810.84h0M52.21 820.64h0M46.44 805.82h0M58.71 830.21h0M113.28 836.38h0M110.8 839.63h0M48.41 809.65h0M48.47 795.99h0M116.75 761.95h0M125.41 824.54h0" stroke="#3d3870" stroke-width="1.7" stroke-linecap="round" stroke-opacity="0.7"/>
<path d="M122.82 830.62h0M83.91 839.37h0M118.86 762.38h0M126.27 828.64h0M106.92 754.99h0M50.2 783.51h0M100.49 751.26h0M94.69 838.33h0M60.08 763.53h0M45.35 797.24h0M102.01 841.9h0M131.16 817.89h0M86.09 837.45h0M84.98 843.55h0M81.3 842.25h0M74.49 840.36h0M119.23 831.99h0M49.27 781.54h0M71.22 835.74h0M74.55 752.38h0M51.97 819.06h0M59.07 825.81h0M74.09 834.73h0M48.77 808.7h0M81.14 836.8h0M111.43 836.81h0M44.82 796.15h0M61.99 764.73h0M104.08 839.57h0M51.06 812.57h0M72.93 752.41h0M59.19 761.93h0M59.21 826.01h0M50.06 785.33h0M50.53 807.82h0" stroke="#3d3870" stroke-width="1.1" stroke-linecap="round" stroke-opacity="0.7"/>
<path d="M106.72 835.96h0M49.93 813.65h0M62.75 832.37h0M70.39 835.32h0M115.73 836.81h0M99.2 842.61h0M138.87 800.8h0M115.46 834.52h0" stroke="#3d3870" stroke-width="0.9" stroke-linecap="round" stroke-opacity="0.7"/>
<circle cx="194.7" cy="795.2" r="49.65" fill="url(#p2)" stroke="#8a8a8a" stroke-width="0.7"/>
<path d="M212.77 821.92h0M193.74 819.17h0M158.66 790.37h0M166.75 809.11h0M197.94 792.94h0M223.43 765.92h0M152.75 817.63h0M176.43 779.36h0M186.82 798.3h0M218.2 815.25h0M201.05 774.85h0M148.45 802.2h0M225.38 776.3h0M173.86 835.06h0M174.51 772.44h0M188.09 819.39h0M212.1 838.18h0M172.51 775.15h0M176.3 812.4h0M184.02 749.83h0M172.23 823.25h0M163.6 826.48h0M233.57 803.81h0M171.94 796h0M202.12 817.05h0M167.12 770.02h0M229.93 801.1h0M188.9 805.32h0M212.01 775.46h0M192.9 839.28h0M201.62 781.81h0M168.89 825.08h0M212.87 774.68h0M162.52 808.98h0M198.17 748.3h0M177.44 760.84h0M175.82 816.22h0M227.35 796.44h0M153.73 769.85h0M157.5 801.08h0M217.7 779.39h0M200.39 811.58h0M180.47 776.08h0M188.94 825.98h0M182.2 787.55h0M238.34 816.49h0M186.91 795.03h0M180.01 811.95h0M148.81 781.73h0M228.91 816.92h0M186.28 817.34h0M229.8 774.78h0M214.54 794.79h0M181.58 783.11h0M194.71 774.13h0M214.59 805.37h0M222.15 788.75h0M160.56 825.25h0M212.49 810.43h0M216.68 788.68h0M235.14 815.52h0M168.51 821.73h0M197.31 806.12h0M239.35 812.35h0M192.36 751.93h0M173.04 758.7h0M210.05 772.16h0M210.57 835.63h0M189.45 807.11h0M205.02 763.72h0M235.81 788.37h0M163.78 768.48h0M192.39 783.9h0M236.62 809.3h0M203.85 787.63h0M190.88 756.17h0M201.72 767.48h0M212.3 822.1h0M187.33 838.47h0M201.01 820.23h0M239.71 794.78h0M188.33 781.21h0M222.97 786.51h0M216.39 781.52h0M186.91 812.7h0M219.71 823.57h0M216.48 834.27h0M187.17 821.78h0M169.14 818.62h0M238.91 796.45h0M222.31 807.32h0M190.99 802.46h0M226.62 771.91h0M207.64 752.8h0M201.57 832.65h0M229.77 785.54h0M179.41 801.42h0M187.77 831.93h0M227.57 760.68h0M187.14 805.74h0M154.31 800.12h0M219.11 809.53h0M189.3 832.13h0M191.54 826.32h0M200.81 780.19h0M224 778.65h0M212.38 774.56h0M210.67 811.59h0M162.93 818.39h0M174.75 811.45h0M178.55 780.2h0M169.5 795.04h0M190.38 781.21h0M230.53 793.59h0M154.27 771.4h0M221.67 810.03h0M191.82 749.04h0M194.17 815.84h0M210.22 771.95h0M165.7 769.05h0M164.03 815.04h0M187.14 795.59h0M203.81 823.52h0M214.76 798.23h0M185.83 776.34h0M197.93 810.53h0M226.97 770.9h0M225.1 826.62h0M223.76 819.66h0M233.64 795.45h0M184.9 799.18h0M230.81 788.23h0M191.57 840.97h0M151.31 817.28h0M153.63 777.3h0M226.85 806.95h0M194.52 757.48h0M182.01 813.8h0M197.92 816.34h0M193.83 749.32h0M234.25 782.3h0M180.9 792.33h0M218.68 826.51h0M183.53 763.31h0M177.15 801.61h0M226.32 795.4h0M198.86 818.19h0M161.46 769.26h0M165.67 802.79h0M158.06 822.94h0M161.02 808.82h0M152.13 802.17h0M218.47 784.62h0M182.7 832.35h0M199.93 821.31h0M212.2 798.5h0M178.93 819.72h0M168.7 801.71h0M165.8 770.16h0M164.81 772.65h0M186.39 754.68h0M170.97 817.78h0M231.38 788.4h0M197.16 763.7h0M170.65 811.59h0M168.76 803.03h0M222.67 821.29h0M228.9 792.43h0M154.1 802.42h0M194.93 800.04h0M186.94 838.82h0" stroke="#403c6c" stroke-width="0.7" stroke-linecap="round" stroke-opacity="0.3"/>
<path d="M198.05 752.64h0M215.77 829.73h0M205.68 800.52h0M187.8 818.37h0M192.19 821.9h0M219.89 755.33h0M167.85 798.15h0M214.05 794.64h0M175.99 802.46h0M227.74 810.94h0M215.55 824.95h0M160.59 767.34h0M174.37 805.66h0M222.88 756h0M211.88 760.26h0M176.58 814.01h0M179.3 749h0M179.5 757.34h0M215.22 763.36h0M175.43 823.53h0M204.64 769.78h0M183.57 757.81h0M175.66 816.98h0M230.46 799.91h0M151.26 812.4h0M202.47 830.85h0M169.25 797.48h0M194.51 757.63h0M178.77 753.69h0M226.89 831.53h0M175.69 786.14h0M232.44 776.32h0M237.54 802.45h0M208.49 841.21h0M192.04 834.35h0M198.29 826.45h0M168.62 757.27h0M153.31 781.2h0M168.62 792.75h0M196.14 778.88h0M201.25 777.3h0M223.28 818.21h0M196.11 755.46h0M153.16 797.06h0M202.16 796.86h0M164.85 812.21h0M194.77 791.32h0M235.03 809.7h0M198.4 793.33h0M176.87 819.14h0M227.9 782.93h0M214.64 765.97h0M174.54 814.54h0M238.89 796.98h0M197.3 843.55h0M164.35 760.77h0M192.56 763.98h0M217.14 792.25h0M164.6 815.11h0M174.08 825.74h0M191.07 841.92h0M239.57 791.87h0M194.72 838.4h0M234.56 816.14h0M148.87 807.94h0M205.67 783.38h0M204.2 813.25h0M203.82 797.91h0M212.09 799.4h0M197.74 802.21h0M226.81 763.79h0M189.83 800.83h0M215.34 832.43h0M201.15 780.74h0M172.89 785.8h0M193.19 801.02h0M224.27 779.39h0M231.37 766h0M153.86 783.14h0M192.77 766.52h0M158.83 804.44h0M231.36 777.33h0M203.88 824.85h0M170.19 769.49h0M208.37 780.59h0M230.14 786.83h0M215.17 792.78h0M161.06 816.91h0" stroke="#403c6c" stroke-width="0.9" stroke-linecap="round" stroke-opacity="0.3"/>
<path d="M163.57 759.22h0M199.2 840.89h0M237 779.41h0M198.59 792.53h0M157.9 818.28h0M177.46 789.42h0M217.03 797.04h0M229.67 769.27h0M190.54 805.71h0M220.01 822.12h0M183.83 793.82h0M167.85 762.04h0M159.86 828.55h0M200.96 760.46h0M211.91 801.35h0M216.63 833.73h0M156.38 800.92h0M185.02 759.46h0M177.01 764.61h0M173.82 759.5h0M175.75 809.81h0M200.84 759.13h0M180.5 779.63h0M151.13 787.74h0M181.56 828.82h0M227.96 795.84h0M218.28 829.24h0M194.95 826.81h0M175.06 781.51h0M207.49 773.94h0M184.43 820.97h0M156.51 785.74h0M204.87 766.42h0M214.94 768.21h0M230.77 795.59h0M214.21 784.02h0M155.05 820.12h0M176.25 822.58h0M232.14 797.86h0M231.68 790.92h0M203.38 811.17h0M173.08 814.74h0M154.6 811.86h0M159.55 792.28h0M173.22 781.19h0M171.34 776.77h0M211.8 779.73h0M210.59 764.35h0M171.44 837.26h0M204.05 838.31h0M170.83 803.45h0M221.55 758.69h0M221.91 783.07h0M221.86 760.85h0M149.03 802.72h0M175 764.84h0M212.74 771.33h0M227.23 793.19h0M184.69 791.16h0M204.6 840.13h0M197.88 815.68h0M206.72 761.11h0M196.98 748.66h0M153.1 778.81h0M150.75 793.29h0M221.36 767.31h0M198.52 834.86h0M183.04 774.94h0M208.22 805.02h0M202.83 821.6h0M203.17 769.49h0M197.38 789.68h0M201.8 827.23h0M168.94 784.72h0M216.05 786.78h0M165.51 767.5h0M181.44 818.46h0M187.76 820.99h0M198.57 824.49h0M192.21 816.31h0M174.83 831.43h0M161.98 787.67h0M210.58 797.6h0M182.93 771.98h0M168.98 757.39h0M185.08 807.87h0M182 761.03h0M217.85 754.05h0M240.69 781.88h0M207.74 816.62h0M197.24 831.69h0" stroke="#403c6c" stroke-width="0.5" stroke-linecap="round" stroke-opacity="0.3"/>
<path d="M207.79 750.57h0M225.54 764.35h0M181.96 815.16h0M204.43 813.5h0M233.25 807.51h0M211.81 816.77h0M154.47 792.07h0M172.23 787.66h0M170.77 804.88h0M207.04 838.52h0M221.3 836.06h0M203.81 799.1h0M232.82 809.88h0M215.6 771.77h0M177.54 814.12h0M172.78 829.86h0M186.64 794.18h0M193.5 834.51h0M212.99 787.57h0M222.07 770.6h0M224.37 805.28h0M211.59 828.44h0M153.17 818.83h0M178.78 828.06h0M192.4 807.87h0M168.34 780.2h0M209.97 781.91h0M191.24 773.64h0M199.28 751.26h0M197.87 780.92h0M164.68 807.4h0M170.57 787.43h0M185.04 796.47h0M220.9 804.94h0M173.05 799.04h0M152.74 774.7h0M227.3 815.91h0M161.13 814.64h0M164.69 777.17h0M175.84 806.6h0M205.43 826.06h0M227.8 760.84h0M194.6 813.83h0M155.92 796.28h0M185.69 772.55h0M156.53 815.88h0M179.12 802.36h0M200.01 832.83h0M224.54 829.66h0M191.73 759h0M193.17 788.12h0M166.86 826.6h0M194.06 768.87h0M229.01 800.3h0M197.32 765.46h0" stroke="#403c6c" stroke-width="1.1" stroke-linecap="round" stroke-opacity="0.6"/>
<path d="M242.4 797.46h0M163.48 824.73h0M211.4 757.93h0M239.16 798.43h0M177.79 815.62h0M212 788.49h0M173.3 822.33h0M176.39 818.06h0M163.9 800.96h0M165.59 756.89h0M162.19 826.64h0M202.31 751.09h0M204.42 787.39h0M225.39 826.72h0M159.61 813.21h0M160.66 807.04h0M197.02 760.45h0M224.38 816.66h0M214.18 767.29h0M157.29 800.61h0M166.86 785.42h0M221.35 812.44h0M165.62 773.76h0M214.78 757.39h0M187.39 756.58h0M159.54 771.59h0M173.35 752.76h0M212.45 767.01h0M175.37 756.05h0M234.57 796.81h0M185.66 827.79h0M192.52 790.67h0M182.96 822.85h0M174.96 803.49h0M199.84 763.23h0M203.46 816.22h0M222.73 757.01h0M170.73 797.45h0M162.34 771.47h0M201.01 809.21h0M151.59 779.54h0M237.72 789.18h0M223.21 812.95h0M163.6 762.25h0M207.51 808.26h0M187.71 827.76h0M191.92 837.89h0M178.84 753.46h0M153.7 780.57h0M214.14 759.03h0M164.39 772.31h0M234.46 786.54h0M237.91 809.23h0M230.69 801.29h0M184.05 837.28h0M193.9 828.71h0M155.67 768.14h0M181.34 822.39h0M161.81 787.94h0M189.4 788.79h0M237.66 807.89h0M209.91 806.69h0" stroke="#403c6c" stroke-width="1.3" stroke-linecap="round" stroke-opacity="0.6"/>
<path d="M197.06 763.4h0M187.96 823.21h0M236.24 818.41h0M221.76 771.12h0M225.5 811.8h0M165.99 794.58h0M186.27 797.17h0M190.12 753.34h0M219.86 830.79h0M204.72 802.58h0M217.83 760.52h0M168.93 784.18h0M163.08 777h0M223.59 778.07h0M180.57 791.57h0M216.54 814.15h0M177.63 766.57h0M157.95 801.89h0M198.11 770.42h0M237.24 805.49h0M217.44 779.9h0M194.73 787.26h0M166.27 791.39h0M166.8 767.99h0M147.33 805.96h0M222.71 758.5h0M238.18 779.07h0M227.58 801.31h0M191.73 814.15h0M162.09 766.32h0M165.93 799.88h0M204.77 839.92h0M191.96 805.33h0M181.58 807.24h0M174.98 768.96h0M193.04 799.46h0M156.35 819.49h0M209.25 759.67h0M238.16 799.19h0M226.82 795.15h0M197.09 759.81h0M159.54 776.97h0M208.51 834.41h0M174.57 781.33h0M186.12 806.95h0M163.06 815.01h0M212.13 777.12h0M165.27 791.59h0M228.96 773.79h0M199.33 817.88h0M207.5 805.61h0M234.86 786.36h0M212.79 807.29h0M171.31 787.7h0M224.95 811.2h0M187.84 805.97h0M227.14 795.68h0M242 804.47h0M238.91 807.93h0" stroke="#403c6c" stroke-width="0.9" stroke-linecap="round" stroke-opacity="0.6"/>
<path d="M182.14 804.57h0M175.62 752.02h0M177.47 805.45h0M205.82 834.82h0M183.68 784h0M208.17 840.47h0M233.1 807.69h0M191.14 830.87h0M206.43 835.5h0M237.36 776.05h0M190.82 769.6h0M184.69 834.46h0M181.84 840.96h0M224.44 820.89h0M203.39 842.69h0M240.34 791.05h0M163.15 804.89h0M195.07 800.32h0M206.65 836.38h0M199.59 789.37h0M217.36 832.48h0M164 822.08h0M232.94 803.76h0M147.38 806.26h0" stroke="#403c6c" stroke-width="1.5" stroke-linecap="round" stroke-opacity="0.6"/>
<path d="M157.63 773.78h0M236.6 812.06h0M154.88 776.71h0M170.88 836.23h0M185.85 841.7h0M172.14 835.44h0M161.51 763.4h0M239.88 802.38h0M150.94 790.35h0M155.98 772.18h0M180.43 749.33h0M239.88 787.27h0M149.87 793.77h0M205.35 838.86h0M235.27 769.74h0" stroke="#403c6c" stroke-width="1.3" stroke-linecap="round" stroke-opacity="0.7"/>
<path d="M222.18 830.5h0M240.69 800.84h0M216.07 752.62h0M241.6 803.11h0M232.29 774.82h0M182.76 840.42h0M231.34 774.47h0" stroke="#403c6c" stroke-width="1.5" stroke-linecap="round" stroke-opacity="0.7"/>
<path d="M164.61 761.92h0M185.65 750.34h0M181.21 753.21h0M230.39 823.67h0M236.78 774.18h0M174.92 753.87h0M149.22 805.21h0" stroke="#403c6c" stroke-width="0.9" stroke-linecap="round" stroke-opacity="0.7"/>
<path d="M240.27 804.25h0M162.18 827.04h0M156.01 818.81h0M152.17 791.11h0M229.15 768.52h0M210.46 835.4h0M173.13 835.88h0M194.15 838.93h0M180.01 835.36h0M188.11 841.77h0M238.5 794.02h0" stroke="#403c6c" stroke-width="1.1" stroke-linecap="round" stroke-opacity="0.7"/>
<circle cx="296.1" cy="794.9" r="48.85" fill="url(#p3)" stroke="#8a8a8a" stroke-width="0.7"/>
<path d="M252.84 778.26h0M296.21 803.7h0M265.26 764.1h0M304.38 805.5h0M333.82 791.66h0M260.73 800.37h0M275.94 818.33h0M277.94 825.11h0M262.61 819.57h0M295.46 810.85h0M252.18 783.46h0M305.15 798.66h0M287.74 792.88h0M301.3 800.47h0M295.81 840.4h0M323.29 768.95h0M323.99 766.54h0M272.86 835.06h0M325.24 799.81h0M280.19 837.69h0M297.37 789.95h0M319.65 757.97h0M283.3 778.06h0M328.77 806.72h0M287.14 829.08h0M293.2 747.81h0M313.75 830.94h0M265.29 814.65h0M307.78 753.2h0M319.17 821.42h0M313.38 797.61h0M251.88 807.84h0M264.35 820.35h0M300.39 796.2h0M279.02 757.11h0M310.85 812.94h0M309.81 758.27h0M300.6 813.39h0M309.92 751.37h0M268.59 818.42h0M314.81 766.57h0M303.38 777.41h0M305.74 806.21h0M299.22 792.44h0M291.91 804.8h0M262.39 798.06h0M267.11 796.16h0M306.12 782.31h0M259.33 773.09h0M311.53 774.66h0M298.76 747.37h0M268.53 804.35h0M317.84 800.33h0M301 748.91h0M284.79 838.54h0M313.79 780.06h0M334.16 819.61h0M313.58 804.21h0M268.25 826.29h0M283 810.94h0M289.34 773.95h0M335.96 776.07h0M277.04 835.92h0M309.96 800.64h0M291.6 748.42h0M298.45 766.61h0M291.61 835.07h0M266.83 807.04h0M326.89 824.48h0M315.83 814.63h0M266.06 760.61h0M316.65 781.53h0M258.1 786.95h0M298.76 790.43h0M263.14 774.19h0M324.79 795.31h0M284.75 796.21h0M275.35 783.15h0M297.24 795.03h0M277.48 781.4h0M260.83 811.23h0M282.98 757.79h0M308.88 807.57h0M273.02 795.48h0M334.83 790.78h0M324.32 822.78h0M260.5 778.06h0M284.2 753.29h0M264.41 787.72h0M256.24 805.06h0M294.22 820.2h0M333.82 786.43h0M255.74 799.39h0M286.99 793.28h0M299.52 798.55h0M292.73 785.3h0M283.75 761.67h0M301.5 835.46h0M270.09 818.55h0M280.84 804.86h0" stroke="#4a4678" stroke-width="0.7" stroke-linecap="round" stroke-opacity="0.2"/>
<path d="M274.66 753.77h0M309.44 824.69h0M307.19 759.25h0M330.41 817.1h0M337.95 815.16h0M296.13 783.14h0M322.03 775.11h0M335.25 807.57h0M271.9 810.04h0M314.99 782.99h0M270.59 790.87h0M256.21 771.89h0M304.48 825.84h0M268.58 771.15h0M304.33 825.35h0M304.94 785.9h0M259.77 786.96h0M293.37 828.23h0M295.38 782.66h0M308.72 798.49h0M319.6 759.54h0M324.54 823.79h0M277.57 782.47h0M307.34 792.14h0M263.2 771.86h0M303.65 786.64h0M322.9 813.91h0M306.95 837.9h0M253.14 777.09h0M310.14 838.08h0M295.43 822.86h0M324.67 803.77h0M326.64 802.53h0M329.44 763.42h0M323.51 808.65h0M283.25 757.84h0M259.18 778.24h0M282.38 795.58h0" stroke="#4a4678" stroke-width="0.9" stroke-linecap="round" stroke-opacity="0.2"/>
<path d="M309.67 771.35h0M334.74 816.91h0M257.58 805.63h0M272.2 829.03h0M266.73 761.51h0M317.86 784.93h0M285.27 827.19h0M317.9 794.2h0M311.32 799.93h0M278.65 817.54h0M299.22 772.36h0M333.37 795.07h0M300.53 776.27h0M276.11 766.83h0M262.07 793.37h0M285.71 830.16h0M285.51 786.9h0M267.16 761.41h0M253.81 775.13h0M272.41 808.5h0M254.06 786.15h0M304.51 837.84h0M281.58 831.7h0M329.5 816.34h0M297.47 826.56h0M336.23 807.33h0M312.85 771.05h0M294.41 822.27h0M268.73 761.98h0M263.42 774.62h0M277.61 757.51h0M304.72 793.4h0M306.55 790.19h0M265.84 814.95h0M256.44 801.9h0M270.48 807.85h0M301.16 797.29h0M314.81 791.19h0M262.46 820.95h0M308.76 791.85h0M291.35 824.84h0M255.34 782.3h0" stroke="#4a4678" stroke-width="0.5" stroke-linecap="round" stroke-opacity="0.2"/>
<path d="M267.25 830.5h0M325.3 816.77h0M291.74 762.72h0M343.44 795.48h0M295.41 748.5h0M274.69 789.36h0M335.11 814.33h0M330.12 774.72h0M334.89 781.75h0M278.61 769.34h0M331.77 774.41h0M326.35 806.08h0M296.27 800.2h0M257.67 822.64h0M298.64 762.65h0M315.64 792.59h0" stroke="#4a4678" stroke-width="0.9" stroke-linecap="round" stroke-opacity="0.5"/>
<path d="M333.86 798.01h0M328.5 781.91h0M307.25 775.89h0M317.53 829.23h0M261.12 767.23h0M300.69 752.04h0M315.83 766.82h0M291.18 829.62h0M315.95 760.24h0M335.27 804.03h0M267.7 783.01h0" stroke="#4a4678" stroke-width="1.5" stroke-linecap="round" stroke-opacity="0.5"/>
<path d="M301.43 764.95h0M307.83 840.72h0M320.38 834.54h0M275.99 774.59h0M301 754.87h0M340.85 785.55h0M323.36 797.61h0M337.18 813.34h0M303.47 821.39h0M311.07 827.06h0M278.26 773.19h0M258.38 806.28h0M314.29 762.6h0" stroke="#4a4678" stroke-width="1.1" stroke-linecap="round" stroke-opacity="0.5"/>
<path d="M322.31 759.71h0M342.07 786.71h0M309.6 794.26h0M268.97 783.38h0M298.74 807.49h0M305.33 755.73h0M284.86 768.39h0M259.32 775.13h0M329.3 774.24h0M297.71 809.73h0M269.69 789.79h0M312.17 805.72h0M333.24 788.37h0M291.61 767.85h0M319.56 781.32h0" stroke="#4a4678" stroke-width="1.3" stroke-linecap="round" stroke-opacity="0.5"/>
<path d="M253.78 785.1h0M264.02 776.8h0M310.09 751.77h0M316.56 836.64h0" stroke="#4a4678" stroke-width="1.7" stroke-linecap="round" stroke-opacity="0.7"/>
<path d="M278.1 815.67h0M309.7 812.68h0M270.15 798.1h0" stroke="#4a4678" stroke-width="1.3" stroke-linecap="round" stroke-opacity="0.7"/>
<path d="M287.2 754.41h0M259.53 817.39h0M334.87 782.88h0M306.07 807.68h0" stroke="#4a4678" stroke-width="1.5" stroke-linecap="round" stroke-opacity="0.7"/>
<path d="M330.37 812.48h0" stroke="#4a4678" stroke-width="1.9" stroke-linecap="round" stroke-opacity="0.7"/>
<circle cx="403.7" cy="795.1" r="49.15" fill="url(#p4)" stroke="#8a8a8a" stroke-width="0.7"/>
<path d="M441.23 783.87h0M393.06 799.84h0M430.46 780.38h0M399.46 817.76h0M394.02 798.83h0M384.12 824.71h0M406.39 818.67h0M395.05 748.56h0M401.39 766.42h0M389.71 798.5h0M444.01 801.55h0M373.65 813.53h0M389.92 752.68h0M393.25 823.7h0M418.36 816.48h0M427.8 790.55h0M387.27 784.89h0M369.43 787.11h0M410.2 784.83h0M375.93 775.05h0M383.42 794.5h0M373.86 760.94h0M419.21 760.73h0M365.78 824.32h0M376.14 775.58h0M403.48 776.45h0M412.34 827.82h0M377.36 772.53h0M413.95 766.66h0M426.82 827.49h0M403.51 828.25h0M449.52 784.55h0M441.97 766.51h0M422.08 797.12h0M412.63 836.05h0M383.03 776.66h0M397.44 833.38h0M407.76 805.06h0M398.62 774.76h0M405.45 840.98h0M370.06 772.73h0M403.71 840.47h0M369.19 772.44h0M382.92 766.42h0M412.26 785.87h0M400.48 757.49h0M410.24 757.28h0M375.19 812.75h0M426.58 807.1h0M356.21 787.13h0M407.75 787.36h0M394.24 785.85h0M416.56 778.5h0M376.93 787.89h0M436.34 781.07h0M416.97 810.51h0M433.64 805.07h0M404.75 757.88h0M365.16 789.06h0M359.49 808.84h0M408.98 789.96h0M380.42 787.2h0M423.12 805.66h0M419.23 825.93h0M441.09 795.53h0M395.33 805.17h0M400.44 828.11h0M417.2 780.69h0M408.15 777.59h0M413.26 776.44h0M390.43 769.16h0M400.99 805.93h0M394.72 778.9h0M371.28 779.18h0M386.42 796.8h0M397.47 778.69h0M405.56 807.2h0M368.98 787.5h0M378.32 786.41h0M388.04 791.76h0M398.11 779.09h0M410.98 752.66h0M429.83 825.57h0M376.45 795.16h0M429.28 799.41h0M419.61 827.29h0M408.36 805.68h0M404.94 794.99h0M411.77 792.47h0M428.68 826.49h0M406.05 752.37h0M398.35 783.62h0M376.43 829.92h0M375.17 763.55h0M390.74 776.24h0M416.33 762.79h0M390.97 774.77h0M401.62 762.6h0M377.02 790.05h0M412.55 819.78h0M396.74 748.63h0M370.42 767.24h0M410.29 798.47h0M415.81 809.84h0M372.45 809.69h0M423.22 837.3h0M407.46 838.05h0M392.53 800.96h0M439.74 779.66h0M416.67 804.01h0M410.6 787.94h0M430.61 781.03h0M435.71 788.2h0M395.32 832.41h0M397.21 790.22h0M431.41 772.13h0M372.72 804.71h0M402.55 746.99h0M402.33 754.81h0M399.73 756h0M431.96 791.83h0M427.51 791.11h0M380.68 759.98h0M431.36 831.1h0M382.85 815.48h0M402.65 823.92h0M362.92 802.22h0M440.8 774.07h0M430.74 759.26h0M432.29 820.24h0M420.74 781.64h0M415.65 818.07h0M398.03 825.33h0M390.75 781.88h0M417.69 784.48h0M364.28 795.22h0M400.18 835.79h0M383.47 761.78h0M400.73 758.1h0M398.2 783.55h0M385.89 811.96h0M381.73 782.72h0M433.15 810.93h0M400.15 790.93h0M402.45 818.21h0M367.3 777.83h0M396.03 807.85h0M404.63 809.91h0M391.84 756.91h0M403 835.61h0M387.61 820.78h0M380.7 768.79h0M393.38 776.16h0M428.5 825.72h0M371.54 807.47h0M423.02 775.98h0M435.74 820.98h0M376.95 759.38h0M432.02 818.33h0M432.71 829.41h0M426.17 786.6h0M426.42 817.44h0M403.04 753.31h0M441.9 792.32h0M369.13 777.26h0M371.55 822.04h0M402.27 834.96h0M368.37 791.01h0M447.01 812.53h0M369.86 818.68h0M414.75 794.57h0M417.42 835.18h0M378.89 773.1h0M394.32 794.32h0M379.56 760.09h0M389.54 751.83h0M424.2 787.43h0M361.13 801.78h0M412.2 799.68h0M405.2 785.01h0M379.08 806.57h0M364.66 791.93h0M396.56 802.87h0M436.12 815.09h0M386.19 797.44h0M385.95 784.22h0M419.95 819.71h0M441.42 773.23h0M376 812.99h0" stroke="#2e24a4" stroke-width="0.9" stroke-linecap="round" stroke-opacity="0.25"/>
<path d="M395.68 786.79h0M375.83 821.88h0M446.68 774.35h0M421.5 773.38h0M420.42 812.08h0M430.99 758.7h0M431.01 800.94h0M412.65 761.11h0M369.24 816.62h0M361.91 792.64h0M432.83 816.95h0M407.17 837.5h0M429.12 787.77h0M434.78 779.68h0M363.64 788.16h0M373.62 808.7h0M385.34 830.71h0M380.21 809.7h0M448.23 779.04h0M369.8 816.06h0M407.79 831.2h0M440.64 771.93h0M446.06 815.15h0M412.21 786.66h0M429.1 801.34h0M398.86 839.72h0M438.21 778.36h0M410.84 760.7h0M423.47 822.6h0M378.2 829.46h0M388.41 773.71h0M436.23 829.68h0M395.22 761.89h0M408.82 802.44h0M432.07 814.56h0M382.76 785.95h0M373.7 779.64h0M410.16 792.31h0M403.44 801.24h0M389.29 814.65h0M374.09 773.54h0M445 794.32h0M415.45 808.98h0M422.74 763.19h0M405.09 786.36h0M447 807.68h0M368.3 789.48h0M411.35 792.51h0M370.68 825.57h0M380.89 793.19h0M442.03 812.22h0M366.07 809.48h0M425.91 756.81h0M440.71 803.35h0M403.04 841.6h0M436.22 761.69h0M378.54 764.7h0M404.53 829.67h0M422.24 839.27h0M387.29 800.16h0M421.19 838.77h0M366.2 825.43h0M375.1 783.6h0M421.14 769.53h0M375.65 810.84h0M421.22 812.93h0M372.46 795.77h0M369.18 807.05h0M378.45 773.06h0M417.3 817.8h0M429.46 799.38h0M368.95 798.7h0M370.59 829.31h0M378.05 772.19h0M400.38 842.88h0M372.11 820.3h0M376.25 794.45h0M425.62 836.78h0M379.79 816.74h0M384.36 763.6h0M406.52 783.77h0M373.4 784.44h0M392.43 796.17h0M393.12 784.74h0M409.43 838.35h0M424.35 819.5h0M423.23 753.08h0M429.05 769.89h0M390 754.65h0M427.03 761.95h0M379.11 807.69h0M392.89 816.39h0M447.21 806.47h0M390.92 826.66h0M425.04 814.76h0M419.41 773.28h0M393.16 773.87h0M414.75 758.71h0M361.75 790.51h0M405.72 820.1h0M438.78 804.06h0M411.17 769.11h0M409.44 837.59h0M388.95 813.23h0M414.44 783.02h0M382.28 813.33h0M359.13 808.72h0M415.87 789.8h0M411.25 842.61h0M443.72 813.42h0M445.38 817.91h0M415.98 818.75h0M380.07 830.59h0M399.7 758.6h0M415.86 823.55h0M399.68 810.2h0M437.27 812.65h0M407.43 758.38h0M406.35 830.49h0M363.44 802.48h0M399.01 821.83h0M393.87 768.4h0M407.48 841.51h0M374.14 778.83h0M421.9 771.4h0M436.92 794.86h0M422.27 787.78h0M393.16 779.98h0M387.5 808.61h0M377.98 826.19h0M396.52 771.37h0M422.74 760.31h0M387.75 812.02h0M426.03 757.47h0M388.33 836.12h0M425.21 759.52h0M374.63 791.11h0M376.81 793.46h0M391.36 788.7h0M419.11 758.92h0M390.94 840.17h0M441.96 783.34h0M434.55 826.51h0M421.45 831.25h0M373.39 773.53h0M407.51 810.23h0M388.57 832.66h0M404.92 814.96h0M385.64 771.01h0M420.59 827.43h0M426.27 773.02h0M367.02 764.29h0M376.23 817.5h0M403.38 769.77h0M386.39 802.79h0M407.81 773.93h0M411.71 766.66h0M396.77 750.41h0M369.68 793.13h0M443.19 792.36h0M368.54 819.18h0M421.31 765.17h0M403.67 808.32h0M447.4 802.09h0M433.4 777.56h0M436.82 784.01h0M390.33 756.92h0M387.36 763.63h0M394.78 781.83h0M428.65 775.31h0M426.61 810.15h0" stroke="#2e24a4" stroke-width="0.7" stroke-linecap="round" stroke-opacity="0.25"/>
<path d="M418.31 804.47h0M423.02 839h0M391.8 810.4h0M412.85 827.62h0M395.51 769.61h0M417.23 829.29h0M366.58 795.55h0M421.84 788.34h0M420.87 756.44h0M424.39 802.32h0M390.79 759.6h0M386.19 827.84h0M405.13 804.38h0M408.15 762.97h0M435.68 786.91h0M414 818h0M410.68 794.27h0M399.46 783.21h0M388.53 821.37h0M361.57 808.7h0M423.13 819.72h0M426.92 778.37h0M385.14 768.48h0M422.41 755.3h0M389.17 763.64h0M389.78 750.65h0M407.36 799.12h0M407.46 767.21h0M406.53 748.37h0M372.28 794.36h0M399.2 757.43h0M392.55 752.78h0M389.7 810.53h0M392.14 817.37h0M402.15 747.5h0M418.05 759.73h0M398.54 772.31h0M371.7 780.82h0M391.94 830.62h0M390.61 827.57h0M410.51 834.29h0M439.66 779.71h0M370.5 814.27h0M443.39 789.63h0M368.67 824.83h0M375.52 764.42h0M410.67 776.76h0M418 777.78h0M405.52 823.98h0M364.87 813.71h0M400.72 833.6h0M375.26 766.01h0M366.4 825.22h0M417.91 814.11h0M429.41 754.55h0M400.14 760.82h0M393.08 765.72h0M392.04 751.33h0M436.52 806h0M441.46 776.42h0M369.19 822.91h0M390.86 786.44h0M401.2 798.23h0M447.55 786.07h0M399.2 841h0M422.4 777.19h0M383.68 778.93h0M404.23 787.61h0M397.22 835.82h0M433.56 825.09h0M406.88 795.96h0M363.62 780.99h0M424.09 760.67h0M407.67 825.7h0M393.92 767.36h0M371.5 792.54h0M392.86 827.94h0M359.8 783.44h0M384.61 836.66h0M416.92 785.37h0M435.88 770.68h0M432.63 760.74h0M372.92 782.83h0M446.88 795.25h0M389.26 753.91h0M374.6 831.68h0M382.35 820.36h0M419.32 788.64h0M429.13 806.85h0M414.47 748.33h0" stroke="#2e24a4" stroke-width="0.5" stroke-linecap="round" stroke-opacity="0.25"/>
<path d="M391.86 749.46h0M442.88 780.88h0M380.96 832.9h0M373.23 799.04h0M393.83 752.65h0M414.97 835.07h0M387.22 823.68h0M388.13 826.6h0M377.84 771.9h0M443.29 782.79h0M391.12 763.59h0M421.16 832.19h0M421.89 798.05h0M401.43 786.48h0M432.36 830.06h0M380.43 797.42h0M402.84 747.95h0M391.47 777.2h0M404.49 826.99h0M362.64 801.6h0M366.3 820.23h0M405.56 816.93h0M374.32 819.01h0M409.83 748.89h0M423.96 788.61h0M406.58 771.69h0M392.78 837.67h0" stroke="#2e24a4" stroke-width="1.5" stroke-linecap="round" stroke-opacity="0.75"/>
<path d="M443.66 815.9h0M435.81 800.75h0M396.04 788.73h0M414.2 778.17h0M388.67 783.42h0M398.51 769.08h0M428.99 782.56h0M411.34 815.82h0M378.89 760.92h0M393.85 834.38h0M424.21 781.06h0M370.37 795.86h0M437.59 763.87h0M431.01 768.1h0M370.19 786.09h0M401.26 787.44h0M419.15 785.99h0M383.53 753.96h0M431.24 764.65h0M366.16 805.68h0M356.1 802.28h0" stroke="#2e24a4" stroke-width="0.9" stroke-linecap="round" stroke-opacity="0.75"/>
<path d="M359.16 785.97h0M430.94 808.92h0M412.02 840.29h0M430.86 811.69h0M381.93 775.38h0M442.14 809.57h0M438.44 792.6h0M411.7 760.42h0M405.8 777.48h0M392.27 824.76h0M414.87 786.57h0M406.48 795.63h0M376.5 831.28h0M393.33 806.9h0M427.01 759.51h0M439.4 812.95h0M423.86 835.65h0M425.07 827.51h0M429.67 767.73h0M377.31 766.54h0M425.46 831.24h0" stroke="#2e24a4" stroke-width="1.9" stroke-linecap="round" stroke-opacity="0.75"/>
<path d="M365.65 783.59h0M384.28 808.41h0M398.12 756.07h0M357.43 804.16h0M430.53 823.08h0M410.74 773.4h0M430.38 768.97h0M397 807.5h0M413.9 835.33h0M425.83 752.73h0M366.58 796.58h0M406.6 763.07h0M422.3 794.71h0M449.4 784.22h0M438.65 774.24h0M366.77 806.61h0M368.15 791.37h0M395.53 761.86h0M381.68 780.96h0M386.29 774.51h0M430.89 801.54h0M365.19 777.82h0M415.92 797.13h0M409.9 748.43h0M395.98 822.89h0M369.47 801.58h0M401.17 782.06h0M448.61 804.8h0M381.8 758.63h0M424.27 773.19h0M432.64 818.23h0M429.67 809.28h0M357.03 800.85h0M400.65 811.31h0M380.15 805.67h0" stroke="#2e24a4" stroke-width="1.3" stroke-linecap="round" stroke-opacity="0.75"/>
<path d="M399.51 785.16h0M430.79 817.21h0M385.73 818.12h0M406.26 842.65h0M431.66 829.54h0M397.89 755.02h0M444.4 774.87h0M378.43 801.72h0M388.38 787.79h0M441.77 786.47h0M374.18 827.58h0M365.17 814.78h0M359.38 795.96h0M378.03 797.54h0M447.36 792.33h0M413.11 831.72h0M443.95 781h0M410.35 785.17h0M403.71 819.92h0M439.57 777.95h0M420.59 788.55h0M419.5 813.28h0M365.12 770.54h0M439.98 764.56h0M418.89 820.19h0M369.4 824.64h0M411.23 841.38h0M393.2 814.8h0" stroke="#2e24a4" stroke-width="1.7" stroke-linecap="round" stroke-opacity="0.75"/>
<path d="M391.65 752.86h0M421.47 810.21h0M431.35 805.81h0M390.29 807.41h0M388.59 762.08h0M367.71 802.03h0M402.94 814.05h0M375.37 832.06h0M431.21 806.48h0M402.11 815.81h0M431.97 826.56h0M438.13 806.36h0M399.7 831.86h0M405.64 772.53h0M359.19 792.17h0M369.42 789.14h0M430.17 781.64h0M406.61 774h0" stroke="#2e24a4" stroke-width="1.1" stroke-linecap="round" stroke-opacity="0.75"/>
<path d="M372.03 791.12h0M402.5 778.12h0M429.74 784.33h0M410.36 769.54h0M370.26 788.13h0M399.41 775.28h0M427.25 774.42h0" stroke="#2e24a4" stroke-width="2.5" stroke-linecap="round" stroke-opacity="0.85"/>
<path d="M363.09 808.72h0M370.87 791.87h0" stroke="#2e24a4" stroke-width="2.7" stroke-linecap="round" stroke-opacity="0.85"/>
<path d="M384.2 815.71h0M390.23 771.64h0M363.86 809.94h0M404.26 830.56h0" stroke="#2e24a4" stroke-width="1.9" stroke-linecap="round" stroke-opacity="0.85"/>
<path d="M424.92 813.06h0M399.05 812.08h0M364.21 783.48h0M418.18 782.62h0M405.5 809.22h0" stroke="#2e24a4" stroke-width="2.1" stroke-linecap="round" stroke-opacity="0.85"/>
<path d="M402.08 824.41h0M372.27 768.36h0M418.88 802.93h0M372.7 766.73h0M363.61 790.29h0M442.81 817.03h0" stroke="#2e24a4" stroke-width="1.7" stroke-linecap="round" stroke-opacity="0.85"/>
<path d="M439.02 820.69h0M391.15 760.98h0M408.21 766.49h0M376.26 819.37h0M423.63 785.09h0M432.84 766.64h0" stroke="#2e24a4" stroke-width="2.9" stroke-linecap="round" stroke-opacity="0.85"/>
<path d="M379.72 828.28h0M387.03 808.4h0M398.03 775.6h0M426.64 827.81h0M376.11 769.82h0" stroke="#2e24a4" stroke-width="2.3" stroke-linecap="round" stroke-opacity="0.85"/>
<path d="M371.95 771.7h0M447.62 781.85h0M408.6 750.83h0M414.63 749.61h0M426.76 831.99h0M402.83 749.41h0M394.47 757.27h0M382.84 835.84h0M431.77 822.3h0M379.07 834.34h0M382.8 760.83h0M437.69 825.81h0M445.7 812.67h0M389.85 751.49h0M383.42 760.64h0M370.33 825.41h0M377.57 834.52h0M369.03 822.61h0M415.92 750.8h0M374.26 820.51h0M449.92 790.22h0M451.06 796.55h0M363.1 779.66h0M388.97 759.32h0M369.39 774.05h0M443.82 782.93h0M404.61 751.69h0" stroke="#2e24a4" stroke-width="1.9" stroke-linecap="round" stroke-opacity="0.85"/>
<path d="M362.28 773.57h0M371.95 760.6h0M377.05 764.72h0M445.95 811.38h0M371.3 765.08h0M412.16 754.41h0M367.79 780.32h0M449.89 795.64h0M444.59 796.15h0M421.77 835.35h0M413.21 749.72h0M368.77 777.42h0M371.8 819.54h0M377.04 834.53h0M374.65 827.45h0M366.23 810.3h0M375.4 765.39h0M363.72 803.85h0M370.42 770.09h0M381.11 829.66h0M446.87 799.98h0M367.39 771.79h0M364.13 794.42h0M380.02 832.93h0" stroke="#2e24a4" stroke-width="2.3" stroke-linecap="round" stroke-opacity="0.85"/>
<path d="M447.86 807.35h0M387.62 750.8h0M361.82 802.52h0M366.25 815.31h0M375.1 821.16h0M368.25 820.91h0M374.56 821.63h0M379.67 764.36h0M445.82 806.04h0M372.84 762.54h0M382.68 757.41h0M446.79 786.02h0M390 757.78h0M437.15 816.58h0M394.03 749.8h0M444.73 802.33h0M394.33 748.98h0M389.94 754.28h0M394.71 753.18h0M374.32 828.49h0M376.06 825.48h0" stroke="#2e24a4" stroke-width="1.3" stroke-linecap="round" stroke-opacity="0.85"/>
<path d="M365.41 770.71h0M442.16 786.58h0M416.16 751.43h0M390.77 754.75h0M444.1 809.9h0M379.75 832.62h0M362.45 811.19h0M372.9 826.13h0M444.57 786.75h0M384.6 759.38h0M365.59 814.83h0M381.34 763.54h0M369.45 763.36h0M384.43 758.67h0M375.46 823.08h0M392.8 753.52h0M360.54 807.51h0M367.93 820.48h0M368.53 764.12h0M392.38 755.25h0M396.57 840.87h0M440.55 776.65h0M390.73 752.47h0M439.59 812.45h0M416.59 751.85h0" stroke="#2e24a4" stroke-width="1.7" stroke-linecap="round" stroke-opacity="0.85"/>
<path d="M445.51 796.45h0M449.51 788.17h0M410.01 837.84h0M432.28 761.8h0M372.5 820.84h0M369.03 824.65h0M372.75 825.96h0M413.36 833.12h0M367.25 770.24h0M372.97 820.07h0M369.13 771.11h0M435.23 767.45h0M358.08 806.77h0M363.89 777.71h0M432.89 766.03h0M370.02 767.99h0M419.61 753.88h0" stroke="#2e24a4" stroke-width="2.1" stroke-linecap="round" stroke-opacity="0.85"/>
<path d="M361.91 811.77h0M409.03 834.77h0M445.1 782.11h0M446.96 785.33h0M413.2 751.19h0M373.07 826.86h0M446.98 801.69h0M370.01 774.89h0M392.16 753.34h0M367.28 826.04h0M396.22 752.42h0M400.55 754.03h0M398.27 752.84h0M447.09 789.61h0M364.4 816.51h0M391.49 753.61h0M364.15 794.12h0" stroke="#2e24a4" stroke-width="1.5" stroke-linecap="round" stroke-opacity="0.85"/>
<path d="M449.91 798.62h0M374.86 824.93h0M399.91 756.58h0M371.61 766.56h0M370.84 771.08h0M374.37 766.9h0M377.03 831.9h0M412.51 752.02h0M450.78 801.81h0M380.62 758.3h0M399.13 749.59h0M369.27 819.15h0M379.31 833.9h0M372.46 767.14h0M377.72 756.12h0M365.57 769.51h0M444.67 814.01h0M448.48 795.19h0M365.36 819.11h0M407.27 753.18h0M412.67 753.16h0M373.03 771.47h0M361.46 774.15h0M410.44 753.7h0M411.92 754h0M447.98 799.81h0" stroke="#2e24a4" stroke-width="1.1" stroke-linecap="round" stroke-opacity="0.85"/>
<path d="M376.14 831.88h0M439.23 770.3h0M362.11 807.86h0M416.92 837.66h0M442.71 783.18h0M442.16 805.02h0M447.06 809.98h0M426.61 828.77h0M395.79 748.86h0M445.92 806.64h0M378.48 825.05h0M408.21 749.51h0M398.03 748.23h0" stroke="#2e24a4" stroke-width="2.5" stroke-linecap="round" stroke-opacity="0.85"/>
<circle cx="506.3" cy="795.2" r="49.15" fill="url(#p5)" stroke="#8a8a8a" stroke-width="0.7"/>
<path d="M512.12 771.82h0M473.78 784.84h0M474.52 765.77h0M518.75 776.87h0M522.89 779.78h0M491.6 787.73h0M503.85 785.85h0M534.2 800.62h0M483.39 777.47h0M486 768.61h0M500.48 832.25h0M483.29 762.56h0M489.58 792.27h0M478.42 792.43h0M503.84 843.3h0M532.68 812.45h0M480.94 820.54h0M531.37 813.39h0M526.32 776.05h0M472.6 827.97h0M514.97 841.35h0M481.09 798.42h0M471.45 808.04h0M479.36 766.58h0M524.64 833.33h0M468.91 825.21h0M545.07 811.68h0M532.93 829.6h0M529.85 813.13h0M485.22 796.64h0M511.42 759.36h0M485.11 800.23h0M473.06 770.81h0M496.71 748.82h0M476.07 773.49h0M486.06 769.79h0M535.28 787.27h0M501.96 770.61h0M543.9 820.25h0M502.28 811.3h0M543.97 788.12h0M474.44 798.81h0M499.62 842.28h0M504.63 828.85h0M468.97 791.86h0M505.1 805.04h0M534.78 833.71h0M484.48 798.29h0M471.89 777.99h0M475.25 785.34h0M490.86 776.3h0M500.64 765.46h0M482.21 796.19h0M460.09 804.42h0M513.46 770.19h0M503.97 790.35h0M485.17 781.87h0M502.66 751.84h0M515.49 784.8h0M519.66 817.68h0M478.82 817.08h0M477.45 819.3h0M537.28 805.16h0M474.7 817.15h0M474.43 825.15h0M487.92 779.06h0M527.44 828.35h0M520.79 769.55h0M514.73 775.53h0M508.74 829.96h0M523.54 761.57h0M477.29 791.2h0M488.26 753.7h0M496.09 764.48h0M476.46 766.1h0M480.62 775.16h0M509.24 767.03h0M480.8 801.87h0M459.87 795.94h0M477.8 829.72h0M553.53 789.97h0M500.23 827.31h0M529.9 753.07h0M538.82 812.42h0M466.7 810.11h0M460.21 800.47h0M538.29 760.47h0M470.34 823.28h0M490.42 782.51h0M502.04 833.64h0M526.57 778.52h0M514.12 799.91h0M460.12 784.01h0M526.03 817.74h0M524.16 832.27h0M478.68 777.9h0M462.69 789.84h0M474.89 759.01h0M525.3 786.55h0M475.42 775h0M527.69 781.38h0M533.39 800.89h0M522.33 818.2h0M537.68 821.28h0M464.84 784.3h0M523.42 759.5h0M485.02 803.2h0M517.6 789.54h0M499.85 770.81h0M473.17 787.95h0M478.6 789.25h0M508.89 796.13h0M494.2 769.3h0M536.66 776.52h0M521.8 796.59h0M469.43 809.04h0M482.56 806.86h0M467.79 801.04h0M459.93 790.12h0M478.1 777.23h0M495.63 748.8h0M477.32 798h0M460.77 780.23h0M523.53 784.11h0M470 799.36h0M513.45 792.52h0M472.92 812.89h0M470.93 790.92h0M472.34 782.17h0M491.73 788.17h0M493.82 772.17h0M526.79 759.03h0M510.11 754.67h0M487.84 785.46h0M505.78 771.11h0M512.08 830.05h0M463.74 813.16h0M471.13 775.34h0M543.11 771.64h0M477.69 803.03h0M508.86 819.46h0M460.37 803.81h0M465.87 820.88h0M497.29 823.02h0M489.5 763.42h0M479.66 811.46h0M538.82 825.74h0M528.01 767.92h0M482.67 761.86h0M500.61 819.08h0M510.52 760.24h0M490.69 758.25h0M496.16 825.62h0M464.21 781.95h0M469.54 822.26h0M527.03 835.54h0M487.39 777.9h0M484.59 778.67h0M515.25 824.63h0M524.68 782.65h0M465.21 769.89h0M511.48 760.7h0M480.28 760.21h0M544.44 790.45h0M549.41 813.58h0M497.9 777.57h0" stroke="#3a33b0" stroke-width="0.7" stroke-linecap="round" stroke-opacity="0.25"/>
<path d="M490.41 775.99h0M466.36 797.81h0M538.74 777.81h0M539.99 813.1h0M486.27 768.19h0M552.07 789.23h0M541.52 820.46h0M503.97 757.28h0M481.31 801.02h0M503.69 820.7h0M489.11 814.34h0M492.82 830.87h0M491.85 837.52h0M491.09 757.29h0M500.37 765.61h0M496.06 841.45h0M549.31 794.49h0M511.71 775.07h0M482.72 834.61h0M552.54 798.44h0M491.17 788.65h0M474.8 827.86h0M517.67 792.75h0M543.18 802.19h0M489.97 809.17h0M537.44 826.37h0M491.64 777.45h0M477.95 770.58h0M482.54 823h0M498.24 838.36h0M482.27 788.89h0M469.36 781.85h0M540.2 778.92h0M466.66 773.59h0M526.16 758.47h0M467.84 814.74h0M549.53 789.72h0M499.32 765.08h0M537.27 802h0M492.11 774.47h0M537.91 761.58h0M503.62 762.29h0M485.37 835.57h0M505.87 792.94h0M495.26 830.98h0M488.76 781.45h0M497.66 824.49h0M529.62 773.61h0M536.41 758.09h0M497.42 771.72h0M542.77 763.58h0M486.92 836.09h0M512.65 840.59h0M510 786.51h0M486.57 774.6h0M486.86 781.61h0M542.02 810.14h0M476.14 807.27h0M480.88 830.31h0M502.7 781.35h0M486.19 761.53h0M480.17 782.73h0M541.94 771.63h0M530.13 806.59h0M472.54 822.29h0M503.44 820.17h0M492.6 758.01h0M496.2 750.4h0M473.71 796.37h0M500.75 751.75h0M495.63 800.2h0M541.98 811.38h0M466.74 798.02h0M474 769.13h0M478.57 786.54h0M511.66 792.46h0M480.26 762.63h0M515.51 768.14h0M536.18 792.8h0M495.83 768.27h0M492.62 763.01h0M484.1 770.55h0M538.81 805.67h0M477.05 770.62h0M472.31 765.42h0M527.58 754.03h0M468.01 783.55h0M522.23 751.97h0M537.47 798.74h0M498.68 757.84h0M486.79 752.09h0M551.54 785.53h0M465.35 794.53h0M475.98 778.69h0M483.4 815.63h0M499.04 766.65h0M477.86 807.86h0M477.58 829.87h0" stroke="#3a33b0" stroke-width="0.5" stroke-linecap="round" stroke-opacity="0.25"/>
<path d="M505.97 781.62h0M507.52 776.9h0M528.56 808.24h0M503.52 806.38h0M478.11 782.38h0M503.18 808.12h0M536.83 813.09h0M485.95 751.68h0M496.74 837.18h0M491.26 801.63h0M490.83 795.44h0M470.57 788.91h0M493.44 803.31h0M483.15 784.72h0M494.2 757.24h0M513.96 816.97h0M467.21 798.29h0M473.26 794.32h0M545.13 801.17h0M471.73 812.75h0M511.89 784.39h0M488.89 764.46h0M463.4 779.76h0M497.07 820.92h0M516.47 792.33h0M496.6 796.1h0M540.98 819.27h0M484.63 834.68h0M470.49 785.69h0M467.38 773.98h0M469.34 767.84h0M483.47 783.41h0M510.12 824.11h0M495 832.43h0M485.58 799.14h0M474.68 793.08h0M553.1 799.07h0M498.57 777.51h0M515.93 783.35h0M524.56 800.87h0M462.66 797.4h0M476.98 825.08h0M507.33 836.91h0M480.53 799.98h0M476.73 804.04h0M491.87 761.9h0M463.78 774.53h0M504.77 792.08h0M526.71 765.07h0M462.05 780.04h0M473.96 813.29h0M477.78 765.58h0M465.81 772.23h0M527.84 756.39h0M530.87 789.74h0M467.73 801.97h0M538.06 804.82h0M543.96 787.9h0M468.18 810.8h0M503.75 822.43h0M507.83 758.53h0M474.44 777.77h0M551.6 794.53h0M514.82 821.55h0M543.08 805.95h0M471.95 788.74h0M479.86 772.96h0M520.73 760.22h0M462.25 777.18h0M507.86 785.19h0M504.74 776.51h0M475.69 817.75h0M504.87 790.66h0M503.61 768.48h0M468.58 780.44h0M487.22 823.84h0M512.65 813.46h0M535.24 777.25h0M520.32 764h0M515.57 809.25h0M478.82 783.26h0M495.15 776.49h0M519.11 798.2h0M517.77 841.75h0M490.95 790.35h0M526.16 792.9h0" stroke="#3a33b0" stroke-width="0.9" stroke-linecap="round" stroke-opacity="0.25"/>
<path d="M463.45 805.77h0M542.97 767.21h0M485.03 828.37h0M458.75 795.67h0M514.58 757.5h0M549.76 815.03h0M482.36 753.61h0M532.35 794.86h0M468.64 804.14h0M478.52 802.07h0M518.52 831.59h0M471.19 826.89h0M538.98 761.76h0M503.71 769.53h0M496.01 764.39h0M466.53 792.58h0M480 799.45h0M485.57 811.47h0M479.94 827.13h0M460.71 793.56h0M476.34 811.79h0M477.19 763.47h0M525.35 832.35h0M483.79 781.73h0M471.42 789.38h0M517.57 836.43h0" stroke="#3a33b0" stroke-width="1.9" stroke-linecap="round" stroke-opacity="0.7"/>
<path d="M461.7 792.31h0M545.14 820.39h0M504.25 779.51h0M505 823.25h0M460.95 779.57h0M478.28 777.48h0M548.81 805.09h0M460.25 789.12h0M494.1 771.37h0M522.97 764.17h0M518.56 784.23h0M501.65 750.23h0M532.62 758.17h0M491.43 796.11h0M496.54 836.76h0M465.82 788.81h0M494.79 826.35h0M496.33 825.57h0M480.93 830.37h0M513.09 832.88h0M466.39 772.12h0M513.65 810.33h0M516.85 782.4h0M478.66 760.07h0M488.56 791.25h0M529.73 794.43h0M513.59 804.5h0M462.89 776.59h0M537.32 768.86h0M480.94 823.03h0" stroke="#3a33b0" stroke-width="1.3" stroke-linecap="round" stroke-opacity="0.7"/>
<path d="M489.55 760.91h0M511.07 769.94h0M548.95 784.38h0M511.39 801.34h0M470.88 784.5h0M489.51 797.78h0M522.72 769.62h0M474.88 803.37h0M532.26 768.62h0M489 793.96h0M530.25 768.51h0M482.35 834.75h0M486.18 776.76h0M467.73 775.05h0M461.15 789.48h0M506.02 755.94h0M489.07 777.54h0M477.43 773.62h0M499 784.33h0M519.78 810.09h0M466.77 801.28h0M482.57 807.06h0M481.14 786.43h0M460.46 789.49h0" stroke="#3a33b0" stroke-width="1.5" stroke-linecap="round" stroke-opacity="0.7"/>
<path d="M476.34 812.71h0M468.46 791.12h0M491.68 782.14h0M488 785.68h0M480.22 792.26h0M485.72 778.78h0M471.99 805.92h0M487.62 820.14h0M483.14 805.31h0M463.08 775.82h0M516.33 804.39h0M474.92 822.95h0M472.09 815.7h0M510.58 772.82h0M477.58 807.61h0M531.32 784.55h0M471.33 827.27h0M498.62 830.69h0M512.54 780.52h0M483.08 781.46h0M484.43 752.64h0M526.01 765.58h0M515.9 813.29h0M469.12 799.35h0M471.58 770.39h0M493.64 778.39h0M465.59 797.58h0M490.63 765.97h0M483.51 795.68h0M465.6 798.34h0M548.14 802.29h0" stroke="#3a33b0" stroke-width="1.1" stroke-linecap="round" stroke-opacity="0.7"/>
<path d="M505.4 816.84h0M467.27 816.09h0M472.27 828.23h0M518.84 825.83h0M525.95 804.03h0M463.82 797.76h0M474.19 769.16h0M542.31 806.53h0M552.09 785.42h0M465.14 776.3h0M489.87 808.63h0M459.95 801.05h0M468.98 784.63h0M501.49 770.14h0M496.79 766.81h0M500.59 817.59h0M466.94 774.59h0M511.39 750.52h0M481.17 786.93h0M550.47 791.26h0M482.48 757.04h0M467.3 790.33h0M543.21 770.08h0M461.41 792.03h0M472.85 764.5h0" stroke="#3a33b0" stroke-width="1.7" stroke-linecap="round" stroke-opacity="0.7"/>
<path d="M479.79 775.05h0M460.5 781.77h0M483.68 786.01h0M471.65 797.5h0M475.35 810.53h0M462.69 809.88h0M495.86 790.42h0M470.21 801.16h0M490.29 819.15h0M478.35 785.75h0M469.32 767.3h0M532.08 831.75h0M493.17 798.72h0M511.37 772.93h0" stroke="#3a33b0" stroke-width="0.9" stroke-linecap="round" stroke-opacity="0.7"/>
<path d="M544.41 788.84h0M487.84 812.41h0M550.7 810.58h0M514.84 762.15h0M512.08 762.09h0" stroke="#3a33b0" stroke-width="2.5" stroke-linecap="round" stroke-opacity="0.8"/>
<path d="M489.36 753.35h0M494.52 829.56h0M464.4 818.14h0M499.49 763.51h0M462.8 783.62h0M516.48 832.9h0M466.91 791.86h0M466.91 804.25h0M459.58 783.94h0M471.97 797.91h0" stroke="#3a33b0" stroke-width="2.1" stroke-linecap="round" stroke-opacity="0.8"/>
<path d="M486.23 825.13h0M490.5 768.64h0M462.8 780.35h0M515.05 794.59h0M507.5 775.91h0M547.13 792.81h0M467.18 790.37h0M471.91 825.75h0M471.92 772.81h0" stroke="#3a33b0" stroke-width="2.3" stroke-linecap="round" stroke-opacity="0.8"/>
<path d="M510.05 789.06h0M486.79 768.79h0M475.4 781.4h0M509 768.77h0M496.86 822.57h0M465.53 805.77h0M548.4 775.26h0" stroke="#3a33b0" stroke-width="2.7" stroke-linecap="round" stroke-opacity="0.8"/>
<path d="M472.71 769.42h0M459.95 799.86h0M536.95 812.9h0M476.96 769.18h0M481.08 793.83h0M459.24 792.83h0M486.76 817.7h0M474.01 821.73h0" stroke="#3a33b0" stroke-width="1.9" stroke-linecap="round" stroke-opacity="0.8"/>
<path d="M475.14 758.38h0M528.8 772.45h0M482.41 830.99h0M463.66 787.06h0M486.1 798.64h0M511.74 831.5h0M485.29 806.89h0M478.4 776.28h0M513.3 791.84h0" stroke="#3a33b0" stroke-width="1.7" stroke-linecap="round" stroke-opacity="0.8"/>
<path d="M522.86 832.97h0M497.08 804.28h0" stroke="#3a33b0" stroke-width="1.5" stroke-linecap="round" stroke-opacity="0.8"/>
<path d="M518.22 840.67h0M471.22 816.33h0M466.31 806.73h0M462.37 792.39h0M463.53 802.79h0M514.47 835.68h0M461.14 799.36h0M481.35 832.04h0M481.27 757.17h0M490.59 751.11h0" stroke="#3a33b0" stroke-width="1.3" stroke-linecap="round" stroke-opacity="0.8"/>
<path d="M464.11 809.39h0M550.67 803.69h0M470.22 825.1h0M460.41 789.12h0M531.23 832.94h0M481.83 760.84h0M464.91 817.98h0M461.07 782.89h0" stroke="#3a33b0" stroke-width="1.9" stroke-linecap="round" stroke-opacity="0.8"/>
<path d="M479 824.7h0M468.72 814.9h0M484.52 757.65h0M487.31 752.31h0M459.33 794.55h0M476.71 821.99h0M470.54 821.03h0M548.76 781.62h0M518.75 836.25h0M480.23 763.82h0M470.05 825.85h0M461.18 789.44h0M493.64 836.42h0M552.17 792.89h0M533.31 830.11h0" stroke="#3a33b0" stroke-width="1.5" stroke-linecap="round" stroke-opacity="0.8"/>
<path d="M462.8 807.3h0M552.52 803.58h0M530.68 760.88h0M500.25 837.46h0M487.15 756.16h0M460.57 802.07h0M466.35 775.76h0M515.13 837.39h0M481.31 826.5h0" stroke="#3a33b0" stroke-width="1.1" stroke-linecap="round" stroke-opacity="0.8"/>
<path d="M465.4 774.48h0M473.67 821.98h0M467.02 821.78h0M504.39 842.41h0M474.86 768.39h0M544.11 823.86h0M481.83 754.27h0M553.11 803.58h0M500.58 838.4h0M462.01 782.57h0" stroke="#3a33b0" stroke-width="1.7" stroke-linecap="round" stroke-opacity="0.8"/>
<path d="M464.81 791.83h0M492.05 837.34h0M489.83 836.82h0M494.87 833.76h0M459.8 792.19h0M466.2 809.38h0M525.56 836.72h0M514.72 838.27h0" stroke="#3a33b0" stroke-width="2.1" stroke-linecap="round" stroke-opacity="0.8"/>
<circle cx="609.2" cy="794.8" r="49.65" fill="url(#p6)" stroke="#8a8a8a" stroke-width="0.7"/>
<path d="M574.28 790.87h0M646.35 784.36h0M645.41 821.38h0M619.82 824.11h0M639.31 825.5h0M610.14 838.97h0M641.11 807.78h0M565.18 811.46h0M578.49 797.65h0M614.4 775.27h0M624.94 798.31h0M616.06 750.8h0M642.37 761.41h0M576.42 788.57h0M583.54 777.74h0M601.6 826.88h0M589.82 828.49h0M604.22 786.04h0M578.98 781.47h0M612.65 766.12h0M593.72 791.59h0M579.43 767.92h0M621.78 756.63h0M610.25 795.02h0M626.5 809.7h0M631.9 801.8h0M601.8 813.29h0M597.01 802.88h0M616.19 829.69h0M566.61 812.19h0M610.7 764.74h0M632.04 798.83h0M624.03 793.18h0M650.41 813.4h0M629.95 768.91h0M581.68 762.89h0M639.81 773.74h0M636.8 811.9h0M572.29 795.92h0M572.65 779.01h0M596.34 836.64h0M592.57 770.79h0M598.52 764.14h0M583.84 756.38h0M616.65 769.94h0M628.72 773.52h0M637.33 814.8h0M597.47 815.64h0M624.06 770.17h0M595.12 830.76h0M652.78 803.73h0M573.97 779.44h0M602.87 790.05h0M576.62 815.12h0M587.16 777.76h0M608.79 808.23h0M635.09 769.23h0M629.29 765.31h0M576.85 796.48h0M647.72 810.01h0M574.11 797.34h0M585.95 825.01h0M645.68 775.81h0M644 776.46h0M568.32 772.08h0M632.55 760.8h0M639.64 830.22h0M607.74 766.83h0M654.93 811.48h0M637.73 784.05h0M653.36 801.93h0M584.94 814.61h0M628.66 795.33h0M601.23 828.14h0M599.9 840.45h0M607.34 811.99h0M602.85 842.74h0M630.29 813.69h0M620.54 803.6h0M598.34 799.09h0M625.73 772.14h0M604.99 834.05h0M607.35 766.84h0M575.41 804.1h0M586.93 769.17h0M629.76 805.44h0M618.33 766.6h0M609.8 754.96h0M613.52 754.81h0M601.75 831.59h0M611.28 833.84h0M613.52 837.3h0M593.47 828.07h0M598.61 817.98h0M597.39 810.24h0M612.4 795.22h0M607.74 795.13h0M646.09 802.61h0M617.48 779.05h0M561.5 800.29h0M571.05 788.78h0M576.09 783.81h0M583.54 826.29h0M616.12 774.72h0M629.6 836.15h0M637.04 791.22h0M592.57 819.09h0M637.37 770.67h0M648.18 815.22h0M644.48 802.96h0M640.58 767.05h0M576.45 763.86h0M594.53 782.08h0M597.51 783.65h0M577.12 797.82h0M632.02 785.05h0M612.53 803.14h0M582.91 771.95h0M610.38 796.98h0M651.56 789.36h0M592.43 753.22h0M591.97 786.5h0M625.95 785.31h0" stroke="#403ab0" stroke-width="0.7" stroke-linecap="round" stroke-opacity="0.25"/>
<path d="M602.52 800.1h0M621.83 824.19h0M609.12 804.58h0M631.64 783.14h0M566.38 803.4h0M630.45 802.73h0M620.72 834.8h0M614.72 835.54h0M614.44 801.91h0M584.23 829.9h0M593.19 760.91h0M605.07 821.14h0M564.43 804.19h0M647.45 823.07h0M599.3 811.97h0M595.59 826.49h0M632.73 798.18h0M607.56 812.75h0M577.07 764.82h0M606.13 764.19h0M604.27 772.01h0M600.33 781.21h0M646.25 812.19h0M627.72 760.16h0M608.66 813.64h0M633.03 806.69h0M608.2 784.02h0M573.77 765.5h0M596.48 784.32h0M630.05 791.1h0M643.1 793.88h0M629.99 773.26h0M620.14 795.26h0M625.38 790.52h0M617.92 762.02h0M599.41 809.85h0M623.74 776.3h0M617.82 782.65h0M591.2 771.73h0M578.45 826h0M631.2 830.65h0M596.19 813.91h0M569.77 822.85h0M577.71 829.89h0M574.77 813h0M578.72 832.72h0M627.16 803.11h0M625.18 752.78h0M643.33 805.92h0M594.14 785.02h0M644.74 826.54h0M598.7 820.28h0M585.85 827.12h0M601.98 800.12h0M612.5 825.47h0M591.6 782.36h0M606.65 748.26h0M599.15 762.53h0M574.61 796.71h0M628.28 797.86h0M642.25 793.92h0M583.71 810.74h0" stroke="#403ab0" stroke-width="0.5" stroke-linecap="round" stroke-opacity="0.25"/>
<path d="M609 810.33h0M604.39 821.39h0M634.68 818.59h0M635.69 768.79h0M588.13 790.76h0M632.99 764.96h0M597.51 793.1h0M611.15 817.85h0M602.34 752.51h0M639.24 820.9h0M654.62 788.8h0M653.65 814.41h0M634.36 827.64h0M615.3 759.81h0M631.1 824.89h0M578.63 764.51h0M613.84 754.74h0M569.05 788.91h0M569.75 802.78h0M625.7 782.13h0M603.32 785.59h0M592.39 790.4h0M568.76 807.72h0M614.96 772.51h0M645.17 801.68h0M579.91 806.06h0M614.42 810.18h0M625.45 761.57h0M645.32 778.81h0M625.72 825.64h0M572.85 773.2h0M599.86 766.07h0M619.84 772.81h0M626.98 828.23h0M641.25 806.77h0M637.25 789.83h0M594.11 785.71h0M635.1 761.14h0M609.34 823.13h0M632.79 806.48h0M584.13 784.63h0M611.94 784.73h0M607.48 778.34h0M588.23 791.3h0M587.71 772.68h0M621.17 840.26h0M585.36 803.37h0M598.72 769.17h0M614.57 746.85h0M605.53 760.25h0M578.09 818.89h0M611.33 784.5h0M593.71 815.91h0M588.62 808.31h0M603.96 782.57h0M596.25 760.79h0M655.33 805.76h0M631.97 807h0M614.75 790.33h0M641.66 815.7h0M650.39 778.43h0M590.47 823.68h0M619.97 789.58h0M614.07 779.61h0M628.34 836.47h0" stroke="#403ab0" stroke-width="0.9" stroke-linecap="round" stroke-opacity="0.25"/>
<path d="M593.73 768.35h0M573.46 805.38h0M609.06 833.58h0M567.91 778.7h0M605.76 826.8h0M619.39 749.83h0M635.76 787.42h0M627.76 784.42h0M646.22 792.23h0M628.17 806.84h0M619.59 757.89h0M590.7 753.45h0M614.15 784.41h0M612.27 791.53h0" stroke="#403ab0" stroke-width="1.5" stroke-linecap="round" stroke-opacity="0.65"/>
<path d="M576.47 781.06h0M573.45 818.7h0M598.2 823.56h0M638.47 785.62h0M634.4 789.96h0M606.6 777.55h0M610.36 758.35h0M620.82 817.83h0M632.58 816.14h0M591.06 769.26h0M579.21 806.16h0M595.75 802.94h0M611.61 783.53h0M602.76 842.58h0M637.47 773.28h0M617.06 789.96h0M634.15 808.96h0M636.22 803.2h0M622.03 838.25h0" stroke="#403ab0" stroke-width="1.1" stroke-linecap="round" stroke-opacity="0.65"/>
<path d="M564.02 801.45h0M618.22 800.79h0M646.15 767.94h0M601.54 774.04h0M584.41 788.98h0M589.31 823.03h0M640.36 801.1h0M612.92 796.05h0M626.69 811.15h0M636.37 817.04h0M580.79 766.33h0M620.92 748.88h0M604.16 811.3h0M603.01 823.4h0M564.66 784.25h0M565.3 814.74h0M574.26 770.09h0M593.67 779.34h0" stroke="#403ab0" stroke-width="1.3" stroke-linecap="round" stroke-opacity="0.65"/>
<path d="M617.12 819.93h0M629 771.54h0M621.98 764.05h0M589.98 765.16h0M583.25 775.81h0M596.86 777.47h0M603.9 778.87h0M618.28 795.85h0M597.25 769.32h0" stroke="#403ab0" stroke-width="0.9" stroke-linecap="round" stroke-opacity="0.65"/>
<path d="M611.95 778.89h0M598.56 809.18h0M612.34 790.74h0M596.75 807.87h0M600.24 777.43h0M630.4 800.83h0" stroke="#403ab0" stroke-width="0.9" stroke-linecap="round" stroke-opacity="0.7"/>
<path d="M611.11 800.88h0M601 787.62h0M599.91 781.62h0M598.96 797.16h0M615.17 806.83h0M619.56 804.59h0M600.31 793.74h0M597.35 783.29h0M608.96 809.87h0M600.85 809.09h0M599.81 781.58h0M619.14 804.32h0" stroke="#403ab0" stroke-width="1.3" stroke-linecap="round" stroke-opacity="0.7"/>
<path d="M621.73 798.07h0M597.93 790.08h0M597.19 809.26h0M613.95 805.59h0M617.56 803.3h0M607.19 799h0M614.4 777.6h0M603.06 802.53h0" stroke="#403ab0" stroke-width="1.5" stroke-linecap="round" stroke-opacity="0.7"/>
<path d="M599.42 789.59h0M618.3 795.42h0M605.99 784.1h0M596.57 782.85h0" stroke="#403ab0" stroke-width="1.1" stroke-linecap="round" stroke-opacity="0.7"/>
<path d="M596.67 822.73h0M616.34 801.01h0" stroke="#403ab0" stroke-width="1.7" stroke-linecap="round" stroke-opacity="0.85"/>
<path d="M638.96 803.56h0M569.4 799.5h0M633.94 808.41h0M640.61 817.13h0" stroke="#403ab0" stroke-width="2.1" stroke-linecap="round" stroke-opacity="0.85"/>
<path d="M610.21 808.52h0M597.2 753.4h0" stroke="#403ab0" stroke-width="1.9" stroke-linecap="round" stroke-opacity="0.85"/>
<path d="M590.77 822.98h0M601.57 827.74h0" stroke="#403ab0" stroke-width="2.3" stroke-linecap="round" stroke-opacity="0.85"/>
<text x="91.2" y="865.8" font-size="10.4" font-weight="bold" fill="#555" text-anchor="middle">NC</text>
<text x="195.6" y="865.8" font-size="10.4" font-weight="bold" fill="#555" text-anchor="middle">TRIB3-KD 1</text>
<text x="300.6" y="865.8" font-size="10.4" font-weight="bold" fill="#555" text-anchor="middle">TRIB3-KD 2</text>
<text x="404.9" y="865.8" font-size="10.4" font-weight="bold" fill="#555" text-anchor="middle">NC</text>
<text x="510" y="865.8" font-size="10.4" font-weight="bold" fill="#555" text-anchor="middle">TRIB3-KD 1</text>
<text x="614.3" y="865.8" font-size="10.4" font-weight="bold" fill="#555" text-anchor="middle">TRIB3-KD 2</text>
<line x1="36.8" y1="873.4" x2="343" y2="873.4" stroke="#888" stroke-width="1.3"/>
<line x1="360.8" y1="872.7" x2="667.8" y2="872.7" stroke="#888" stroke-width="1.3"/>
<text x="198.6" y="893.2" font-size="14" font-weight="bold" fill="#555" text-anchor="middle">LNCaP</text>
<text x="508.2" y="893.2" font-size="14" font-weight="bold" fill="#555" text-anchor="middle">PC3</text>
</svg>
</body></html>
